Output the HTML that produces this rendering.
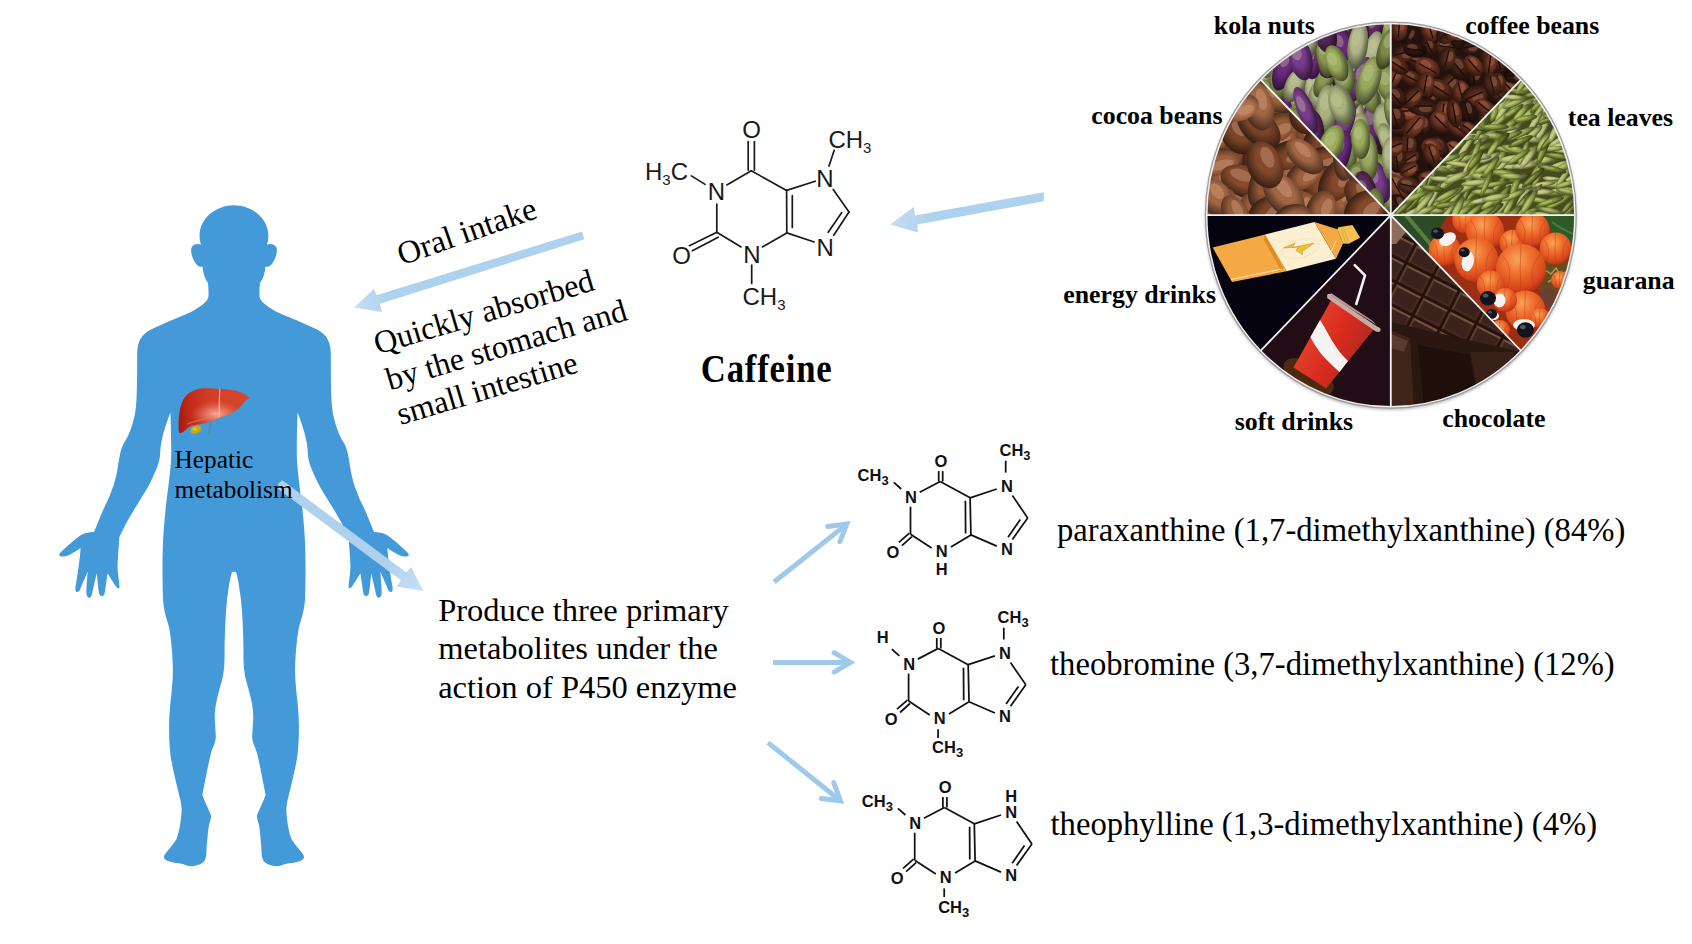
<!DOCTYPE html>
<html><head><meta charset="utf-8"><title>Caffeine metabolism</title>
<style>
html,body{margin:0;padding:0;background:#fff;}
body{width:1692px;height:944px;overflow:hidden;position:relative;}
svg text{font-family:"Liberation Serif",serif;}
.sans{font-family:"Liberation Sans",sans-serif !important;}
</style></head><body>

<svg width="1692" height="944" viewBox="0 0 1692 944" style="position:absolute;left:0;top:0">
<defs>
<linearGradient id="arrG" x1="0" y1="0" x2="1" y2="0"><stop offset="0" stop-color="#c4def3"/><stop offset="0.15" stop-color="#aed1ee"/><stop offset="1" stop-color="#aed1ee"/></linearGradient>
</defs>
<g fill="#449ad9"><path d="M 234.5 205.3
C 215 205.3, 200 219, 199.6 235
C 199.5 239, 200.2 242, 201 244.5
C 198 243.5, 193.5 243.5, 191.5 247.5
C 190 252, 193 261, 197 265
C 199 267, 201.5 267, 202.5 266.5
C 203 273, 205 279, 208 283
C 208.5 288, 208.8 294, 208.3 297.5
C 207 302, 200 307, 192 311.6
C 178 318, 162 324, 150 330
C 141 335, 137.5 342, 137.2 353
C 137 375, 137.5 400, 135 414
C 132 428, 128 437, 124 443
C 120 450, 119 460, 118 466
C 116 480, 112 492, 104 508
C 100 517, 97 525, 94 532
C 90 532.5, 85 532.5, 81 535
C 74 540, 65 548, 60 553
C 58 555.5, 60 557, 64 556.5
C 70 555.5, 76 551, 80.6 548
C 80 558, 78 572, 76 584
C 75 588, 75 592, 77 592.1
C 79 592, 80 590, 81 587
L 87.8 571.4
C 87 580, 86 589, 86.5 594
C 87 598, 90 599, 91.4 596
C 93 590, 95 580, 96.8 573.2
C 97.5 580, 98 588, 99 593
C 100 597, 103 597, 104.5 594
C 105.5 588, 106.5 580, 107.6 573.2
C 110 577, 113.5 583, 116 586.5
C 117.5 588.5, 119.5 589, 119.5 587
C 119 580, 117.5 572, 117.5 566
C 118 555, 119 545, 119.3 537.2
C 124 527, 130 516, 137 505
C 143 495, 149 486, 152 479
C 156 470, 159.5 463, 160 455
C 160.5 448, 161 443, 162 439
C 164 430, 167.5 420, 170.4 412.5
C 171 430, 171.5 450, 171 460
C 170.5 470, 168 490, 166 505
C 164.5 520, 163 535, 162.8 548
C 162.2 565, 162.5 585, 163 600
C 164 612, 167 620, 169 627
C 171.5 640, 173 660, 172.9 672.5
C 172.8 680, 172 687, 171.5 693
C 170 705, 169 718, 169.1 728
C 169 740, 170 752, 171 758.6
C 174 775, 178 790, 180.5 800.5
C 181.5 806, 182 811, 181.4 814
C 180.5 825, 179 832, 176.7 838.7
C 173 845, 168 850, 165.2 854
C 163.5 856, 163.5 858.5, 166 860
C 169 862, 175 863, 180.5 863.4
C 185 864, 188 866.5, 192 866.3
C 196 866, 200 864.5, 203 862.5
C 206 860, 206.5 855, 206.5 850
C 207 842, 208 830, 209 825
C 210 821, 211.5 818, 211 815.5
C 209 810, 204 800, 202.4 794.8
C 205 782, 208 765, 211 753
C 213 747, 216 742, 215.8 736
C 215.5 728, 214.5 720, 214.8 715
C 215 710, 215.5 707, 216 704
C 217 698, 218.5 693, 219.5 689
C 222.5 680, 224.5 670, 224.5 660
C 224.5 640, 225 620, 227 600
C 228.5 588, 230 578, 232 572
L 234.5 571.5 Z"/><path d="M 234.5 205.3
C 215 205.3, 200 219, 199.6 235
C 199.5 239, 200.2 242, 201 244.5
C 198 243.5, 193.5 243.5, 191.5 247.5
C 190 252, 193 261, 197 265
C 199 267, 201.5 267, 202.5 266.5
C 203 273, 205 279, 208 283
C 208.5 288, 208.8 294, 208.3 297.5
C 207 302, 200 307, 192 311.6
C 178 318, 162 324, 150 330
C 141 335, 137.5 342, 137.2 353
C 137 375, 137.5 400, 135 414
C 132 428, 128 437, 124 443
C 120 450, 119 460, 118 466
C 116 480, 112 492, 104 508
C 100 517, 97 525, 94 532
C 90 532.5, 85 532.5, 81 535
C 74 540, 65 548, 60 553
C 58 555.5, 60 557, 64 556.5
C 70 555.5, 76 551, 80.6 548
C 80 558, 78 572, 76 584
C 75 588, 75 592, 77 592.1
C 79 592, 80 590, 81 587
L 87.8 571.4
C 87 580, 86 589, 86.5 594
C 87 598, 90 599, 91.4 596
C 93 590, 95 580, 96.8 573.2
C 97.5 580, 98 588, 99 593
C 100 597, 103 597, 104.5 594
C 105.5 588, 106.5 580, 107.6 573.2
C 110 577, 113.5 583, 116 586.5
C 117.5 588.5, 119.5 589, 119.5 587
C 119 580, 117.5 572, 117.5 566
C 118 555, 119 545, 119.3 537.2
C 124 527, 130 516, 137 505
C 143 495, 149 486, 152 479
C 156 470, 159.5 463, 160 455
C 160.5 448, 161 443, 162 439
C 164 430, 167.5 420, 170.4 412.5
C 171 430, 171.5 450, 171 460
C 170.5 470, 168 490, 166 505
C 164.5 520, 163 535, 162.8 548
C 162.2 565, 162.5 585, 163 600
C 164 612, 167 620, 169 627
C 171.5 640, 173 660, 172.9 672.5
C 172.8 680, 172 687, 171.5 693
C 170 705, 169 718, 169.1 728
C 169 740, 170 752, 171 758.6
C 174 775, 178 790, 180.5 800.5
C 181.5 806, 182 811, 181.4 814
C 180.5 825, 179 832, 176.7 838.7
C 173 845, 168 850, 165.2 854
C 163.5 856, 163.5 858.5, 166 860
C 169 862, 175 863, 180.5 863.4
C 185 864, 188 866.5, 192 866.3
C 196 866, 200 864.5, 203 862.5
C 206 860, 206.5 855, 206.5 850
C 207 842, 208 830, 209 825
C 210 821, 211.5 818, 211 815.5
C 209 810, 204 800, 202.4 794.8
C 205 782, 208 765, 211 753
C 213 747, 216 742, 215.8 736
C 215.5 728, 214.5 720, 214.8 715
C 215 710, 215.5 707, 216 704
C 217 698, 218.5 693, 219.5 689
C 222.5 680, 224.5 670, 224.5 660
C 224.5 640, 225 620, 227 600
C 228.5 588, 230 578, 232 572
L 234.5 571.5 Z" transform="translate(468,0) scale(-1,1)"/></g>
<defs>
<linearGradient id="livG" x1="178" y1="0" x2="250" y2="0" gradientUnits="userSpaceOnUse">
<stop offset="0" stop-color="#a8180c"/><stop offset="0.18" stop-color="#c42c1a"/><stop offset="0.5" stop-color="#d4412a"/><stop offset="1" stop-color="#d64628"/></linearGradient>
<radialGradient id="livH" cx="216" cy="414" r="17" gradientUnits="userSpaceOnUse" gradientTransform="translate(216 414) scale(1.5 0.8) translate(-216 -414)">
<stop offset="0" stop-color="#f8b0a0" stop-opacity="0.95"/><stop offset="0.5" stop-color="#ee8a74" stop-opacity="0.55"/><stop offset="1" stop-color="#e06850" stop-opacity="0"/></radialGradient>
</defs>
<g>
<ellipse cx="195.8" cy="429.6" rx="5.8" ry="4" transform="rotate(-25 195.8 429.6)" fill="#c4a808"/>
<ellipse cx="194.8" cy="429" rx="2.5" ry="1.8" fill="#e8d040" opacity="0.7"/>
<path d="M179 432.8 C178 424 178.5 410 183 400 C187 393 194 389.5 202 388.3 C210 387.8 226 389 234 390.3 C240 391.5 246 394.5 249.5 398.1 C248.5 399.5 247 400 246.3 399.7 C243 404 240 407.5 236.8 409.9 C231 413.5 226 415.5 221 417.5 C214 420 210 421.5 205 423.2 C199 424.5 194 425 191 425.8 C188 427.5 186 430 183 432 C181.5 433 180 433.2 179 432.8 Z" fill="url(#livG)"/>
<path d="M179 432.8 C178 424 178.5 410 183 400 C187 393 194 389.5 202 388.3 C210 387.8 226 389 234 390.3 C240 391.5 246 394.5 249.5 398.1 C248.5 399.5 247 400 246.3 399.7 C243 404 240 407.5 236.8 409.9 C231 413.5 226 415.5 221 417.5 C214 420 210 421.5 205 423.2 C199 424.5 194 425 191 425.8 C188 427.5 186 430 183 432 C181.5 433 180 433.2 179 432.8 Z" fill="url(#livH)"/>
<path d="M187 424 C195 421 205 419 214 416" stroke="#e87a5a" stroke-width="1.2" fill="none" opacity="0.6"/>
<line x1="219.6" y1="389.3" x2="219.2" y2="417.2" stroke="#e6c4bc" stroke-width="1.1"/>
<path d="M211.3 421.5 C210.5 426 209.5 430 208.3 434" stroke="#708060" stroke-width="0.9" fill="none"/>
</g>
<defs><linearGradient id="gA1" x1="890" y1="226" x2="930" y2="219" gradientUnits="userSpaceOnUse"><stop offset="0" stop-color="#c4ddf2"/><stop offset="1" stop-color="#aed1ee"/></linearGradient><linearGradient id="gA2" x1="356" y1="308" x2="392" y2="296" gradientUnits="userSpaceOnUse"><stop offset="0" stop-color="#c4ddf2"/><stop offset="1" stop-color="#aed1ee"/></linearGradient><linearGradient id="gA3" x1="420" y1="589" x2="385" y2="563" gradientUnits="userSpaceOnUse"><stop offset="0" stop-color="#c6dff3"/><stop offset="1" stop-color="#afd1ee"/></linearGradient></defs>
<polygon fill="url(#gA1)" points="1043.8,192.2 1043.8,201.3 917.3,224.4 917.9,232.6 890.1,224.6 913.7,206.9 914.9,215.5"/>
<polygon fill="url(#gA2)" points="582,231.5 584.3,239.2 380,303.7 381.8,311.9 354.1,307.6 374.1,288.8 376.6,295.3"/>
<polygon fill="url(#gA3)" points="282.4,480.3 406.4,572.6 411.2,567.1 423.2,591 396.7,586.4 400.9,580.2 277.5,488.5 278.5,483.5"/>
<g stroke="#9ec9eb" stroke-width="5" fill="none">
<line x1="774.1" y1="582" x2="846.8" y2="524.1"/><polyline points="827.9,526.6 846.8,524.1 839.9,541.7" stroke-linecap="round" stroke-linejoin="miter"/>
<line x1="773" y1="662.4" x2="850.5" y2="662.4"/><polyline points="834.1,652.7 850.5,662.4 834.1,672.1" stroke-linecap="round" stroke-linejoin="miter"/>
<line x1="768" y1="742.6" x2="840.4" y2="800.8"/><polyline points="833.8,782.7 840.4,800.8 821.2,798.4" stroke-linecap="round" stroke-linejoin="miter"/>
</g>
<defs>
<clipPath id="cp_coffee"><path d="M1390.8,215.2 L1390.80,23.50 A184.1,191.7 0 0 1 1520.98,79.65 Z"/></clipPath>
<clipPath id="cp_tea"><path d="M1390.8,215.2 L1520.98,79.65 A184.1,191.7 0 0 1 1574.90,215.20 Z"/></clipPath>
<clipPath id="cp_guarana"><path d="M1390.8,215.2 L1574.90,215.20 A184.1,191.7 0 0 1 1520.98,350.75 Z"/></clipPath>
<clipPath id="cp_choc"><path d="M1390.8,215.2 L1520.98,350.75 A184.1,191.7 0 0 1 1390.80,406.90 Z"/></clipPath>
<clipPath id="cp_soft"><path d="M1390.8,215.2 L1390.80,406.90 A184.1,191.7 0 0 1 1260.62,350.75 Z"/></clipPath>
<clipPath id="cp_energy"><path d="M1390.8,215.2 L1260.62,350.75 A184.1,191.7 0 0 1 1206.70,215.20 Z"/></clipPath>
<clipPath id="cp_cocoa"><path d="M1390.8,215.2 L1206.70,215.20 A184.1,191.7 0 0 1 1260.62,79.65 Z"/></clipPath>
<clipPath id="cp_kola"><path d="M1390.8,215.2 L1260.62,79.65 A184.1,191.7 0 0 1 1390.80,23.50 Z"/></clipPath>
<radialGradient id="shadeG" cx="0.42" cy="0.4" r="0.6"><stop offset="0.45" stop-color="#000" stop-opacity="0"/><stop offset="1" stop-color="#000" stop-opacity="0.55"/></radialGradient>
<filter id="pshadow" x="-10%" y="-10%" width="120%" height="120%"><feGaussianBlur stdDeviation="1.5"/></filter>
</defs>
<ellipse cx="1390.8" cy="216.7" rx="185.6" ry="193.2" fill="#bdbdbd" filter="url(#pshadow)"/>
<g clip-path="url(#cp_coffee)">
<rect x="1385.8" y="18.5" width="194.1" height="201.7" fill="#24120c"/>
<ellipse cx="1455.1" cy="148.9" rx="9.8" ry="7.4" transform="rotate(35 1455.1 148.9)" fill="#7a3e28"/>
<ellipse cx="1455.1" cy="148.9" rx="9.8" ry="7.4" transform="rotate(35 1455.1 148.9)" fill="url(#shadeG)"/>
<ellipse cx="1452.7" cy="146.7" rx="4.4" ry="2.6" transform="rotate(35 1455.1 148.9)" fill="#c08060" opacity="0.35"/>
<line x1="1447.7" y1="148.9" x2="1462.5" y2="148.9" transform="rotate(35 1455.1 148.9)" stroke="#1c0c06" stroke-width="1.3"/>
<ellipse cx="1417.4" cy="62.1" rx="10.3" ry="8.5" transform="rotate(21 1417.4 62.1)" fill="#3e1e14"/>
<ellipse cx="1417.4" cy="62.1" rx="10.3" ry="8.5" transform="rotate(21 1417.4 62.1)" fill="url(#shadeG)"/>
<ellipse cx="1414.8" cy="59.5" rx="4.6" ry="3.0" transform="rotate(21 1417.4 62.1)" fill="#c08060" opacity="0.35"/>
<line x1="1409.7" y1="62.1" x2="1425.1" y2="62.1" transform="rotate(21 1417.4 62.1)" stroke="#1c0c06" stroke-width="1.3"/>
<ellipse cx="1396.1" cy="177.0" rx="10.5" ry="8.5" transform="rotate(33 1396.1 177.0)" fill="#7a3e28"/>
<ellipse cx="1396.1" cy="177.0" rx="10.5" ry="8.5" transform="rotate(33 1396.1 177.0)" fill="url(#shadeG)"/>
<ellipse cx="1393.5" cy="174.5" rx="4.7" ry="3.0" transform="rotate(33 1396.1 177.0)" fill="#c08060" opacity="0.35"/>
<line x1="1388.2" y1="177.0" x2="1404.0" y2="177.0" transform="rotate(33 1396.1 177.0)" stroke="#1c0c06" stroke-width="1.3"/>
<ellipse cx="1437.8" cy="197.4" rx="10.4" ry="9.5" transform="rotate(143 1437.8 197.4)" fill="#5a2a1a"/>
<ellipse cx="1437.8" cy="197.4" rx="10.4" ry="9.5" transform="rotate(143 1437.8 197.4)" fill="url(#shadeG)"/>
<ellipse cx="1435.2" cy="194.5" rx="4.7" ry="3.3" transform="rotate(143 1437.8 197.4)" fill="#c08060" opacity="0.35"/>
<line x1="1430.0" y1="197.4" x2="1445.6" y2="197.4" transform="rotate(143 1437.8 197.4)" stroke="#1c0c06" stroke-width="1.3"/>
<ellipse cx="1481.3" cy="94.3" rx="10.5" ry="6.8" transform="rotate(103 1481.3 94.3)" fill="#3e1e14"/>
<ellipse cx="1481.3" cy="94.3" rx="10.5" ry="6.8" transform="rotate(103 1481.3 94.3)" fill="url(#shadeG)"/>
<ellipse cx="1478.7" cy="92.2" rx="4.7" ry="2.4" transform="rotate(103 1481.3 94.3)" fill="#c08060" opacity="0.35"/>
<line x1="1473.5" y1="94.3" x2="1489.2" y2="94.3" transform="rotate(103 1481.3 94.3)" stroke="#1c0c06" stroke-width="1.3"/>
<ellipse cx="1447.0" cy="46.8" rx="10.9" ry="10.0" transform="rotate(7 1447.0 46.8)" fill="#4e2a1c"/>
<ellipse cx="1447.0" cy="46.8" rx="10.9" ry="10.0" transform="rotate(7 1447.0 46.8)" fill="url(#shadeG)"/>
<ellipse cx="1444.3" cy="43.8" rx="4.9" ry="3.5" transform="rotate(7 1447.0 46.8)" fill="#c08060" opacity="0.35"/>
<line x1="1438.8" y1="46.8" x2="1455.1" y2="46.8" transform="rotate(7 1447.0 46.8)" stroke="#1c0c06" stroke-width="1.3"/>
<ellipse cx="1427.6" cy="68.2" rx="13.1" ry="9.9" transform="rotate(29 1427.6 68.2)" fill="#6e3422"/>
<ellipse cx="1427.6" cy="68.2" rx="13.1" ry="9.9" transform="rotate(29 1427.6 68.2)" fill="url(#shadeG)"/>
<ellipse cx="1424.3" cy="65.3" rx="5.9" ry="3.5" transform="rotate(29 1427.6 68.2)" fill="#c08060" opacity="0.35"/>
<line x1="1417.8" y1="68.2" x2="1437.4" y2="68.2" transform="rotate(29 1427.6 68.2)" stroke="#1c0c06" stroke-width="1.3"/>
<ellipse cx="1408.3" cy="35.6" rx="10.6" ry="7.3" transform="rotate(115 1408.3 35.6)" fill="#2e1610"/>
<ellipse cx="1408.3" cy="35.6" rx="10.6" ry="7.3" transform="rotate(115 1408.3 35.6)" fill="url(#shadeG)"/>
<ellipse cx="1405.7" cy="33.4" rx="4.7" ry="2.6" transform="rotate(115 1408.3 35.6)" fill="#c08060" opacity="0.35"/>
<line x1="1400.4" y1="35.6" x2="1416.2" y2="35.6" transform="rotate(115 1408.3 35.6)" stroke="#1c0c06" stroke-width="1.3"/>
<ellipse cx="1397.0" cy="187.5" rx="14.1" ry="9.7" transform="rotate(60 1397.0 187.5)" fill="#7a3e28"/>
<ellipse cx="1397.0" cy="187.5" rx="14.1" ry="9.7" transform="rotate(60 1397.0 187.5)" fill="url(#shadeG)"/>
<ellipse cx="1393.5" cy="184.6" rx="6.3" ry="3.4" transform="rotate(60 1397.0 187.5)" fill="#c08060" opacity="0.35"/>
<line x1="1386.4" y1="187.5" x2="1407.6" y2="187.5" transform="rotate(60 1397.0 187.5)" stroke="#1c0c06" stroke-width="1.3"/>
<ellipse cx="1439.7" cy="147.5" rx="12.4" ry="7.8" transform="rotate(57 1439.7 147.5)" fill="#3e1e14"/>
<ellipse cx="1439.7" cy="147.5" rx="12.4" ry="7.8" transform="rotate(57 1439.7 147.5)" fill="url(#shadeG)"/>
<ellipse cx="1436.7" cy="145.1" rx="5.6" ry="2.7" transform="rotate(57 1439.7 147.5)" fill="#c08060" opacity="0.35"/>
<line x1="1430.5" y1="147.5" x2="1449.0" y2="147.5" transform="rotate(57 1439.7 147.5)" stroke="#1c0c06" stroke-width="1.3"/>
<ellipse cx="1407.3" cy="145.9" rx="11.6" ry="9.5" transform="rotate(93 1407.3 145.9)" fill="#4e2a1c"/>
<ellipse cx="1407.3" cy="145.9" rx="11.6" ry="9.5" transform="rotate(93 1407.3 145.9)" fill="url(#shadeG)"/>
<ellipse cx="1404.4" cy="143.1" rx="5.2" ry="3.3" transform="rotate(93 1407.3 145.9)" fill="#c08060" opacity="0.35"/>
<line x1="1398.5" y1="145.9" x2="1416.0" y2="145.9" transform="rotate(93 1407.3 145.9)" stroke="#1c0c06" stroke-width="1.3"/>
<ellipse cx="1469.4" cy="169.4" rx="13.0" ry="6.8" transform="rotate(165 1469.4 169.4)" fill="#5a2a1a"/>
<ellipse cx="1469.4" cy="169.4" rx="13.0" ry="6.8" transform="rotate(165 1469.4 169.4)" fill="url(#shadeG)"/>
<ellipse cx="1466.2" cy="167.3" rx="5.9" ry="2.4" transform="rotate(165 1469.4 169.4)" fill="#c08060" opacity="0.35"/>
<line x1="1459.6" y1="169.4" x2="1479.2" y2="169.4" transform="rotate(165 1469.4 169.4)" stroke="#1c0c06" stroke-width="1.3"/>
<ellipse cx="1442.9" cy="113.8" rx="13.6" ry="9.5" transform="rotate(95 1442.9 113.8)" fill="#6e3422"/>
<ellipse cx="1442.9" cy="113.8" rx="13.6" ry="9.5" transform="rotate(95 1442.9 113.8)" fill="url(#shadeG)"/>
<ellipse cx="1439.5" cy="110.9" rx="6.1" ry="3.3" transform="rotate(95 1442.9 113.8)" fill="#c08060" opacity="0.35"/>
<line x1="1432.8" y1="113.8" x2="1453.1" y2="113.8" transform="rotate(95 1442.9 113.8)" stroke="#1c0c06" stroke-width="1.3"/>
<ellipse cx="1440.6" cy="121.7" rx="11.7" ry="9.9" transform="rotate(45 1440.6 121.7)" fill="#6e3422"/>
<ellipse cx="1440.6" cy="121.7" rx="11.7" ry="9.9" transform="rotate(45 1440.6 121.7)" fill="url(#shadeG)"/>
<ellipse cx="1437.7" cy="118.7" rx="5.3" ry="3.5" transform="rotate(45 1440.6 121.7)" fill="#c08060" opacity="0.35"/>
<line x1="1431.8" y1="121.7" x2="1449.4" y2="121.7" transform="rotate(45 1440.6 121.7)" stroke="#1c0c06" stroke-width="1.3"/>
<ellipse cx="1461.7" cy="174.0" rx="10.0" ry="9.9" transform="rotate(23 1461.7 174.0)" fill="#64301e"/>
<ellipse cx="1461.7" cy="174.0" rx="10.0" ry="9.9" transform="rotate(23 1461.7 174.0)" fill="url(#shadeG)"/>
<ellipse cx="1459.2" cy="171.0" rx="4.5" ry="3.5" transform="rotate(23 1461.7 174.0)" fill="#c08060" opacity="0.35"/>
<line x1="1454.2" y1="174.0" x2="1469.2" y2="174.0" transform="rotate(23 1461.7 174.0)" stroke="#1c0c06" stroke-width="1.3"/>
<ellipse cx="1423.4" cy="203.1" rx="13.8" ry="6.8" transform="rotate(157 1423.4 203.1)" fill="#6e3422"/>
<ellipse cx="1423.4" cy="203.1" rx="13.8" ry="6.8" transform="rotate(157 1423.4 203.1)" fill="url(#shadeG)"/>
<ellipse cx="1419.9" cy="201.1" rx="6.2" ry="2.4" transform="rotate(157 1423.4 203.1)" fill="#c08060" opacity="0.35"/>
<line x1="1413.0" y1="203.1" x2="1433.7" y2="203.1" transform="rotate(157 1423.4 203.1)" stroke="#1c0c06" stroke-width="1.3"/>
<ellipse cx="1527.1" cy="194.8" rx="12.0" ry="9.3" transform="rotate(111 1527.1 194.8)" fill="#5a2a1a"/>
<ellipse cx="1527.1" cy="194.8" rx="12.0" ry="9.3" transform="rotate(111 1527.1 194.8)" fill="url(#shadeG)"/>
<ellipse cx="1524.1" cy="192.0" rx="5.4" ry="3.3" transform="rotate(111 1527.1 194.8)" fill="#c08060" opacity="0.35"/>
<line x1="1518.1" y1="194.8" x2="1536.1" y2="194.8" transform="rotate(111 1527.1 194.8)" stroke="#1c0c06" stroke-width="1.3"/>
<ellipse cx="1403.6" cy="52.9" rx="12.6" ry="8.9" transform="rotate(166 1403.6 52.9)" fill="#4e2a1c"/>
<ellipse cx="1403.6" cy="52.9" rx="12.6" ry="8.9" transform="rotate(166 1403.6 52.9)" fill="url(#shadeG)"/>
<ellipse cx="1400.5" cy="50.2" rx="5.6" ry="3.1" transform="rotate(166 1403.6 52.9)" fill="#c08060" opacity="0.35"/>
<line x1="1394.2" y1="52.9" x2="1413.1" y2="52.9" transform="rotate(166 1403.6 52.9)" stroke="#1c0c06" stroke-width="1.3"/>
<ellipse cx="1471.0" cy="158.7" rx="13.4" ry="8.7" transform="rotate(32 1471.0 158.7)" fill="#4e2a1c"/>
<ellipse cx="1471.0" cy="158.7" rx="13.4" ry="8.7" transform="rotate(32 1471.0 158.7)" fill="url(#shadeG)"/>
<ellipse cx="1467.7" cy="156.1" rx="6.0" ry="3.0" transform="rotate(32 1471.0 158.7)" fill="#c08060" opacity="0.35"/>
<line x1="1461.0" y1="158.7" x2="1481.1" y2="158.7" transform="rotate(32 1471.0 158.7)" stroke="#1c0c06" stroke-width="1.3"/>
<ellipse cx="1407.1" cy="160.1" rx="13.4" ry="7.4" transform="rotate(148 1407.1 160.1)" fill="#5a2a1a"/>
<ellipse cx="1407.1" cy="160.1" rx="13.4" ry="7.4" transform="rotate(148 1407.1 160.1)" fill="url(#shadeG)"/>
<ellipse cx="1403.8" cy="157.9" rx="6.0" ry="2.6" transform="rotate(148 1407.1 160.1)" fill="#c08060" opacity="0.35"/>
<line x1="1397.1" y1="160.1" x2="1417.1" y2="160.1" transform="rotate(148 1407.1 160.1)" stroke="#1c0c06" stroke-width="1.3"/>
<ellipse cx="1489.4" cy="147.9" rx="14.4" ry="8.5" transform="rotate(69 1489.4 147.9)" fill="#64301e"/>
<ellipse cx="1489.4" cy="147.9" rx="14.4" ry="8.5" transform="rotate(69 1489.4 147.9)" fill="url(#shadeG)"/>
<ellipse cx="1485.8" cy="145.3" rx="6.5" ry="3.0" transform="rotate(69 1489.4 147.9)" fill="#c08060" opacity="0.35"/>
<line x1="1478.6" y1="147.9" x2="1500.2" y2="147.9" transform="rotate(69 1489.4 147.9)" stroke="#1c0c06" stroke-width="1.3"/>
<ellipse cx="1526.6" cy="52.0" rx="13.7" ry="9.2" transform="rotate(156 1526.6 52.0)" fill="#7a3e28"/>
<ellipse cx="1526.6" cy="52.0" rx="13.7" ry="9.2" transform="rotate(156 1526.6 52.0)" fill="url(#shadeG)"/>
<ellipse cx="1523.2" cy="49.2" rx="6.2" ry="3.2" transform="rotate(156 1526.6 52.0)" fill="#c08060" opacity="0.35"/>
<line x1="1516.3" y1="52.0" x2="1536.9" y2="52.0" transform="rotate(156 1526.6 52.0)" stroke="#1c0c06" stroke-width="1.3"/>
<ellipse cx="1489.0" cy="53.2" rx="10.7" ry="8.0" transform="rotate(126 1489.0 53.2)" fill="#5a2a1a"/>
<ellipse cx="1489.0" cy="53.2" rx="10.7" ry="8.0" transform="rotate(126 1489.0 53.2)" fill="url(#shadeG)"/>
<ellipse cx="1486.3" cy="50.8" rx="4.8" ry="2.8" transform="rotate(126 1489.0 53.2)" fill="#c08060" opacity="0.35"/>
<line x1="1481.0" y1="53.2" x2="1497.0" y2="53.2" transform="rotate(126 1489.0 53.2)" stroke="#1c0c06" stroke-width="1.3"/>
<ellipse cx="1533.8" cy="178.5" rx="13.2" ry="9.0" transform="rotate(89 1533.8 178.5)" fill="#6e3422"/>
<ellipse cx="1533.8" cy="178.5" rx="13.2" ry="9.0" transform="rotate(89 1533.8 178.5)" fill="url(#shadeG)"/>
<ellipse cx="1530.4" cy="175.8" rx="6.0" ry="3.1" transform="rotate(89 1533.8 178.5)" fill="#c08060" opacity="0.35"/>
<line x1="1523.8" y1="178.5" x2="1543.7" y2="178.5" transform="rotate(89 1533.8 178.5)" stroke="#1c0c06" stroke-width="1.3"/>
<ellipse cx="1488.5" cy="28.5" rx="11.7" ry="7.0" transform="rotate(56 1488.5 28.5)" fill="#4e2a1c"/>
<ellipse cx="1488.5" cy="28.5" rx="11.7" ry="7.0" transform="rotate(56 1488.5 28.5)" fill="url(#shadeG)"/>
<ellipse cx="1485.6" cy="26.4" rx="5.3" ry="2.5" transform="rotate(56 1488.5 28.5)" fill="#c08060" opacity="0.35"/>
<line x1="1479.7" y1="28.5" x2="1497.3" y2="28.5" transform="rotate(56 1488.5 28.5)" stroke="#1c0c06" stroke-width="1.3"/>
<ellipse cx="1498.5" cy="60.1" rx="13.0" ry="6.9" transform="rotate(79 1498.5 60.1)" fill="#4e2a1c"/>
<ellipse cx="1498.5" cy="60.1" rx="13.0" ry="6.9" transform="rotate(79 1498.5 60.1)" fill="url(#shadeG)"/>
<ellipse cx="1495.3" cy="58.0" rx="5.8" ry="2.4" transform="rotate(79 1498.5 60.1)" fill="#c08060" opacity="0.35"/>
<line x1="1488.8" y1="60.1" x2="1508.2" y2="60.1" transform="rotate(79 1498.5 60.1)" stroke="#1c0c06" stroke-width="1.3"/>
<ellipse cx="1429.4" cy="47.1" rx="9.8" ry="7.0" transform="rotate(63 1429.4 47.1)" fill="#3e1e14"/>
<ellipse cx="1429.4" cy="47.1" rx="9.8" ry="7.0" transform="rotate(63 1429.4 47.1)" fill="url(#shadeG)"/>
<ellipse cx="1427.0" cy="45.0" rx="4.4" ry="2.5" transform="rotate(63 1429.4 47.1)" fill="#c08060" opacity="0.35"/>
<line x1="1422.1" y1="47.1" x2="1436.8" y2="47.1" transform="rotate(63 1429.4 47.1)" stroke="#1c0c06" stroke-width="1.3"/>
<ellipse cx="1503.2" cy="148.4" rx="14.2" ry="7.0" transform="rotate(103 1503.2 148.4)" fill="#64301e"/>
<ellipse cx="1503.2" cy="148.4" rx="14.2" ry="7.0" transform="rotate(103 1503.2 148.4)" fill="url(#shadeG)"/>
<ellipse cx="1499.6" cy="146.3" rx="6.4" ry="2.4" transform="rotate(103 1503.2 148.4)" fill="#c08060" opacity="0.35"/>
<line x1="1492.5" y1="148.4" x2="1513.9" y2="148.4" transform="rotate(103 1503.2 148.4)" stroke="#1c0c06" stroke-width="1.3"/>
<ellipse cx="1497.6" cy="175.5" rx="11.4" ry="7.6" transform="rotate(147 1497.6 175.5)" fill="#64301e"/>
<ellipse cx="1497.6" cy="175.5" rx="11.4" ry="7.6" transform="rotate(147 1497.6 175.5)" fill="url(#shadeG)"/>
<ellipse cx="1494.7" cy="173.2" rx="5.1" ry="2.6" transform="rotate(147 1497.6 175.5)" fill="#c08060" opacity="0.35"/>
<line x1="1489.0" y1="175.5" x2="1506.2" y2="175.5" transform="rotate(147 1497.6 175.5)" stroke="#1c0c06" stroke-width="1.3"/>
<ellipse cx="1457.7" cy="127.8" rx="13.6" ry="7.5" transform="rotate(39 1457.7 127.8)" fill="#6e3422"/>
<ellipse cx="1457.7" cy="127.8" rx="13.6" ry="7.5" transform="rotate(39 1457.7 127.8)" fill="url(#shadeG)"/>
<ellipse cx="1454.3" cy="125.5" rx="6.1" ry="2.6" transform="rotate(39 1457.7 127.8)" fill="#c08060" opacity="0.35"/>
<line x1="1447.5" y1="127.8" x2="1467.9" y2="127.8" transform="rotate(39 1457.7 127.8)" stroke="#1c0c06" stroke-width="1.3"/>
<ellipse cx="1474.0" cy="77.7" rx="11.0" ry="9.5" transform="rotate(93 1474.0 77.7)" fill="#2e1610"/>
<ellipse cx="1474.0" cy="77.7" rx="11.0" ry="9.5" transform="rotate(93 1474.0 77.7)" fill="url(#shadeG)"/>
<ellipse cx="1471.3" cy="74.8" rx="4.9" ry="3.3" transform="rotate(93 1474.0 77.7)" fill="#c08060" opacity="0.35"/>
<line x1="1465.8" y1="77.7" x2="1482.2" y2="77.7" transform="rotate(93 1474.0 77.7)" stroke="#1c0c06" stroke-width="1.3"/>
<ellipse cx="1456.6" cy="80.3" rx="13.0" ry="8.0" transform="rotate(18 1456.6 80.3)" fill="#2e1610"/>
<ellipse cx="1456.6" cy="80.3" rx="13.0" ry="8.0" transform="rotate(18 1456.6 80.3)" fill="url(#shadeG)"/>
<ellipse cx="1453.3" cy="77.9" rx="5.9" ry="2.8" transform="rotate(18 1456.6 80.3)" fill="#c08060" opacity="0.35"/>
<line x1="1446.8" y1="80.3" x2="1466.3" y2="80.3" transform="rotate(18 1456.6 80.3)" stroke="#1c0c06" stroke-width="1.3"/>
<ellipse cx="1501.4" cy="203.7" rx="10.5" ry="8.2" transform="rotate(5 1501.4 203.7)" fill="#3e1e14"/>
<ellipse cx="1501.4" cy="203.7" rx="10.5" ry="8.2" transform="rotate(5 1501.4 203.7)" fill="url(#shadeG)"/>
<ellipse cx="1498.8" cy="201.3" rx="4.7" ry="2.9" transform="rotate(5 1501.4 203.7)" fill="#c08060" opacity="0.35"/>
<line x1="1493.5" y1="203.7" x2="1509.3" y2="203.7" transform="rotate(5 1501.4 203.7)" stroke="#1c0c06" stroke-width="1.3"/>
<ellipse cx="1466.5" cy="197.5" rx="11.4" ry="7.9" transform="rotate(107 1466.5 197.5)" fill="#6e3422"/>
<ellipse cx="1466.5" cy="197.5" rx="11.4" ry="7.9" transform="rotate(107 1466.5 197.5)" fill="url(#shadeG)"/>
<ellipse cx="1463.6" cy="195.2" rx="5.1" ry="2.8" transform="rotate(107 1466.5 197.5)" fill="#c08060" opacity="0.35"/>
<line x1="1458.0" y1="197.5" x2="1475.0" y2="197.5" transform="rotate(107 1466.5 197.5)" stroke="#1c0c06" stroke-width="1.3"/>
<ellipse cx="1460.7" cy="92.0" rx="12.0" ry="9.5" transform="rotate(75 1460.7 92.0)" fill="#6e3422"/>
<ellipse cx="1460.7" cy="92.0" rx="12.0" ry="9.5" transform="rotate(75 1460.7 92.0)" fill="url(#shadeG)"/>
<ellipse cx="1457.7" cy="89.2" rx="5.4" ry="3.3" transform="rotate(75 1460.7 92.0)" fill="#c08060" opacity="0.35"/>
<line x1="1451.6" y1="92.0" x2="1469.7" y2="92.0" transform="rotate(75 1460.7 92.0)" stroke="#1c0c06" stroke-width="1.3"/>
<ellipse cx="1474.6" cy="140.0" rx="9.9" ry="7.8" transform="rotate(78 1474.6 140.0)" fill="#64301e"/>
<ellipse cx="1474.6" cy="140.0" rx="9.9" ry="7.8" transform="rotate(78 1474.6 140.0)" fill="url(#shadeG)"/>
<ellipse cx="1472.1" cy="137.6" rx="4.5" ry="2.7" transform="rotate(78 1474.6 140.0)" fill="#c08060" opacity="0.35"/>
<line x1="1467.1" y1="140.0" x2="1482.0" y2="140.0" transform="rotate(78 1474.6 140.0)" stroke="#1c0c06" stroke-width="1.3"/>
<ellipse cx="1535.4" cy="111.0" rx="13.3" ry="9.5" transform="rotate(35 1535.4 111.0)" fill="#5a2a1a"/>
<ellipse cx="1535.4" cy="111.0" rx="13.3" ry="9.5" transform="rotate(35 1535.4 111.0)" fill="url(#shadeG)"/>
<ellipse cx="1532.1" cy="108.1" rx="6.0" ry="3.3" transform="rotate(35 1535.4 111.0)" fill="#c08060" opacity="0.35"/>
<line x1="1525.5" y1="111.0" x2="1545.3" y2="111.0" transform="rotate(35 1535.4 111.0)" stroke="#1c0c06" stroke-width="1.3"/>
<ellipse cx="1497.6" cy="107.0" rx="13.8" ry="7.1" transform="rotate(175 1497.6 107.0)" fill="#2e1610"/>
<ellipse cx="1497.6" cy="107.0" rx="13.8" ry="7.1" transform="rotate(175 1497.6 107.0)" fill="url(#shadeG)"/>
<ellipse cx="1494.2" cy="104.9" rx="6.2" ry="2.5" transform="rotate(175 1497.6 107.0)" fill="#c08060" opacity="0.35"/>
<line x1="1487.3" y1="107.0" x2="1508.0" y2="107.0" transform="rotate(175 1497.6 107.0)" stroke="#1c0c06" stroke-width="1.3"/>
<ellipse cx="1525.2" cy="92.9" rx="11.3" ry="9.3" transform="rotate(49 1525.2 92.9)" fill="#6e3422"/>
<ellipse cx="1525.2" cy="92.9" rx="11.3" ry="9.3" transform="rotate(49 1525.2 92.9)" fill="url(#shadeG)"/>
<ellipse cx="1522.4" cy="90.1" rx="5.1" ry="3.3" transform="rotate(49 1525.2 92.9)" fill="#c08060" opacity="0.35"/>
<line x1="1516.8" y1="92.9" x2="1533.7" y2="92.9" transform="rotate(49 1525.2 92.9)" stroke="#1c0c06" stroke-width="1.3"/>
<ellipse cx="1467.3" cy="29.5" rx="12.1" ry="7.8" transform="rotate(126 1467.3 29.5)" fill="#2e1610"/>
<ellipse cx="1467.3" cy="29.5" rx="12.1" ry="7.8" transform="rotate(126 1467.3 29.5)" fill="url(#shadeG)"/>
<ellipse cx="1464.3" cy="27.1" rx="5.5" ry="2.7" transform="rotate(126 1467.3 29.5)" fill="#c08060" opacity="0.35"/>
<line x1="1458.2" y1="29.5" x2="1476.4" y2="29.5" transform="rotate(126 1467.3 29.5)" stroke="#1c0c06" stroke-width="1.3"/>
<ellipse cx="1430.3" cy="29.7" rx="11.8" ry="9.4" transform="rotate(72 1430.3 29.7)" fill="#7a3e28"/>
<ellipse cx="1430.3" cy="29.7" rx="11.8" ry="9.4" transform="rotate(72 1430.3 29.7)" fill="url(#shadeG)"/>
<ellipse cx="1427.4" cy="26.9" rx="5.3" ry="3.3" transform="rotate(72 1430.3 29.7)" fill="#c08060" opacity="0.35"/>
<line x1="1421.5" y1="29.7" x2="1439.2" y2="29.7" transform="rotate(72 1430.3 29.7)" stroke="#1c0c06" stroke-width="1.3"/>
<ellipse cx="1527.5" cy="207.5" rx="11.4" ry="9.2" transform="rotate(148 1527.5 207.5)" fill="#3e1e14"/>
<ellipse cx="1527.5" cy="207.5" rx="11.4" ry="9.2" transform="rotate(148 1527.5 207.5)" fill="url(#shadeG)"/>
<ellipse cx="1524.6" cy="204.8" rx="5.1" ry="3.2" transform="rotate(148 1527.5 207.5)" fill="#c08060" opacity="0.35"/>
<line x1="1518.9" y1="207.5" x2="1536.0" y2="207.5" transform="rotate(148 1527.5 207.5)" stroke="#1c0c06" stroke-width="1.3"/>
<ellipse cx="1429.9" cy="97.7" rx="9.9" ry="7.2" transform="rotate(131 1429.9 97.7)" fill="#3e1e14"/>
<ellipse cx="1429.9" cy="97.7" rx="9.9" ry="7.2" transform="rotate(131 1429.9 97.7)" fill="url(#shadeG)"/>
<ellipse cx="1427.4" cy="95.6" rx="4.5" ry="2.5" transform="rotate(131 1429.9 97.7)" fill="#c08060" opacity="0.35"/>
<line x1="1422.4" y1="97.7" x2="1437.3" y2="97.7" transform="rotate(131 1429.9 97.7)" stroke="#1c0c06" stroke-width="1.3"/>
<ellipse cx="1489.8" cy="63.0" rx="13.3" ry="7.1" transform="rotate(98 1489.8 63.0)" fill="#6e3422"/>
<ellipse cx="1489.8" cy="63.0" rx="13.3" ry="7.1" transform="rotate(98 1489.8 63.0)" fill="url(#shadeG)"/>
<ellipse cx="1486.4" cy="60.9" rx="6.0" ry="2.5" transform="rotate(98 1489.8 63.0)" fill="#c08060" opacity="0.35"/>
<line x1="1479.8" y1="63.0" x2="1499.7" y2="63.0" transform="rotate(98 1489.8 63.0)" stroke="#1c0c06" stroke-width="1.3"/>
<ellipse cx="1411.5" cy="78.4" rx="10.7" ry="7.3" transform="rotate(28 1411.5 78.4)" fill="#5a2a1a"/>
<ellipse cx="1411.5" cy="78.4" rx="10.7" ry="7.3" transform="rotate(28 1411.5 78.4)" fill="url(#shadeG)"/>
<ellipse cx="1408.8" cy="76.2" rx="4.8" ry="2.6" transform="rotate(28 1411.5 78.4)" fill="#c08060" opacity="0.35"/>
<line x1="1403.5" y1="78.4" x2="1419.5" y2="78.4" transform="rotate(28 1411.5 78.4)" stroke="#1c0c06" stroke-width="1.3"/>
<ellipse cx="1422.1" cy="125.4" rx="10.4" ry="8.6" transform="rotate(94 1422.1 125.4)" fill="#3e1e14"/>
<ellipse cx="1422.1" cy="125.4" rx="10.4" ry="8.6" transform="rotate(94 1422.1 125.4)" fill="url(#shadeG)"/>
<ellipse cx="1419.5" cy="122.8" rx="4.7" ry="3.0" transform="rotate(94 1422.1 125.4)" fill="#c08060" opacity="0.35"/>
<line x1="1414.3" y1="125.4" x2="1429.9" y2="125.4" transform="rotate(94 1422.1 125.4)" stroke="#1c0c06" stroke-width="1.3"/>
<ellipse cx="1474.6" cy="206.4" rx="11.4" ry="9.9" transform="rotate(34 1474.6 206.4)" fill="#64301e"/>
<ellipse cx="1474.6" cy="206.4" rx="11.4" ry="9.9" transform="rotate(34 1474.6 206.4)" fill="url(#shadeG)"/>
<ellipse cx="1471.8" cy="203.5" rx="5.1" ry="3.5" transform="rotate(34 1474.6 206.4)" fill="#c08060" opacity="0.35"/>
<line x1="1466.1" y1="206.4" x2="1483.2" y2="206.4" transform="rotate(34 1474.6 206.4)" stroke="#1c0c06" stroke-width="1.3"/>
<ellipse cx="1396.6" cy="158.9" rx="13.9" ry="9.7" transform="rotate(83 1396.6 158.9)" fill="#3e1e14"/>
<ellipse cx="1396.6" cy="158.9" rx="13.9" ry="9.7" transform="rotate(83 1396.6 158.9)" fill="url(#shadeG)"/>
<ellipse cx="1393.1" cy="156.0" rx="6.2" ry="3.4" transform="rotate(83 1396.6 158.9)" fill="#c08060" opacity="0.35"/>
<line x1="1386.2" y1="158.9" x2="1407.0" y2="158.9" transform="rotate(83 1396.6 158.9)" stroke="#1c0c06" stroke-width="1.3"/>
<ellipse cx="1473.7" cy="96.0" rx="12.9" ry="9.9" transform="rotate(156 1473.7 96.0)" fill="#5a2a1a"/>
<ellipse cx="1473.7" cy="96.0" rx="12.9" ry="9.9" transform="rotate(156 1473.7 96.0)" fill="url(#shadeG)"/>
<ellipse cx="1470.5" cy="93.1" rx="5.8" ry="3.5" transform="rotate(156 1473.7 96.0)" fill="#c08060" opacity="0.35"/>
<line x1="1464.1" y1="96.0" x2="1483.4" y2="96.0" transform="rotate(156 1473.7 96.0)" stroke="#1c0c06" stroke-width="1.3"/>
<ellipse cx="1447.7" cy="84.3" rx="12.9" ry="8.9" transform="rotate(135 1447.7 84.3)" fill="#4e2a1c"/>
<ellipse cx="1447.7" cy="84.3" rx="12.9" ry="8.9" transform="rotate(135 1447.7 84.3)" fill="url(#shadeG)"/>
<ellipse cx="1444.5" cy="81.7" rx="5.8" ry="3.1" transform="rotate(135 1447.7 84.3)" fill="#c08060" opacity="0.35"/>
<line x1="1438.1" y1="84.3" x2="1457.4" y2="84.3" transform="rotate(135 1447.7 84.3)" stroke="#1c0c06" stroke-width="1.3"/>
<ellipse cx="1521.8" cy="128.6" rx="9.8" ry="10.0" transform="rotate(154 1521.8 128.6)" fill="#4e2a1c"/>
<ellipse cx="1521.8" cy="128.6" rx="9.8" ry="10.0" transform="rotate(154 1521.8 128.6)" fill="url(#shadeG)"/>
<ellipse cx="1519.4" cy="125.7" rx="4.4" ry="3.5" transform="rotate(154 1521.8 128.6)" fill="#c08060" opacity="0.35"/>
<line x1="1514.5" y1="128.6" x2="1529.1" y2="128.6" transform="rotate(154 1521.8 128.6)" stroke="#1c0c06" stroke-width="1.3"/>
<ellipse cx="1440.4" cy="89.9" rx="14.2" ry="9.3" transform="rotate(33 1440.4 89.9)" fill="#5a2a1a"/>
<ellipse cx="1440.4" cy="89.9" rx="14.2" ry="9.3" transform="rotate(33 1440.4 89.9)" fill="url(#shadeG)"/>
<ellipse cx="1436.9" cy="87.1" rx="6.4" ry="3.3" transform="rotate(33 1440.4 89.9)" fill="#c08060" opacity="0.35"/>
<line x1="1429.8" y1="89.9" x2="1451.1" y2="89.9" transform="rotate(33 1440.4 89.9)" stroke="#1c0c06" stroke-width="1.3"/>
<ellipse cx="1467.4" cy="111.9" rx="12.8" ry="8.2" transform="rotate(73 1467.4 111.9)" fill="#2e1610"/>
<ellipse cx="1467.4" cy="111.9" rx="12.8" ry="8.2" transform="rotate(73 1467.4 111.9)" fill="url(#shadeG)"/>
<ellipse cx="1464.2" cy="109.5" rx="5.8" ry="2.9" transform="rotate(73 1467.4 111.9)" fill="#c08060" opacity="0.35"/>
<line x1="1457.8" y1="111.9" x2="1477.0" y2="111.9" transform="rotate(73 1467.4 111.9)" stroke="#1c0c06" stroke-width="1.3"/>
<ellipse cx="1413.3" cy="125.4" rx="14.1" ry="9.8" transform="rotate(130 1413.3 125.4)" fill="#6e3422"/>
<ellipse cx="1413.3" cy="125.4" rx="14.1" ry="9.8" transform="rotate(130 1413.3 125.4)" fill="url(#shadeG)"/>
<ellipse cx="1409.8" cy="122.4" rx="6.3" ry="3.4" transform="rotate(130 1413.3 125.4)" fill="#c08060" opacity="0.35"/>
<line x1="1402.8" y1="125.4" x2="1423.9" y2="125.4" transform="rotate(130 1413.3 125.4)" stroke="#1c0c06" stroke-width="1.3"/>
<ellipse cx="1432.9" cy="148.1" rx="11.9" ry="9.3" transform="rotate(23 1432.9 148.1)" fill="#6e3422"/>
<ellipse cx="1432.9" cy="148.1" rx="11.9" ry="9.3" transform="rotate(23 1432.9 148.1)" fill="url(#shadeG)"/>
<ellipse cx="1429.9" cy="145.3" rx="5.4" ry="3.2" transform="rotate(23 1432.9 148.1)" fill="#c08060" opacity="0.35"/>
<line x1="1423.9" y1="148.1" x2="1441.8" y2="148.1" transform="rotate(23 1432.9 148.1)" stroke="#1c0c06" stroke-width="1.3"/>
<ellipse cx="1437.5" cy="164.9" rx="11.4" ry="9.6" transform="rotate(76 1437.5 164.9)" fill="#2e1610"/>
<ellipse cx="1437.5" cy="164.9" rx="11.4" ry="9.6" transform="rotate(76 1437.5 164.9)" fill="url(#shadeG)"/>
<ellipse cx="1434.7" cy="162.0" rx="5.1" ry="3.4" transform="rotate(76 1437.5 164.9)" fill="#c08060" opacity="0.35"/>
<line x1="1429.0" y1="164.9" x2="1446.1" y2="164.9" transform="rotate(76 1437.5 164.9)" stroke="#1c0c06" stroke-width="1.3"/>
<ellipse cx="1490.0" cy="205.2" rx="12.0" ry="7.1" transform="rotate(60 1490.0 205.2)" fill="#5a2a1a"/>
<ellipse cx="1490.0" cy="205.2" rx="12.0" ry="7.1" transform="rotate(60 1490.0 205.2)" fill="url(#shadeG)"/>
<ellipse cx="1487.0" cy="203.0" rx="5.4" ry="2.5" transform="rotate(60 1490.0 205.2)" fill="#c08060" opacity="0.35"/>
<line x1="1481.0" y1="205.2" x2="1499.0" y2="205.2" transform="rotate(60 1490.0 205.2)" stroke="#1c0c06" stroke-width="1.3"/>
<ellipse cx="1503.8" cy="196.6" rx="11.6" ry="8.6" transform="rotate(92 1503.8 196.6)" fill="#7a3e28"/>
<ellipse cx="1503.8" cy="196.6" rx="11.6" ry="8.6" transform="rotate(92 1503.8 196.6)" fill="url(#shadeG)"/>
<ellipse cx="1500.9" cy="194.0" rx="5.2" ry="3.0" transform="rotate(92 1503.8 196.6)" fill="#c08060" opacity="0.35"/>
<line x1="1495.1" y1="196.6" x2="1512.5" y2="196.6" transform="rotate(92 1503.8 196.6)" stroke="#1c0c06" stroke-width="1.3"/>
<ellipse cx="1452.0" cy="202.7" rx="12.8" ry="7.3" transform="rotate(120 1452.0 202.7)" fill="#4e2a1c"/>
<ellipse cx="1452.0" cy="202.7" rx="12.8" ry="7.3" transform="rotate(120 1452.0 202.7)" fill="url(#shadeG)"/>
<ellipse cx="1448.8" cy="200.5" rx="5.7" ry="2.6" transform="rotate(120 1452.0 202.7)" fill="#c08060" opacity="0.35"/>
<line x1="1442.4" y1="202.7" x2="1461.5" y2="202.7" transform="rotate(120 1452.0 202.7)" stroke="#1c0c06" stroke-width="1.3"/>
<ellipse cx="1529.4" cy="32.2" rx="12.3" ry="8.3" transform="rotate(46 1529.4 32.2)" fill="#5a2a1a"/>
<ellipse cx="1529.4" cy="32.2" rx="12.3" ry="8.3" transform="rotate(46 1529.4 32.2)" fill="url(#shadeG)"/>
<ellipse cx="1526.3" cy="29.7" rx="5.5" ry="2.9" transform="rotate(46 1529.4 32.2)" fill="#c08060" opacity="0.35"/>
<line x1="1520.2" y1="32.2" x2="1538.6" y2="32.2" transform="rotate(46 1529.4 32.2)" stroke="#1c0c06" stroke-width="1.3"/>
<ellipse cx="1393.1" cy="123.4" rx="12.8" ry="7.4" transform="rotate(33 1393.1 123.4)" fill="#6e3422"/>
<ellipse cx="1393.1" cy="123.4" rx="12.8" ry="7.4" transform="rotate(33 1393.1 123.4)" fill="url(#shadeG)"/>
<ellipse cx="1389.9" cy="121.2" rx="5.8" ry="2.6" transform="rotate(33 1393.1 123.4)" fill="#c08060" opacity="0.35"/>
<line x1="1383.5" y1="123.4" x2="1402.7" y2="123.4" transform="rotate(33 1393.1 123.4)" stroke="#1c0c06" stroke-width="1.3"/>
<ellipse cx="1511.7" cy="153.7" rx="9.9" ry="9.9" transform="rotate(127 1511.7 153.7)" fill="#4e2a1c"/>
<ellipse cx="1511.7" cy="153.7" rx="9.9" ry="9.9" transform="rotate(127 1511.7 153.7)" fill="url(#shadeG)"/>
<ellipse cx="1509.2" cy="150.7" rx="4.4" ry="3.5" transform="rotate(127 1511.7 153.7)" fill="#c08060" opacity="0.35"/>
<line x1="1504.3" y1="153.7" x2="1519.1" y2="153.7" transform="rotate(127 1511.7 153.7)" stroke="#1c0c06" stroke-width="1.3"/>
<ellipse cx="1394.8" cy="75.9" rx="13.0" ry="7.2" transform="rotate(115 1394.8 75.9)" fill="#6e3422"/>
<ellipse cx="1394.8" cy="75.9" rx="13.0" ry="7.2" transform="rotate(115 1394.8 75.9)" fill="url(#shadeG)"/>
<ellipse cx="1391.5" cy="73.7" rx="5.9" ry="2.5" transform="rotate(115 1394.8 75.9)" fill="#c08060" opacity="0.35"/>
<line x1="1385.0" y1="75.9" x2="1404.6" y2="75.9" transform="rotate(115 1394.8 75.9)" stroke="#1c0c06" stroke-width="1.3"/>
<ellipse cx="1496.5" cy="92.0" rx="11.9" ry="7.2" transform="rotate(60 1496.5 92.0)" fill="#4e2a1c"/>
<ellipse cx="1496.5" cy="92.0" rx="11.9" ry="7.2" transform="rotate(60 1496.5 92.0)" fill="url(#shadeG)"/>
<ellipse cx="1493.5" cy="89.8" rx="5.4" ry="2.5" transform="rotate(60 1496.5 92.0)" fill="#c08060" opacity="0.35"/>
<line x1="1487.6" y1="92.0" x2="1505.4" y2="92.0" transform="rotate(60 1496.5 92.0)" stroke="#1c0c06" stroke-width="1.3"/>
<ellipse cx="1486.0" cy="108.5" rx="13.2" ry="7.6" transform="rotate(38 1486.0 108.5)" fill="#64301e"/>
<ellipse cx="1486.0" cy="108.5" rx="13.2" ry="7.6" transform="rotate(38 1486.0 108.5)" fill="url(#shadeG)"/>
<ellipse cx="1482.7" cy="106.2" rx="5.9" ry="2.7" transform="rotate(38 1486.0 108.5)" fill="#c08060" opacity="0.35"/>
<line x1="1476.1" y1="108.5" x2="1495.9" y2="108.5" transform="rotate(38 1486.0 108.5)" stroke="#1c0c06" stroke-width="1.3"/>
<ellipse cx="1520.7" cy="64.4" rx="10.1" ry="9.6" transform="rotate(100 1520.7 64.4)" fill="#64301e"/>
<ellipse cx="1520.7" cy="64.4" rx="10.1" ry="9.6" transform="rotate(100 1520.7 64.4)" fill="url(#shadeG)"/>
<ellipse cx="1518.2" cy="61.5" rx="4.6" ry="3.4" transform="rotate(100 1520.7 64.4)" fill="#c08060" opacity="0.35"/>
<line x1="1513.1" y1="64.4" x2="1528.4" y2="64.4" transform="rotate(100 1520.7 64.4)" stroke="#1c0c06" stroke-width="1.3"/>
<ellipse cx="1514.0" cy="53.0" rx="11.3" ry="7.0" transform="rotate(126 1514.0 53.0)" fill="#3e1e14"/>
<ellipse cx="1514.0" cy="53.0" rx="11.3" ry="7.0" transform="rotate(126 1514.0 53.0)" fill="url(#shadeG)"/>
<ellipse cx="1511.2" cy="50.9" rx="5.1" ry="2.5" transform="rotate(126 1514.0 53.0)" fill="#c08060" opacity="0.35"/>
<line x1="1505.5" y1="53.0" x2="1522.5" y2="53.0" transform="rotate(126 1514.0 53.0)" stroke="#1c0c06" stroke-width="1.3"/>
<ellipse cx="1483.8" cy="177.0" rx="9.8" ry="9.5" transform="rotate(53 1483.8 177.0)" fill="#64301e"/>
<ellipse cx="1483.8" cy="177.0" rx="9.8" ry="9.5" transform="rotate(53 1483.8 177.0)" fill="url(#shadeG)"/>
<ellipse cx="1481.3" cy="174.2" rx="4.4" ry="3.3" transform="rotate(53 1483.8 177.0)" fill="#c08060" opacity="0.35"/>
<line x1="1476.4" y1="177.0" x2="1491.2" y2="177.0" transform="rotate(53 1483.8 177.0)" stroke="#1c0c06" stroke-width="1.3"/>
<ellipse cx="1469.7" cy="129.6" rx="10.9" ry="7.1" transform="rotate(33 1469.7 129.6)" fill="#5a2a1a"/>
<ellipse cx="1469.7" cy="129.6" rx="10.9" ry="7.1" transform="rotate(33 1469.7 129.6)" fill="url(#shadeG)"/>
<ellipse cx="1466.9" cy="127.5" rx="4.9" ry="2.5" transform="rotate(33 1469.7 129.6)" fill="#c08060" opacity="0.35"/>
<line x1="1461.5" y1="129.6" x2="1477.8" y2="129.6" transform="rotate(33 1469.7 129.6)" stroke="#1c0c06" stroke-width="1.3"/>
<ellipse cx="1408.8" cy="169.3" rx="10.2" ry="7.0" transform="rotate(152 1408.8 169.3)" fill="#6e3422"/>
<ellipse cx="1408.8" cy="169.3" rx="10.2" ry="7.0" transform="rotate(152 1408.8 169.3)" fill="url(#shadeG)"/>
<ellipse cx="1406.3" cy="167.2" rx="4.6" ry="2.5" transform="rotate(152 1408.8 169.3)" fill="#c08060" opacity="0.35"/>
<line x1="1401.2" y1="169.3" x2="1416.4" y2="169.3" transform="rotate(152 1408.8 169.3)" stroke="#1c0c06" stroke-width="1.3"/>
<ellipse cx="1407.1" cy="110.9" rx="13.0" ry="8.9" transform="rotate(175 1407.1 110.9)" fill="#7a3e28"/>
<ellipse cx="1407.1" cy="110.9" rx="13.0" ry="8.9" transform="rotate(175 1407.1 110.9)" fill="url(#shadeG)"/>
<ellipse cx="1403.8" cy="108.2" rx="5.9" ry="3.1" transform="rotate(175 1407.1 110.9)" fill="#c08060" opacity="0.35"/>
<line x1="1397.3" y1="110.9" x2="1416.9" y2="110.9" transform="rotate(175 1407.1 110.9)" stroke="#1c0c06" stroke-width="1.3"/>
<ellipse cx="1481.4" cy="161.7" rx="13.6" ry="9.0" transform="rotate(164 1481.4 161.7)" fill="#4e2a1c"/>
<ellipse cx="1481.4" cy="161.7" rx="13.6" ry="9.0" transform="rotate(164 1481.4 161.7)" fill="url(#shadeG)"/>
<ellipse cx="1478.0" cy="159.1" rx="6.1" ry="3.1" transform="rotate(164 1481.4 161.7)" fill="#c08060" opacity="0.35"/>
<line x1="1471.2" y1="161.7" x2="1491.6" y2="161.7" transform="rotate(164 1481.4 161.7)" stroke="#1c0c06" stroke-width="1.3"/>
<ellipse cx="1445.8" cy="34.5" rx="9.9" ry="9.2" transform="rotate(145 1445.8 34.5)" fill="#4e2a1c"/>
<ellipse cx="1445.8" cy="34.5" rx="9.9" ry="9.2" transform="rotate(145 1445.8 34.5)" fill="url(#shadeG)"/>
<ellipse cx="1443.3" cy="31.8" rx="4.5" ry="3.2" transform="rotate(145 1445.8 34.5)" fill="#c08060" opacity="0.35"/>
<line x1="1438.4" y1="34.5" x2="1453.2" y2="34.5" transform="rotate(145 1445.8 34.5)" stroke="#1c0c06" stroke-width="1.3"/>
<ellipse cx="1425.4" cy="84.1" rx="12.0" ry="9.0" transform="rotate(100 1425.4 84.1)" fill="#64301e"/>
<ellipse cx="1425.4" cy="84.1" rx="12.0" ry="9.0" transform="rotate(100 1425.4 84.1)" fill="url(#shadeG)"/>
<ellipse cx="1422.4" cy="81.4" rx="5.4" ry="3.1" transform="rotate(100 1425.4 84.1)" fill="#c08060" opacity="0.35"/>
<line x1="1416.4" y1="84.1" x2="1434.4" y2="84.1" transform="rotate(100 1425.4 84.1)" stroke="#1c0c06" stroke-width="1.3"/>
<ellipse cx="1535.7" cy="66.7" rx="13.3" ry="7.9" transform="rotate(145 1535.7 66.7)" fill="#6e3422"/>
<ellipse cx="1535.7" cy="66.7" rx="13.3" ry="7.9" transform="rotate(145 1535.7 66.7)" fill="url(#shadeG)"/>
<ellipse cx="1532.3" cy="64.3" rx="6.0" ry="2.8" transform="rotate(145 1535.7 66.7)" fill="#c08060" opacity="0.35"/>
<line x1="1525.7" y1="66.7" x2="1545.7" y2="66.7" transform="rotate(145 1535.7 66.7)" stroke="#1c0c06" stroke-width="1.3"/>
<ellipse cx="1431.3" cy="195.0" rx="13.5" ry="8.8" transform="rotate(129 1431.3 195.0)" fill="#4e2a1c"/>
<ellipse cx="1431.3" cy="195.0" rx="13.5" ry="8.8" transform="rotate(129 1431.3 195.0)" fill="url(#shadeG)"/>
<ellipse cx="1427.9" cy="192.3" rx="6.1" ry="3.1" transform="rotate(129 1431.3 195.0)" fill="#c08060" opacity="0.35"/>
<line x1="1421.1" y1="195.0" x2="1441.4" y2="195.0" transform="rotate(129 1431.3 195.0)" stroke="#1c0c06" stroke-width="1.3"/>
<ellipse cx="1454.6" cy="161.6" rx="11.1" ry="7.3" transform="rotate(171 1454.6 161.6)" fill="#4e2a1c"/>
<ellipse cx="1454.6" cy="161.6" rx="11.1" ry="7.3" transform="rotate(171 1454.6 161.6)" fill="url(#shadeG)"/>
<ellipse cx="1451.8" cy="159.4" rx="5.0" ry="2.6" transform="rotate(171 1454.6 161.6)" fill="#c08060" opacity="0.35"/>
<line x1="1446.2" y1="161.6" x2="1462.9" y2="161.6" transform="rotate(171 1454.6 161.6)" stroke="#1c0c06" stroke-width="1.3"/>
<ellipse cx="1454.4" cy="113.4" rx="14.1" ry="7.7" transform="rotate(80 1454.4 113.4)" fill="#5a2a1a"/>
<ellipse cx="1454.4" cy="113.4" rx="14.1" ry="7.7" transform="rotate(80 1454.4 113.4)" fill="url(#shadeG)"/>
<ellipse cx="1450.9" cy="111.1" rx="6.4" ry="2.7" transform="rotate(80 1454.4 113.4)" fill="#c08060" opacity="0.35"/>
<line x1="1443.8" y1="113.4" x2="1465.0" y2="113.4" transform="rotate(80 1454.4 113.4)" stroke="#1c0c06" stroke-width="1.3"/>
<ellipse cx="1408.8" cy="209.6" rx="13.5" ry="7.5" transform="rotate(98 1408.8 209.6)" fill="#64301e"/>
<ellipse cx="1408.8" cy="209.6" rx="13.5" ry="7.5" transform="rotate(98 1408.8 209.6)" fill="url(#shadeG)"/>
<ellipse cx="1405.4" cy="207.3" rx="6.1" ry="2.6" transform="rotate(98 1408.8 209.6)" fill="#c08060" opacity="0.35"/>
<line x1="1398.6" y1="209.6" x2="1418.9" y2="209.6" transform="rotate(98 1408.8 209.6)" stroke="#1c0c06" stroke-width="1.3"/>
<ellipse cx="1415.0" cy="49.6" rx="11.7" ry="7.9" transform="rotate(7 1415.0 49.6)" fill="#2e1610"/>
<ellipse cx="1415.0" cy="49.6" rx="11.7" ry="7.9" transform="rotate(7 1415.0 49.6)" fill="url(#shadeG)"/>
<ellipse cx="1412.1" cy="47.2" rx="5.3" ry="2.8" transform="rotate(7 1415.0 49.6)" fill="#c08060" opacity="0.35"/>
<line x1="1406.2" y1="49.6" x2="1423.8" y2="49.6" transform="rotate(7 1415.0 49.6)" stroke="#1c0c06" stroke-width="1.3"/>
<ellipse cx="1458.6" cy="68.0" rx="13.5" ry="10.1" transform="rotate(52 1458.6 68.0)" fill="#3e1e14"/>
<ellipse cx="1458.6" cy="68.0" rx="13.5" ry="10.1" transform="rotate(52 1458.6 68.0)" fill="url(#shadeG)"/>
<ellipse cx="1455.3" cy="65.0" rx="6.1" ry="3.5" transform="rotate(52 1458.6 68.0)" fill="#c08060" opacity="0.35"/>
<line x1="1448.5" y1="68.0" x2="1468.8" y2="68.0" transform="rotate(52 1458.6 68.0)" stroke="#1c0c06" stroke-width="1.3"/>
<ellipse cx="1473.7" cy="65.7" rx="11.6" ry="8.2" transform="rotate(50 1473.7 65.7)" fill="#6e3422"/>
<ellipse cx="1473.7" cy="65.7" rx="11.6" ry="8.2" transform="rotate(50 1473.7 65.7)" fill="url(#shadeG)"/>
<ellipse cx="1470.8" cy="63.2" rx="5.2" ry="2.9" transform="rotate(50 1473.7 65.7)" fill="#c08060" opacity="0.35"/>
<line x1="1465.0" y1="65.7" x2="1482.5" y2="65.7" transform="rotate(50 1473.7 65.7)" stroke="#1c0c06" stroke-width="1.3"/>
<ellipse cx="1526.8" cy="142.5" rx="11.2" ry="6.9" transform="rotate(107 1526.8 142.5)" fill="#2e1610"/>
<ellipse cx="1526.8" cy="142.5" rx="11.2" ry="6.9" transform="rotate(107 1526.8 142.5)" fill="url(#shadeG)"/>
<ellipse cx="1524.0" cy="140.5" rx="5.1" ry="2.4" transform="rotate(107 1526.8 142.5)" fill="#c08060" opacity="0.35"/>
<line x1="1518.3" y1="142.5" x2="1535.2" y2="142.5" transform="rotate(107 1526.8 142.5)" stroke="#1c0c06" stroke-width="1.3"/>
<ellipse cx="1535.7" cy="164.2" rx="10.7" ry="8.2" transform="rotate(32 1535.7 164.2)" fill="#2e1610"/>
<ellipse cx="1535.7" cy="164.2" rx="10.7" ry="8.2" transform="rotate(32 1535.7 164.2)" fill="url(#shadeG)"/>
<ellipse cx="1533.1" cy="161.7" rx="4.8" ry="2.9" transform="rotate(32 1535.7 164.2)" fill="#c08060" opacity="0.35"/>
<line x1="1527.7" y1="164.2" x2="1543.8" y2="164.2" transform="rotate(32 1535.7 164.2)" stroke="#1c0c06" stroke-width="1.3"/>
<ellipse cx="1399.1" cy="27.6" rx="13.3" ry="8.5" transform="rotate(95 1399.1 27.6)" fill="#6e3422"/>
<ellipse cx="1399.1" cy="27.6" rx="13.3" ry="8.5" transform="rotate(95 1399.1 27.6)" fill="url(#shadeG)"/>
<ellipse cx="1395.8" cy="25.0" rx="6.0" ry="3.0" transform="rotate(95 1399.1 27.6)" fill="#c08060" opacity="0.35"/>
<line x1="1389.1" y1="27.6" x2="1409.1" y2="27.6" transform="rotate(95 1399.1 27.6)" stroke="#1c0c06" stroke-width="1.3"/>
<ellipse cx="1421.8" cy="106.0" rx="14.2" ry="9.5" transform="rotate(180 1421.8 106.0)" fill="#3e1e14"/>
<ellipse cx="1421.8" cy="106.0" rx="14.2" ry="9.5" transform="rotate(180 1421.8 106.0)" fill="url(#shadeG)"/>
<ellipse cx="1418.2" cy="103.2" rx="6.4" ry="3.3" transform="rotate(180 1421.8 106.0)" fill="#c08060" opacity="0.35"/>
<line x1="1411.1" y1="106.0" x2="1432.5" y2="106.0" transform="rotate(180 1421.8 106.0)" stroke="#1c0c06" stroke-width="1.3"/>
<ellipse cx="1511.4" cy="89.5" rx="12.1" ry="6.9" transform="rotate(43 1511.4 89.5)" fill="#64301e"/>
<ellipse cx="1511.4" cy="89.5" rx="12.1" ry="6.9" transform="rotate(43 1511.4 89.5)" fill="url(#shadeG)"/>
<ellipse cx="1508.4" cy="87.5" rx="5.5" ry="2.4" transform="rotate(43 1511.4 89.5)" fill="#c08060" opacity="0.35"/>
<line x1="1502.3" y1="89.5" x2="1520.5" y2="89.5" transform="rotate(43 1511.4 89.5)" stroke="#1c0c06" stroke-width="1.3"/>
<ellipse cx="1439.4" cy="171.5" rx="14.0" ry="8.2" transform="rotate(126 1439.4 171.5)" fill="#4e2a1c"/>
<ellipse cx="1439.4" cy="171.5" rx="14.0" ry="8.2" transform="rotate(126 1439.4 171.5)" fill="url(#shadeG)"/>
<ellipse cx="1435.9" cy="169.0" rx="6.3" ry="2.9" transform="rotate(126 1439.4 171.5)" fill="#c08060" opacity="0.35"/>
<line x1="1428.9" y1="171.5" x2="1449.9" y2="171.5" transform="rotate(126 1439.4 171.5)" stroke="#1c0c06" stroke-width="1.3"/>
<ellipse cx="1504.0" cy="128.5" rx="14.3" ry="9.7" transform="rotate(20 1504.0 128.5)" fill="#7a3e28"/>
<ellipse cx="1504.0" cy="128.5" rx="14.3" ry="9.7" transform="rotate(20 1504.0 128.5)" fill="url(#shadeG)"/>
<ellipse cx="1500.4" cy="125.5" rx="6.4" ry="3.4" transform="rotate(20 1504.0 128.5)" fill="#c08060" opacity="0.35"/>
<line x1="1493.2" y1="128.5" x2="1514.7" y2="128.5" transform="rotate(20 1504.0 128.5)" stroke="#1c0c06" stroke-width="1.3"/>
<ellipse cx="1461.6" cy="41.2" rx="10.9" ry="9.1" transform="rotate(2 1461.6 41.2)" fill="#2e1610"/>
<ellipse cx="1461.6" cy="41.2" rx="10.9" ry="9.1" transform="rotate(2 1461.6 41.2)" fill="url(#shadeG)"/>
<ellipse cx="1458.9" cy="38.5" rx="4.9" ry="3.2" transform="rotate(2 1461.6 41.2)" fill="#c08060" opacity="0.35"/>
<line x1="1453.4" y1="41.2" x2="1469.9" y2="41.2" transform="rotate(2 1461.6 41.2)" stroke="#1c0c06" stroke-width="1.3"/>
<ellipse cx="1394.8" cy="117.4" rx="12.3" ry="10.2" transform="rotate(71 1394.8 117.4)" fill="#3e1e14"/>
<ellipse cx="1394.8" cy="117.4" rx="12.3" ry="10.2" transform="rotate(71 1394.8 117.4)" fill="url(#shadeG)"/>
<ellipse cx="1391.7" cy="114.3" rx="5.5" ry="3.6" transform="rotate(71 1394.8 117.4)" fill="#c08060" opacity="0.35"/>
<line x1="1385.5" y1="117.4" x2="1404.0" y2="117.4" transform="rotate(71 1394.8 117.4)" stroke="#1c0c06" stroke-width="1.3"/>
<ellipse cx="1470.3" cy="46.8" rx="9.9" ry="7.2" transform="rotate(170 1470.3 46.8)" fill="#3e1e14"/>
<ellipse cx="1470.3" cy="46.8" rx="9.9" ry="7.2" transform="rotate(170 1470.3 46.8)" fill="url(#shadeG)"/>
<ellipse cx="1467.8" cy="44.6" rx="4.5" ry="2.5" transform="rotate(170 1470.3 46.8)" fill="#c08060" opacity="0.35"/>
<line x1="1462.8" y1="46.8" x2="1477.7" y2="46.8" transform="rotate(170 1470.3 46.8)" stroke="#1c0c06" stroke-width="1.3"/>
<ellipse cx="1521.7" cy="188.6" rx="12.4" ry="10.1" transform="rotate(129 1521.7 188.6)" fill="#5a2a1a"/>
<ellipse cx="1521.7" cy="188.6" rx="12.4" ry="10.1" transform="rotate(129 1521.7 188.6)" fill="url(#shadeG)"/>
<ellipse cx="1518.6" cy="185.6" rx="5.6" ry="3.5" transform="rotate(129 1521.7 188.6)" fill="#c08060" opacity="0.35"/>
<line x1="1512.5" y1="188.6" x2="1531.0" y2="188.6" transform="rotate(129 1521.7 188.6)" stroke="#1c0c06" stroke-width="1.3"/>
<ellipse cx="1397.8" cy="65.5" rx="12.0" ry="7.6" transform="rotate(33 1397.8 65.5)" fill="#5a2a1a"/>
<ellipse cx="1397.8" cy="65.5" rx="12.0" ry="7.6" transform="rotate(33 1397.8 65.5)" fill="url(#shadeG)"/>
<ellipse cx="1394.8" cy="63.2" rx="5.4" ry="2.7" transform="rotate(33 1397.8 65.5)" fill="#c08060" opacity="0.35"/>
<line x1="1388.8" y1="65.5" x2="1406.8" y2="65.5" transform="rotate(33 1397.8 65.5)" stroke="#1c0c06" stroke-width="1.3"/>
<ellipse cx="1535.8" cy="77.3" rx="13.3" ry="9.5" transform="rotate(65 1535.8 77.3)" fill="#7a3e28"/>
<ellipse cx="1535.8" cy="77.3" rx="13.3" ry="9.5" transform="rotate(65 1535.8 77.3)" fill="url(#shadeG)"/>
<ellipse cx="1532.5" cy="74.4" rx="6.0" ry="3.3" transform="rotate(65 1535.8 77.3)" fill="#c08060" opacity="0.35"/>
<line x1="1525.9" y1="77.3" x2="1545.8" y2="77.3" transform="rotate(65 1535.8 77.3)" stroke="#1c0c06" stroke-width="1.3"/>
<ellipse cx="1409.1" cy="185.7" rx="12.0" ry="8.4" transform="rotate(12 1409.1 185.7)" fill="#4e2a1c"/>
<ellipse cx="1409.1" cy="185.7" rx="12.0" ry="8.4" transform="rotate(12 1409.1 185.7)" fill="url(#shadeG)"/>
<ellipse cx="1406.1" cy="183.2" rx="5.4" ry="2.9" transform="rotate(12 1409.1 185.7)" fill="#c08060" opacity="0.35"/>
<line x1="1400.2" y1="185.7" x2="1418.1" y2="185.7" transform="rotate(12 1409.1 185.7)" stroke="#1c0c06" stroke-width="1.3"/>
<ellipse cx="1397.3" cy="204.7" rx="10.5" ry="9.8" transform="rotate(74 1397.3 204.7)" fill="#2e1610"/>
<ellipse cx="1397.3" cy="204.7" rx="10.5" ry="9.8" transform="rotate(74 1397.3 204.7)" fill="url(#shadeG)"/>
<ellipse cx="1394.7" cy="201.8" rx="4.7" ry="3.4" transform="rotate(74 1397.3 204.7)" fill="#c08060" opacity="0.35"/>
<line x1="1389.4" y1="204.7" x2="1405.2" y2="204.7" transform="rotate(74 1397.3 204.7)" stroke="#1c0c06" stroke-width="1.3"/>
<ellipse cx="1446.9" cy="58.8" rx="11.6" ry="8.7" transform="rotate(104 1446.9 58.8)" fill="#4e2a1c"/>
<ellipse cx="1446.9" cy="58.8" rx="11.6" ry="8.7" transform="rotate(104 1446.9 58.8)" fill="url(#shadeG)"/>
<ellipse cx="1444.0" cy="56.2" rx="5.2" ry="3.0" transform="rotate(104 1446.9 58.8)" fill="#c08060" opacity="0.35"/>
<line x1="1438.3" y1="58.8" x2="1455.6" y2="58.8" transform="rotate(104 1446.9 58.8)" stroke="#1c0c06" stroke-width="1.3"/>
<ellipse cx="1503.8" cy="46.4" rx="11.2" ry="10.0" transform="rotate(111 1503.8 46.4)" fill="#6e3422"/>
<ellipse cx="1503.8" cy="46.4" rx="11.2" ry="10.0" transform="rotate(111 1503.8 46.4)" fill="url(#shadeG)"/>
<ellipse cx="1501.0" cy="43.4" rx="5.1" ry="3.5" transform="rotate(111 1503.8 46.4)" fill="#c08060" opacity="0.35"/>
<line x1="1495.3" y1="46.4" x2="1512.2" y2="46.4" transform="rotate(111 1503.8 46.4)" stroke="#1c0c06" stroke-width="1.3"/>
<ellipse cx="1521.8" cy="142.1" rx="11.9" ry="7.2" transform="rotate(74 1521.8 142.1)" fill="#3e1e14"/>
<ellipse cx="1521.8" cy="142.1" rx="11.9" ry="7.2" transform="rotate(74 1521.8 142.1)" fill="url(#shadeG)"/>
<ellipse cx="1518.8" cy="139.9" rx="5.4" ry="2.5" transform="rotate(74 1521.8 142.1)" fill="#c08060" opacity="0.35"/>
<line x1="1512.9" y1="142.1" x2="1530.8" y2="142.1" transform="rotate(74 1521.8 142.1)" stroke="#1c0c06" stroke-width="1.3"/>
<ellipse cx="1393.3" cy="146.8" rx="12.0" ry="9.6" transform="rotate(156 1393.3 146.8)" fill="#5a2a1a"/>
<ellipse cx="1393.3" cy="146.8" rx="12.0" ry="9.6" transform="rotate(156 1393.3 146.8)" fill="url(#shadeG)"/>
<ellipse cx="1390.3" cy="143.9" rx="5.4" ry="3.3" transform="rotate(156 1393.3 146.8)" fill="#c08060" opacity="0.35"/>
<line x1="1384.3" y1="146.8" x2="1402.4" y2="146.8" transform="rotate(156 1393.3 146.8)" stroke="#1c0c06" stroke-width="1.3"/>
<ellipse cx="1430.0" cy="178.8" rx="11.7" ry="7.9" transform="rotate(5 1430.0 178.8)" fill="#64301e"/>
<ellipse cx="1430.0" cy="178.8" rx="11.7" ry="7.9" transform="rotate(5 1430.0 178.8)" fill="url(#shadeG)"/>
<ellipse cx="1427.1" cy="176.4" rx="5.3" ry="2.8" transform="rotate(5 1430.0 178.8)" fill="#c08060" opacity="0.35"/>
<line x1="1421.3" y1="178.8" x2="1438.8" y2="178.8" transform="rotate(5 1430.0 178.8)" stroke="#1c0c06" stroke-width="1.3"/>
<ellipse cx="1512.9" cy="210.1" rx="14.4" ry="8.8" transform="rotate(67 1512.9 210.1)" fill="#4e2a1c"/>
<ellipse cx="1512.9" cy="210.1" rx="14.4" ry="8.8" transform="rotate(67 1512.9 210.1)" fill="url(#shadeG)"/>
<ellipse cx="1509.3" cy="207.4" rx="6.5" ry="3.1" transform="rotate(67 1512.9 210.1)" fill="#c08060" opacity="0.35"/>
<line x1="1502.1" y1="210.1" x2="1523.6" y2="210.1" transform="rotate(67 1512.9 210.1)" stroke="#1c0c06" stroke-width="1.3"/>
<ellipse cx="1451.8" cy="187.7" rx="11.1" ry="9.2" transform="rotate(32 1451.8 187.7)" fill="#4e2a1c"/>
<ellipse cx="1451.8" cy="187.7" rx="11.1" ry="9.2" transform="rotate(32 1451.8 187.7)" fill="url(#shadeG)"/>
<ellipse cx="1449.0" cy="184.9" rx="5.0" ry="3.2" transform="rotate(32 1451.8 187.7)" fill="#c08060" opacity="0.35"/>
<line x1="1443.5" y1="187.7" x2="1460.2" y2="187.7" transform="rotate(32 1451.8 187.7)" stroke="#1c0c06" stroke-width="1.3"/>
<ellipse cx="1517.3" cy="114.1" rx="10.2" ry="7.3" transform="rotate(107 1517.3 114.1)" fill="#64301e"/>
<ellipse cx="1517.3" cy="114.1" rx="10.2" ry="7.3" transform="rotate(107 1517.3 114.1)" fill="url(#shadeG)"/>
<ellipse cx="1514.8" cy="111.9" rx="4.6" ry="2.6" transform="rotate(107 1517.3 114.1)" fill="#c08060" opacity="0.35"/>
<line x1="1509.7" y1="114.1" x2="1524.9" y2="114.1" transform="rotate(107 1517.3 114.1)" stroke="#1c0c06" stroke-width="1.3"/>
<ellipse cx="1515.8" cy="74.7" rx="12.3" ry="9.0" transform="rotate(171 1515.8 74.7)" fill="#2e1610"/>
<ellipse cx="1515.8" cy="74.7" rx="12.3" ry="9.0" transform="rotate(171 1515.8 74.7)" fill="url(#shadeG)"/>
<ellipse cx="1512.7" cy="72.0" rx="5.5" ry="3.2" transform="rotate(171 1515.8 74.7)" fill="#c08060" opacity="0.35"/>
<line x1="1506.6" y1="74.7" x2="1525.0" y2="74.7" transform="rotate(171 1515.8 74.7)" stroke="#1c0c06" stroke-width="1.3"/>
<ellipse cx="1447.1" cy="204.9" rx="13.2" ry="8.4" transform="rotate(98 1447.1 204.9)" fill="#3e1e14"/>
<ellipse cx="1447.1" cy="204.9" rx="13.2" ry="8.4" transform="rotate(98 1447.1 204.9)" fill="url(#shadeG)"/>
<ellipse cx="1443.8" cy="202.4" rx="5.9" ry="2.9" transform="rotate(98 1447.1 204.9)" fill="#c08060" opacity="0.35"/>
<line x1="1437.2" y1="204.9" x2="1457.0" y2="204.9" transform="rotate(98 1447.1 204.9)" stroke="#1c0c06" stroke-width="1.3"/>
<ellipse cx="1487.9" cy="122.8" rx="12.1" ry="7.2" transform="rotate(55 1487.9 122.8)" fill="#5a2a1a"/>
<ellipse cx="1487.9" cy="122.8" rx="12.1" ry="7.2" transform="rotate(55 1487.9 122.8)" fill="url(#shadeG)"/>
<ellipse cx="1484.9" cy="120.6" rx="5.4" ry="2.5" transform="rotate(55 1487.9 122.8)" fill="#c08060" opacity="0.35"/>
<line x1="1478.8" y1="122.8" x2="1497.0" y2="122.8" transform="rotate(55 1487.9 122.8)" stroke="#1c0c06" stroke-width="1.3"/>
<ellipse cx="1497.9" cy="83.2" rx="10.7" ry="7.9" transform="rotate(85 1497.9 83.2)" fill="#4e2a1c"/>
<ellipse cx="1497.9" cy="83.2" rx="10.7" ry="7.9" transform="rotate(85 1497.9 83.2)" fill="url(#shadeG)"/>
<ellipse cx="1495.2" cy="80.8" rx="4.8" ry="2.8" transform="rotate(85 1497.9 83.2)" fill="#c08060" opacity="0.35"/>
<line x1="1489.9" y1="83.2" x2="1506.0" y2="83.2" transform="rotate(85 1497.9 83.2)" stroke="#1c0c06" stroke-width="1.3"/>
<ellipse cx="1488.8" cy="197.3" rx="13.2" ry="10.1" transform="rotate(155 1488.8 197.3)" fill="#3e1e14"/>
<ellipse cx="1488.8" cy="197.3" rx="13.2" ry="10.1" transform="rotate(155 1488.8 197.3)" fill="url(#shadeG)"/>
<ellipse cx="1485.5" cy="194.3" rx="5.9" ry="3.5" transform="rotate(155 1488.8 197.3)" fill="#c08060" opacity="0.35"/>
<line x1="1478.9" y1="197.3" x2="1498.7" y2="197.3" transform="rotate(155 1488.8 197.3)" stroke="#1c0c06" stroke-width="1.3"/>
<ellipse cx="1500.7" cy="153.4" rx="10.9" ry="8.3" transform="rotate(161 1500.7 153.4)" fill="#4e2a1c"/>
<ellipse cx="1500.7" cy="153.4" rx="10.9" ry="8.3" transform="rotate(161 1500.7 153.4)" fill="url(#shadeG)"/>
<ellipse cx="1497.9" cy="150.9" rx="4.9" ry="2.9" transform="rotate(161 1500.7 153.4)" fill="#c08060" opacity="0.35"/>
<line x1="1492.5" y1="153.4" x2="1508.8" y2="153.4" transform="rotate(161 1500.7 153.4)" stroke="#1c0c06" stroke-width="1.3"/>
<ellipse cx="1504.0" cy="27.0" rx="14.4" ry="8.4" transform="rotate(98 1504.0 27.0)" fill="#5a2a1a"/>
<ellipse cx="1504.0" cy="27.0" rx="14.4" ry="8.4" transform="rotate(98 1504.0 27.0)" fill="url(#shadeG)"/>
<ellipse cx="1500.4" cy="24.5" rx="6.5" ry="2.9" transform="rotate(98 1504.0 27.0)" fill="#c08060" opacity="0.35"/>
<line x1="1493.2" y1="27.0" x2="1514.8" y2="27.0" transform="rotate(98 1504.0 27.0)" stroke="#1c0c06" stroke-width="1.3"/>
<ellipse cx="1513.5" cy="175.7" rx="12.2" ry="8.1" transform="rotate(93 1513.5 175.7)" fill="#6e3422"/>
<ellipse cx="1513.5" cy="175.7" rx="12.2" ry="8.1" transform="rotate(93 1513.5 175.7)" fill="url(#shadeG)"/>
<ellipse cx="1510.5" cy="173.2" rx="5.5" ry="2.8" transform="rotate(93 1513.5 175.7)" fill="#c08060" opacity="0.35"/>
<line x1="1504.4" y1="175.7" x2="1522.6" y2="175.7" transform="rotate(93 1513.5 175.7)" stroke="#1c0c06" stroke-width="1.3"/>
<ellipse cx="1492.2" cy="84.8" rx="11.4" ry="8.8" transform="rotate(76 1492.2 84.8)" fill="#4e2a1c"/>
<ellipse cx="1492.2" cy="84.8" rx="11.4" ry="8.8" transform="rotate(76 1492.2 84.8)" fill="url(#shadeG)"/>
<ellipse cx="1489.4" cy="82.2" rx="5.1" ry="3.1" transform="rotate(76 1492.2 84.8)" fill="#c08060" opacity="0.35"/>
<line x1="1483.7" y1="84.8" x2="1500.8" y2="84.8" transform="rotate(76 1492.2 84.8)" stroke="#1c0c06" stroke-width="1.3"/>
<ellipse cx="1431.6" cy="154.4" rx="11.1" ry="8.5" transform="rotate(71 1431.6 154.4)" fill="#64301e"/>
<ellipse cx="1431.6" cy="154.4" rx="11.1" ry="8.5" transform="rotate(71 1431.6 154.4)" fill="url(#shadeG)"/>
<ellipse cx="1428.8" cy="151.9" rx="5.0" ry="3.0" transform="rotate(71 1431.6 154.4)" fill="#c08060" opacity="0.35"/>
<line x1="1423.3" y1="154.4" x2="1440.0" y2="154.4" transform="rotate(71 1431.6 154.4)" stroke="#1c0c06" stroke-width="1.3"/>
<ellipse cx="1411.8" cy="97.5" rx="13.0" ry="8.6" transform="rotate(136 1411.8 97.5)" fill="#5a2a1a"/>
<ellipse cx="1411.8" cy="97.5" rx="13.0" ry="8.6" transform="rotate(136 1411.8 97.5)" fill="url(#shadeG)"/>
<ellipse cx="1408.5" cy="95.0" rx="5.9" ry="3.0" transform="rotate(136 1411.8 97.5)" fill="#c08060" opacity="0.35"/>
<line x1="1402.0" y1="97.5" x2="1421.5" y2="97.5" transform="rotate(136 1411.8 97.5)" stroke="#1c0c06" stroke-width="1.3"/>
<ellipse cx="1452.3" cy="33.4" rx="10.2" ry="7.0" transform="rotate(167 1452.3 33.4)" fill="#5a2a1a"/>
<ellipse cx="1452.3" cy="33.4" rx="10.2" ry="7.0" transform="rotate(167 1452.3 33.4)" fill="url(#shadeG)"/>
<ellipse cx="1449.8" cy="31.3" rx="4.6" ry="2.5" transform="rotate(167 1452.3 33.4)" fill="#c08060" opacity="0.35"/>
<line x1="1444.7" y1="33.4" x2="1459.9" y2="33.4" transform="rotate(167 1452.3 33.4)" stroke="#1c0c06" stroke-width="1.3"/>
<ellipse cx="1527.2" cy="122.9" rx="10.7" ry="9.5" transform="rotate(40 1527.2 122.9)" fill="#5a2a1a"/>
<ellipse cx="1527.2" cy="122.9" rx="10.7" ry="9.5" transform="rotate(40 1527.2 122.9)" fill="url(#shadeG)"/>
<ellipse cx="1524.5" cy="120.0" rx="4.8" ry="3.3" transform="rotate(40 1527.2 122.9)" fill="#c08060" opacity="0.35"/>
<line x1="1519.2" y1="122.9" x2="1535.2" y2="122.9" transform="rotate(40 1527.2 122.9)" stroke="#1c0c06" stroke-width="1.3"/>
<ellipse cx="1517.1" cy="37.0" rx="13.4" ry="7.0" transform="rotate(1 1517.1 37.0)" fill="#4e2a1c"/>
<ellipse cx="1517.1" cy="37.0" rx="13.4" ry="7.0" transform="rotate(1 1517.1 37.0)" fill="url(#shadeG)"/>
<ellipse cx="1513.7" cy="34.9" rx="6.0" ry="2.4" transform="rotate(1 1517.1 37.0)" fill="#c08060" opacity="0.35"/>
<line x1="1507.0" y1="37.0" x2="1527.1" y2="37.0" transform="rotate(1 1517.1 37.0)" stroke="#1c0c06" stroke-width="1.3"/>
<ellipse cx="1395.7" cy="97.8" rx="12.0" ry="9.8" transform="rotate(49 1395.7 97.8)" fill="#3e1e14"/>
<ellipse cx="1395.7" cy="97.8" rx="12.0" ry="9.8" transform="rotate(49 1395.7 97.8)" fill="url(#shadeG)"/>
<ellipse cx="1392.7" cy="94.9" rx="5.4" ry="3.4" transform="rotate(49 1395.7 97.8)" fill="#c08060" opacity="0.35"/>
<line x1="1386.7" y1="97.8" x2="1404.7" y2="97.8" transform="rotate(49 1395.7 97.8)" stroke="#1c0c06" stroke-width="1.3"/>
</g>
<g clip-path="url(#cp_tea)">
<rect x="1385.8" y="23.5" width="194.1" height="201.7" fill="#454b1c"/>
<ellipse cx="1568.8" cy="209.8" rx="13.8" ry="3.4" transform="rotate(-55 1568.8 209.8)" fill="#82923c"/>
<ellipse cx="1568.8" cy="209.8" rx="13.8" ry="3.4" transform="rotate(-55 1568.8 209.8)" fill="url(#shadeG)"/>
<ellipse cx="1565.3" cy="208.8" rx="6.2" ry="1.2" transform="rotate(-55 1568.8 209.8)" fill="#e8f0b0" opacity="0.35"/>
<ellipse cx="1566.6" cy="76.9" rx="15.2" ry="2.8" transform="rotate(-42 1566.6 76.9)" fill="#b4bc74"/>
<ellipse cx="1566.6" cy="76.9" rx="15.2" ry="2.8" transform="rotate(-42 1566.6 76.9)" fill="url(#shadeG)"/>
<ellipse cx="1562.8" cy="76.1" rx="6.8" ry="1.0" transform="rotate(-42 1566.6 76.9)" fill="#e8f0b0" opacity="0.35"/>
<ellipse cx="1538.5" cy="169.2" rx="11.8" ry="3.5" transform="rotate(-53 1538.5 169.2)" fill="#8e9e46"/>
<ellipse cx="1538.5" cy="169.2" rx="11.8" ry="3.5" transform="rotate(-53 1538.5 169.2)" fill="url(#shadeG)"/>
<ellipse cx="1535.6" cy="168.2" rx="5.3" ry="1.2" transform="rotate(-53 1538.5 169.2)" fill="#e8f0b0" opacity="0.35"/>
<ellipse cx="1534.8" cy="186.5" rx="10.7" ry="3.3" transform="rotate(-26 1534.8 186.5)" fill="#66722a"/>
<ellipse cx="1534.8" cy="186.5" rx="10.7" ry="3.3" transform="rotate(-26 1534.8 186.5)" fill="url(#shadeG)"/>
<ellipse cx="1532.1" cy="185.5" rx="4.8" ry="1.2" transform="rotate(-26 1534.8 186.5)" fill="#e8f0b0" opacity="0.35"/>
<ellipse cx="1435.9" cy="205.8" rx="10.7" ry="3.4" transform="rotate(-61 1435.9 205.8)" fill="#8e9e46"/>
<ellipse cx="1435.9" cy="205.8" rx="10.7" ry="3.4" transform="rotate(-61 1435.9 205.8)" fill="url(#shadeG)"/>
<ellipse cx="1433.2" cy="204.7" rx="4.8" ry="1.2" transform="rotate(-61 1435.9 205.8)" fill="#e8f0b0" opacity="0.35"/>
<ellipse cx="1424.4" cy="103.8" rx="12.7" ry="2.4" transform="rotate(-25 1424.4 103.8)" fill="#8e9e46"/>
<ellipse cx="1424.4" cy="103.8" rx="12.7" ry="2.4" transform="rotate(-25 1424.4 103.8)" fill="url(#shadeG)"/>
<ellipse cx="1421.2" cy="103.1" rx="5.7" ry="0.9" transform="rotate(-25 1424.4 103.8)" fill="#e8f0b0" opacity="0.35"/>
<ellipse cx="1534.4" cy="78.7" rx="15.2" ry="3.6" transform="rotate(-64 1534.4 78.7)" fill="#66722a"/>
<ellipse cx="1534.4" cy="78.7" rx="15.2" ry="3.6" transform="rotate(-64 1534.4 78.7)" fill="url(#shadeG)"/>
<ellipse cx="1530.6" cy="77.6" rx="6.8" ry="1.3" transform="rotate(-64 1534.4 78.7)" fill="#e8f0b0" opacity="0.35"/>
<ellipse cx="1563.5" cy="191.0" rx="15.1" ry="3.5" transform="rotate(-4 1563.5 191.0)" fill="#b4bc74"/>
<ellipse cx="1563.5" cy="191.0" rx="15.1" ry="3.5" transform="rotate(-4 1563.5 191.0)" fill="url(#shadeG)"/>
<ellipse cx="1559.8" cy="189.9" rx="6.8" ry="1.2" transform="rotate(-4 1563.5 191.0)" fill="#e8f0b0" opacity="0.35"/>
<ellipse cx="1406.0" cy="181.7" rx="10.6" ry="2.5" transform="rotate(2 1406.0 181.7)" fill="#8e9e46"/>
<ellipse cx="1406.0" cy="181.7" rx="10.6" ry="2.5" transform="rotate(2 1406.0 181.7)" fill="url(#shadeG)"/>
<ellipse cx="1403.4" cy="180.9" rx="4.8" ry="0.9" transform="rotate(2 1406.0 181.7)" fill="#e8f0b0" opacity="0.35"/>
<ellipse cx="1485.0" cy="136.9" rx="13.1" ry="3.0" transform="rotate(-32 1485.0 136.9)" fill="#aab868"/>
<ellipse cx="1485.0" cy="136.9" rx="13.1" ry="3.0" transform="rotate(-32 1485.0 136.9)" fill="url(#shadeG)"/>
<ellipse cx="1481.7" cy="136.0" rx="5.9" ry="1.1" transform="rotate(-32 1485.0 136.9)" fill="#e8f0b0" opacity="0.35"/>
<ellipse cx="1530.7" cy="101.6" rx="13.7" ry="2.4" transform="rotate(-22 1530.7 101.6)" fill="#98a850"/>
<ellipse cx="1530.7" cy="101.6" rx="13.7" ry="2.4" transform="rotate(-22 1530.7 101.6)" fill="url(#shadeG)"/>
<ellipse cx="1527.2" cy="100.8" rx="6.2" ry="0.8" transform="rotate(-22 1530.7 101.6)" fill="#e8f0b0" opacity="0.35"/>
<ellipse cx="1432.0" cy="173.9" rx="15.4" ry="3.1" transform="rotate(-65 1432.0 173.9)" fill="#8e9e46"/>
<ellipse cx="1432.0" cy="173.9" rx="15.4" ry="3.1" transform="rotate(-65 1432.0 173.9)" fill="url(#shadeG)"/>
<ellipse cx="1428.2" cy="172.9" rx="6.9" ry="1.1" transform="rotate(-65 1432.0 173.9)" fill="#e8f0b0" opacity="0.35"/>
<ellipse cx="1408.9" cy="197.8" rx="12.4" ry="3.5" transform="rotate(-31 1408.9 197.8)" fill="#8e9e46"/>
<ellipse cx="1408.9" cy="197.8" rx="12.4" ry="3.5" transform="rotate(-31 1408.9 197.8)" fill="url(#shadeG)"/>
<ellipse cx="1405.8" cy="196.7" rx="5.6" ry="1.2" transform="rotate(-31 1408.9 197.8)" fill="#e8f0b0" opacity="0.35"/>
<ellipse cx="1393.9" cy="181.9" rx="14.7" ry="2.7" transform="rotate(8 1393.9 181.9)" fill="#72802e"/>
<ellipse cx="1393.9" cy="181.9" rx="14.7" ry="2.7" transform="rotate(8 1393.9 181.9)" fill="url(#shadeG)"/>
<ellipse cx="1390.2" cy="181.1" rx="6.6" ry="1.0" transform="rotate(8 1393.9 181.9)" fill="#e8f0b0" opacity="0.35"/>
<ellipse cx="1451.3" cy="181.9" rx="13.3" ry="2.9" transform="rotate(-39 1451.3 181.9)" fill="#72802e"/>
<ellipse cx="1451.3" cy="181.9" rx="13.3" ry="2.9" transform="rotate(-39 1451.3 181.9)" fill="url(#shadeG)"/>
<ellipse cx="1447.9" cy="181.0" rx="6.0" ry="1.0" transform="rotate(-39 1451.3 181.9)" fill="#e8f0b0" opacity="0.35"/>
<ellipse cx="1547.3" cy="103.0" rx="14.9" ry="2.5" transform="rotate(0 1547.3 103.0)" fill="#a0b058"/>
<ellipse cx="1547.3" cy="103.0" rx="14.9" ry="2.5" transform="rotate(0 1547.3 103.0)" fill="url(#shadeG)"/>
<ellipse cx="1543.5" cy="102.2" rx="6.7" ry="0.9" transform="rotate(0 1547.3 103.0)" fill="#e8f0b0" opacity="0.35"/>
<ellipse cx="1454.1" cy="137.3" rx="11.5" ry="2.9" transform="rotate(-50 1454.1 137.3)" fill="#a0b058"/>
<ellipse cx="1454.1" cy="137.3" rx="11.5" ry="2.9" transform="rotate(-50 1454.1 137.3)" fill="url(#shadeG)"/>
<ellipse cx="1451.2" cy="136.4" rx="5.2" ry="1.0" transform="rotate(-50 1454.1 137.3)" fill="#e8f0b0" opacity="0.35"/>
<ellipse cx="1404.2" cy="155.3" rx="14.3" ry="3.3" transform="rotate(-29 1404.2 155.3)" fill="#72802e"/>
<ellipse cx="1404.2" cy="155.3" rx="14.3" ry="3.3" transform="rotate(-29 1404.2 155.3)" fill="url(#shadeG)"/>
<ellipse cx="1400.6" cy="154.3" rx="6.4" ry="1.1" transform="rotate(-29 1404.2 155.3)" fill="#e8f0b0" opacity="0.35"/>
<ellipse cx="1395.4" cy="150.2" rx="12.7" ry="2.8" transform="rotate(4 1395.4 150.2)" fill="#a0b058"/>
<ellipse cx="1395.4" cy="150.2" rx="12.7" ry="2.8" transform="rotate(4 1395.4 150.2)" fill="url(#shadeG)"/>
<ellipse cx="1392.2" cy="149.4" rx="5.7" ry="1.0" transform="rotate(4 1395.4 150.2)" fill="#e8f0b0" opacity="0.35"/>
<ellipse cx="1464.6" cy="158.9" rx="11.3" ry="3.0" transform="rotate(-16 1464.6 158.9)" fill="#98a850"/>
<ellipse cx="1464.6" cy="158.9" rx="11.3" ry="3.0" transform="rotate(-16 1464.6 158.9)" fill="url(#shadeG)"/>
<ellipse cx="1461.7" cy="158.0" rx="5.1" ry="1.0" transform="rotate(-16 1464.6 158.9)" fill="#e8f0b0" opacity="0.35"/>
<ellipse cx="1448.0" cy="74.8" rx="12.5" ry="3.1" transform="rotate(-18 1448.0 74.8)" fill="#a0b058"/>
<ellipse cx="1448.0" cy="74.8" rx="12.5" ry="3.1" transform="rotate(-18 1448.0 74.8)" fill="url(#shadeG)"/>
<ellipse cx="1444.8" cy="73.8" rx="5.6" ry="1.1" transform="rotate(-18 1448.0 74.8)" fill="#e8f0b0" opacity="0.35"/>
<ellipse cx="1547.2" cy="160.1" rx="10.6" ry="3.5" transform="rotate(-3 1547.2 160.1)" fill="#8e9e46"/>
<ellipse cx="1547.2" cy="160.1" rx="10.6" ry="3.5" transform="rotate(-3 1547.2 160.1)" fill="url(#shadeG)"/>
<ellipse cx="1544.6" cy="159.1" rx="4.8" ry="1.2" transform="rotate(-3 1547.2 160.1)" fill="#e8f0b0" opacity="0.35"/>
<ellipse cx="1543.1" cy="128.4" rx="14.6" ry="3.5" transform="rotate(-62 1543.1 128.4)" fill="#b4bc74"/>
<ellipse cx="1543.1" cy="128.4" rx="14.6" ry="3.5" transform="rotate(-62 1543.1 128.4)" fill="url(#shadeG)"/>
<ellipse cx="1539.4" cy="127.3" rx="6.6" ry="1.2" transform="rotate(-62 1543.1 128.4)" fill="#e8f0b0" opacity="0.35"/>
<ellipse cx="1505.7" cy="69.1" rx="10.5" ry="3.3" transform="rotate(8 1505.7 69.1)" fill="#98a850"/>
<ellipse cx="1505.7" cy="69.1" rx="10.5" ry="3.3" transform="rotate(8 1505.7 69.1)" fill="url(#shadeG)"/>
<ellipse cx="1503.1" cy="68.1" rx="4.7" ry="1.1" transform="rotate(8 1505.7 69.1)" fill="#e8f0b0" opacity="0.35"/>
<ellipse cx="1496.0" cy="123.0" rx="13.5" ry="2.4" transform="rotate(-34 1496.0 123.0)" fill="#aab868"/>
<ellipse cx="1496.0" cy="123.0" rx="13.5" ry="2.4" transform="rotate(-34 1496.0 123.0)" fill="url(#shadeG)"/>
<ellipse cx="1492.6" cy="122.3" rx="6.1" ry="0.8" transform="rotate(-34 1496.0 123.0)" fill="#e8f0b0" opacity="0.35"/>
<ellipse cx="1446.0" cy="183.6" rx="14.8" ry="2.8" transform="rotate(-38 1446.0 183.6)" fill="#a0b058"/>
<ellipse cx="1446.0" cy="183.6" rx="14.8" ry="2.8" transform="rotate(-38 1446.0 183.6)" fill="url(#shadeG)"/>
<ellipse cx="1442.3" cy="182.8" rx="6.7" ry="1.0" transform="rotate(-38 1446.0 183.6)" fill="#e8f0b0" opacity="0.35"/>
<ellipse cx="1508.8" cy="206.9" rx="11.8" ry="2.9" transform="rotate(-59 1508.8 206.9)" fill="#98a850"/>
<ellipse cx="1508.8" cy="206.9" rx="11.8" ry="2.9" transform="rotate(-59 1508.8 206.9)" fill="url(#shadeG)"/>
<ellipse cx="1505.9" cy="206.0" rx="5.3" ry="1.0" transform="rotate(-59 1508.8 206.9)" fill="#e8f0b0" opacity="0.35"/>
<ellipse cx="1407.6" cy="82.5" rx="13.2" ry="3.4" transform="rotate(-22 1407.6 82.5)" fill="#66722a"/>
<ellipse cx="1407.6" cy="82.5" rx="13.2" ry="3.4" transform="rotate(-22 1407.6 82.5)" fill="url(#shadeG)"/>
<ellipse cx="1404.3" cy="81.4" rx="5.9" ry="1.2" transform="rotate(-22 1407.6 82.5)" fill="#e8f0b0" opacity="0.35"/>
<ellipse cx="1573.5" cy="136.0" rx="13.2" ry="2.5" transform="rotate(-24 1573.5 136.0)" fill="#b4bc74"/>
<ellipse cx="1573.5" cy="136.0" rx="13.2" ry="2.5" transform="rotate(-24 1573.5 136.0)" fill="url(#shadeG)"/>
<ellipse cx="1570.1" cy="135.2" rx="6.0" ry="0.9" transform="rotate(-24 1573.5 136.0)" fill="#e8f0b0" opacity="0.35"/>
<ellipse cx="1538.0" cy="200.2" rx="14.5" ry="2.7" transform="rotate(10 1538.0 200.2)" fill="#98a850"/>
<ellipse cx="1538.0" cy="200.2" rx="14.5" ry="2.7" transform="rotate(10 1538.0 200.2)" fill="url(#shadeG)"/>
<ellipse cx="1534.4" cy="199.4" rx="6.5" ry="0.9" transform="rotate(10 1538.0 200.2)" fill="#e8f0b0" opacity="0.35"/>
<ellipse cx="1453.7" cy="199.9" rx="14.2" ry="2.5" transform="rotate(-48 1453.7 199.9)" fill="#98a850"/>
<ellipse cx="1453.7" cy="199.9" rx="14.2" ry="2.5" transform="rotate(-48 1453.7 199.9)" fill="url(#shadeG)"/>
<ellipse cx="1450.1" cy="199.1" rx="6.4" ry="0.9" transform="rotate(-48 1453.7 199.9)" fill="#e8f0b0" opacity="0.35"/>
<ellipse cx="1425.5" cy="90.7" rx="11.4" ry="2.9" transform="rotate(-40 1425.5 90.7)" fill="#a0b058"/>
<ellipse cx="1425.5" cy="90.7" rx="11.4" ry="2.9" transform="rotate(-40 1425.5 90.7)" fill="url(#shadeG)"/>
<ellipse cx="1422.7" cy="89.8" rx="5.1" ry="1.0" transform="rotate(-40 1425.5 90.7)" fill="#e8f0b0" opacity="0.35"/>
<ellipse cx="1558.9" cy="201.4" rx="15.2" ry="3.2" transform="rotate(-29 1558.9 201.4)" fill="#98a850"/>
<ellipse cx="1558.9" cy="201.4" rx="15.2" ry="3.2" transform="rotate(-29 1558.9 201.4)" fill="url(#shadeG)"/>
<ellipse cx="1555.1" cy="200.4" rx="6.8" ry="1.1" transform="rotate(-29 1558.9 201.4)" fill="#e8f0b0" opacity="0.35"/>
<ellipse cx="1542.8" cy="118.3" rx="13.6" ry="2.7" transform="rotate(-64 1542.8 118.3)" fill="#72802e"/>
<ellipse cx="1542.8" cy="118.3" rx="13.6" ry="2.7" transform="rotate(-64 1542.8 118.3)" fill="url(#shadeG)"/>
<ellipse cx="1539.4" cy="117.5" rx="6.1" ry="0.9" transform="rotate(-64 1542.8 118.3)" fill="#e8f0b0" opacity="0.35"/>
<ellipse cx="1567.6" cy="150.6" rx="14.0" ry="2.8" transform="rotate(0 1567.6 150.6)" fill="#b4bc74"/>
<ellipse cx="1567.6" cy="150.6" rx="14.0" ry="2.8" transform="rotate(0 1567.6 150.6)" fill="url(#shadeG)"/>
<ellipse cx="1564.1" cy="149.8" rx="6.3" ry="1.0" transform="rotate(0 1567.6 150.6)" fill="#e8f0b0" opacity="0.35"/>
<ellipse cx="1472.5" cy="172.9" rx="14.5" ry="2.7" transform="rotate(-59 1472.5 172.9)" fill="#8e9e46"/>
<ellipse cx="1472.5" cy="172.9" rx="14.5" ry="2.7" transform="rotate(-59 1472.5 172.9)" fill="url(#shadeG)"/>
<ellipse cx="1468.9" cy="172.1" rx="6.5" ry="0.9" transform="rotate(-59 1472.5 172.9)" fill="#e8f0b0" opacity="0.35"/>
<ellipse cx="1485.2" cy="167.9" rx="12.6" ry="3.3" transform="rotate(-26 1485.2 167.9)" fill="#98a850"/>
<ellipse cx="1485.2" cy="167.9" rx="12.6" ry="3.3" transform="rotate(-26 1485.2 167.9)" fill="url(#shadeG)"/>
<ellipse cx="1482.0" cy="166.9" rx="5.7" ry="1.2" transform="rotate(-26 1485.2 167.9)" fill="#e8f0b0" opacity="0.35"/>
<ellipse cx="1503.9" cy="204.0" rx="11.7" ry="3.2" transform="rotate(-56 1503.9 204.0)" fill="#aab868"/>
<ellipse cx="1503.9" cy="204.0" rx="11.7" ry="3.2" transform="rotate(-56 1503.9 204.0)" fill="url(#shadeG)"/>
<ellipse cx="1500.9" cy="203.1" rx="5.3" ry="1.1" transform="rotate(-56 1503.9 204.0)" fill="#e8f0b0" opacity="0.35"/>
<ellipse cx="1557.9" cy="141.2" rx="11.3" ry="3.0" transform="rotate(-32 1557.9 141.2)" fill="#aab868"/>
<ellipse cx="1557.9" cy="141.2" rx="11.3" ry="3.0" transform="rotate(-32 1557.9 141.2)" fill="url(#shadeG)"/>
<ellipse cx="1555.1" cy="140.3" rx="5.1" ry="1.0" transform="rotate(-32 1557.9 141.2)" fill="#e8f0b0" opacity="0.35"/>
<ellipse cx="1527.9" cy="114.7" rx="13.1" ry="3.2" transform="rotate(-43 1527.9 114.7)" fill="#a0b058"/>
<ellipse cx="1527.9" cy="114.7" rx="13.1" ry="3.2" transform="rotate(-43 1527.9 114.7)" fill="url(#shadeG)"/>
<ellipse cx="1524.7" cy="113.8" rx="5.9" ry="1.1" transform="rotate(-43 1527.9 114.7)" fill="#e8f0b0" opacity="0.35"/>
<ellipse cx="1547.2" cy="120.2" rx="11.9" ry="2.7" transform="rotate(-19 1547.2 120.2)" fill="#66722a"/>
<ellipse cx="1547.2" cy="120.2" rx="11.9" ry="2.7" transform="rotate(-19 1547.2 120.2)" fill="url(#shadeG)"/>
<ellipse cx="1544.2" cy="119.4" rx="5.4" ry="0.9" transform="rotate(-19 1547.2 120.2)" fill="#e8f0b0" opacity="0.35"/>
<ellipse cx="1530.1" cy="163.7" rx="13.1" ry="2.7" transform="rotate(-17 1530.1 163.7)" fill="#82923c"/>
<ellipse cx="1530.1" cy="163.7" rx="13.1" ry="2.7" transform="rotate(-17 1530.1 163.7)" fill="url(#shadeG)"/>
<ellipse cx="1526.8" cy="162.9" rx="5.9" ry="0.9" transform="rotate(-17 1530.1 163.7)" fill="#e8f0b0" opacity="0.35"/>
<ellipse cx="1411.4" cy="212.9" rx="14.0" ry="2.6" transform="rotate(-28 1411.4 212.9)" fill="#b4bc74"/>
<ellipse cx="1411.4" cy="212.9" rx="14.0" ry="2.6" transform="rotate(-28 1411.4 212.9)" fill="url(#shadeG)"/>
<ellipse cx="1407.9" cy="212.1" rx="6.3" ry="0.9" transform="rotate(-28 1411.4 212.9)" fill="#e8f0b0" opacity="0.35"/>
<ellipse cx="1561.2" cy="164.4" rx="12.7" ry="2.7" transform="rotate(-17 1561.2 164.4)" fill="#aab868"/>
<ellipse cx="1561.2" cy="164.4" rx="12.7" ry="2.7" transform="rotate(-17 1561.2 164.4)" fill="url(#shadeG)"/>
<ellipse cx="1558.0" cy="163.6" rx="5.7" ry="0.9" transform="rotate(-17 1561.2 164.4)" fill="#e8f0b0" opacity="0.35"/>
<ellipse cx="1471.1" cy="196.0" rx="13.4" ry="2.7" transform="rotate(-42 1471.1 196.0)" fill="#72802e"/>
<ellipse cx="1471.1" cy="196.0" rx="13.4" ry="2.7" transform="rotate(-42 1471.1 196.0)" fill="url(#shadeG)"/>
<ellipse cx="1467.7" cy="195.2" rx="6.0" ry="1.0" transform="rotate(-42 1471.1 196.0)" fill="#e8f0b0" opacity="0.35"/>
<ellipse cx="1412.4" cy="154.2" rx="14.1" ry="2.8" transform="rotate(-63 1412.4 154.2)" fill="#b4bc74"/>
<ellipse cx="1412.4" cy="154.2" rx="14.1" ry="2.8" transform="rotate(-63 1412.4 154.2)" fill="url(#shadeG)"/>
<ellipse cx="1408.8" cy="153.4" rx="6.3" ry="1.0" transform="rotate(-63 1412.4 154.2)" fill="#e8f0b0" opacity="0.35"/>
<ellipse cx="1573.8" cy="120.8" rx="11.5" ry="2.7" transform="rotate(-1 1573.8 120.8)" fill="#82923c"/>
<ellipse cx="1573.8" cy="120.8" rx="11.5" ry="2.7" transform="rotate(-1 1573.8 120.8)" fill="url(#shadeG)"/>
<ellipse cx="1570.9" cy="120.0" rx="5.2" ry="0.9" transform="rotate(-1 1573.8 120.8)" fill="#e8f0b0" opacity="0.35"/>
<ellipse cx="1393.7" cy="165.1" rx="11.8" ry="3.4" transform="rotate(-25 1393.7 165.1)" fill="#72802e"/>
<ellipse cx="1393.7" cy="165.1" rx="11.8" ry="3.4" transform="rotate(-25 1393.7 165.1)" fill="url(#shadeG)"/>
<ellipse cx="1390.7" cy="164.1" rx="5.3" ry="1.2" transform="rotate(-25 1393.7 165.1)" fill="#e8f0b0" opacity="0.35"/>
<ellipse cx="1472.0" cy="212.9" rx="13.7" ry="2.7" transform="rotate(-39 1472.0 212.9)" fill="#98a850"/>
<ellipse cx="1472.0" cy="212.9" rx="13.7" ry="2.7" transform="rotate(-39 1472.0 212.9)" fill="url(#shadeG)"/>
<ellipse cx="1468.6" cy="212.1" rx="6.2" ry="0.9" transform="rotate(-39 1472.0 212.9)" fill="#e8f0b0" opacity="0.35"/>
<ellipse cx="1528.9" cy="212.7" rx="10.5" ry="2.8" transform="rotate(-25 1528.9 212.7)" fill="#98a850"/>
<ellipse cx="1528.9" cy="212.7" rx="10.5" ry="2.8" transform="rotate(-25 1528.9 212.7)" fill="url(#shadeG)"/>
<ellipse cx="1526.3" cy="211.9" rx="4.7" ry="1.0" transform="rotate(-25 1528.9 212.7)" fill="#e8f0b0" opacity="0.35"/>
<ellipse cx="1561.1" cy="216.0" rx="15.5" ry="3.2" transform="rotate(-8 1561.1 216.0)" fill="#82923c"/>
<ellipse cx="1561.1" cy="216.0" rx="15.5" ry="3.2" transform="rotate(-8 1561.1 216.0)" fill="url(#shadeG)"/>
<ellipse cx="1557.2" cy="215.1" rx="7.0" ry="1.1" transform="rotate(-8 1561.1 216.0)" fill="#e8f0b0" opacity="0.35"/>
<ellipse cx="1442.9" cy="179.1" rx="13.7" ry="2.6" transform="rotate(4 1442.9 179.1)" fill="#b4bc74"/>
<ellipse cx="1442.9" cy="179.1" rx="13.7" ry="2.6" transform="rotate(4 1442.9 179.1)" fill="url(#shadeG)"/>
<ellipse cx="1439.5" cy="178.4" rx="6.2" ry="0.9" transform="rotate(4 1442.9 179.1)" fill="#e8f0b0" opacity="0.35"/>
<ellipse cx="1520.6" cy="106.3" rx="14.6" ry="3.4" transform="rotate(-26 1520.6 106.3)" fill="#aab868"/>
<ellipse cx="1520.6" cy="106.3" rx="14.6" ry="3.4" transform="rotate(-26 1520.6 106.3)" fill="url(#shadeG)"/>
<ellipse cx="1516.9" cy="105.3" rx="6.6" ry="1.2" transform="rotate(-26 1520.6 106.3)" fill="#e8f0b0" opacity="0.35"/>
<ellipse cx="1466.1" cy="194.7" rx="14.7" ry="2.7" transform="rotate(-64 1466.1 194.7)" fill="#66722a"/>
<ellipse cx="1466.1" cy="194.7" rx="14.7" ry="2.7" transform="rotate(-64 1466.1 194.7)" fill="url(#shadeG)"/>
<ellipse cx="1462.4" cy="193.9" rx="6.6" ry="1.0" transform="rotate(-64 1466.1 194.7)" fill="#e8f0b0" opacity="0.35"/>
<ellipse cx="1551.1" cy="94.0" rx="15.4" ry="3.2" transform="rotate(-38 1551.1 94.0)" fill="#66722a"/>
<ellipse cx="1551.1" cy="94.0" rx="15.4" ry="3.2" transform="rotate(-38 1551.1 94.0)" fill="url(#shadeG)"/>
<ellipse cx="1547.2" cy="93.0" rx="7.0" ry="1.1" transform="rotate(-38 1551.1 94.0)" fill="#e8f0b0" opacity="0.35"/>
<ellipse cx="1509.3" cy="166.9" rx="14.8" ry="2.5" transform="rotate(-3 1509.3 166.9)" fill="#b4bc74"/>
<ellipse cx="1509.3" cy="166.9" rx="14.8" ry="2.5" transform="rotate(-3 1509.3 166.9)" fill="url(#shadeG)"/>
<ellipse cx="1505.5" cy="166.1" rx="6.7" ry="0.9" transform="rotate(-3 1509.3 166.9)" fill="#e8f0b0" opacity="0.35"/>
<ellipse cx="1484.0" cy="108.5" rx="13.6" ry="2.6" transform="rotate(13 1484.0 108.5)" fill="#8e9e46"/>
<ellipse cx="1484.0" cy="108.5" rx="13.6" ry="2.6" transform="rotate(13 1484.0 108.5)" fill="url(#shadeG)"/>
<ellipse cx="1480.6" cy="107.7" rx="6.1" ry="0.9" transform="rotate(13 1484.0 108.5)" fill="#e8f0b0" opacity="0.35"/>
<ellipse cx="1519.2" cy="91.7" rx="12.0" ry="2.8" transform="rotate(7 1519.2 91.7)" fill="#72802e"/>
<ellipse cx="1519.2" cy="91.7" rx="12.0" ry="2.8" transform="rotate(7 1519.2 91.7)" fill="url(#shadeG)"/>
<ellipse cx="1516.2" cy="90.8" rx="5.4" ry="1.0" transform="rotate(7 1519.2 91.7)" fill="#e8f0b0" opacity="0.35"/>
<ellipse cx="1415.8" cy="136.1" rx="12.2" ry="2.8" transform="rotate(-32 1415.8 136.1)" fill="#aab868"/>
<ellipse cx="1415.8" cy="136.1" rx="12.2" ry="2.8" transform="rotate(-32 1415.8 136.1)" fill="url(#shadeG)"/>
<ellipse cx="1412.8" cy="135.2" rx="5.5" ry="1.0" transform="rotate(-32 1415.8 136.1)" fill="#e8f0b0" opacity="0.35"/>
<ellipse cx="1510.4" cy="124.4" rx="11.0" ry="3.4" transform="rotate(-40 1510.4 124.4)" fill="#82923c"/>
<ellipse cx="1510.4" cy="124.4" rx="11.0" ry="3.4" transform="rotate(-40 1510.4 124.4)" fill="url(#shadeG)"/>
<ellipse cx="1507.6" cy="123.4" rx="4.9" ry="1.2" transform="rotate(-40 1510.4 124.4)" fill="#e8f0b0" opacity="0.35"/>
<ellipse cx="1426.2" cy="148.7" rx="11.6" ry="2.7" transform="rotate(3 1426.2 148.7)" fill="#82923c"/>
<ellipse cx="1426.2" cy="148.7" rx="11.6" ry="2.7" transform="rotate(3 1426.2 148.7)" fill="url(#shadeG)"/>
<ellipse cx="1423.3" cy="147.9" rx="5.2" ry="1.0" transform="rotate(3 1426.2 148.7)" fill="#e8f0b0" opacity="0.35"/>
<ellipse cx="1533.6" cy="133.3" rx="11.4" ry="3.2" transform="rotate(-41 1533.6 133.3)" fill="#aab868"/>
<ellipse cx="1533.6" cy="133.3" rx="11.4" ry="3.2" transform="rotate(-41 1533.6 133.3)" fill="url(#shadeG)"/>
<ellipse cx="1530.8" cy="132.4" rx="5.1" ry="1.1" transform="rotate(-41 1533.6 133.3)" fill="#e8f0b0" opacity="0.35"/>
<ellipse cx="1466.1" cy="146.4" rx="15.0" ry="2.8" transform="rotate(-55 1466.1 146.4)" fill="#b4bc74"/>
<ellipse cx="1466.1" cy="146.4" rx="15.0" ry="2.8" transform="rotate(-55 1466.1 146.4)" fill="url(#shadeG)"/>
<ellipse cx="1462.3" cy="145.6" rx="6.7" ry="1.0" transform="rotate(-55 1466.1 146.4)" fill="#e8f0b0" opacity="0.35"/>
<ellipse cx="1493.9" cy="136.1" rx="10.7" ry="3.4" transform="rotate(5 1493.9 136.1)" fill="#8e9e46"/>
<ellipse cx="1493.9" cy="136.1" rx="10.7" ry="3.4" transform="rotate(5 1493.9 136.1)" fill="url(#shadeG)"/>
<ellipse cx="1491.2" cy="135.1" rx="4.8" ry="1.2" transform="rotate(5 1493.9 136.1)" fill="#e8f0b0" opacity="0.35"/>
<ellipse cx="1433.8" cy="111.8" rx="11.2" ry="2.8" transform="rotate(13 1433.8 111.8)" fill="#72802e"/>
<ellipse cx="1433.8" cy="111.8" rx="11.2" ry="2.8" transform="rotate(13 1433.8 111.8)" fill="url(#shadeG)"/>
<ellipse cx="1431.0" cy="111.0" rx="5.0" ry="1.0" transform="rotate(13 1433.8 111.8)" fill="#e8f0b0" opacity="0.35"/>
<ellipse cx="1495.3" cy="111.7" rx="10.4" ry="3.5" transform="rotate(-67 1495.3 111.7)" fill="#82923c"/>
<ellipse cx="1495.3" cy="111.7" rx="10.4" ry="3.5" transform="rotate(-67 1495.3 111.7)" fill="url(#shadeG)"/>
<ellipse cx="1492.7" cy="110.6" rx="4.7" ry="1.2" transform="rotate(-67 1495.3 111.7)" fill="#e8f0b0" opacity="0.35"/>
<ellipse cx="1456.4" cy="164.9" rx="11.3" ry="2.9" transform="rotate(-10 1456.4 164.9)" fill="#a0b058"/>
<ellipse cx="1456.4" cy="164.9" rx="11.3" ry="2.9" transform="rotate(-10 1456.4 164.9)" fill="url(#shadeG)"/>
<ellipse cx="1453.5" cy="164.0" rx="5.1" ry="1.0" transform="rotate(-10 1456.4 164.9)" fill="#e8f0b0" opacity="0.35"/>
<ellipse cx="1524.5" cy="165.7" rx="12.9" ry="3.0" transform="rotate(-6 1524.5 165.7)" fill="#b4bc74"/>
<ellipse cx="1524.5" cy="165.7" rx="12.9" ry="3.0" transform="rotate(-6 1524.5 165.7)" fill="url(#shadeG)"/>
<ellipse cx="1521.3" cy="164.8" rx="5.8" ry="1.1" transform="rotate(-6 1524.5 165.7)" fill="#e8f0b0" opacity="0.35"/>
<ellipse cx="1489.8" cy="157.6" rx="11.0" ry="2.6" transform="rotate(-26 1489.8 157.6)" fill="#b4bc74"/>
<ellipse cx="1489.8" cy="157.6" rx="11.0" ry="2.6" transform="rotate(-26 1489.8 157.6)" fill="url(#shadeG)"/>
<ellipse cx="1487.0" cy="156.8" rx="5.0" ry="0.9" transform="rotate(-26 1489.8 157.6)" fill="#e8f0b0" opacity="0.35"/>
<ellipse cx="1499.6" cy="183.8" rx="14.2" ry="2.8" transform="rotate(-51 1499.6 183.8)" fill="#82923c"/>
<ellipse cx="1499.6" cy="183.8" rx="14.2" ry="2.8" transform="rotate(-51 1499.6 183.8)" fill="url(#shadeG)"/>
<ellipse cx="1496.0" cy="182.9" rx="6.4" ry="1.0" transform="rotate(-51 1499.6 183.8)" fill="#e8f0b0" opacity="0.35"/>
<ellipse cx="1402.3" cy="215.7" rx="13.4" ry="2.8" transform="rotate(11 1402.3 215.7)" fill="#aab868"/>
<ellipse cx="1402.3" cy="215.7" rx="13.4" ry="2.8" transform="rotate(11 1402.3 215.7)" fill="url(#shadeG)"/>
<ellipse cx="1398.9" cy="214.9" rx="6.0" ry="1.0" transform="rotate(11 1402.3 215.7)" fill="#e8f0b0" opacity="0.35"/>
<ellipse cx="1428.1" cy="131.5" rx="14.3" ry="3.0" transform="rotate(-36 1428.1 131.5)" fill="#66722a"/>
<ellipse cx="1428.1" cy="131.5" rx="14.3" ry="3.0" transform="rotate(-36 1428.1 131.5)" fill="url(#shadeG)"/>
<ellipse cx="1424.6" cy="130.6" rx="6.4" ry="1.0" transform="rotate(-36 1428.1 131.5)" fill="#e8f0b0" opacity="0.35"/>
<ellipse cx="1443.4" cy="168.4" rx="12.9" ry="2.6" transform="rotate(8 1443.4 168.4)" fill="#aab868"/>
<ellipse cx="1443.4" cy="168.4" rx="12.9" ry="2.6" transform="rotate(8 1443.4 168.4)" fill="url(#shadeG)"/>
<ellipse cx="1440.2" cy="167.6" rx="5.8" ry="0.9" transform="rotate(8 1443.4 168.4)" fill="#e8f0b0" opacity="0.35"/>
<ellipse cx="1425.0" cy="196.4" rx="11.1" ry="3.3" transform="rotate(-48 1425.0 196.4)" fill="#72802e"/>
<ellipse cx="1425.0" cy="196.4" rx="11.1" ry="3.3" transform="rotate(-48 1425.0 196.4)" fill="url(#shadeG)"/>
<ellipse cx="1422.2" cy="195.4" rx="5.0" ry="1.2" transform="rotate(-48 1425.0 196.4)" fill="#e8f0b0" opacity="0.35"/>
<ellipse cx="1457.1" cy="75.7" rx="10.6" ry="2.6" transform="rotate(1 1457.1 75.7)" fill="#66722a"/>
<ellipse cx="1457.1" cy="75.7" rx="10.6" ry="2.6" transform="rotate(1 1457.1 75.7)" fill="url(#shadeG)"/>
<ellipse cx="1454.4" cy="75.0" rx="4.7" ry="0.9" transform="rotate(1 1457.1 75.7)" fill="#e8f0b0" opacity="0.35"/>
<ellipse cx="1433.2" cy="143.0" rx="10.5" ry="3.1" transform="rotate(-3 1433.2 143.0)" fill="#66722a"/>
<ellipse cx="1433.2" cy="143.0" rx="10.5" ry="3.1" transform="rotate(-3 1433.2 143.0)" fill="url(#shadeG)"/>
<ellipse cx="1430.5" cy="142.1" rx="4.7" ry="1.1" transform="rotate(-3 1433.2 143.0)" fill="#e8f0b0" opacity="0.35"/>
<ellipse cx="1418.6" cy="176.0" rx="13.2" ry="3.4" transform="rotate(-7 1418.6 176.0)" fill="#8e9e46"/>
<ellipse cx="1418.6" cy="176.0" rx="13.2" ry="3.4" transform="rotate(-7 1418.6 176.0)" fill="url(#shadeG)"/>
<ellipse cx="1415.3" cy="175.0" rx="5.9" ry="1.2" transform="rotate(-7 1418.6 176.0)" fill="#e8f0b0" opacity="0.35"/>
<ellipse cx="1480.9" cy="176.7" rx="10.9" ry="3.5" transform="rotate(8 1480.9 176.7)" fill="#98a850"/>
<ellipse cx="1480.9" cy="176.7" rx="10.9" ry="3.5" transform="rotate(8 1480.9 176.7)" fill="url(#shadeG)"/>
<ellipse cx="1478.2" cy="175.7" rx="4.9" ry="1.2" transform="rotate(8 1480.9 176.7)" fill="#e8f0b0" opacity="0.35"/>
<ellipse cx="1566.7" cy="165.7" rx="11.7" ry="3.6" transform="rotate(-22 1566.7 165.7)" fill="#8e9e46"/>
<ellipse cx="1566.7" cy="165.7" rx="11.7" ry="3.6" transform="rotate(-22 1566.7 165.7)" fill="url(#shadeG)"/>
<ellipse cx="1563.7" cy="164.6" rx="5.3" ry="1.3" transform="rotate(-22 1566.7 165.7)" fill="#e8f0b0" opacity="0.35"/>
<ellipse cx="1542.3" cy="85.5" rx="14.8" ry="3.1" transform="rotate(-51 1542.3 85.5)" fill="#b4bc74"/>
<ellipse cx="1542.3" cy="85.5" rx="14.8" ry="3.1" transform="rotate(-51 1542.3 85.5)" fill="url(#shadeG)"/>
<ellipse cx="1538.6" cy="84.6" rx="6.6" ry="1.1" transform="rotate(-51 1542.3 85.5)" fill="#e8f0b0" opacity="0.35"/>
<ellipse cx="1413.5" cy="85.8" rx="13.9" ry="2.6" transform="rotate(-33 1413.5 85.8)" fill="#b4bc74"/>
<ellipse cx="1413.5" cy="85.8" rx="13.9" ry="2.6" transform="rotate(-33 1413.5 85.8)" fill="url(#shadeG)"/>
<ellipse cx="1410.0" cy="85.0" rx="6.3" ry="0.9" transform="rotate(-33 1413.5 85.8)" fill="#e8f0b0" opacity="0.35"/>
<ellipse cx="1454.7" cy="100.5" rx="12.3" ry="3.1" transform="rotate(-50 1454.7 100.5)" fill="#b4bc74"/>
<ellipse cx="1454.7" cy="100.5" rx="12.3" ry="3.1" transform="rotate(-50 1454.7 100.5)" fill="url(#shadeG)"/>
<ellipse cx="1451.7" cy="99.6" rx="5.5" ry="1.1" transform="rotate(-50 1454.7 100.5)" fill="#e8f0b0" opacity="0.35"/>
<ellipse cx="1562.8" cy="92.7" rx="13.4" ry="2.8" transform="rotate(-34 1562.8 92.7)" fill="#8e9e46"/>
<ellipse cx="1562.8" cy="92.7" rx="13.4" ry="2.8" transform="rotate(-34 1562.8 92.7)" fill="url(#shadeG)"/>
<ellipse cx="1559.4" cy="91.9" rx="6.0" ry="1.0" transform="rotate(-34 1562.8 92.7)" fill="#e8f0b0" opacity="0.35"/>
<ellipse cx="1403.7" cy="114.8" rx="12.9" ry="2.5" transform="rotate(-30 1403.7 114.8)" fill="#72802e"/>
<ellipse cx="1403.7" cy="114.8" rx="12.9" ry="2.5" transform="rotate(-30 1403.7 114.8)" fill="url(#shadeG)"/>
<ellipse cx="1400.5" cy="114.0" rx="5.8" ry="0.9" transform="rotate(-30 1403.7 114.8)" fill="#e8f0b0" opacity="0.35"/>
<ellipse cx="1411.9" cy="149.1" rx="13.8" ry="3.3" transform="rotate(-50 1411.9 149.1)" fill="#72802e"/>
<ellipse cx="1411.9" cy="149.1" rx="13.8" ry="3.3" transform="rotate(-50 1411.9 149.1)" fill="url(#shadeG)"/>
<ellipse cx="1408.5" cy="148.1" rx="6.2" ry="1.2" transform="rotate(-50 1411.9 149.1)" fill="#e8f0b0" opacity="0.35"/>
<ellipse cx="1502.7" cy="164.9" rx="11.4" ry="2.8" transform="rotate(-45 1502.7 164.9)" fill="#aab868"/>
<ellipse cx="1502.7" cy="164.9" rx="11.4" ry="2.8" transform="rotate(-45 1502.7 164.9)" fill="url(#shadeG)"/>
<ellipse cx="1499.9" cy="164.1" rx="5.1" ry="1.0" transform="rotate(-45 1502.7 164.9)" fill="#e8f0b0" opacity="0.35"/>
<ellipse cx="1483.5" cy="102.4" rx="15.3" ry="2.4" transform="rotate(4 1483.5 102.4)" fill="#aab868"/>
<ellipse cx="1483.5" cy="102.4" rx="15.3" ry="2.4" transform="rotate(4 1483.5 102.4)" fill="url(#shadeG)"/>
<ellipse cx="1479.7" cy="101.6" rx="6.9" ry="0.8" transform="rotate(4 1483.5 102.4)" fill="#e8f0b0" opacity="0.35"/>
<ellipse cx="1482.9" cy="148.0" rx="14.8" ry="3.4" transform="rotate(-24 1482.9 148.0)" fill="#66722a"/>
<ellipse cx="1482.9" cy="148.0" rx="14.8" ry="3.4" transform="rotate(-24 1482.9 148.0)" fill="url(#shadeG)"/>
<ellipse cx="1479.2" cy="147.0" rx="6.6" ry="1.2" transform="rotate(-24 1482.9 148.0)" fill="#e8f0b0" opacity="0.35"/>
<ellipse cx="1503.8" cy="100.7" rx="13.7" ry="3.5" transform="rotate(-68 1503.8 100.7)" fill="#98a850"/>
<ellipse cx="1503.8" cy="100.7" rx="13.7" ry="3.5" transform="rotate(-68 1503.8 100.7)" fill="url(#shadeG)"/>
<ellipse cx="1500.3" cy="99.6" rx="6.2" ry="1.2" transform="rotate(-68 1503.8 100.7)" fill="#e8f0b0" opacity="0.35"/>
<ellipse cx="1422.7" cy="112.5" rx="12.5" ry="3.1" transform="rotate(-46 1422.7 112.5)" fill="#b4bc74"/>
<ellipse cx="1422.7" cy="112.5" rx="12.5" ry="3.1" transform="rotate(-46 1422.7 112.5)" fill="url(#shadeG)"/>
<ellipse cx="1419.5" cy="111.6" rx="5.6" ry="1.1" transform="rotate(-46 1422.7 112.5)" fill="#e8f0b0" opacity="0.35"/>
<ellipse cx="1483.3" cy="124.5" rx="11.2" ry="2.5" transform="rotate(-68 1483.3 124.5)" fill="#82923c"/>
<ellipse cx="1483.3" cy="124.5" rx="11.2" ry="2.5" transform="rotate(-68 1483.3 124.5)" fill="url(#shadeG)"/>
<ellipse cx="1480.5" cy="123.7" rx="5.1" ry="0.9" transform="rotate(-68 1483.3 124.5)" fill="#e8f0b0" opacity="0.35"/>
<ellipse cx="1460.5" cy="176.9" rx="14.1" ry="2.5" transform="rotate(3 1460.5 176.9)" fill="#b4bc74"/>
<ellipse cx="1460.5" cy="176.9" rx="14.1" ry="2.5" transform="rotate(3 1460.5 176.9)" fill="url(#shadeG)"/>
<ellipse cx="1457.0" cy="176.2" rx="6.4" ry="0.9" transform="rotate(3 1460.5 176.9)" fill="#e8f0b0" opacity="0.35"/>
<ellipse cx="1462.2" cy="129.9" rx="12.8" ry="3.0" transform="rotate(-33 1462.2 129.9)" fill="#8e9e46"/>
<ellipse cx="1462.2" cy="129.9" rx="12.8" ry="3.0" transform="rotate(-33 1462.2 129.9)" fill="url(#shadeG)"/>
<ellipse cx="1459.1" cy="129.0" rx="5.7" ry="1.1" transform="rotate(-33 1462.2 129.9)" fill="#e8f0b0" opacity="0.35"/>
<ellipse cx="1466.3" cy="188.0" rx="12.8" ry="3.2" transform="rotate(-24 1466.3 188.0)" fill="#a0b058"/>
<ellipse cx="1466.3" cy="188.0" rx="12.8" ry="3.2" transform="rotate(-24 1466.3 188.0)" fill="url(#shadeG)"/>
<ellipse cx="1463.0" cy="187.0" rx="5.8" ry="1.1" transform="rotate(-24 1466.3 188.0)" fill="#e8f0b0" opacity="0.35"/>
<ellipse cx="1527.8" cy="138.6" rx="14.8" ry="3.5" transform="rotate(10 1527.8 138.6)" fill="#b4bc74"/>
<ellipse cx="1527.8" cy="138.6" rx="14.8" ry="3.5" transform="rotate(10 1527.8 138.6)" fill="url(#shadeG)"/>
<ellipse cx="1524.1" cy="137.6" rx="6.6" ry="1.2" transform="rotate(10 1527.8 138.6)" fill="#e8f0b0" opacity="0.35"/>
<ellipse cx="1461.6" cy="99.5" rx="14.3" ry="3.4" transform="rotate(-34 1461.6 99.5)" fill="#aab868"/>
<ellipse cx="1461.6" cy="99.5" rx="14.3" ry="3.4" transform="rotate(-34 1461.6 99.5)" fill="url(#shadeG)"/>
<ellipse cx="1458.1" cy="98.4" rx="6.4" ry="1.2" transform="rotate(-34 1461.6 99.5)" fill="#e8f0b0" opacity="0.35"/>
<ellipse cx="1524.0" cy="196.3" rx="12.3" ry="3.0" transform="rotate(-54 1524.0 196.3)" fill="#aab868"/>
<ellipse cx="1524.0" cy="196.3" rx="12.3" ry="3.0" transform="rotate(-54 1524.0 196.3)" fill="url(#shadeG)"/>
<ellipse cx="1520.9" cy="195.4" rx="5.5" ry="1.1" transform="rotate(-54 1524.0 196.3)" fill="#e8f0b0" opacity="0.35"/>
<ellipse cx="1409.1" cy="92.4" rx="12.5" ry="2.4" transform="rotate(-18 1409.1 92.4)" fill="#aab868"/>
<ellipse cx="1409.1" cy="92.4" rx="12.5" ry="2.4" transform="rotate(-18 1409.1 92.4)" fill="url(#shadeG)"/>
<ellipse cx="1406.0" cy="91.7" rx="5.6" ry="0.9" transform="rotate(-18 1409.1 92.4)" fill="#e8f0b0" opacity="0.35"/>
<ellipse cx="1501.6" cy="90.3" rx="10.9" ry="3.4" transform="rotate(-30 1501.6 90.3)" fill="#8e9e46"/>
<ellipse cx="1501.6" cy="90.3" rx="10.9" ry="3.4" transform="rotate(-30 1501.6 90.3)" fill="url(#shadeG)"/>
<ellipse cx="1498.9" cy="89.3" rx="4.9" ry="1.2" transform="rotate(-30 1501.6 90.3)" fill="#e8f0b0" opacity="0.35"/>
<ellipse cx="1499.7" cy="78.0" rx="13.9" ry="3.1" transform="rotate(-8 1499.7 78.0)" fill="#a0b058"/>
<ellipse cx="1499.7" cy="78.0" rx="13.9" ry="3.1" transform="rotate(-8 1499.7 78.0)" fill="url(#shadeG)"/>
<ellipse cx="1496.3" cy="77.0" rx="6.3" ry="1.1" transform="rotate(-8 1499.7 78.0)" fill="#e8f0b0" opacity="0.35"/>
<ellipse cx="1432.3" cy="161.0" rx="14.8" ry="3.2" transform="rotate(-2 1432.3 161.0)" fill="#b4bc74"/>
<ellipse cx="1432.3" cy="161.0" rx="14.8" ry="3.2" transform="rotate(-2 1432.3 161.0)" fill="url(#shadeG)"/>
<ellipse cx="1428.6" cy="160.0" rx="6.6" ry="1.1" transform="rotate(-2 1432.3 161.0)" fill="#e8f0b0" opacity="0.35"/>
<ellipse cx="1570.2" cy="66.7" rx="14.8" ry="3.2" transform="rotate(-69 1570.2 66.7)" fill="#8e9e46"/>
<ellipse cx="1570.2" cy="66.7" rx="14.8" ry="3.2" transform="rotate(-69 1570.2 66.7)" fill="url(#shadeG)"/>
<ellipse cx="1566.6" cy="65.8" rx="6.6" ry="1.1" transform="rotate(-69 1570.2 66.7)" fill="#e8f0b0" opacity="0.35"/>
<ellipse cx="1473.3" cy="103.6" rx="12.3" ry="3.5" transform="rotate(-13 1473.3 103.6)" fill="#72802e"/>
<ellipse cx="1473.3" cy="103.6" rx="12.3" ry="3.5" transform="rotate(-13 1473.3 103.6)" fill="url(#shadeG)"/>
<ellipse cx="1470.2" cy="102.6" rx="5.5" ry="1.2" transform="rotate(-13 1473.3 103.6)" fill="#e8f0b0" opacity="0.35"/>
<ellipse cx="1475.3" cy="136.8" rx="14.0" ry="3.2" transform="rotate(1 1475.3 136.8)" fill="#aab868"/>
<ellipse cx="1475.3" cy="136.8" rx="14.0" ry="3.2" transform="rotate(1 1475.3 136.8)" fill="url(#shadeG)"/>
<ellipse cx="1471.7" cy="135.9" rx="6.3" ry="1.1" transform="rotate(1 1475.3 136.8)" fill="#e8f0b0" opacity="0.35"/>
<ellipse cx="1452.9" cy="120.8" rx="12.3" ry="2.6" transform="rotate(7 1452.9 120.8)" fill="#72802e"/>
<ellipse cx="1452.9" cy="120.8" rx="12.3" ry="2.6" transform="rotate(7 1452.9 120.8)" fill="url(#shadeG)"/>
<ellipse cx="1449.8" cy="120.0" rx="5.5" ry="0.9" transform="rotate(7 1452.9 120.8)" fill="#e8f0b0" opacity="0.35"/>
<ellipse cx="1480.3" cy="156.6" rx="11.3" ry="3.5" transform="rotate(-0 1480.3 156.6)" fill="#b4bc74"/>
<ellipse cx="1480.3" cy="156.6" rx="11.3" ry="3.5" transform="rotate(-0 1480.3 156.6)" fill="url(#shadeG)"/>
<ellipse cx="1477.5" cy="155.5" rx="5.1" ry="1.2" transform="rotate(-0 1480.3 156.6)" fill="#e8f0b0" opacity="0.35"/>
<ellipse cx="1447.7" cy="63.8" rx="12.1" ry="2.9" transform="rotate(14 1447.7 63.8)" fill="#a0b058"/>
<ellipse cx="1447.7" cy="63.8" rx="12.1" ry="2.9" transform="rotate(14 1447.7 63.8)" fill="url(#shadeG)"/>
<ellipse cx="1444.6" cy="62.9" rx="5.5" ry="1.0" transform="rotate(14 1447.7 63.8)" fill="#e8f0b0" opacity="0.35"/>
<ellipse cx="1472.1" cy="78.9" rx="15.1" ry="2.8" transform="rotate(9 1472.1 78.9)" fill="#8e9e46"/>
<ellipse cx="1472.1" cy="78.9" rx="15.1" ry="2.8" transform="rotate(9 1472.1 78.9)" fill="url(#shadeG)"/>
<ellipse cx="1468.4" cy="78.1" rx="6.8" ry="1.0" transform="rotate(9 1472.1 78.9)" fill="#e8f0b0" opacity="0.35"/>
<ellipse cx="1480.8" cy="128.5" rx="12.6" ry="2.6" transform="rotate(-66 1480.8 128.5)" fill="#82923c"/>
<ellipse cx="1480.8" cy="128.5" rx="12.6" ry="2.6" transform="rotate(-66 1480.8 128.5)" fill="url(#shadeG)"/>
<ellipse cx="1477.7" cy="127.7" rx="5.7" ry="0.9" transform="rotate(-66 1480.8 128.5)" fill="#e8f0b0" opacity="0.35"/>
<ellipse cx="1430.9" cy="121.9" rx="13.9" ry="2.6" transform="rotate(-41 1430.9 121.9)" fill="#66722a"/>
<ellipse cx="1430.9" cy="121.9" rx="13.9" ry="2.6" transform="rotate(-41 1430.9 121.9)" fill="url(#shadeG)"/>
<ellipse cx="1427.4" cy="121.1" rx="6.3" ry="0.9" transform="rotate(-41 1430.9 121.9)" fill="#e8f0b0" opacity="0.35"/>
<ellipse cx="1563.1" cy="129.1" rx="13.5" ry="2.7" transform="rotate(-36 1563.1 129.1)" fill="#aab868"/>
<ellipse cx="1563.1" cy="129.1" rx="13.5" ry="2.7" transform="rotate(-36 1563.1 129.1)" fill="url(#shadeG)"/>
<ellipse cx="1559.8" cy="128.3" rx="6.1" ry="1.0" transform="rotate(-36 1563.1 129.1)" fill="#e8f0b0" opacity="0.35"/>
<ellipse cx="1482.2" cy="91.7" rx="12.4" ry="3.1" transform="rotate(-17 1482.2 91.7)" fill="#98a850"/>
<ellipse cx="1482.2" cy="91.7" rx="12.4" ry="3.1" transform="rotate(-17 1482.2 91.7)" fill="url(#shadeG)"/>
<ellipse cx="1479.1" cy="90.8" rx="5.6" ry="1.1" transform="rotate(-17 1482.2 91.7)" fill="#e8f0b0" opacity="0.35"/>
<ellipse cx="1501.1" cy="157.1" rx="13.7" ry="3.5" transform="rotate(-60 1501.1 157.1)" fill="#82923c"/>
<ellipse cx="1501.1" cy="157.1" rx="13.7" ry="3.5" transform="rotate(-60 1501.1 157.1)" fill="url(#shadeG)"/>
<ellipse cx="1497.6" cy="156.0" rx="6.2" ry="1.2" transform="rotate(-60 1501.1 157.1)" fill="#e8f0b0" opacity="0.35"/>
<ellipse cx="1547.0" cy="192.4" rx="14.7" ry="3.1" transform="rotate(10 1547.0 192.4)" fill="#8e9e46"/>
<ellipse cx="1547.0" cy="192.4" rx="14.7" ry="3.1" transform="rotate(10 1547.0 192.4)" fill="url(#shadeG)"/>
<ellipse cx="1543.4" cy="191.5" rx="6.6" ry="1.1" transform="rotate(10 1547.0 192.4)" fill="#e8f0b0" opacity="0.35"/>
<ellipse cx="1392.0" cy="103.2" rx="11.0" ry="3.4" transform="rotate(-13 1392.0 103.2)" fill="#b4bc74"/>
<ellipse cx="1392.0" cy="103.2" rx="11.0" ry="3.4" transform="rotate(-13 1392.0 103.2)" fill="url(#shadeG)"/>
<ellipse cx="1389.3" cy="102.2" rx="4.9" ry="1.2" transform="rotate(-13 1392.0 103.2)" fill="#e8f0b0" opacity="0.35"/>
<ellipse cx="1396.5" cy="123.8" rx="15.6" ry="2.9" transform="rotate(9 1396.5 123.8)" fill="#aab868"/>
<ellipse cx="1396.5" cy="123.8" rx="15.6" ry="2.9" transform="rotate(9 1396.5 123.8)" fill="url(#shadeG)"/>
<ellipse cx="1392.6" cy="123.0" rx="7.0" ry="1.0" transform="rotate(9 1396.5 123.8)" fill="#e8f0b0" opacity="0.35"/>
<ellipse cx="1404.1" cy="179.5" rx="13.9" ry="2.9" transform="rotate(-43 1404.1 179.5)" fill="#a0b058"/>
<ellipse cx="1404.1" cy="179.5" rx="13.9" ry="2.9" transform="rotate(-43 1404.1 179.5)" fill="url(#shadeG)"/>
<ellipse cx="1400.7" cy="178.7" rx="6.3" ry="1.0" transform="rotate(-43 1404.1 179.5)" fill="#e8f0b0" opacity="0.35"/>
<ellipse cx="1397.7" cy="200.1" rx="12.0" ry="2.5" transform="rotate(-0 1397.7 200.1)" fill="#82923c"/>
<ellipse cx="1397.7" cy="200.1" rx="12.0" ry="2.5" transform="rotate(-0 1397.7 200.1)" fill="url(#shadeG)"/>
<ellipse cx="1394.7" cy="199.4" rx="5.4" ry="0.9" transform="rotate(-0 1397.7 200.1)" fill="#e8f0b0" opacity="0.35"/>
<ellipse cx="1568.8" cy="205.5" rx="11.9" ry="2.8" transform="rotate(-49 1568.8 205.5)" fill="#66722a"/>
<ellipse cx="1568.8" cy="205.5" rx="11.9" ry="2.8" transform="rotate(-49 1568.8 205.5)" fill="url(#shadeG)"/>
<ellipse cx="1565.8" cy="204.7" rx="5.3" ry="1.0" transform="rotate(-49 1568.8 205.5)" fill="#e8f0b0" opacity="0.35"/>
<ellipse cx="1559.0" cy="145.9" rx="12.7" ry="2.9" transform="rotate(-21 1559.0 145.9)" fill="#b4bc74"/>
<ellipse cx="1559.0" cy="145.9" rx="12.7" ry="2.9" transform="rotate(-21 1559.0 145.9)" fill="url(#shadeG)"/>
<ellipse cx="1555.8" cy="145.0" rx="5.7" ry="1.0" transform="rotate(-21 1559.0 145.9)" fill="#e8f0b0" opacity="0.35"/>
<ellipse cx="1566.8" cy="115.2" rx="12.5" ry="3.5" transform="rotate(-50 1566.8 115.2)" fill="#98a850"/>
<ellipse cx="1566.8" cy="115.2" rx="12.5" ry="3.5" transform="rotate(-50 1566.8 115.2)" fill="url(#shadeG)"/>
<ellipse cx="1563.7" cy="114.2" rx="5.6" ry="1.2" transform="rotate(-50 1566.8 115.2)" fill="#e8f0b0" opacity="0.35"/>
<ellipse cx="1493.3" cy="73.3" rx="14.2" ry="3.1" transform="rotate(7 1493.3 73.3)" fill="#b4bc74"/>
<ellipse cx="1493.3" cy="73.3" rx="14.2" ry="3.1" transform="rotate(7 1493.3 73.3)" fill="url(#shadeG)"/>
<ellipse cx="1489.8" cy="72.4" rx="6.4" ry="1.1" transform="rotate(7 1493.3 73.3)" fill="#e8f0b0" opacity="0.35"/>
<ellipse cx="1412.7" cy="203.3" rx="13.4" ry="2.7" transform="rotate(-45 1412.7 203.3)" fill="#82923c"/>
<ellipse cx="1412.7" cy="203.3" rx="13.4" ry="2.7" transform="rotate(-45 1412.7 203.3)" fill="url(#shadeG)"/>
<ellipse cx="1409.4" cy="202.4" rx="6.0" ry="1.0" transform="rotate(-45 1412.7 203.3)" fill="#e8f0b0" opacity="0.35"/>
<ellipse cx="1553.2" cy="179.5" rx="10.8" ry="2.7" transform="rotate(9 1553.2 179.5)" fill="#b4bc74"/>
<ellipse cx="1553.2" cy="179.5" rx="10.8" ry="2.7" transform="rotate(9 1553.2 179.5)" fill="url(#shadeG)"/>
<ellipse cx="1550.5" cy="178.7" rx="4.8" ry="0.9" transform="rotate(9 1553.2 179.5)" fill="#e8f0b0" opacity="0.35"/>
<ellipse cx="1416.4" cy="78.9" rx="11.2" ry="2.7" transform="rotate(-66 1416.4 78.9)" fill="#98a850"/>
<ellipse cx="1416.4" cy="78.9" rx="11.2" ry="2.7" transform="rotate(-66 1416.4 78.9)" fill="url(#shadeG)"/>
<ellipse cx="1413.6" cy="78.1" rx="5.0" ry="0.9" transform="rotate(-66 1416.4 78.9)" fill="#e8f0b0" opacity="0.35"/>
<ellipse cx="1490.8" cy="202.5" rx="11.5" ry="3.0" transform="rotate(-35 1490.8 202.5)" fill="#a0b058"/>
<ellipse cx="1490.8" cy="202.5" rx="11.5" ry="3.0" transform="rotate(-35 1490.8 202.5)" fill="url(#shadeG)"/>
<ellipse cx="1487.9" cy="201.6" rx="5.2" ry="1.0" transform="rotate(-35 1490.8 202.5)" fill="#e8f0b0" opacity="0.35"/>
<ellipse cx="1394.3" cy="136.8" rx="14.0" ry="2.8" transform="rotate(-9 1394.3 136.8)" fill="#a0b058"/>
<ellipse cx="1394.3" cy="136.8" rx="14.0" ry="2.8" transform="rotate(-9 1394.3 136.8)" fill="url(#shadeG)"/>
<ellipse cx="1390.8" cy="136.0" rx="6.3" ry="1.0" transform="rotate(-9 1394.3 136.8)" fill="#e8f0b0" opacity="0.35"/>
<ellipse cx="1552.7" cy="74.7" rx="13.7" ry="2.8" transform="rotate(-19 1552.7 74.7)" fill="#98a850"/>
<ellipse cx="1552.7" cy="74.7" rx="13.7" ry="2.8" transform="rotate(-19 1552.7 74.7)" fill="url(#shadeG)"/>
<ellipse cx="1549.3" cy="73.8" rx="6.1" ry="1.0" transform="rotate(-19 1552.7 74.7)" fill="#e8f0b0" opacity="0.35"/>
<ellipse cx="1452.6" cy="68.1" rx="11.8" ry="3.5" transform="rotate(-51 1452.6 68.1)" fill="#72802e"/>
<ellipse cx="1452.6" cy="68.1" rx="11.8" ry="3.5" transform="rotate(-51 1452.6 68.1)" fill="url(#shadeG)"/>
<ellipse cx="1449.6" cy="67.1" rx="5.3" ry="1.2" transform="rotate(-51 1452.6 68.1)" fill="#e8f0b0" opacity="0.35"/>
<ellipse cx="1519.3" cy="186.4" rx="13.9" ry="3.0" transform="rotate(1 1519.3 186.4)" fill="#aab868"/>
<ellipse cx="1519.3" cy="186.4" rx="13.9" ry="3.0" transform="rotate(1 1519.3 186.4)" fill="url(#shadeG)"/>
<ellipse cx="1515.8" cy="185.5" rx="6.3" ry="1.0" transform="rotate(1 1519.3 186.4)" fill="#e8f0b0" opacity="0.35"/>
<ellipse cx="1411.3" cy="120.1" rx="11.9" ry="2.5" transform="rotate(10 1411.3 120.1)" fill="#aab868"/>
<ellipse cx="1411.3" cy="120.1" rx="11.9" ry="2.5" transform="rotate(10 1411.3 120.1)" fill="url(#shadeG)"/>
<ellipse cx="1408.3" cy="119.4" rx="5.4" ry="0.9" transform="rotate(10 1411.3 120.1)" fill="#e8f0b0" opacity="0.35"/>
<ellipse cx="1524.5" cy="64.9" rx="15.0" ry="3.1" transform="rotate(-0 1524.5 64.9)" fill="#72802e"/>
<ellipse cx="1524.5" cy="64.9" rx="15.0" ry="3.1" transform="rotate(-0 1524.5 64.9)" fill="url(#shadeG)"/>
<ellipse cx="1520.8" cy="64.0" rx="6.7" ry="1.1" transform="rotate(-0 1524.5 64.9)" fill="#e8f0b0" opacity="0.35"/>
<ellipse cx="1405.8" cy="165.8" rx="10.8" ry="3.4" transform="rotate(-45 1405.8 165.8)" fill="#a0b058"/>
<ellipse cx="1405.8" cy="165.8" rx="10.8" ry="3.4" transform="rotate(-45 1405.8 165.8)" fill="url(#shadeG)"/>
<ellipse cx="1403.1" cy="164.8" rx="4.8" ry="1.2" transform="rotate(-45 1405.8 165.8)" fill="#e8f0b0" opacity="0.35"/>
<ellipse cx="1436.3" cy="149.2" rx="14.5" ry="2.8" transform="rotate(1 1436.3 149.2)" fill="#aab868"/>
<ellipse cx="1436.3" cy="149.2" rx="14.5" ry="2.8" transform="rotate(1 1436.3 149.2)" fill="url(#shadeG)"/>
<ellipse cx="1432.6" cy="148.4" rx="6.5" ry="1.0" transform="rotate(1 1436.3 149.2)" fill="#e8f0b0" opacity="0.35"/>
<ellipse cx="1463.6" cy="139.6" rx="12.6" ry="2.7" transform="rotate(-19 1463.6 139.6)" fill="#aab868"/>
<ellipse cx="1463.6" cy="139.6" rx="12.6" ry="2.7" transform="rotate(-19 1463.6 139.6)" fill="url(#shadeG)"/>
<ellipse cx="1460.5" cy="138.8" rx="5.7" ry="0.9" transform="rotate(-19 1463.6 139.6)" fill="#e8f0b0" opacity="0.35"/>
<ellipse cx="1494.2" cy="67.1" rx="14.4" ry="3.0" transform="rotate(12 1494.2 67.1)" fill="#66722a"/>
<ellipse cx="1494.2" cy="67.1" rx="14.4" ry="3.0" transform="rotate(12 1494.2 67.1)" fill="url(#shadeG)"/>
<ellipse cx="1490.6" cy="66.2" rx="6.5" ry="1.0" transform="rotate(12 1494.2 67.1)" fill="#e8f0b0" opacity="0.35"/>
<ellipse cx="1512.1" cy="66.3" rx="14.1" ry="2.6" transform="rotate(-52 1512.1 66.3)" fill="#66722a"/>
<ellipse cx="1512.1" cy="66.3" rx="14.1" ry="2.6" transform="rotate(-52 1512.1 66.3)" fill="url(#shadeG)"/>
<ellipse cx="1508.6" cy="65.5" rx="6.3" ry="0.9" transform="rotate(-52 1512.1 66.3)" fill="#e8f0b0" opacity="0.35"/>
<ellipse cx="1437.0" cy="88.0" rx="11.9" ry="3.3" transform="rotate(-8 1437.0 88.0)" fill="#b4bc74"/>
<ellipse cx="1437.0" cy="88.0" rx="11.9" ry="3.3" transform="rotate(-8 1437.0 88.0)" fill="url(#shadeG)"/>
<ellipse cx="1434.1" cy="87.0" rx="5.4" ry="1.2" transform="rotate(-8 1437.0 88.0)" fill="#e8f0b0" opacity="0.35"/>
<ellipse cx="1465.8" cy="77.8" rx="15.0" ry="2.8" transform="rotate(0 1465.8 77.8)" fill="#aab868"/>
<ellipse cx="1465.8" cy="77.8" rx="15.0" ry="2.8" transform="rotate(0 1465.8 77.8)" fill="url(#shadeG)"/>
<ellipse cx="1462.0" cy="77.0" rx="6.8" ry="1.0" transform="rotate(0 1465.8 77.8)" fill="#e8f0b0" opacity="0.35"/>
<ellipse cx="1549.6" cy="108.6" rx="11.3" ry="3.1" transform="rotate(-20 1549.6 108.6)" fill="#aab868"/>
<ellipse cx="1549.6" cy="108.6" rx="11.3" ry="3.1" transform="rotate(-20 1549.6 108.6)" fill="url(#shadeG)"/>
<ellipse cx="1546.8" cy="107.7" rx="5.1" ry="1.1" transform="rotate(-20 1549.6 108.6)" fill="#e8f0b0" opacity="0.35"/>
<ellipse cx="1434.0" cy="195.8" rx="15.0" ry="2.4" transform="rotate(-63 1434.0 195.8)" fill="#b4bc74"/>
<ellipse cx="1434.0" cy="195.8" rx="15.0" ry="2.4" transform="rotate(-63 1434.0 195.8)" fill="url(#shadeG)"/>
<ellipse cx="1430.2" cy="195.1" rx="6.7" ry="0.8" transform="rotate(-63 1434.0 195.8)" fill="#e8f0b0" opacity="0.35"/>
<ellipse cx="1503.9" cy="109.3" rx="14.8" ry="3.0" transform="rotate(-55 1503.9 109.3)" fill="#b4bc74"/>
<ellipse cx="1503.9" cy="109.3" rx="14.8" ry="3.0" transform="rotate(-55 1503.9 109.3)" fill="url(#shadeG)"/>
<ellipse cx="1500.2" cy="108.4" rx="6.7" ry="1.0" transform="rotate(-55 1503.9 109.3)" fill="#e8f0b0" opacity="0.35"/>
<ellipse cx="1418.4" cy="91.1" rx="14.4" ry="2.5" transform="rotate(-37 1418.4 91.1)" fill="#82923c"/>
<ellipse cx="1418.4" cy="91.1" rx="14.4" ry="2.5" transform="rotate(-37 1418.4 91.1)" fill="url(#shadeG)"/>
<ellipse cx="1414.8" cy="90.4" rx="6.5" ry="0.9" transform="rotate(-37 1418.4 91.1)" fill="#e8f0b0" opacity="0.35"/>
<ellipse cx="1426.0" cy="84.5" rx="12.5" ry="3.0" transform="rotate(-49 1426.0 84.5)" fill="#8e9e46"/>
<ellipse cx="1426.0" cy="84.5" rx="12.5" ry="3.0" transform="rotate(-49 1426.0 84.5)" fill="url(#shadeG)"/>
<ellipse cx="1422.9" cy="83.6" rx="5.6" ry="1.1" transform="rotate(-49 1426.0 84.5)" fill="#e8f0b0" opacity="0.35"/>
<ellipse cx="1422.3" cy="186.0" rx="13.7" ry="3.6" transform="rotate(-63 1422.3 186.0)" fill="#82923c"/>
<ellipse cx="1422.3" cy="186.0" rx="13.7" ry="3.6" transform="rotate(-63 1422.3 186.0)" fill="url(#shadeG)"/>
<ellipse cx="1418.9" cy="184.9" rx="6.2" ry="1.2" transform="rotate(-63 1422.3 186.0)" fill="#e8f0b0" opacity="0.35"/>
<ellipse cx="1521.0" cy="113.2" rx="11.8" ry="3.3" transform="rotate(-49 1521.0 113.2)" fill="#98a850"/>
<ellipse cx="1521.0" cy="113.2" rx="11.8" ry="3.3" transform="rotate(-49 1521.0 113.2)" fill="url(#shadeG)"/>
<ellipse cx="1518.0" cy="112.2" rx="5.3" ry="1.2" transform="rotate(-49 1521.0 113.2)" fill="#e8f0b0" opacity="0.35"/>
<ellipse cx="1522.2" cy="213.3" rx="15.0" ry="3.4" transform="rotate(-0 1522.2 213.3)" fill="#98a850"/>
<ellipse cx="1522.2" cy="213.3" rx="15.0" ry="3.4" transform="rotate(-0 1522.2 213.3)" fill="url(#shadeG)"/>
<ellipse cx="1518.4" cy="212.3" rx="6.8" ry="1.2" transform="rotate(-0 1522.2 213.3)" fill="#e8f0b0" opacity="0.35"/>
<ellipse cx="1466.1" cy="66.4" rx="15.2" ry="3.5" transform="rotate(-24 1466.1 66.4)" fill="#aab868"/>
<ellipse cx="1466.1" cy="66.4" rx="15.2" ry="3.5" transform="rotate(-24 1466.1 66.4)" fill="url(#shadeG)"/>
<ellipse cx="1462.3" cy="65.3" rx="6.9" ry="1.2" transform="rotate(-24 1466.1 66.4)" fill="#e8f0b0" opacity="0.35"/>
<ellipse cx="1416.2" cy="130.1" rx="15.4" ry="2.6" transform="rotate(-21 1416.2 130.1)" fill="#b4bc74"/>
<ellipse cx="1416.2" cy="130.1" rx="15.4" ry="2.6" transform="rotate(-21 1416.2 130.1)" fill="url(#shadeG)"/>
<ellipse cx="1412.3" cy="129.3" rx="6.9" ry="0.9" transform="rotate(-21 1416.2 130.1)" fill="#e8f0b0" opacity="0.35"/>
<ellipse cx="1441.3" cy="99.9" rx="14.3" ry="2.4" transform="rotate(-19 1441.3 99.9)" fill="#66722a"/>
<ellipse cx="1441.3" cy="99.9" rx="14.3" ry="2.4" transform="rotate(-19 1441.3 99.9)" fill="url(#shadeG)"/>
<ellipse cx="1437.7" cy="99.2" rx="6.4" ry="0.8" transform="rotate(-19 1441.3 99.9)" fill="#e8f0b0" opacity="0.35"/>
<ellipse cx="1537.4" cy="72.5" rx="14.0" ry="3.6" transform="rotate(-37 1537.4 72.5)" fill="#8e9e46"/>
<ellipse cx="1537.4" cy="72.5" rx="14.0" ry="3.6" transform="rotate(-37 1537.4 72.5)" fill="url(#shadeG)"/>
<ellipse cx="1533.9" cy="71.4" rx="6.3" ry="1.2" transform="rotate(-37 1537.4 72.5)" fill="#e8f0b0" opacity="0.35"/>
<ellipse cx="1457.4" cy="131.0" rx="12.5" ry="2.9" transform="rotate(0 1457.4 131.0)" fill="#82923c"/>
<ellipse cx="1457.4" cy="131.0" rx="12.5" ry="2.9" transform="rotate(0 1457.4 131.0)" fill="url(#shadeG)"/>
<ellipse cx="1454.3" cy="130.2" rx="5.6" ry="1.0" transform="rotate(0 1457.4 131.0)" fill="#e8f0b0" opacity="0.35"/>
<ellipse cx="1523.2" cy="83.0" rx="13.2" ry="2.9" transform="rotate(-58 1523.2 83.0)" fill="#98a850"/>
<ellipse cx="1523.2" cy="83.0" rx="13.2" ry="2.9" transform="rotate(-58 1523.2 83.0)" fill="url(#shadeG)"/>
<ellipse cx="1519.9" cy="82.1" rx="6.0" ry="1.0" transform="rotate(-58 1523.2 83.0)" fill="#e8f0b0" opacity="0.35"/>
<ellipse cx="1397.7" cy="67.5" rx="11.0" ry="2.9" transform="rotate(-49 1397.7 67.5)" fill="#98a850"/>
<ellipse cx="1397.7" cy="67.5" rx="11.0" ry="2.9" transform="rotate(-49 1397.7 67.5)" fill="url(#shadeG)"/>
<ellipse cx="1395.0" cy="66.6" rx="4.9" ry="1.0" transform="rotate(-49 1397.7 67.5)" fill="#e8f0b0" opacity="0.35"/>
<ellipse cx="1455.5" cy="161.1" rx="15.2" ry="3.4" transform="rotate(-41 1455.5 161.1)" fill="#98a850"/>
<ellipse cx="1455.5" cy="161.1" rx="15.2" ry="3.4" transform="rotate(-41 1455.5 161.1)" fill="url(#shadeG)"/>
<ellipse cx="1451.7" cy="160.1" rx="6.9" ry="1.2" transform="rotate(-41 1455.5 161.1)" fill="#e8f0b0" opacity="0.35"/>
<ellipse cx="1531.6" cy="149.5" rx="12.8" ry="2.6" transform="rotate(-20 1531.6 149.5)" fill="#72802e"/>
<ellipse cx="1531.6" cy="149.5" rx="12.8" ry="2.6" transform="rotate(-20 1531.6 149.5)" fill="url(#shadeG)"/>
<ellipse cx="1528.4" cy="148.7" rx="5.8" ry="0.9" transform="rotate(-20 1531.6 149.5)" fill="#e8f0b0" opacity="0.35"/>
<ellipse cx="1459.7" cy="164.4" rx="14.6" ry="2.4" transform="rotate(8 1459.7 164.4)" fill="#b4bc74"/>
<ellipse cx="1459.7" cy="164.4" rx="14.6" ry="2.4" transform="rotate(8 1459.7 164.4)" fill="url(#shadeG)"/>
<ellipse cx="1456.1" cy="163.7" rx="6.6" ry="0.8" transform="rotate(8 1459.7 164.4)" fill="#e8f0b0" opacity="0.35"/>
<ellipse cx="1557.5" cy="118.5" rx="13.5" ry="3.0" transform="rotate(13 1557.5 118.5)" fill="#aab868"/>
<ellipse cx="1557.5" cy="118.5" rx="13.5" ry="3.0" transform="rotate(13 1557.5 118.5)" fill="url(#shadeG)"/>
<ellipse cx="1554.1" cy="117.6" rx="6.1" ry="1.1" transform="rotate(13 1557.5 118.5)" fill="#e8f0b0" opacity="0.35"/>
<ellipse cx="1538.7" cy="104.5" rx="11.6" ry="3.2" transform="rotate(-44 1538.7 104.5)" fill="#72802e"/>
<ellipse cx="1538.7" cy="104.5" rx="11.6" ry="3.2" transform="rotate(-44 1538.7 104.5)" fill="url(#shadeG)"/>
<ellipse cx="1535.8" cy="103.5" rx="5.2" ry="1.1" transform="rotate(-44 1538.7 104.5)" fill="#e8f0b0" opacity="0.35"/>
<ellipse cx="1570.4" cy="179.1" rx="11.8" ry="2.9" transform="rotate(-39 1570.4 179.1)" fill="#b4bc74"/>
<ellipse cx="1570.4" cy="179.1" rx="11.8" ry="2.9" transform="rotate(-39 1570.4 179.1)" fill="url(#shadeG)"/>
<ellipse cx="1567.5" cy="178.2" rx="5.3" ry="1.0" transform="rotate(-39 1570.4 179.1)" fill="#e8f0b0" opacity="0.35"/>
<ellipse cx="1496.3" cy="90.8" rx="10.7" ry="2.7" transform="rotate(-20 1496.3 90.8)" fill="#8e9e46"/>
<ellipse cx="1496.3" cy="90.8" rx="10.7" ry="2.7" transform="rotate(-20 1496.3 90.8)" fill="url(#shadeG)"/>
<ellipse cx="1493.6" cy="90.0" rx="4.8" ry="1.0" transform="rotate(-20 1496.3 90.8)" fill="#e8f0b0" opacity="0.35"/>
<ellipse cx="1544.0" cy="215.3" rx="11.3" ry="3.0" transform="rotate(9 1544.0 215.3)" fill="#a0b058"/>
<ellipse cx="1544.0" cy="215.3" rx="11.3" ry="3.0" transform="rotate(9 1544.0 215.3)" fill="url(#shadeG)"/>
<ellipse cx="1541.1" cy="214.4" rx="5.1" ry="1.0" transform="rotate(9 1544.0 215.3)" fill="#e8f0b0" opacity="0.35"/>
<ellipse cx="1539.0" cy="111.6" rx="13.2" ry="2.9" transform="rotate(-57 1539.0 111.6)" fill="#a0b058"/>
<ellipse cx="1539.0" cy="111.6" rx="13.2" ry="2.9" transform="rotate(-57 1539.0 111.6)" fill="url(#shadeG)"/>
<ellipse cx="1535.7" cy="110.8" rx="5.9" ry="1.0" transform="rotate(-57 1539.0 111.6)" fill="#e8f0b0" opacity="0.35"/>
<ellipse cx="1436.8" cy="102.0" rx="13.5" ry="2.4" transform="rotate(-17 1436.8 102.0)" fill="#8e9e46"/>
<ellipse cx="1436.8" cy="102.0" rx="13.5" ry="2.4" transform="rotate(-17 1436.8 102.0)" fill="url(#shadeG)"/>
<ellipse cx="1433.4" cy="101.3" rx="6.1" ry="0.9" transform="rotate(-17 1436.8 102.0)" fill="#e8f0b0" opacity="0.35"/>
<ellipse cx="1464.4" cy="204.7" rx="10.7" ry="3.5" transform="rotate(-24 1464.4 204.7)" fill="#8e9e46"/>
<ellipse cx="1464.4" cy="204.7" rx="10.7" ry="3.5" transform="rotate(-24 1464.4 204.7)" fill="url(#shadeG)"/>
<ellipse cx="1461.7" cy="203.6" rx="4.8" ry="1.2" transform="rotate(-24 1464.4 204.7)" fill="#e8f0b0" opacity="0.35"/>
<ellipse cx="1446.2" cy="93.1" rx="10.7" ry="3.3" transform="rotate(-17 1446.2 93.1)" fill="#98a850"/>
<ellipse cx="1446.2" cy="93.1" rx="10.7" ry="3.3" transform="rotate(-17 1446.2 93.1)" fill="url(#shadeG)"/>
<ellipse cx="1443.5" cy="92.1" rx="4.8" ry="1.2" transform="rotate(-17 1446.2 93.1)" fill="#e8f0b0" opacity="0.35"/>
<ellipse cx="1453.4" cy="114.1" rx="12.9" ry="3.3" transform="rotate(-56 1453.4 114.1)" fill="#aab868"/>
<ellipse cx="1453.4" cy="114.1" rx="12.9" ry="3.3" transform="rotate(-56 1453.4 114.1)" fill="url(#shadeG)"/>
<ellipse cx="1450.1" cy="113.1" rx="5.8" ry="1.2" transform="rotate(-56 1453.4 114.1)" fill="#e8f0b0" opacity="0.35"/>
<ellipse cx="1404.2" cy="127.1" rx="15.3" ry="2.9" transform="rotate(-15 1404.2 127.1)" fill="#aab868"/>
<ellipse cx="1404.2" cy="127.1" rx="15.3" ry="2.9" transform="rotate(-15 1404.2 127.1)" fill="url(#shadeG)"/>
<ellipse cx="1400.4" cy="126.3" rx="6.9" ry="1.0" transform="rotate(-15 1404.2 127.1)" fill="#e8f0b0" opacity="0.35"/>
<ellipse cx="1513.8" cy="158.6" rx="15.5" ry="3.6" transform="rotate(-8 1513.8 158.6)" fill="#b4bc74"/>
<ellipse cx="1513.8" cy="158.6" rx="15.5" ry="3.6" transform="rotate(-8 1513.8 158.6)" fill="url(#shadeG)"/>
<ellipse cx="1509.9" cy="157.5" rx="7.0" ry="1.3" transform="rotate(-8 1513.8 158.6)" fill="#e8f0b0" opacity="0.35"/>
<ellipse cx="1501.7" cy="215.3" rx="12.2" ry="2.7" transform="rotate(4 1501.7 215.3)" fill="#98a850"/>
<ellipse cx="1501.7" cy="215.3" rx="12.2" ry="2.7" transform="rotate(4 1501.7 215.3)" fill="url(#shadeG)"/>
<ellipse cx="1498.6" cy="214.5" rx="5.5" ry="1.0" transform="rotate(4 1501.7 215.3)" fill="#e8f0b0" opacity="0.35"/>
<ellipse cx="1571.0" cy="94.2" rx="14.4" ry="2.6" transform="rotate(-64 1571.0 94.2)" fill="#aab868"/>
<ellipse cx="1571.0" cy="94.2" rx="14.4" ry="2.6" transform="rotate(-64 1571.0 94.2)" fill="url(#shadeG)"/>
<ellipse cx="1567.5" cy="93.5" rx="6.5" ry="0.9" transform="rotate(-64 1571.0 94.2)" fill="#e8f0b0" opacity="0.35"/>
<ellipse cx="1394.9" cy="73.3" rx="13.2" ry="3.0" transform="rotate(-6 1394.9 73.3)" fill="#72802e"/>
<ellipse cx="1394.9" cy="73.3" rx="13.2" ry="3.0" transform="rotate(-6 1394.9 73.3)" fill="url(#shadeG)"/>
<ellipse cx="1391.6" cy="72.5" rx="5.9" ry="1.0" transform="rotate(-6 1394.9 73.3)" fill="#e8f0b0" opacity="0.35"/>
<ellipse cx="1395.8" cy="133.1" rx="15.0" ry="3.5" transform="rotate(-9 1395.8 133.1)" fill="#72802e"/>
<ellipse cx="1395.8" cy="133.1" rx="15.0" ry="3.5" transform="rotate(-9 1395.8 133.1)" fill="url(#shadeG)"/>
<ellipse cx="1392.1" cy="132.0" rx="6.7" ry="1.2" transform="rotate(-9 1395.8 133.1)" fill="#e8f0b0" opacity="0.35"/>
<ellipse cx="1552.8" cy="183.3" rx="14.6" ry="3.5" transform="rotate(-6 1552.8 183.3)" fill="#72802e"/>
<ellipse cx="1552.8" cy="183.3" rx="14.6" ry="3.5" transform="rotate(-6 1552.8 183.3)" fill="url(#shadeG)"/>
<ellipse cx="1549.2" cy="182.3" rx="6.6" ry="1.2" transform="rotate(-6 1552.8 183.3)" fill="#e8f0b0" opacity="0.35"/>
<ellipse cx="1523.8" cy="152.2" rx="14.3" ry="2.5" transform="rotate(-69 1523.8 152.2)" fill="#a0b058"/>
<ellipse cx="1523.8" cy="152.2" rx="14.3" ry="2.5" transform="rotate(-69 1523.8 152.2)" fill="url(#shadeG)"/>
<ellipse cx="1520.2" cy="151.4" rx="6.4" ry="0.9" transform="rotate(-69 1523.8 152.2)" fill="#e8f0b0" opacity="0.35"/>
<ellipse cx="1492.2" cy="211.3" rx="13.6" ry="3.3" transform="rotate(-35 1492.2 211.3)" fill="#72802e"/>
<ellipse cx="1492.2" cy="211.3" rx="13.6" ry="3.3" transform="rotate(-35 1492.2 211.3)" fill="url(#shadeG)"/>
<ellipse cx="1488.8" cy="210.3" rx="6.1" ry="1.2" transform="rotate(-35 1492.2 211.3)" fill="#e8f0b0" opacity="0.35"/>
<ellipse cx="1476.1" cy="150.6" rx="13.1" ry="2.7" transform="rotate(-68 1476.1 150.6)" fill="#8e9e46"/>
<ellipse cx="1476.1" cy="150.6" rx="13.1" ry="2.7" transform="rotate(-68 1476.1 150.6)" fill="url(#shadeG)"/>
<ellipse cx="1472.8" cy="149.7" rx="5.9" ry="1.0" transform="rotate(-68 1476.1 150.6)" fill="#e8f0b0" opacity="0.35"/>
<ellipse cx="1511.1" cy="132.0" rx="12.8" ry="2.9" transform="rotate(-41 1511.1 132.0)" fill="#b4bc74"/>
<ellipse cx="1511.1" cy="132.0" rx="12.8" ry="2.9" transform="rotate(-41 1511.1 132.0)" fill="url(#shadeG)"/>
<ellipse cx="1507.9" cy="131.1" rx="5.8" ry="1.0" transform="rotate(-41 1511.1 132.0)" fill="#e8f0b0" opacity="0.35"/>
<ellipse cx="1483.5" cy="213.8" rx="15.1" ry="2.9" transform="rotate(-32 1483.5 213.8)" fill="#8e9e46"/>
<ellipse cx="1483.5" cy="213.8" rx="15.1" ry="2.9" transform="rotate(-32 1483.5 213.8)" fill="url(#shadeG)"/>
<ellipse cx="1479.7" cy="212.9" rx="6.8" ry="1.0" transform="rotate(-32 1483.5 213.8)" fill="#e8f0b0" opacity="0.35"/>
<ellipse cx="1561.6" cy="64.6" rx="11.2" ry="3.2" transform="rotate(-14 1561.6 64.6)" fill="#72802e"/>
<ellipse cx="1561.6" cy="64.6" rx="11.2" ry="3.2" transform="rotate(-14 1561.6 64.6)" fill="url(#shadeG)"/>
<ellipse cx="1558.8" cy="63.6" rx="5.0" ry="1.1" transform="rotate(-14 1561.6 64.6)" fill="#e8f0b0" opacity="0.35"/>
<ellipse cx="1558.6" cy="184.8" rx="13.7" ry="3.3" transform="rotate(-2 1558.6 184.8)" fill="#98a850"/>
<ellipse cx="1558.6" cy="184.8" rx="13.7" ry="3.3" transform="rotate(-2 1558.6 184.8)" fill="url(#shadeG)"/>
<ellipse cx="1555.2" cy="183.9" rx="6.2" ry="1.2" transform="rotate(-2 1558.6 184.8)" fill="#e8f0b0" opacity="0.35"/>
<ellipse cx="1425.2" cy="166.8" rx="13.3" ry="3.2" transform="rotate(-48 1425.2 166.8)" fill="#a0b058"/>
<ellipse cx="1425.2" cy="166.8" rx="13.3" ry="3.2" transform="rotate(-48 1425.2 166.8)" fill="url(#shadeG)"/>
<ellipse cx="1421.9" cy="165.9" rx="6.0" ry="1.1" transform="rotate(-48 1425.2 166.8)" fill="#e8f0b0" opacity="0.35"/>
<ellipse cx="1567.0" cy="82.5" rx="12.4" ry="3.5" transform="rotate(-0 1567.0 82.5)" fill="#98a850"/>
<ellipse cx="1567.0" cy="82.5" rx="12.4" ry="3.5" transform="rotate(-0 1567.0 82.5)" fill="url(#shadeG)"/>
<ellipse cx="1563.9" cy="81.4" rx="5.6" ry="1.2" transform="rotate(-0 1567.0 82.5)" fill="#e8f0b0" opacity="0.35"/>
<ellipse cx="1502.3" cy="195.1" rx="13.4" ry="2.8" transform="rotate(-49 1502.3 195.1)" fill="#82923c"/>
<ellipse cx="1502.3" cy="195.1" rx="13.4" ry="2.8" transform="rotate(-49 1502.3 195.1)" fill="url(#shadeG)"/>
<ellipse cx="1498.9" cy="194.2" rx="6.0" ry="1.0" transform="rotate(-49 1502.3 195.1)" fill="#e8f0b0" opacity="0.35"/>
<ellipse cx="1543.7" cy="184.3" rx="12.1" ry="2.5" transform="rotate(-8 1543.7 184.3)" fill="#b4bc74"/>
<ellipse cx="1543.7" cy="184.3" rx="12.1" ry="2.5" transform="rotate(-8 1543.7 184.3)" fill="url(#shadeG)"/>
<ellipse cx="1540.6" cy="183.6" rx="5.4" ry="0.9" transform="rotate(-8 1543.7 184.3)" fill="#e8f0b0" opacity="0.35"/>
<ellipse cx="1421.0" cy="120.6" rx="12.1" ry="2.6" transform="rotate(-25 1421.0 120.6)" fill="#b4bc74"/>
<ellipse cx="1421.0" cy="120.6" rx="12.1" ry="2.6" transform="rotate(-25 1421.0 120.6)" fill="url(#shadeG)"/>
<ellipse cx="1418.0" cy="119.9" rx="5.4" ry="0.9" transform="rotate(-25 1421.0 120.6)" fill="#e8f0b0" opacity="0.35"/>
<ellipse cx="1436.0" cy="96.6" rx="13.1" ry="3.1" transform="rotate(-19 1436.0 96.6)" fill="#aab868"/>
<ellipse cx="1436.0" cy="96.6" rx="13.1" ry="3.1" transform="rotate(-19 1436.0 96.6)" fill="url(#shadeG)"/>
<ellipse cx="1432.7" cy="95.7" rx="5.9" ry="1.1" transform="rotate(-19 1436.0 96.6)" fill="#e8f0b0" opacity="0.35"/>
<ellipse cx="1469.7" cy="90.6" rx="11.1" ry="2.9" transform="rotate(-62 1469.7 90.6)" fill="#8e9e46"/>
<ellipse cx="1469.7" cy="90.6" rx="11.1" ry="2.9" transform="rotate(-62 1469.7 90.6)" fill="url(#shadeG)"/>
<ellipse cx="1467.0" cy="89.7" rx="5.0" ry="1.0" transform="rotate(-62 1469.7 90.6)" fill="#e8f0b0" opacity="0.35"/>
<ellipse cx="1563.1" cy="105.4" rx="15.1" ry="2.9" transform="rotate(2 1563.1 105.4)" fill="#8e9e46"/>
<ellipse cx="1563.1" cy="105.4" rx="15.1" ry="2.9" transform="rotate(2 1563.1 105.4)" fill="url(#shadeG)"/>
<ellipse cx="1559.3" cy="104.5" rx="6.8" ry="1.0" transform="rotate(2 1563.1 105.4)" fill="#e8f0b0" opacity="0.35"/>
<ellipse cx="1543.7" cy="141.6" rx="11.8" ry="3.5" transform="rotate(-57 1543.7 141.6)" fill="#98a850"/>
<ellipse cx="1543.7" cy="141.6" rx="11.8" ry="3.5" transform="rotate(-57 1543.7 141.6)" fill="url(#shadeG)"/>
<ellipse cx="1540.8" cy="140.6" rx="5.3" ry="1.2" transform="rotate(-57 1543.7 141.6)" fill="#e8f0b0" opacity="0.35"/>
<ellipse cx="1528.6" cy="157.5" rx="13.9" ry="3.4" transform="rotate(-54 1528.6 157.5)" fill="#b4bc74"/>
<ellipse cx="1528.6" cy="157.5" rx="13.9" ry="3.4" transform="rotate(-54 1528.6 157.5)" fill="url(#shadeG)"/>
<ellipse cx="1525.2" cy="156.4" rx="6.2" ry="1.2" transform="rotate(-54 1528.6 157.5)" fill="#e8f0b0" opacity="0.35"/>
<ellipse cx="1455.5" cy="85.5" rx="12.5" ry="3.1" transform="rotate(-58 1455.5 85.5)" fill="#b4bc74"/>
<ellipse cx="1455.5" cy="85.5" rx="12.5" ry="3.1" transform="rotate(-58 1455.5 85.5)" fill="url(#shadeG)"/>
<ellipse cx="1452.3" cy="84.5" rx="5.6" ry="1.1" transform="rotate(-58 1455.5 85.5)" fill="#e8f0b0" opacity="0.35"/>
<ellipse cx="1470.1" cy="206.1" rx="13.7" ry="3.5" transform="rotate(-42 1470.1 206.1)" fill="#72802e"/>
<ellipse cx="1470.1" cy="206.1" rx="13.7" ry="3.5" transform="rotate(-42 1470.1 206.1)" fill="url(#shadeG)"/>
<ellipse cx="1466.7" cy="205.1" rx="6.2" ry="1.2" transform="rotate(-42 1470.1 206.1)" fill="#e8f0b0" opacity="0.35"/>
<ellipse cx="1402.4" cy="73.5" rx="11.1" ry="2.6" transform="rotate(-41 1402.4 73.5)" fill="#98a850"/>
<ellipse cx="1402.4" cy="73.5" rx="11.1" ry="2.6" transform="rotate(-41 1402.4 73.5)" fill="url(#shadeG)"/>
<ellipse cx="1399.7" cy="72.7" rx="5.0" ry="0.9" transform="rotate(-41 1402.4 73.5)" fill="#e8f0b0" opacity="0.35"/>
<ellipse cx="1493.4" cy="173.3" rx="13.9" ry="2.6" transform="rotate(-18 1493.4 173.3)" fill="#66722a"/>
<ellipse cx="1493.4" cy="173.3" rx="13.9" ry="2.6" transform="rotate(-18 1493.4 173.3)" fill="url(#shadeG)"/>
<ellipse cx="1490.0" cy="172.5" rx="6.3" ry="0.9" transform="rotate(-18 1493.4 173.3)" fill="#e8f0b0" opacity="0.35"/>
<ellipse cx="1567.5" cy="191.8" rx="11.9" ry="2.7" transform="rotate(12 1567.5 191.8)" fill="#8e9e46"/>
<ellipse cx="1567.5" cy="191.8" rx="11.9" ry="2.7" transform="rotate(12 1567.5 191.8)" fill="url(#shadeG)"/>
<ellipse cx="1564.6" cy="190.9" rx="5.4" ry="1.0" transform="rotate(12 1567.5 191.8)" fill="#e8f0b0" opacity="0.35"/>
<ellipse cx="1445.6" cy="146.9" rx="13.3" ry="3.0" transform="rotate(-3 1445.6 146.9)" fill="#b4bc74"/>
<ellipse cx="1445.6" cy="146.9" rx="13.3" ry="3.0" transform="rotate(-3 1445.6 146.9)" fill="url(#shadeG)"/>
<ellipse cx="1442.3" cy="146.0" rx="6.0" ry="1.0" transform="rotate(-3 1445.6 146.9)" fill="#e8f0b0" opacity="0.35"/>
<ellipse cx="1426.9" cy="73.6" rx="12.8" ry="3.4" transform="rotate(-36 1426.9 73.6)" fill="#aab868"/>
<ellipse cx="1426.9" cy="73.6" rx="12.8" ry="3.4" transform="rotate(-36 1426.9 73.6)" fill="url(#shadeG)"/>
<ellipse cx="1423.7" cy="72.6" rx="5.8" ry="1.2" transform="rotate(-36 1426.9 73.6)" fill="#e8f0b0" opacity="0.35"/>
<ellipse cx="1535.2" cy="121.6" rx="12.7" ry="2.9" transform="rotate(-56 1535.2 121.6)" fill="#b4bc74"/>
<ellipse cx="1535.2" cy="121.6" rx="12.7" ry="2.9" transform="rotate(-56 1535.2 121.6)" fill="url(#shadeG)"/>
<ellipse cx="1532.0" cy="120.7" rx="5.7" ry="1.0" transform="rotate(-56 1535.2 121.6)" fill="#e8f0b0" opacity="0.35"/>
<ellipse cx="1426.7" cy="66.4" rx="10.7" ry="3.5" transform="rotate(2 1426.7 66.4)" fill="#aab868"/>
<ellipse cx="1426.7" cy="66.4" rx="10.7" ry="3.5" transform="rotate(2 1426.7 66.4)" fill="url(#shadeG)"/>
<ellipse cx="1424.0" cy="65.3" rx="4.8" ry="1.2" transform="rotate(2 1426.7 66.4)" fill="#e8f0b0" opacity="0.35"/>
<ellipse cx="1397.0" cy="88.1" rx="13.3" ry="2.8" transform="rotate(-35 1397.0 88.1)" fill="#8e9e46"/>
<ellipse cx="1397.0" cy="88.1" rx="13.3" ry="2.8" transform="rotate(-35 1397.0 88.1)" fill="url(#shadeG)"/>
<ellipse cx="1393.7" cy="87.3" rx="6.0" ry="1.0" transform="rotate(-35 1397.0 88.1)" fill="#e8f0b0" opacity="0.35"/>
<ellipse cx="1444.5" cy="138.2" rx="15.1" ry="3.2" transform="rotate(-7 1444.5 138.2)" fill="#66722a"/>
<ellipse cx="1444.5" cy="138.2" rx="15.1" ry="3.2" transform="rotate(-7 1444.5 138.2)" fill="url(#shadeG)"/>
<ellipse cx="1440.7" cy="137.3" rx="6.8" ry="1.1" transform="rotate(-7 1444.5 138.2)" fill="#e8f0b0" opacity="0.35"/>
<ellipse cx="1441.2" cy="128.8" rx="11.3" ry="3.0" transform="rotate(-37 1441.2 128.8)" fill="#a0b058"/>
<ellipse cx="1441.2" cy="128.8" rx="11.3" ry="3.0" transform="rotate(-37 1441.2 128.8)" fill="url(#shadeG)"/>
<ellipse cx="1438.4" cy="127.9" rx="5.1" ry="1.0" transform="rotate(-37 1441.2 128.8)" fill="#e8f0b0" opacity="0.35"/>
<ellipse cx="1411.2" cy="183.0" rx="13.5" ry="3.2" transform="rotate(-24 1411.2 183.0)" fill="#aab868"/>
<ellipse cx="1411.2" cy="183.0" rx="13.5" ry="3.2" transform="rotate(-24 1411.2 183.0)" fill="url(#shadeG)"/>
<ellipse cx="1407.8" cy="182.0" rx="6.1" ry="1.1" transform="rotate(-24 1411.2 183.0)" fill="#e8f0b0" opacity="0.35"/>
<ellipse cx="1476.3" cy="182.8" rx="15.1" ry="3.0" transform="rotate(-6 1476.3 182.8)" fill="#b4bc74"/>
<ellipse cx="1476.3" cy="182.8" rx="15.1" ry="3.0" transform="rotate(-6 1476.3 182.8)" fill="url(#shadeG)"/>
<ellipse cx="1472.6" cy="182.0" rx="6.8" ry="1.0" transform="rotate(-6 1476.3 182.8)" fill="#e8f0b0" opacity="0.35"/>
<ellipse cx="1405.5" cy="149.2" rx="13.9" ry="2.8" transform="rotate(-28 1405.5 149.2)" fill="#b4bc74"/>
<ellipse cx="1405.5" cy="149.2" rx="13.9" ry="2.8" transform="rotate(-28 1405.5 149.2)" fill="url(#shadeG)"/>
<ellipse cx="1402.0" cy="148.3" rx="6.2" ry="1.0" transform="rotate(-28 1405.5 149.2)" fill="#e8f0b0" opacity="0.35"/>
<ellipse cx="1446.9" cy="205.0" rx="15.0" ry="2.9" transform="rotate(-10 1446.9 205.0)" fill="#72802e"/>
<ellipse cx="1446.9" cy="205.0" rx="15.0" ry="2.9" transform="rotate(-10 1446.9 205.0)" fill="url(#shadeG)"/>
<ellipse cx="1443.2" cy="204.1" rx="6.7" ry="1.0" transform="rotate(-10 1446.9 205.0)" fill="#e8f0b0" opacity="0.35"/>
<ellipse cx="1563.8" cy="176.6" rx="12.8" ry="2.7" transform="rotate(-54 1563.8 176.6)" fill="#a0b058"/>
<ellipse cx="1563.8" cy="176.6" rx="12.8" ry="2.7" transform="rotate(-54 1563.8 176.6)" fill="url(#shadeG)"/>
<ellipse cx="1560.6" cy="175.8" rx="5.7" ry="1.0" transform="rotate(-54 1563.8 176.6)" fill="#e8f0b0" opacity="0.35"/>
<ellipse cx="1470.3" cy="65.2" rx="13.6" ry="2.5" transform="rotate(-40 1470.3 65.2)" fill="#a0b058"/>
<ellipse cx="1470.3" cy="65.2" rx="13.6" ry="2.5" transform="rotate(-40 1470.3 65.2)" fill="url(#shadeG)"/>
<ellipse cx="1466.9" cy="64.4" rx="6.1" ry="0.9" transform="rotate(-40 1470.3 65.2)" fill="#e8f0b0" opacity="0.35"/>
<ellipse cx="1406.5" cy="100.7" rx="12.4" ry="3.2" transform="rotate(-11 1406.5 100.7)" fill="#8e9e46"/>
<ellipse cx="1406.5" cy="100.7" rx="12.4" ry="3.2" transform="rotate(-11 1406.5 100.7)" fill="url(#shadeG)"/>
<ellipse cx="1403.4" cy="99.8" rx="5.6" ry="1.1" transform="rotate(-11 1406.5 100.7)" fill="#e8f0b0" opacity="0.35"/>
<ellipse cx="1554.2" cy="66.4" rx="15.5" ry="2.8" transform="rotate(-23 1554.2 66.4)" fill="#b4bc74"/>
<ellipse cx="1554.2" cy="66.4" rx="15.5" ry="2.8" transform="rotate(-23 1554.2 66.4)" fill="url(#shadeG)"/>
<ellipse cx="1550.3" cy="65.6" rx="7.0" ry="1.0" transform="rotate(-23 1554.2 66.4)" fill="#e8f0b0" opacity="0.35"/>
<ellipse cx="1451.8" cy="195.0" rx="14.6" ry="2.9" transform="rotate(-35 1451.8 195.0)" fill="#8e9e46"/>
<ellipse cx="1451.8" cy="195.0" rx="14.6" ry="2.9" transform="rotate(-35 1451.8 195.0)" fill="url(#shadeG)"/>
<ellipse cx="1448.2" cy="194.1" rx="6.6" ry="1.0" transform="rotate(-35 1451.8 195.0)" fill="#e8f0b0" opacity="0.35"/>
<ellipse cx="1455.7" cy="147.7" rx="13.0" ry="3.1" transform="rotate(-35 1455.7 147.7)" fill="#82923c"/>
<ellipse cx="1455.7" cy="147.7" rx="13.0" ry="3.1" transform="rotate(-35 1455.7 147.7)" fill="url(#shadeG)"/>
<ellipse cx="1452.4" cy="146.8" rx="5.9" ry="1.1" transform="rotate(-35 1455.7 147.7)" fill="#e8f0b0" opacity="0.35"/>
<ellipse cx="1432.8" cy="210.5" rx="11.9" ry="2.7" transform="rotate(6 1432.8 210.5)" fill="#aab868"/>
<ellipse cx="1432.8" cy="210.5" rx="11.9" ry="2.7" transform="rotate(6 1432.8 210.5)" fill="url(#shadeG)"/>
<ellipse cx="1429.8" cy="209.6" rx="5.4" ry="0.9" transform="rotate(6 1432.8 210.5)" fill="#e8f0b0" opacity="0.35"/>
<ellipse cx="1533.6" cy="195.5" rx="14.1" ry="2.6" transform="rotate(-53 1533.6 195.5)" fill="#8e9e46"/>
<ellipse cx="1533.6" cy="195.5" rx="14.1" ry="2.6" transform="rotate(-53 1533.6 195.5)" fill="url(#shadeG)"/>
<ellipse cx="1530.1" cy="194.8" rx="6.3" ry="0.9" transform="rotate(-53 1533.6 195.5)" fill="#e8f0b0" opacity="0.35"/>
<ellipse cx="1446.0" cy="159.0" rx="14.7" ry="3.2" transform="rotate(-13 1446.0 159.0)" fill="#98a850"/>
<ellipse cx="1446.0" cy="159.0" rx="14.7" ry="3.2" transform="rotate(-13 1446.0 159.0)" fill="url(#shadeG)"/>
<ellipse cx="1442.4" cy="158.0" rx="6.6" ry="1.1" transform="rotate(-13 1446.0 159.0)" fill="#e8f0b0" opacity="0.35"/>
<ellipse cx="1393.3" cy="112.1" rx="14.1" ry="3.3" transform="rotate(-63 1393.3 112.1)" fill="#82923c"/>
<ellipse cx="1393.3" cy="112.1" rx="14.1" ry="3.3" transform="rotate(-63 1393.3 112.1)" fill="url(#shadeG)"/>
<ellipse cx="1389.8" cy="111.1" rx="6.4" ry="1.1" transform="rotate(-63 1393.3 112.1)" fill="#e8f0b0" opacity="0.35"/>
<ellipse cx="1495.2" cy="102.1" rx="10.5" ry="3.3" transform="rotate(-17 1495.2 102.1)" fill="#aab868"/>
<ellipse cx="1495.2" cy="102.1" rx="10.5" ry="3.3" transform="rotate(-17 1495.2 102.1)" fill="url(#shadeG)"/>
<ellipse cx="1492.6" cy="101.1" rx="4.7" ry="1.2" transform="rotate(-17 1495.2 102.1)" fill="#e8f0b0" opacity="0.35"/>
<ellipse cx="1502.8" cy="118.3" rx="14.3" ry="2.6" transform="rotate(-41 1502.8 118.3)" fill="#8e9e46"/>
<ellipse cx="1502.8" cy="118.3" rx="14.3" ry="2.6" transform="rotate(-41 1502.8 118.3)" fill="url(#shadeG)"/>
<ellipse cx="1499.2" cy="117.5" rx="6.5" ry="0.9" transform="rotate(-41 1502.8 118.3)" fill="#e8f0b0" opacity="0.35"/>
<ellipse cx="1393.8" cy="210.3" rx="13.0" ry="2.9" transform="rotate(5 1393.8 210.3)" fill="#82923c"/>
<ellipse cx="1393.8" cy="210.3" rx="13.0" ry="2.9" transform="rotate(5 1393.8 210.3)" fill="url(#shadeG)"/>
<ellipse cx="1390.6" cy="209.4" rx="5.8" ry="1.0" transform="rotate(5 1393.8 210.3)" fill="#e8f0b0" opacity="0.35"/>
<ellipse cx="1462.4" cy="115.0" rx="13.9" ry="3.4" transform="rotate(-34 1462.4 115.0)" fill="#aab868"/>
<ellipse cx="1462.4" cy="115.0" rx="13.9" ry="3.4" transform="rotate(-34 1462.4 115.0)" fill="url(#shadeG)"/>
<ellipse cx="1459.0" cy="114.0" rx="6.2" ry="1.2" transform="rotate(-34 1462.4 115.0)" fill="#e8f0b0" opacity="0.35"/>
<ellipse cx="1541.7" cy="92.1" rx="15.0" ry="2.7" transform="rotate(11 1541.7 92.1)" fill="#b4bc74"/>
<ellipse cx="1541.7" cy="92.1" rx="15.0" ry="2.7" transform="rotate(11 1541.7 92.1)" fill="url(#shadeG)"/>
<ellipse cx="1537.9" cy="91.3" rx="6.7" ry="0.9" transform="rotate(11 1541.7 92.1)" fill="#e8f0b0" opacity="0.35"/>
<ellipse cx="1412.6" cy="103.4" rx="12.7" ry="2.9" transform="rotate(-58 1412.6 103.4)" fill="#aab868"/>
<ellipse cx="1412.6" cy="103.4" rx="12.7" ry="2.9" transform="rotate(-58 1412.6 103.4)" fill="url(#shadeG)"/>
<ellipse cx="1409.4" cy="102.5" rx="5.7" ry="1.0" transform="rotate(-58 1412.6 103.4)" fill="#e8f0b0" opacity="0.35"/>
<ellipse cx="1423.7" cy="160.5" rx="14.9" ry="3.3" transform="rotate(-39 1423.7 160.5)" fill="#aab868"/>
<ellipse cx="1423.7" cy="160.5" rx="14.9" ry="3.3" transform="rotate(-39 1423.7 160.5)" fill="url(#shadeG)"/>
<ellipse cx="1420.0" cy="159.5" rx="6.7" ry="1.2" transform="rotate(-39 1423.7 160.5)" fill="#e8f0b0" opacity="0.35"/>
<ellipse cx="1434.8" cy="132.5" rx="14.3" ry="2.7" transform="rotate(-51 1434.8 132.5)" fill="#a0b058"/>
<ellipse cx="1434.8" cy="132.5" rx="14.3" ry="2.7" transform="rotate(-51 1434.8 132.5)" fill="url(#shadeG)"/>
<ellipse cx="1431.2" cy="131.7" rx="6.5" ry="0.9" transform="rotate(-51 1434.8 132.5)" fill="#e8f0b0" opacity="0.35"/>
<ellipse cx="1485.5" cy="63.3" rx="11.3" ry="3.0" transform="rotate(-29 1485.5 63.3)" fill="#a0b058"/>
<ellipse cx="1485.5" cy="63.3" rx="11.3" ry="3.0" transform="rotate(-29 1485.5 63.3)" fill="url(#shadeG)"/>
<ellipse cx="1482.6" cy="62.4" rx="5.1" ry="1.1" transform="rotate(-29 1485.5 63.3)" fill="#e8f0b0" opacity="0.35"/>
<ellipse cx="1543.3" cy="66.8" rx="15.6" ry="3.2" transform="rotate(-47 1543.3 66.8)" fill="#82923c"/>
<ellipse cx="1543.3" cy="66.8" rx="15.6" ry="3.2" transform="rotate(-47 1543.3 66.8)" fill="url(#shadeG)"/>
<ellipse cx="1539.4" cy="65.9" rx="7.0" ry="1.1" transform="rotate(-47 1543.3 66.8)" fill="#e8f0b0" opacity="0.35"/>
<ellipse cx="1504.2" cy="149.7" rx="12.4" ry="2.6" transform="rotate(15 1504.2 149.7)" fill="#8e9e46"/>
<ellipse cx="1504.2" cy="149.7" rx="12.4" ry="2.6" transform="rotate(15 1504.2 149.7)" fill="url(#shadeG)"/>
<ellipse cx="1501.1" cy="148.9" rx="5.6" ry="0.9" transform="rotate(15 1504.2 149.7)" fill="#e8f0b0" opacity="0.35"/>
<ellipse cx="1519.2" cy="178.1" rx="12.0" ry="3.6" transform="rotate(-20 1519.2 178.1)" fill="#66722a"/>
<ellipse cx="1519.2" cy="178.1" rx="12.0" ry="3.6" transform="rotate(-20 1519.2 178.1)" fill="url(#shadeG)"/>
<ellipse cx="1516.2" cy="177.0" rx="5.4" ry="1.3" transform="rotate(-20 1519.2 178.1)" fill="#e8f0b0" opacity="0.35"/>
<ellipse cx="1529.5" cy="68.4" rx="12.9" ry="3.3" transform="rotate(-12 1529.5 68.4)" fill="#82923c"/>
<ellipse cx="1529.5" cy="68.4" rx="12.9" ry="3.3" transform="rotate(-12 1529.5 68.4)" fill="url(#shadeG)"/>
<ellipse cx="1526.3" cy="67.4" rx="5.8" ry="1.2" transform="rotate(-12 1529.5 68.4)" fill="#e8f0b0" opacity="0.35"/>
<ellipse cx="1465.2" cy="118.0" rx="14.5" ry="3.1" transform="rotate(-47 1465.2 118.0)" fill="#66722a"/>
<ellipse cx="1465.2" cy="118.0" rx="14.5" ry="3.1" transform="rotate(-47 1465.2 118.0)" fill="url(#shadeG)"/>
<ellipse cx="1461.5" cy="117.1" rx="6.5" ry="1.1" transform="rotate(-47 1465.2 118.0)" fill="#e8f0b0" opacity="0.35"/>
<ellipse cx="1525.4" cy="118.7" rx="12.0" ry="3.3" transform="rotate(-11 1525.4 118.7)" fill="#82923c"/>
<ellipse cx="1525.4" cy="118.7" rx="12.0" ry="3.3" transform="rotate(-11 1525.4 118.7)" fill="url(#shadeG)"/>
<ellipse cx="1522.4" cy="117.8" rx="5.4" ry="1.1" transform="rotate(-11 1525.4 118.7)" fill="#e8f0b0" opacity="0.35"/>
<ellipse cx="1404.5" cy="207.0" rx="15.5" ry="3.1" transform="rotate(-43 1404.5 207.0)" fill="#66722a"/>
<ellipse cx="1404.5" cy="207.0" rx="15.5" ry="3.1" transform="rotate(-43 1404.5 207.0)" fill="url(#shadeG)"/>
<ellipse cx="1400.6" cy="206.1" rx="7.0" ry="1.1" transform="rotate(-43 1404.5 207.0)" fill="#e8f0b0" opacity="0.35"/>
<ellipse cx="1461.9" cy="212.5" rx="13.1" ry="3.1" transform="rotate(-34 1461.9 212.5)" fill="#98a850"/>
<ellipse cx="1461.9" cy="212.5" rx="13.1" ry="3.1" transform="rotate(-34 1461.9 212.5)" fill="url(#shadeG)"/>
<ellipse cx="1458.6" cy="211.6" rx="5.9" ry="1.1" transform="rotate(-34 1461.9 212.5)" fill="#e8f0b0" opacity="0.35"/>
<ellipse cx="1520.8" cy="133.6" rx="15.0" ry="3.2" transform="rotate(-24 1520.8 133.6)" fill="#98a850"/>
<ellipse cx="1520.8" cy="133.6" rx="15.0" ry="3.2" transform="rotate(-24 1520.8 133.6)" fill="url(#shadeG)"/>
<ellipse cx="1517.0" cy="132.7" rx="6.7" ry="1.1" transform="rotate(-24 1520.8 133.6)" fill="#e8f0b0" opacity="0.35"/>
<ellipse cx="1531.4" cy="86.2" rx="10.9" ry="2.9" transform="rotate(-27 1531.4 86.2)" fill="#8e9e46"/>
<ellipse cx="1531.4" cy="86.2" rx="10.9" ry="2.9" transform="rotate(-27 1531.4 86.2)" fill="url(#shadeG)"/>
<ellipse cx="1528.7" cy="85.3" rx="4.9" ry="1.0" transform="rotate(-27 1531.4 86.2)" fill="#e8f0b0" opacity="0.35"/>
<ellipse cx="1509.7" cy="77.3" rx="13.7" ry="2.4" transform="rotate(8 1509.7 77.3)" fill="#82923c"/>
<ellipse cx="1509.7" cy="77.3" rx="13.7" ry="2.4" transform="rotate(8 1509.7 77.3)" fill="url(#shadeG)"/>
<ellipse cx="1506.3" cy="76.6" rx="6.2" ry="0.8" transform="rotate(8 1509.7 77.3)" fill="#e8f0b0" opacity="0.35"/>
<ellipse cx="1514.6" cy="149.7" rx="13.2" ry="3.6" transform="rotate(15 1514.6 149.7)" fill="#98a850"/>
<ellipse cx="1514.6" cy="149.7" rx="13.2" ry="3.6" transform="rotate(15 1514.6 149.7)" fill="url(#shadeG)"/>
<ellipse cx="1511.2" cy="148.6" rx="6.0" ry="1.3" transform="rotate(15 1514.6 149.7)" fill="#e8f0b0" opacity="0.35"/>
<ellipse cx="1515.7" cy="184.8" rx="13.1" ry="3.5" transform="rotate(-68 1515.7 184.8)" fill="#82923c"/>
<ellipse cx="1515.7" cy="184.8" rx="13.1" ry="3.5" transform="rotate(-68 1515.7 184.8)" fill="url(#shadeG)"/>
<ellipse cx="1512.4" cy="183.8" rx="5.9" ry="1.2" transform="rotate(-68 1515.7 184.8)" fill="#e8f0b0" opacity="0.35"/>
<ellipse cx="1502.9" cy="128.4" rx="14.2" ry="2.7" transform="rotate(-1 1502.9 128.4)" fill="#aab868"/>
<ellipse cx="1502.9" cy="128.4" rx="14.2" ry="2.7" transform="rotate(-1 1502.9 128.4)" fill="url(#shadeG)"/>
<ellipse cx="1499.4" cy="127.6" rx="6.4" ry="1.0" transform="rotate(-1 1502.9 128.4)" fill="#e8f0b0" opacity="0.35"/>
<ellipse cx="1538.0" cy="173.8" rx="12.4" ry="3.5" transform="rotate(-69 1538.0 173.8)" fill="#aab868"/>
<ellipse cx="1538.0" cy="173.8" rx="12.4" ry="3.5" transform="rotate(-69 1538.0 173.8)" fill="url(#shadeG)"/>
<ellipse cx="1534.9" cy="172.8" rx="5.6" ry="1.2" transform="rotate(-69 1538.0 173.8)" fill="#e8f0b0" opacity="0.35"/>
<ellipse cx="1446.8" cy="195.3" rx="13.7" ry="3.0" transform="rotate(-28 1446.8 195.3)" fill="#98a850"/>
<ellipse cx="1446.8" cy="195.3" rx="13.7" ry="3.0" transform="rotate(-28 1446.8 195.3)" fill="url(#shadeG)"/>
<ellipse cx="1443.4" cy="194.4" rx="6.1" ry="1.1" transform="rotate(-28 1446.8 195.3)" fill="#e8f0b0" opacity="0.35"/>
<ellipse cx="1481.0" cy="200.7" rx="11.4" ry="2.5" transform="rotate(-13 1481.0 200.7)" fill="#b4bc74"/>
<ellipse cx="1481.0" cy="200.7" rx="11.4" ry="2.5" transform="rotate(-13 1481.0 200.7)" fill="url(#shadeG)"/>
<ellipse cx="1478.1" cy="200.0" rx="5.1" ry="0.9" transform="rotate(-13 1481.0 200.7)" fill="#e8f0b0" opacity="0.35"/>
<ellipse cx="1560.1" cy="72.6" rx="15.6" ry="2.9" transform="rotate(-36 1560.1 72.6)" fill="#8e9e46"/>
<ellipse cx="1560.1" cy="72.6" rx="15.6" ry="2.9" transform="rotate(-36 1560.1 72.6)" fill="url(#shadeG)"/>
<ellipse cx="1556.2" cy="71.7" rx="7.0" ry="1.0" transform="rotate(-36 1560.1 72.6)" fill="#e8f0b0" opacity="0.35"/>
<ellipse cx="1432.0" cy="188.3" rx="12.2" ry="3.0" transform="rotate(7 1432.0 188.3)" fill="#72802e"/>
<ellipse cx="1432.0" cy="188.3" rx="12.2" ry="3.0" transform="rotate(7 1432.0 188.3)" fill="url(#shadeG)"/>
<ellipse cx="1429.0" cy="187.4" rx="5.5" ry="1.1" transform="rotate(7 1432.0 188.3)" fill="#e8f0b0" opacity="0.35"/>
<ellipse cx="1514.6" cy="103.1" rx="13.1" ry="3.1" transform="rotate(-23 1514.6 103.1)" fill="#98a850"/>
<ellipse cx="1514.6" cy="103.1" rx="13.1" ry="3.1" transform="rotate(-23 1514.6 103.1)" fill="url(#shadeG)"/>
<ellipse cx="1511.3" cy="102.1" rx="5.9" ry="1.1" transform="rotate(-23 1514.6 103.1)" fill="#e8f0b0" opacity="0.35"/>
<ellipse cx="1412.5" cy="69.1" rx="14.5" ry="2.9" transform="rotate(-70 1412.5 69.1)" fill="#82923c"/>
<ellipse cx="1412.5" cy="69.1" rx="14.5" ry="2.9" transform="rotate(-70 1412.5 69.1)" fill="url(#shadeG)"/>
<ellipse cx="1408.8" cy="68.2" rx="6.5" ry="1.0" transform="rotate(-70 1412.5 69.1)" fill="#e8f0b0" opacity="0.35"/>
<ellipse cx="1403.0" cy="138.7" rx="12.1" ry="3.0" transform="rotate(-14 1403.0 138.7)" fill="#b4bc74"/>
<ellipse cx="1403.0" cy="138.7" rx="12.1" ry="3.0" transform="rotate(-14 1403.0 138.7)" fill="url(#shadeG)"/>
<ellipse cx="1399.9" cy="137.8" rx="5.5" ry="1.1" transform="rotate(-14 1403.0 138.7)" fill="#e8f0b0" opacity="0.35"/>
<ellipse cx="1543.1" cy="192.4" rx="11.1" ry="2.7" transform="rotate(-3 1543.1 192.4)" fill="#b4bc74"/>
<ellipse cx="1543.1" cy="192.4" rx="11.1" ry="2.7" transform="rotate(-3 1543.1 192.4)" fill="url(#shadeG)"/>
<ellipse cx="1540.4" cy="191.6" rx="5.0" ry="0.9" transform="rotate(-3 1543.1 192.4)" fill="#e8f0b0" opacity="0.35"/>
<ellipse cx="1440.6" cy="112.6" rx="12.8" ry="3.3" transform="rotate(-17 1440.6 112.6)" fill="#b4bc74"/>
<ellipse cx="1440.6" cy="112.6" rx="12.8" ry="3.3" transform="rotate(-17 1440.6 112.6)" fill="url(#shadeG)"/>
<ellipse cx="1437.4" cy="111.7" rx="5.8" ry="1.1" transform="rotate(-17 1440.6 112.6)" fill="#e8f0b0" opacity="0.35"/>
<ellipse cx="1504.9" cy="87.4" rx="14.0" ry="3.3" transform="rotate(-17 1504.9 87.4)" fill="#a0b058"/>
<ellipse cx="1504.9" cy="87.4" rx="14.0" ry="3.3" transform="rotate(-17 1504.9 87.4)" fill="url(#shadeG)"/>
<ellipse cx="1501.4" cy="86.4" rx="6.3" ry="1.2" transform="rotate(-17 1504.9 87.4)" fill="#e8f0b0" opacity="0.35"/>
<ellipse cx="1544.5" cy="160.1" rx="10.9" ry="3.5" transform="rotate(-8 1544.5 160.1)" fill="#aab868"/>
<ellipse cx="1544.5" cy="160.1" rx="10.9" ry="3.5" transform="rotate(-8 1544.5 160.1)" fill="url(#shadeG)"/>
<ellipse cx="1541.8" cy="159.1" rx="4.9" ry="1.2" transform="rotate(-8 1544.5 160.1)" fill="#e8f0b0" opacity="0.35"/>
<ellipse cx="1559.2" cy="156.6" rx="14.6" ry="3.3" transform="rotate(8 1559.2 156.6)" fill="#72802e"/>
<ellipse cx="1559.2" cy="156.6" rx="14.6" ry="3.3" transform="rotate(8 1559.2 156.6)" fill="url(#shadeG)"/>
<ellipse cx="1555.5" cy="155.6" rx="6.6" ry="1.1" transform="rotate(8 1559.2 156.6)" fill="#e8f0b0" opacity="0.35"/>
<ellipse cx="1534.9" cy="94.2" rx="11.8" ry="2.9" transform="rotate(-12 1534.9 94.2)" fill="#72802e"/>
<ellipse cx="1534.9" cy="94.2" rx="11.8" ry="2.9" transform="rotate(-12 1534.9 94.2)" fill="url(#shadeG)"/>
<ellipse cx="1531.9" cy="93.4" rx="5.3" ry="1.0" transform="rotate(-12 1534.9 94.2)" fill="#e8f0b0" opacity="0.35"/>
<ellipse cx="1443.1" cy="122.5" rx="10.6" ry="2.9" transform="rotate(-49 1443.1 122.5)" fill="#82923c"/>
<ellipse cx="1443.1" cy="122.5" rx="10.6" ry="2.9" transform="rotate(-49 1443.1 122.5)" fill="url(#shadeG)"/>
<ellipse cx="1440.4" cy="121.7" rx="4.8" ry="1.0" transform="rotate(-49 1443.1 122.5)" fill="#e8f0b0" opacity="0.35"/>
<ellipse cx="1491.1" cy="166.7" rx="12.7" ry="3.3" transform="rotate(-52 1491.1 166.7)" fill="#8e9e46"/>
<ellipse cx="1491.1" cy="166.7" rx="12.7" ry="3.3" transform="rotate(-52 1491.1 166.7)" fill="url(#shadeG)"/>
<ellipse cx="1487.9" cy="165.8" rx="5.7" ry="1.1" transform="rotate(-52 1491.1 166.7)" fill="#e8f0b0" opacity="0.35"/>
<ellipse cx="1484.6" cy="191.7" rx="13.1" ry="2.9" transform="rotate(-2 1484.6 191.7)" fill="#a0b058"/>
<ellipse cx="1484.6" cy="191.7" rx="13.1" ry="2.9" transform="rotate(-2 1484.6 191.7)" fill="url(#shadeG)"/>
<ellipse cx="1481.4" cy="190.8" rx="5.9" ry="1.0" transform="rotate(-2 1484.6 191.7)" fill="#e8f0b0" opacity="0.35"/>
<ellipse cx="1457.1" cy="177.3" rx="14.1" ry="3.5" transform="rotate(-24 1457.1 177.3)" fill="#aab868"/>
<ellipse cx="1457.1" cy="177.3" rx="14.1" ry="3.5" transform="rotate(-24 1457.1 177.3)" fill="url(#shadeG)"/>
<ellipse cx="1453.6" cy="176.2" rx="6.3" ry="1.2" transform="rotate(-24 1457.1 177.3)" fill="#e8f0b0" opacity="0.35"/>
<ellipse cx="1425.1" cy="210.8" rx="12.2" ry="3.1" transform="rotate(-21 1425.1 210.8)" fill="#a0b058"/>
<ellipse cx="1425.1" cy="210.8" rx="12.2" ry="3.1" transform="rotate(-21 1425.1 210.8)" fill="url(#shadeG)"/>
<ellipse cx="1422.1" cy="209.9" rx="5.5" ry="1.1" transform="rotate(-21 1425.1 210.8)" fill="#e8f0b0" opacity="0.35"/>
<ellipse cx="1523.3" cy="201.9" rx="12.9" ry="3.5" transform="rotate(-53 1523.3 201.9)" fill="#66722a"/>
<ellipse cx="1523.3" cy="201.9" rx="12.9" ry="3.5" transform="rotate(-53 1523.3 201.9)" fill="url(#shadeG)"/>
<ellipse cx="1520.0" cy="200.9" rx="5.8" ry="1.2" transform="rotate(-53 1523.3 201.9)" fill="#e8f0b0" opacity="0.35"/>
<ellipse cx="1548.0" cy="82.8" rx="10.9" ry="2.8" transform="rotate(-7 1548.0 82.8)" fill="#66722a"/>
<ellipse cx="1548.0" cy="82.8" rx="10.9" ry="2.8" transform="rotate(-7 1548.0 82.8)" fill="url(#shadeG)"/>
<ellipse cx="1545.2" cy="82.0" rx="4.9" ry="1.0" transform="rotate(-7 1548.0 82.8)" fill="#e8f0b0" opacity="0.35"/>
<ellipse cx="1395.1" cy="96.4" rx="13.6" ry="2.8" transform="rotate(-31 1395.1 96.4)" fill="#98a850"/>
<ellipse cx="1395.1" cy="96.4" rx="13.6" ry="2.8" transform="rotate(-31 1395.1 96.4)" fill="url(#shadeG)"/>
<ellipse cx="1391.7" cy="95.6" rx="6.1" ry="1.0" transform="rotate(-31 1395.1 96.4)" fill="#e8f0b0" opacity="0.35"/>
<ellipse cx="1476.1" cy="127.7" rx="13.4" ry="2.6" transform="rotate(8 1476.1 127.7)" fill="#72802e"/>
<ellipse cx="1476.1" cy="127.7" rx="13.4" ry="2.6" transform="rotate(8 1476.1 127.7)" fill="url(#shadeG)"/>
<ellipse cx="1472.7" cy="126.9" rx="6.0" ry="0.9" transform="rotate(8 1476.1 127.7)" fill="#e8f0b0" opacity="0.35"/>
<ellipse cx="1432.9" cy="75.5" rx="11.6" ry="2.5" transform="rotate(-56 1432.9 75.5)" fill="#82923c"/>
<ellipse cx="1432.9" cy="75.5" rx="11.6" ry="2.5" transform="rotate(-56 1432.9 75.5)" fill="url(#shadeG)"/>
<ellipse cx="1430.0" cy="74.7" rx="5.2" ry="0.9" transform="rotate(-56 1432.9 75.5)" fill="#e8f0b0" opacity="0.35"/>
<ellipse cx="1513.5" cy="195.5" rx="12.7" ry="2.9" transform="rotate(-23 1513.5 195.5)" fill="#a0b058"/>
<ellipse cx="1513.5" cy="195.5" rx="12.7" ry="2.9" transform="rotate(-23 1513.5 195.5)" fill="url(#shadeG)"/>
<ellipse cx="1510.3" cy="194.6" rx="5.7" ry="1.0" transform="rotate(-23 1513.5 195.5)" fill="#e8f0b0" opacity="0.35"/>
<ellipse cx="1398.7" cy="197.1" rx="10.4" ry="2.7" transform="rotate(-28 1398.7 197.1)" fill="#a0b058"/>
<ellipse cx="1398.7" cy="197.1" rx="10.4" ry="2.7" transform="rotate(-28 1398.7 197.1)" fill="url(#shadeG)"/>
<ellipse cx="1396.1" cy="196.3" rx="4.7" ry="0.9" transform="rotate(-28 1398.7 197.1)" fill="#e8f0b0" opacity="0.35"/>
<ellipse cx="1470.9" cy="84.6" rx="12.5" ry="2.7" transform="rotate(-5 1470.9 84.6)" fill="#a0b058"/>
<ellipse cx="1470.9" cy="84.6" rx="12.5" ry="2.7" transform="rotate(-5 1470.9 84.6)" fill="url(#shadeG)"/>
<ellipse cx="1467.8" cy="83.8" rx="5.6" ry="0.9" transform="rotate(-5 1470.9 84.6)" fill="#e8f0b0" opacity="0.35"/>
<ellipse cx="1552.1" cy="169.3" rx="14.7" ry="3.3" transform="rotate(12 1552.1 169.3)" fill="#72802e"/>
<ellipse cx="1552.1" cy="169.3" rx="14.7" ry="3.3" transform="rotate(12 1552.1 169.3)" fill="url(#shadeG)"/>
<ellipse cx="1548.4" cy="168.3" rx="6.6" ry="1.2" transform="rotate(12 1552.1 169.3)" fill="#e8f0b0" opacity="0.35"/>
<ellipse cx="1411.6" cy="168.0" rx="12.2" ry="2.6" transform="rotate(-30 1411.6 168.0)" fill="#b4bc74"/>
<ellipse cx="1411.6" cy="168.0" rx="12.2" ry="2.6" transform="rotate(-30 1411.6 168.0)" fill="url(#shadeG)"/>
<ellipse cx="1408.6" cy="167.3" rx="5.5" ry="0.9" transform="rotate(-30 1411.6 168.0)" fill="#e8f0b0" opacity="0.35"/>
<ellipse cx="1533.1" cy="178.0" rx="14.6" ry="3.2" transform="rotate(-41 1533.1 178.0)" fill="#66722a"/>
<ellipse cx="1533.1" cy="178.0" rx="14.6" ry="3.2" transform="rotate(-41 1533.1 178.0)" fill="url(#shadeG)"/>
<ellipse cx="1529.4" cy="177.1" rx="6.6" ry="1.1" transform="rotate(-41 1533.1 178.0)" fill="#e8f0b0" opacity="0.35"/>
<ellipse cx="1440.4" cy="83.2" rx="11.7" ry="3.0" transform="rotate(-4 1440.4 83.2)" fill="#82923c"/>
<ellipse cx="1440.4" cy="83.2" rx="11.7" ry="3.0" transform="rotate(-4 1440.4 83.2)" fill="url(#shadeG)"/>
<ellipse cx="1437.5" cy="82.3" rx="5.3" ry="1.0" transform="rotate(-4 1440.4 83.2)" fill="#e8f0b0" opacity="0.35"/>
<ellipse cx="1412.2" cy="108.8" rx="14.8" ry="3.3" transform="rotate(-49 1412.2 108.8)" fill="#a0b058"/>
<ellipse cx="1412.2" cy="108.8" rx="14.8" ry="3.3" transform="rotate(-49 1412.2 108.8)" fill="url(#shadeG)"/>
<ellipse cx="1408.5" cy="107.8" rx="6.7" ry="1.2" transform="rotate(-49 1412.2 108.8)" fill="#e8f0b0" opacity="0.35"/>
<ellipse cx="1554.3" cy="148.6" rx="10.9" ry="2.4" transform="rotate(-6 1554.3 148.6)" fill="#a0b058"/>
<ellipse cx="1554.3" cy="148.6" rx="10.9" ry="2.4" transform="rotate(-6 1554.3 148.6)" fill="url(#shadeG)"/>
<ellipse cx="1551.5" cy="147.8" rx="4.9" ry="0.8" transform="rotate(-6 1554.3 148.6)" fill="#e8f0b0" opacity="0.35"/>
<ellipse cx="1492.3" cy="184.6" rx="15.3" ry="2.4" transform="rotate(-9 1492.3 184.6)" fill="#98a850"/>
<ellipse cx="1492.3" cy="184.6" rx="15.3" ry="2.4" transform="rotate(-9 1492.3 184.6)" fill="url(#shadeG)"/>
<ellipse cx="1488.5" cy="183.9" rx="6.9" ry="0.8" transform="rotate(-9 1492.3 184.6)" fill="#e8f0b0" opacity="0.35"/>
<ellipse cx="1508.1" cy="136.6" rx="15.0" ry="3.0" transform="rotate(-19 1508.1 136.6)" fill="#8e9e46"/>
<ellipse cx="1508.1" cy="136.6" rx="15.0" ry="3.0" transform="rotate(-19 1508.1 136.6)" fill="url(#shadeG)"/>
<ellipse cx="1504.4" cy="135.7" rx="6.7" ry="1.0" transform="rotate(-19 1508.1 136.6)" fill="#e8f0b0" opacity="0.35"/>
<ellipse cx="1490.7" cy="82.0" rx="11.5" ry="3.5" transform="rotate(-47 1490.7 82.0)" fill="#66722a"/>
<ellipse cx="1490.7" cy="82.0" rx="11.5" ry="3.5" transform="rotate(-47 1490.7 82.0)" fill="url(#shadeG)"/>
<ellipse cx="1487.8" cy="81.0" rx="5.2" ry="1.2" transform="rotate(-47 1490.7 82.0)" fill="#e8f0b0" opacity="0.35"/>
<ellipse cx="1395.4" cy="178.7" rx="12.4" ry="2.9" transform="rotate(-42 1395.4 178.7)" fill="#98a850"/>
<ellipse cx="1395.4" cy="178.7" rx="12.4" ry="2.9" transform="rotate(-42 1395.4 178.7)" fill="url(#shadeG)"/>
<ellipse cx="1392.3" cy="177.9" rx="5.6" ry="1.0" transform="rotate(-42 1395.4 178.7)" fill="#e8f0b0" opacity="0.35"/>
<ellipse cx="1416.4" cy="196.5" rx="13.5" ry="3.1" transform="rotate(-23 1416.4 196.5)" fill="#8e9e46"/>
<ellipse cx="1416.4" cy="196.5" rx="13.5" ry="3.1" transform="rotate(-23 1416.4 196.5)" fill="url(#shadeG)"/>
<ellipse cx="1413.1" cy="195.6" rx="6.1" ry="1.1" transform="rotate(-23 1416.4 196.5)" fill="#e8f0b0" opacity="0.35"/>
<ellipse cx="1438.0" cy="67.4" rx="12.2" ry="2.9" transform="rotate(-10 1438.0 67.4)" fill="#72802e"/>
<ellipse cx="1438.0" cy="67.4" rx="12.2" ry="2.9" transform="rotate(-10 1438.0 67.4)" fill="url(#shadeG)"/>
<ellipse cx="1434.9" cy="66.5" rx="5.5" ry="1.0" transform="rotate(-10 1438.0 67.4)" fill="#e8f0b0" opacity="0.35"/>
<ellipse cx="1529.1" cy="202.2" rx="15.1" ry="3.4" transform="rotate(-57 1529.1 202.2)" fill="#98a850"/>
<ellipse cx="1529.1" cy="202.2" rx="15.1" ry="3.4" transform="rotate(-57 1529.1 202.2)" fill="url(#shadeG)"/>
<ellipse cx="1525.3" cy="201.2" rx="6.8" ry="1.2" transform="rotate(-57 1529.1 202.2)" fill="#e8f0b0" opacity="0.35"/>
<ellipse cx="1494.7" cy="127.1" rx="14.4" ry="3.1" transform="rotate(-1 1494.7 127.1)" fill="#82923c"/>
<ellipse cx="1494.7" cy="127.1" rx="14.4" ry="3.1" transform="rotate(-1 1494.7 127.1)" fill="url(#shadeG)"/>
<ellipse cx="1491.1" cy="126.2" rx="6.5" ry="1.1" transform="rotate(-1 1494.7 127.1)" fill="#e8f0b0" opacity="0.35"/>
<ellipse cx="1513.2" cy="97.5" rx="12.0" ry="2.7" transform="rotate(4 1513.2 97.5)" fill="#b4bc74"/>
<ellipse cx="1513.2" cy="97.5" rx="12.0" ry="2.7" transform="rotate(4 1513.2 97.5)" fill="url(#shadeG)"/>
<ellipse cx="1510.2" cy="96.7" rx="5.4" ry="0.9" transform="rotate(4 1513.2 97.5)" fill="#e8f0b0" opacity="0.35"/>
<ellipse cx="1542.8" cy="151.7" rx="13.9" ry="3.5" transform="rotate(-67 1542.8 151.7)" fill="#72802e"/>
<ellipse cx="1542.8" cy="151.7" rx="13.9" ry="3.5" transform="rotate(-67 1542.8 151.7)" fill="url(#shadeG)"/>
<ellipse cx="1539.3" cy="150.7" rx="6.3" ry="1.2" transform="rotate(-67 1542.8 151.7)" fill="#e8f0b0" opacity="0.35"/>
<ellipse cx="1473.3" cy="115.7" rx="10.9" ry="2.5" transform="rotate(-22 1473.3 115.7)" fill="#98a850"/>
<ellipse cx="1473.3" cy="115.7" rx="10.9" ry="2.5" transform="rotate(-22 1473.3 115.7)" fill="url(#shadeG)"/>
<ellipse cx="1470.6" cy="114.9" rx="4.9" ry="0.9" transform="rotate(-22 1473.3 115.7)" fill="#e8f0b0" opacity="0.35"/>
<ellipse cx="1549.2" cy="140.3" rx="13.7" ry="2.6" transform="rotate(-51 1549.2 140.3)" fill="#66722a"/>
<ellipse cx="1549.2" cy="140.3" rx="13.7" ry="2.6" transform="rotate(-51 1549.2 140.3)" fill="url(#shadeG)"/>
<ellipse cx="1545.8" cy="139.5" rx="6.2" ry="0.9" transform="rotate(-51 1549.2 140.3)" fill="#e8f0b0" opacity="0.35"/>
<ellipse cx="1522.4" cy="76.7" rx="13.6" ry="3.1" transform="rotate(-45 1522.4 76.7)" fill="#aab868"/>
<ellipse cx="1522.4" cy="76.7" rx="13.6" ry="3.1" transform="rotate(-45 1522.4 76.7)" fill="url(#shadeG)"/>
<ellipse cx="1519.0" cy="75.7" rx="6.1" ry="1.1" transform="rotate(-45 1522.4 76.7)" fill="#e8f0b0" opacity="0.35"/>
<ellipse cx="1435.8" cy="167.9" rx="15.5" ry="3.1" transform="rotate(15 1435.8 167.9)" fill="#8e9e46"/>
<ellipse cx="1435.8" cy="167.9" rx="15.5" ry="3.1" transform="rotate(15 1435.8 167.9)" fill="url(#shadeG)"/>
<ellipse cx="1431.9" cy="167.0" rx="7.0" ry="1.1" transform="rotate(15 1435.8 167.9)" fill="#e8f0b0" opacity="0.35"/>
<ellipse cx="1503.6" cy="173.2" rx="13.3" ry="3.5" transform="rotate(5 1503.6 173.2)" fill="#82923c"/>
<ellipse cx="1503.6" cy="173.2" rx="13.3" ry="3.5" transform="rotate(5 1503.6 173.2)" fill="url(#shadeG)"/>
<ellipse cx="1500.3" cy="172.2" rx="6.0" ry="1.2" transform="rotate(5 1503.6 173.2)" fill="#e8f0b0" opacity="0.35"/>
<ellipse cx="1447.3" cy="212.9" rx="12.0" ry="2.6" transform="rotate(-50 1447.3 212.9)" fill="#aab868"/>
<ellipse cx="1447.3" cy="212.9" rx="12.0" ry="2.6" transform="rotate(-50 1447.3 212.9)" fill="url(#shadeG)"/>
<ellipse cx="1444.3" cy="212.2" rx="5.4" ry="0.9" transform="rotate(-50 1447.3 212.9)" fill="#e8f0b0" opacity="0.35"/>
<ellipse cx="1550.1" cy="201.9" rx="14.7" ry="3.1" transform="rotate(-18 1550.1 201.9)" fill="#82923c"/>
<ellipse cx="1550.1" cy="201.9" rx="14.7" ry="3.1" transform="rotate(-18 1550.1 201.9)" fill="url(#shadeG)"/>
<ellipse cx="1546.4" cy="201.0" rx="6.6" ry="1.1" transform="rotate(-18 1550.1 201.9)" fill="#e8f0b0" opacity="0.35"/>
<ellipse cx="1465.0" cy="83.8" rx="14.2" ry="3.4" transform="rotate(-16 1465.0 83.8)" fill="#b4bc74"/>
<ellipse cx="1465.0" cy="83.8" rx="14.2" ry="3.4" transform="rotate(-16 1465.0 83.8)" fill="url(#shadeG)"/>
<ellipse cx="1461.5" cy="82.8" rx="6.4" ry="1.2" transform="rotate(-16 1465.0 83.8)" fill="#e8f0b0" opacity="0.35"/>
<ellipse cx="1513.4" cy="111.3" rx="12.2" ry="2.9" transform="rotate(-35 1513.4 111.3)" fill="#82923c"/>
<ellipse cx="1513.4" cy="111.3" rx="12.2" ry="2.9" transform="rotate(-35 1513.4 111.3)" fill="url(#shadeG)"/>
<ellipse cx="1510.3" cy="110.4" rx="5.5" ry="1.0" transform="rotate(-35 1513.4 111.3)" fill="#e8f0b0" opacity="0.35"/>
<ellipse cx="1512.0" cy="176.6" rx="12.5" ry="3.0" transform="rotate(4 1512.0 176.6)" fill="#a0b058"/>
<ellipse cx="1512.0" cy="176.6" rx="12.5" ry="3.0" transform="rotate(4 1512.0 176.6)" fill="url(#shadeG)"/>
<ellipse cx="1508.9" cy="175.7" rx="5.6" ry="1.0" transform="rotate(4 1512.0 176.6)" fill="#e8f0b0" opacity="0.35"/>
<ellipse cx="1559.9" cy="114.9" rx="12.4" ry="2.7" transform="rotate(-3 1559.9 114.9)" fill="#72802e"/>
<ellipse cx="1559.9" cy="114.9" rx="12.4" ry="2.7" transform="rotate(-3 1559.9 114.9)" fill="url(#shadeG)"/>
<ellipse cx="1556.9" cy="114.1" rx="5.6" ry="0.9" transform="rotate(-3 1559.9 114.9)" fill="#e8f0b0" opacity="0.35"/>
<ellipse cx="1498.8" cy="142.1" rx="14.0" ry="3.5" transform="rotate(-40 1498.8 142.1)" fill="#66722a"/>
<ellipse cx="1498.8" cy="142.1" rx="14.0" ry="3.5" transform="rotate(-40 1498.8 142.1)" fill="url(#shadeG)"/>
<ellipse cx="1495.3" cy="141.0" rx="6.3" ry="1.2" transform="rotate(-40 1498.8 142.1)" fill="#e8f0b0" opacity="0.35"/>
<ellipse cx="1409.2" cy="119.4" rx="13.9" ry="3.2" transform="rotate(-47 1409.2 119.4)" fill="#66722a"/>
<ellipse cx="1409.2" cy="119.4" rx="13.9" ry="3.2" transform="rotate(-47 1409.2 119.4)" fill="url(#shadeG)"/>
<ellipse cx="1405.7" cy="118.4" rx="6.3" ry="1.1" transform="rotate(-47 1409.2 119.4)" fill="#e8f0b0" opacity="0.35"/>
<ellipse cx="1463.6" cy="91.7" rx="13.4" ry="3.4" transform="rotate(-9 1463.6 91.7)" fill="#66722a"/>
<ellipse cx="1463.6" cy="91.7" rx="13.4" ry="3.4" transform="rotate(-9 1463.6 91.7)" fill="url(#shadeG)"/>
<ellipse cx="1460.3" cy="90.6" rx="6.0" ry="1.2" transform="rotate(-9 1463.6 91.7)" fill="#e8f0b0" opacity="0.35"/>
<ellipse cx="1423.7" cy="173.5" rx="15.5" ry="3.0" transform="rotate(-22 1423.7 173.5)" fill="#98a850"/>
<ellipse cx="1423.7" cy="173.5" rx="15.5" ry="3.0" transform="rotate(-22 1423.7 173.5)" fill="url(#shadeG)"/>
<ellipse cx="1419.8" cy="172.6" rx="7.0" ry="1.1" transform="rotate(-22 1423.7 173.5)" fill="#e8f0b0" opacity="0.35"/>
<ellipse cx="1566.5" cy="183.9" rx="12.3" ry="2.6" transform="rotate(-18 1566.5 183.9)" fill="#98a850"/>
<ellipse cx="1566.5" cy="183.9" rx="12.3" ry="2.6" transform="rotate(-18 1566.5 183.9)" fill="url(#shadeG)"/>
<ellipse cx="1563.4" cy="183.1" rx="5.5" ry="0.9" transform="rotate(-18 1566.5 183.9)" fill="#e8f0b0" opacity="0.35"/>
<ellipse cx="1520.6" cy="141.5" rx="13.4" ry="3.1" transform="rotate(-24 1520.6 141.5)" fill="#72802e"/>
<ellipse cx="1520.6" cy="141.5" rx="13.4" ry="3.1" transform="rotate(-24 1520.6 141.5)" fill="url(#shadeG)"/>
<ellipse cx="1517.2" cy="140.6" rx="6.0" ry="1.1" transform="rotate(-24 1520.6 141.5)" fill="#e8f0b0" opacity="0.35"/>
<ellipse cx="1480.9" cy="74.7" rx="15.2" ry="2.9" transform="rotate(7 1480.9 74.7)" fill="#aab868"/>
<ellipse cx="1480.9" cy="74.7" rx="15.2" ry="2.9" transform="rotate(7 1480.9 74.7)" fill="url(#shadeG)"/>
<ellipse cx="1477.2" cy="73.8" rx="6.8" ry="1.0" transform="rotate(7 1480.9 74.7)" fill="#e8f0b0" opacity="0.35"/>
<ellipse cx="1424.8" cy="142.2" rx="11.7" ry="3.0" transform="rotate(-48 1424.8 142.2)" fill="#72802e"/>
<ellipse cx="1424.8" cy="142.2" rx="11.7" ry="3.0" transform="rotate(-48 1424.8 142.2)" fill="url(#shadeG)"/>
<ellipse cx="1421.8" cy="141.3" rx="5.3" ry="1.0" transform="rotate(-48 1424.8 142.2)" fill="#e8f0b0" opacity="0.35"/>
<ellipse cx="1554.5" cy="132.2" rx="11.5" ry="3.3" transform="rotate(-64 1554.5 132.2)" fill="#aab868"/>
<ellipse cx="1554.5" cy="132.2" rx="11.5" ry="3.3" transform="rotate(-64 1554.5 132.2)" fill="url(#shadeG)"/>
<ellipse cx="1551.6" cy="131.2" rx="5.2" ry="1.2" transform="rotate(-64 1554.5 132.2)" fill="#e8f0b0" opacity="0.35"/>
<ellipse cx="1572.7" cy="156.4" rx="11.6" ry="3.4" transform="rotate(-55 1572.7 156.4)" fill="#aab868"/>
<ellipse cx="1572.7" cy="156.4" rx="11.6" ry="3.4" transform="rotate(-55 1572.7 156.4)" fill="url(#shadeG)"/>
<ellipse cx="1569.8" cy="155.4" rx="5.2" ry="1.2" transform="rotate(-55 1572.7 156.4)" fill="#e8f0b0" opacity="0.35"/>
<ellipse cx="1452.5" cy="91.6" rx="15.2" ry="3.1" transform="rotate(-56 1452.5 91.6)" fill="#66722a"/>
<ellipse cx="1452.5" cy="91.6" rx="15.2" ry="3.1" transform="rotate(-56 1452.5 91.6)" fill="url(#shadeG)"/>
<ellipse cx="1448.7" cy="90.7" rx="6.8" ry="1.1" transform="rotate(-56 1452.5 91.6)" fill="#e8f0b0" opacity="0.35"/>
<ellipse cx="1484.5" cy="83.2" rx="15.6" ry="2.9" transform="rotate(-45 1484.5 83.2)" fill="#8e9e46"/>
<ellipse cx="1484.5" cy="83.2" rx="15.6" ry="2.9" transform="rotate(-45 1484.5 83.2)" fill="url(#shadeG)"/>
<ellipse cx="1480.6" cy="82.3" rx="7.0" ry="1.0" transform="rotate(-45 1484.5 83.2)" fill="#e8f0b0" opacity="0.35"/>
<ellipse cx="1408.6" cy="63.7" rx="15.1" ry="2.7" transform="rotate(-49 1408.6 63.7)" fill="#8e9e46"/>
<ellipse cx="1408.6" cy="63.7" rx="15.1" ry="2.7" transform="rotate(-49 1408.6 63.7)" fill="url(#shadeG)"/>
<ellipse cx="1404.8" cy="62.8" rx="6.8" ry="1.0" transform="rotate(-49 1408.6 63.7)" fill="#e8f0b0" opacity="0.35"/>
<ellipse cx="1486.7" cy="182.7" rx="14.6" ry="2.8" transform="rotate(-67 1486.7 182.7)" fill="#82923c"/>
<ellipse cx="1486.7" cy="182.7" rx="14.6" ry="2.8" transform="rotate(-67 1486.7 182.7)" fill="url(#shadeG)"/>
<ellipse cx="1483.0" cy="181.9" rx="6.6" ry="1.0" transform="rotate(-67 1486.7 182.7)" fill="#e8f0b0" opacity="0.35"/>
<ellipse cx="1424.3" cy="202.6" rx="14.8" ry="3.2" transform="rotate(-48 1424.3 202.6)" fill="#aab868"/>
<ellipse cx="1424.3" cy="202.6" rx="14.8" ry="3.2" transform="rotate(-48 1424.3 202.6)" fill="url(#shadeG)"/>
<ellipse cx="1420.6" cy="201.7" rx="6.7" ry="1.1" transform="rotate(-48 1424.3 202.6)" fill="#e8f0b0" opacity="0.35"/>
<ellipse cx="1495.7" cy="197.6" rx="14.2" ry="3.3" transform="rotate(-11 1495.7 197.6)" fill="#aab868"/>
<ellipse cx="1495.7" cy="197.6" rx="14.2" ry="3.3" transform="rotate(-11 1495.7 197.6)" fill="url(#shadeG)"/>
<ellipse cx="1492.2" cy="196.6" rx="6.4" ry="1.2" transform="rotate(-11 1495.7 197.6)" fill="#e8f0b0" opacity="0.35"/>
<ellipse cx="1469.6" cy="163.9" rx="12.5" ry="2.4" transform="rotate(-57 1469.6 163.9)" fill="#b4bc74"/>
<ellipse cx="1469.6" cy="163.9" rx="12.5" ry="2.4" transform="rotate(-57 1469.6 163.9)" fill="url(#shadeG)"/>
<ellipse cx="1466.5" cy="163.2" rx="5.6" ry="0.9" transform="rotate(-57 1469.6 163.9)" fill="#e8f0b0" opacity="0.35"/>
<ellipse cx="1561.1" cy="88.0" rx="12.1" ry="3.1" transform="rotate(-66 1561.1 88.0)" fill="#82923c"/>
<ellipse cx="1561.1" cy="88.0" rx="12.1" ry="3.1" transform="rotate(-66 1561.1 88.0)" fill="url(#shadeG)"/>
<ellipse cx="1558.0" cy="87.0" rx="5.5" ry="1.1" transform="rotate(-66 1561.1 88.0)" fill="#e8f0b0" opacity="0.35"/>
<ellipse cx="1567.2" cy="101.0" rx="12.3" ry="2.4" transform="rotate(-70 1567.2 101.0)" fill="#8e9e46"/>
<ellipse cx="1567.2" cy="101.0" rx="12.3" ry="2.4" transform="rotate(-70 1567.2 101.0)" fill="url(#shadeG)"/>
<ellipse cx="1564.2" cy="100.3" rx="5.5" ry="0.8" transform="rotate(-70 1567.2 101.0)" fill="#e8f0b0" opacity="0.35"/>
<ellipse cx="1475.3" cy="160.4" rx="13.4" ry="3.4" transform="rotate(-53 1475.3 160.4)" fill="#72802e"/>
<ellipse cx="1475.3" cy="160.4" rx="13.4" ry="3.4" transform="rotate(-53 1475.3 160.4)" fill="url(#shadeG)"/>
<ellipse cx="1472.0" cy="159.4" rx="6.0" ry="1.2" transform="rotate(-53 1475.3 160.4)" fill="#e8f0b0" opacity="0.35"/>
<ellipse cx="1493.4" cy="147.9" rx="11.2" ry="2.6" transform="rotate(-54 1493.4 147.9)" fill="#a0b058"/>
<ellipse cx="1493.4" cy="147.9" rx="11.2" ry="2.6" transform="rotate(-54 1493.4 147.9)" fill="url(#shadeG)"/>
<ellipse cx="1490.6" cy="147.1" rx="5.0" ry="0.9" transform="rotate(-54 1493.4 147.9)" fill="#e8f0b0" opacity="0.35"/>
<ellipse cx="1508.4" cy="86.9" rx="15.0" ry="3.5" transform="rotate(-28 1508.4 86.9)" fill="#b4bc74"/>
<ellipse cx="1508.4" cy="86.9" rx="15.0" ry="3.5" transform="rotate(-28 1508.4 86.9)" fill="url(#shadeG)"/>
<ellipse cx="1504.7" cy="85.9" rx="6.7" ry="1.2" transform="rotate(-28 1508.4 86.9)" fill="#e8f0b0" opacity="0.35"/>
<ellipse cx="1457.3" cy="209.5" rx="14.5" ry="3.6" transform="rotate(-63 1457.3 209.5)" fill="#a0b058"/>
<ellipse cx="1457.3" cy="209.5" rx="14.5" ry="3.6" transform="rotate(-63 1457.3 209.5)" fill="url(#shadeG)"/>
<ellipse cx="1453.6" cy="208.4" rx="6.5" ry="1.2" transform="rotate(-63 1457.3 209.5)" fill="#e8f0b0" opacity="0.35"/>
<ellipse cx="1511.3" cy="216.0" rx="14.5" ry="3.6" transform="rotate(-46 1511.3 216.0)" fill="#8e9e46"/>
<ellipse cx="1511.3" cy="216.0" rx="14.5" ry="3.6" transform="rotate(-46 1511.3 216.0)" fill="url(#shadeG)"/>
<ellipse cx="1507.6" cy="214.9" rx="6.5" ry="1.3" transform="rotate(-46 1511.3 216.0)" fill="#e8f0b0" opacity="0.35"/>
<ellipse cx="1518.5" cy="156.8" rx="13.9" ry="2.8" transform="rotate(-35 1518.5 156.8)" fill="#8e9e46"/>
<ellipse cx="1518.5" cy="156.8" rx="13.9" ry="2.8" transform="rotate(-35 1518.5 156.8)" fill="url(#shadeG)"/>
<ellipse cx="1515.0" cy="155.9" rx="6.3" ry="1.0" transform="rotate(-35 1518.5 156.8)" fill="#e8f0b0" opacity="0.35"/>
<ellipse cx="1550.5" cy="210.9" rx="12.7" ry="2.9" transform="rotate(12 1550.5 210.9)" fill="#8e9e46"/>
<ellipse cx="1550.5" cy="210.9" rx="12.7" ry="2.9" transform="rotate(12 1550.5 210.9)" fill="url(#shadeG)"/>
<ellipse cx="1547.3" cy="210.1" rx="5.7" ry="1.0" transform="rotate(12 1550.5 210.9)" fill="#e8f0b0" opacity="0.35"/>
<ellipse cx="1473.0" cy="122.2" rx="14.7" ry="3.2" transform="rotate(-40 1473.0 122.2)" fill="#82923c"/>
<ellipse cx="1473.0" cy="122.2" rx="14.7" ry="3.2" transform="rotate(-40 1473.0 122.2)" fill="url(#shadeG)"/>
<ellipse cx="1469.3" cy="121.2" rx="6.6" ry="1.1" transform="rotate(-40 1473.0 122.2)" fill="#e8f0b0" opacity="0.35"/>
<ellipse cx="1571.9" cy="133.5" rx="12.0" ry="3.2" transform="rotate(-7 1571.9 133.5)" fill="#b4bc74"/>
<ellipse cx="1571.9" cy="133.5" rx="12.0" ry="3.2" transform="rotate(-7 1571.9 133.5)" fill="url(#shadeG)"/>
<ellipse cx="1568.9" cy="132.6" rx="5.4" ry="1.1" transform="rotate(-7 1571.9 133.5)" fill="#e8f0b0" opacity="0.35"/>
<ellipse cx="1397.3" cy="154.4" rx="14.2" ry="2.9" transform="rotate(14 1397.3 154.4)" fill="#b4bc74"/>
<ellipse cx="1397.3" cy="154.4" rx="14.2" ry="2.9" transform="rotate(14 1397.3 154.4)" fill="url(#shadeG)"/>
<ellipse cx="1393.7" cy="153.5" rx="6.4" ry="1.0" transform="rotate(14 1397.3 154.4)" fill="#e8f0b0" opacity="0.35"/>
</g>
<radialGradient id="fruitG" cx="0.42" cy="0.32" r="0.68"><stop offset="0" stop-color="#f9a458"/><stop offset="0.45" stop-color="#ee6e2c"/><stop offset="0.85" stop-color="#d8461c"/><stop offset="1" stop-color="#b83016"/></radialGradient>
<g clip-path="url(#cp_guarana)">
<rect x="1385.8" y="210.2" width="194.1" height="201.7" fill="#9c2e12"/>
<polygon points="1390,214 1448,214 1436,236 1428,256" fill="#2c4a24"/>
<path d="M1405,214 L1432,246" stroke="#6a8a4a" stroke-width="4" opacity="0.8"/>
<polygon points="1540,214 1578,214 1578,250 1556,238" fill="#2e5a2a"/>
<path d="M1552,222 C1560,228 1568,232 1578,236" stroke="#4e7a3a" stroke-width="2" fill="none"/>
<rect x="1540" y="262" width="40" height="30" fill="#6a4a20"/>
<path d="M1545,270 l6,4 l5,-6 l4,7 l6,-3 M1548,282 l5,-3 l6,5 l7,-4" stroke="#9aa040" stroke-width="1.5" fill="none"/>
<circle cx="1548.5" cy="297.5" r="9" fill="#6a4030"/>
<circle cx="1466.3" cy="219.8" r="14" fill="url(#fruitG)"/>
<path d="M1466.3,205.8 Q1464.8,219.8 1466.3,233.8 M1455.8,212.10000000000002 Q1462.8,219.8 1458.6,231.0 M1476.8,212.10000000000002 Q1469.8,219.8 1474.0,231.0" stroke="#c03c18" stroke-width="0.8" fill="none" opacity="0.6"/>
<circle cx="1485" cy="231.3" r="19" fill="url(#fruitG)"/>
<path d="M1485,212.3 Q1483.5,231.3 1485,250.3 M1470.75,220.85000000000002 Q1480.25,231.3 1474.55,246.5 M1499.25,220.85000000000002 Q1489.75,231.3 1495.45,246.5" stroke="#c03c18" stroke-width="0.8" fill="none" opacity="0.6"/>
<circle cx="1512.4" cy="242.8" r="13" fill="url(#fruitG)"/>
<path d="M1512.4,229.8 Q1510.9,242.8 1512.4,255.8 M1502.65,235.65 Q1509.15,242.8 1505.25,253.20000000000002 M1522.15,235.65 Q1515.65,242.8 1519.5500000000002,253.20000000000002" stroke="#c03c18" stroke-width="0.8" fill="none" opacity="0.6"/>
<circle cx="1532.6" cy="229.8" r="17" fill="url(#fruitG)"/>
<path d="M1532.6,212.8 Q1531.1,229.8 1532.6,246.8 M1519.85,220.45000000000002 Q1528.35,229.8 1523.25,243.4 M1545.35,220.45000000000002 Q1536.85,229.8 1541.9499999999998,243.4" stroke="#c03c18" stroke-width="0.8" fill="none" opacity="0.6"/>
<circle cx="1555.7" cy="248.6" r="16" fill="url(#fruitG)"/>
<path d="M1555.7,232.6 Q1554.2,248.6 1555.7,264.6 M1543.7,239.79999999999998 Q1551.7,248.6 1546.9,261.4 M1567.7,239.79999999999998 Q1559.7,248.6 1564.5,261.4" stroke="#c03c18" stroke-width="0.8" fill="none" opacity="0.6"/>
<circle cx="1444.7" cy="250" r="16" fill="url(#fruitG)"/>
<path d="M1444.7,234 Q1443.2,250 1444.7,266 M1432.7,241.2 Q1440.7,250 1435.9,262.8 M1456.7,241.2 Q1448.7,250 1453.5,262.8" stroke="#c03c18" stroke-width="0.8" fill="none" opacity="0.6"/>
<circle cx="1476.4" cy="260.1" r="22" fill="url(#fruitG)"/>
<path d="M1476.4,238.10000000000002 Q1474.9,260.1 1476.4,282.1 M1459.9,248.00000000000003 Q1470.9,260.1 1464.3000000000002,277.70000000000005 M1492.9,248.00000000000003 Q1481.9,260.1 1488.5,277.70000000000005" stroke="#c03c18" stroke-width="0.8" fill="none" opacity="0.6"/>
<circle cx="1521" cy="268.7" r="25" fill="url(#fruitG)"/>
<path d="M1521,243.7 Q1519.5,268.7 1521,293.7 M1502.25,254.95 Q1514.75,268.7 1507.25,288.7 M1539.75,254.95 Q1527.25,268.7 1534.75,288.7" stroke="#c03c18" stroke-width="0.8" fill="none" opacity="0.6"/>
<circle cx="1490.8" cy="284.6" r="14" fill="url(#fruitG)"/>
<path d="M1490.8,270.6 Q1489.3,284.6 1490.8,298.6 M1480.3,276.90000000000003 Q1487.3,284.6 1483.1,295.8 M1501.3,276.90000000000003 Q1494.3,284.6 1498.5,295.8" stroke="#c03c18" stroke-width="0.8" fill="none" opacity="0.6"/>
<circle cx="1525.4" cy="310.5" r="20" fill="url(#fruitG)"/>
<path d="M1525.4,290.5 Q1523.9,310.5 1525.4,330.5 M1510.4,299.5 Q1520.4,310.5 1514.4,326.5 M1540.4,299.5 Q1530.4,310.5 1536.4,326.5" stroke="#c03c18" stroke-width="0.8" fill="none" opacity="0.6"/>
<circle cx="1505" cy="300" r="12" fill="url(#fruitG)"/>
<path d="M1505,288 Q1503.5,300 1505,312 M1496.0,293.4 Q1502.0,300 1498.4,309.6 M1514.0,293.4 Q1508.0,300 1511.6,309.6" stroke="#c03c18" stroke-width="0.8" fill="none" opacity="0.6"/>
<circle cx="1560" cy="280" r="9" fill="url(#fruitG)"/>
<path d="M1560,271 Q1558.5,280 1560,289 M1553.25,275.05 Q1557.75,280 1555.05,287.2 M1566.75,275.05 Q1562.25,280 1564.95,287.2" stroke="#c03c18" stroke-width="0.8" fill="none" opacity="0.6"/>
<circle cx="1540" cy="318" r="10" fill="url(#fruitG)"/>
<path d="M1540,308 Q1538.5,318 1540,328 M1532.5,312.5 Q1537.5,318 1534.5,326.0 M1547.5,312.5 Q1542.5,318 1545.5,326.0" stroke="#c03c18" stroke-width="0.8" fill="none" opacity="0.6"/>
<circle cx="1500" cy="330" r="10" fill="url(#fruitG)"/>
<path d="M1500,320 Q1498.5,330 1500,340 M1492.5,324.5 Q1497.5,330 1494.5,338.0 M1507.5,324.5 Q1502.5,330 1505.5,338.0" stroke="#c03c18" stroke-width="0.8" fill="none" opacity="0.6"/>
<ellipse cx="1447.6" cy="239.2" rx="9" ry="6" transform="rotate(-30 1447.6 239.2)" fill="#f6f3f0"/>
<ellipse cx="1467.8" cy="261.5" rx="6" ry="10" transform="rotate(10 1467.8 261.5)" fill="#f6f3f0"/>
<ellipse cx="1499.5" cy="300.4" rx="6" ry="7" transform="rotate(0 1499.5 300.4)" fill="#f6f3f0"/>
<ellipse cx="1494" cy="316" rx="5" ry="4" transform="rotate(0 1494 316)" fill="#f6f3f0"/>
<ellipse cx="1524" cy="324.9" rx="11" ry="6" transform="rotate(0 1524 324.9)" fill="#f6f3f0"/>
<ellipse cx="1437.5" cy="233.4" rx="6.5" ry="5.8500000000000005" fill="#121420"/>
<ellipse cx="1435.55" cy="231.125" rx="2.275" ry="1.625" fill="#7a7e98" opacity="0.6"/>
<ellipse cx="1464.2" cy="252.2" rx="5.5" ry="4.95" fill="#121420"/>
<ellipse cx="1462.55" cy="250.27499999999998" rx="1.9249999999999998" ry="1.375" fill="#7a7e98" opacity="0.6"/>
<ellipse cx="1488" cy="298.3" rx="8" ry="7.2" fill="#121420"/>
<ellipse cx="1485.6" cy="295.5" rx="2.8" ry="2.0" fill="#7a7e98" opacity="0.6"/>
<ellipse cx="1491.6" cy="314.1" rx="5.5" ry="4.95" fill="#121420"/>
<ellipse cx="1489.9499999999998" cy="312.175" rx="1.9249999999999998" ry="1.375" fill="#7a7e98" opacity="0.6"/>
<ellipse cx="1525.4" cy="330" rx="8.5" ry="7.65" fill="#121420"/>
<ellipse cx="1522.8500000000001" cy="327.025" rx="2.9749999999999996" ry="2.125" fill="#7a7e98" opacity="0.6"/>
</g>
<clipPath id="cp_bar"><polygon points="1380,200 1560,200 1520,352 1390,322 1380,322"/></clipPath>
<g clip-path="url(#cp_choc)">
<rect x="1385.8" y="210.2" width="184.1" height="201.7" fill="#2a1610"/>
<g clip-path="url(#cp_bar)"><g transform="rotate(27 1440 280)">
<rect x="1342" y="192" width="30" height="22" fill="#24120c"/>
<rect x="1343.5" y="193.5" width="27" height="19" fill="#452822"/>
<rect x="1343.5" y="193.5" width="27" height="2" fill="#74503f"/>
<rect x="1343.5" y="193.5" width="1.8" height="19" fill="#5e3c30"/>
<rect x="1346" y="196" width="22" height="14" fill="#3c221c"/>
<rect x="1372" y="192" width="30" height="22" fill="#24120c"/>
<rect x="1373.5" y="193.5" width="27" height="19" fill="#452822"/>
<rect x="1373.5" y="193.5" width="27" height="2" fill="#74503f"/>
<rect x="1373.5" y="193.5" width="1.8" height="19" fill="#5e3c30"/>
<rect x="1376" y="196" width="22" height="14" fill="#3c221c"/>
<rect x="1402" y="192" width="30" height="22" fill="#24120c"/>
<rect x="1403.5" y="193.5" width="27" height="19" fill="#452822"/>
<rect x="1403.5" y="193.5" width="27" height="2" fill="#74503f"/>
<rect x="1403.5" y="193.5" width="1.8" height="19" fill="#5e3c30"/>
<rect x="1406" y="196" width="22" height="14" fill="#3c221c"/>
<rect x="1432" y="192" width="30" height="22" fill="#24120c"/>
<rect x="1433.5" y="193.5" width="27" height="19" fill="#452822"/>
<rect x="1433.5" y="193.5" width="27" height="2" fill="#74503f"/>
<rect x="1433.5" y="193.5" width="1.8" height="19" fill="#5e3c30"/>
<rect x="1436" y="196" width="22" height="14" fill="#3c221c"/>
<rect x="1462" y="192" width="30" height="22" fill="#24120c"/>
<rect x="1463.5" y="193.5" width="27" height="19" fill="#452822"/>
<rect x="1463.5" y="193.5" width="27" height="2" fill="#74503f"/>
<rect x="1463.5" y="193.5" width="1.8" height="19" fill="#5e3c30"/>
<rect x="1466" y="196" width="22" height="14" fill="#3c221c"/>
<rect x="1492" y="192" width="30" height="22" fill="#24120c"/>
<rect x="1493.5" y="193.5" width="27" height="19" fill="#452822"/>
<rect x="1493.5" y="193.5" width="27" height="2" fill="#74503f"/>
<rect x="1493.5" y="193.5" width="1.8" height="19" fill="#5e3c30"/>
<rect x="1496" y="196" width="22" height="14" fill="#3c221c"/>
<rect x="1522" y="192" width="30" height="22" fill="#24120c"/>
<rect x="1523.5" y="193.5" width="27" height="19" fill="#452822"/>
<rect x="1523.5" y="193.5" width="27" height="2" fill="#74503f"/>
<rect x="1523.5" y="193.5" width="1.8" height="19" fill="#5e3c30"/>
<rect x="1526" y="196" width="22" height="14" fill="#3c221c"/>
<rect x="1552" y="192" width="30" height="22" fill="#24120c"/>
<rect x="1553.5" y="193.5" width="27" height="19" fill="#452822"/>
<rect x="1553.5" y="193.5" width="27" height="2" fill="#74503f"/>
<rect x="1553.5" y="193.5" width="1.8" height="19" fill="#5e3c30"/>
<rect x="1556" y="196" width="22" height="14" fill="#3c221c"/>
<rect x="1342" y="214" width="30" height="22" fill="#24120c"/>
<rect x="1343.5" y="215.5" width="27" height="19" fill="#452822"/>
<rect x="1343.5" y="215.5" width="27" height="2" fill="#74503f"/>
<rect x="1343.5" y="215.5" width="1.8" height="19" fill="#5e3c30"/>
<rect x="1346" y="218" width="22" height="14" fill="#3c221c"/>
<rect x="1372" y="214" width="30" height="22" fill="#24120c"/>
<rect x="1373.5" y="215.5" width="27" height="19" fill="#452822"/>
<rect x="1373.5" y="215.5" width="27" height="2" fill="#74503f"/>
<rect x="1373.5" y="215.5" width="1.8" height="19" fill="#5e3c30"/>
<rect x="1376" y="218" width="22" height="14" fill="#3c221c"/>
<rect x="1402" y="214" width="30" height="22" fill="#24120c"/>
<rect x="1403.5" y="215.5" width="27" height="19" fill="#452822"/>
<rect x="1403.5" y="215.5" width="27" height="2" fill="#74503f"/>
<rect x="1403.5" y="215.5" width="1.8" height="19" fill="#5e3c30"/>
<rect x="1406" y="218" width="22" height="14" fill="#3c221c"/>
<rect x="1432" y="214" width="30" height="22" fill="#24120c"/>
<rect x="1433.5" y="215.5" width="27" height="19" fill="#452822"/>
<rect x="1433.5" y="215.5" width="27" height="2" fill="#74503f"/>
<rect x="1433.5" y="215.5" width="1.8" height="19" fill="#5e3c30"/>
<rect x="1436" y="218" width="22" height="14" fill="#3c221c"/>
<rect x="1462" y="214" width="30" height="22" fill="#24120c"/>
<rect x="1463.5" y="215.5" width="27" height="19" fill="#452822"/>
<rect x="1463.5" y="215.5" width="27" height="2" fill="#74503f"/>
<rect x="1463.5" y="215.5" width="1.8" height="19" fill="#5e3c30"/>
<rect x="1466" y="218" width="22" height="14" fill="#3c221c"/>
<rect x="1492" y="214" width="30" height="22" fill="#24120c"/>
<rect x="1493.5" y="215.5" width="27" height="19" fill="#452822"/>
<rect x="1493.5" y="215.5" width="27" height="2" fill="#74503f"/>
<rect x="1493.5" y="215.5" width="1.8" height="19" fill="#5e3c30"/>
<rect x="1496" y="218" width="22" height="14" fill="#3c221c"/>
<rect x="1522" y="214" width="30" height="22" fill="#24120c"/>
<rect x="1523.5" y="215.5" width="27" height="19" fill="#452822"/>
<rect x="1523.5" y="215.5" width="27" height="2" fill="#74503f"/>
<rect x="1523.5" y="215.5" width="1.8" height="19" fill="#5e3c30"/>
<rect x="1526" y="218" width="22" height="14" fill="#3c221c"/>
<rect x="1552" y="214" width="30" height="22" fill="#24120c"/>
<rect x="1553.5" y="215.5" width="27" height="19" fill="#452822"/>
<rect x="1553.5" y="215.5" width="27" height="2" fill="#74503f"/>
<rect x="1553.5" y="215.5" width="1.8" height="19" fill="#5e3c30"/>
<rect x="1556" y="218" width="22" height="14" fill="#3c221c"/>
<rect x="1342" y="236" width="30" height="22" fill="#24120c"/>
<rect x="1343.5" y="237.5" width="27" height="19" fill="#452822"/>
<rect x="1343.5" y="237.5" width="27" height="2" fill="#74503f"/>
<rect x="1343.5" y="237.5" width="1.8" height="19" fill="#5e3c30"/>
<rect x="1346" y="240" width="22" height="14" fill="#3c221c"/>
<rect x="1372" y="236" width="30" height="22" fill="#24120c"/>
<rect x="1373.5" y="237.5" width="27" height="19" fill="#452822"/>
<rect x="1373.5" y="237.5" width="27" height="2" fill="#74503f"/>
<rect x="1373.5" y="237.5" width="1.8" height="19" fill="#5e3c30"/>
<rect x="1376" y="240" width="22" height="14" fill="#3c221c"/>
<rect x="1402" y="236" width="30" height="22" fill="#24120c"/>
<rect x="1403.5" y="237.5" width="27" height="19" fill="#452822"/>
<rect x="1403.5" y="237.5" width="27" height="2" fill="#74503f"/>
<rect x="1403.5" y="237.5" width="1.8" height="19" fill="#5e3c30"/>
<rect x="1406" y="240" width="22" height="14" fill="#3c221c"/>
<rect x="1432" y="236" width="30" height="22" fill="#24120c"/>
<rect x="1433.5" y="237.5" width="27" height="19" fill="#452822"/>
<rect x="1433.5" y="237.5" width="27" height="2" fill="#74503f"/>
<rect x="1433.5" y="237.5" width="1.8" height="19" fill="#5e3c30"/>
<rect x="1436" y="240" width="22" height="14" fill="#3c221c"/>
<rect x="1462" y="236" width="30" height="22" fill="#24120c"/>
<rect x="1463.5" y="237.5" width="27" height="19" fill="#452822"/>
<rect x="1463.5" y="237.5" width="27" height="2" fill="#74503f"/>
<rect x="1463.5" y="237.5" width="1.8" height="19" fill="#5e3c30"/>
<rect x="1466" y="240" width="22" height="14" fill="#3c221c"/>
<rect x="1492" y="236" width="30" height="22" fill="#24120c"/>
<rect x="1493.5" y="237.5" width="27" height="19" fill="#452822"/>
<rect x="1493.5" y="237.5" width="27" height="2" fill="#74503f"/>
<rect x="1493.5" y="237.5" width="1.8" height="19" fill="#5e3c30"/>
<rect x="1496" y="240" width="22" height="14" fill="#3c221c"/>
<rect x="1522" y="236" width="30" height="22" fill="#24120c"/>
<rect x="1523.5" y="237.5" width="27" height="19" fill="#452822"/>
<rect x="1523.5" y="237.5" width="27" height="2" fill="#74503f"/>
<rect x="1523.5" y="237.5" width="1.8" height="19" fill="#5e3c30"/>
<rect x="1526" y="240" width="22" height="14" fill="#3c221c"/>
<rect x="1552" y="236" width="30" height="22" fill="#24120c"/>
<rect x="1553.5" y="237.5" width="27" height="19" fill="#452822"/>
<rect x="1553.5" y="237.5" width="27" height="2" fill="#74503f"/>
<rect x="1553.5" y="237.5" width="1.8" height="19" fill="#5e3c30"/>
<rect x="1556" y="240" width="22" height="14" fill="#3c221c"/>
<rect x="1342" y="258" width="30" height="22" fill="#24120c"/>
<rect x="1343.5" y="259.5" width="27" height="19" fill="#452822"/>
<rect x="1343.5" y="259.5" width="27" height="2" fill="#74503f"/>
<rect x="1343.5" y="259.5" width="1.8" height="19" fill="#5e3c30"/>
<rect x="1346" y="262" width="22" height="14" fill="#3c221c"/>
<rect x="1372" y="258" width="30" height="22" fill="#24120c"/>
<rect x="1373.5" y="259.5" width="27" height="19" fill="#452822"/>
<rect x="1373.5" y="259.5" width="27" height="2" fill="#74503f"/>
<rect x="1373.5" y="259.5" width="1.8" height="19" fill="#5e3c30"/>
<rect x="1376" y="262" width="22" height="14" fill="#3c221c"/>
<rect x="1402" y="258" width="30" height="22" fill="#24120c"/>
<rect x="1403.5" y="259.5" width="27" height="19" fill="#452822"/>
<rect x="1403.5" y="259.5" width="27" height="2" fill="#74503f"/>
<rect x="1403.5" y="259.5" width="1.8" height="19" fill="#5e3c30"/>
<rect x="1406" y="262" width="22" height="14" fill="#3c221c"/>
<rect x="1432" y="258" width="30" height="22" fill="#24120c"/>
<rect x="1433.5" y="259.5" width="27" height="19" fill="#452822"/>
<rect x="1433.5" y="259.5" width="27" height="2" fill="#74503f"/>
<rect x="1433.5" y="259.5" width="1.8" height="19" fill="#5e3c30"/>
<rect x="1436" y="262" width="22" height="14" fill="#3c221c"/>
<rect x="1462" y="258" width="30" height="22" fill="#24120c"/>
<rect x="1463.5" y="259.5" width="27" height="19" fill="#452822"/>
<rect x="1463.5" y="259.5" width="27" height="2" fill="#74503f"/>
<rect x="1463.5" y="259.5" width="1.8" height="19" fill="#5e3c30"/>
<rect x="1466" y="262" width="22" height="14" fill="#3c221c"/>
<rect x="1492" y="258" width="30" height="22" fill="#24120c"/>
<rect x="1493.5" y="259.5" width="27" height="19" fill="#452822"/>
<rect x="1493.5" y="259.5" width="27" height="2" fill="#74503f"/>
<rect x="1493.5" y="259.5" width="1.8" height="19" fill="#5e3c30"/>
<rect x="1496" y="262" width="22" height="14" fill="#3c221c"/>
<rect x="1522" y="258" width="30" height="22" fill="#24120c"/>
<rect x="1523.5" y="259.5" width="27" height="19" fill="#452822"/>
<rect x="1523.5" y="259.5" width="27" height="2" fill="#74503f"/>
<rect x="1523.5" y="259.5" width="1.8" height="19" fill="#5e3c30"/>
<rect x="1526" y="262" width="22" height="14" fill="#3c221c"/>
<rect x="1552" y="258" width="30" height="22" fill="#24120c"/>
<rect x="1553.5" y="259.5" width="27" height="19" fill="#452822"/>
<rect x="1553.5" y="259.5" width="27" height="2" fill="#74503f"/>
<rect x="1553.5" y="259.5" width="1.8" height="19" fill="#5e3c30"/>
<rect x="1556" y="262" width="22" height="14" fill="#3c221c"/>
<rect x="1342" y="280" width="30" height="22" fill="#24120c"/>
<rect x="1343.5" y="281.5" width="27" height="19" fill="#452822"/>
<rect x="1343.5" y="281.5" width="27" height="2" fill="#74503f"/>
<rect x="1343.5" y="281.5" width="1.8" height="19" fill="#5e3c30"/>
<rect x="1346" y="284" width="22" height="14" fill="#3c221c"/>
<rect x="1372" y="280" width="30" height="22" fill="#24120c"/>
<rect x="1373.5" y="281.5" width="27" height="19" fill="#452822"/>
<rect x="1373.5" y="281.5" width="27" height="2" fill="#74503f"/>
<rect x="1373.5" y="281.5" width="1.8" height="19" fill="#5e3c30"/>
<rect x="1376" y="284" width="22" height="14" fill="#3c221c"/>
<rect x="1402" y="280" width="30" height="22" fill="#24120c"/>
<rect x="1403.5" y="281.5" width="27" height="19" fill="#452822"/>
<rect x="1403.5" y="281.5" width="27" height="2" fill="#74503f"/>
<rect x="1403.5" y="281.5" width="1.8" height="19" fill="#5e3c30"/>
<rect x="1406" y="284" width="22" height="14" fill="#3c221c"/>
<rect x="1432" y="280" width="30" height="22" fill="#24120c"/>
<rect x="1433.5" y="281.5" width="27" height="19" fill="#452822"/>
<rect x="1433.5" y="281.5" width="27" height="2" fill="#74503f"/>
<rect x="1433.5" y="281.5" width="1.8" height="19" fill="#5e3c30"/>
<rect x="1436" y="284" width="22" height="14" fill="#3c221c"/>
<rect x="1462" y="280" width="30" height="22" fill="#24120c"/>
<rect x="1463.5" y="281.5" width="27" height="19" fill="#452822"/>
<rect x="1463.5" y="281.5" width="27" height="2" fill="#74503f"/>
<rect x="1463.5" y="281.5" width="1.8" height="19" fill="#5e3c30"/>
<rect x="1466" y="284" width="22" height="14" fill="#3c221c"/>
<rect x="1492" y="280" width="30" height="22" fill="#24120c"/>
<rect x="1493.5" y="281.5" width="27" height="19" fill="#452822"/>
<rect x="1493.5" y="281.5" width="27" height="2" fill="#74503f"/>
<rect x="1493.5" y="281.5" width="1.8" height="19" fill="#5e3c30"/>
<rect x="1496" y="284" width="22" height="14" fill="#3c221c"/>
<rect x="1522" y="280" width="30" height="22" fill="#24120c"/>
<rect x="1523.5" y="281.5" width="27" height="19" fill="#452822"/>
<rect x="1523.5" y="281.5" width="27" height="2" fill="#74503f"/>
<rect x="1523.5" y="281.5" width="1.8" height="19" fill="#5e3c30"/>
<rect x="1526" y="284" width="22" height="14" fill="#3c221c"/>
<rect x="1552" y="280" width="30" height="22" fill="#24120c"/>
<rect x="1553.5" y="281.5" width="27" height="19" fill="#452822"/>
<rect x="1553.5" y="281.5" width="27" height="2" fill="#74503f"/>
<rect x="1553.5" y="281.5" width="1.8" height="19" fill="#5e3c30"/>
<rect x="1556" y="284" width="22" height="14" fill="#3c221c"/>
<rect x="1342" y="302" width="30" height="22" fill="#24120c"/>
<rect x="1343.5" y="303.5" width="27" height="19" fill="#452822"/>
<rect x="1343.5" y="303.5" width="27" height="2" fill="#74503f"/>
<rect x="1343.5" y="303.5" width="1.8" height="19" fill="#5e3c30"/>
<rect x="1346" y="306" width="22" height="14" fill="#3c221c"/>
<rect x="1372" y="302" width="30" height="22" fill="#24120c"/>
<rect x="1373.5" y="303.5" width="27" height="19" fill="#452822"/>
<rect x="1373.5" y="303.5" width="27" height="2" fill="#74503f"/>
<rect x="1373.5" y="303.5" width="1.8" height="19" fill="#5e3c30"/>
<rect x="1376" y="306" width="22" height="14" fill="#3c221c"/>
<rect x="1402" y="302" width="30" height="22" fill="#24120c"/>
<rect x="1403.5" y="303.5" width="27" height="19" fill="#452822"/>
<rect x="1403.5" y="303.5" width="27" height="2" fill="#74503f"/>
<rect x="1403.5" y="303.5" width="1.8" height="19" fill="#5e3c30"/>
<rect x="1406" y="306" width="22" height="14" fill="#3c221c"/>
<rect x="1432" y="302" width="30" height="22" fill="#24120c"/>
<rect x="1433.5" y="303.5" width="27" height="19" fill="#452822"/>
<rect x="1433.5" y="303.5" width="27" height="2" fill="#74503f"/>
<rect x="1433.5" y="303.5" width="1.8" height="19" fill="#5e3c30"/>
<rect x="1436" y="306" width="22" height="14" fill="#3c221c"/>
<rect x="1462" y="302" width="30" height="22" fill="#24120c"/>
<rect x="1463.5" y="303.5" width="27" height="19" fill="#452822"/>
<rect x="1463.5" y="303.5" width="27" height="2" fill="#74503f"/>
<rect x="1463.5" y="303.5" width="1.8" height="19" fill="#5e3c30"/>
<rect x="1466" y="306" width="22" height="14" fill="#3c221c"/>
<rect x="1492" y="302" width="30" height="22" fill="#24120c"/>
<rect x="1493.5" y="303.5" width="27" height="19" fill="#452822"/>
<rect x="1493.5" y="303.5" width="27" height="2" fill="#74503f"/>
<rect x="1493.5" y="303.5" width="1.8" height="19" fill="#5e3c30"/>
<rect x="1496" y="306" width="22" height="14" fill="#3c221c"/>
<rect x="1522" y="302" width="30" height="22" fill="#24120c"/>
<rect x="1523.5" y="303.5" width="27" height="19" fill="#452822"/>
<rect x="1523.5" y="303.5" width="27" height="2" fill="#74503f"/>
<rect x="1523.5" y="303.5" width="1.8" height="19" fill="#5e3c30"/>
<rect x="1526" y="306" width="22" height="14" fill="#3c221c"/>
<rect x="1552" y="302" width="30" height="22" fill="#24120c"/>
<rect x="1553.5" y="303.5" width="27" height="19" fill="#452822"/>
<rect x="1553.5" y="303.5" width="27" height="2" fill="#74503f"/>
<rect x="1553.5" y="303.5" width="1.8" height="19" fill="#5e3c30"/>
<rect x="1556" y="306" width="22" height="14" fill="#3c221c"/>
<rect x="1342" y="324" width="30" height="22" fill="#24120c"/>
<rect x="1343.5" y="325.5" width="27" height="19" fill="#452822"/>
<rect x="1343.5" y="325.5" width="27" height="2" fill="#74503f"/>
<rect x="1343.5" y="325.5" width="1.8" height="19" fill="#5e3c30"/>
<rect x="1346" y="328" width="22" height="14" fill="#3c221c"/>
<rect x="1372" y="324" width="30" height="22" fill="#24120c"/>
<rect x="1373.5" y="325.5" width="27" height="19" fill="#452822"/>
<rect x="1373.5" y="325.5" width="27" height="2" fill="#74503f"/>
<rect x="1373.5" y="325.5" width="1.8" height="19" fill="#5e3c30"/>
<rect x="1376" y="328" width="22" height="14" fill="#3c221c"/>
<rect x="1402" y="324" width="30" height="22" fill="#24120c"/>
<rect x="1403.5" y="325.5" width="27" height="19" fill="#452822"/>
<rect x="1403.5" y="325.5" width="27" height="2" fill="#74503f"/>
<rect x="1403.5" y="325.5" width="1.8" height="19" fill="#5e3c30"/>
<rect x="1406" y="328" width="22" height="14" fill="#3c221c"/>
<rect x="1432" y="324" width="30" height="22" fill="#24120c"/>
<rect x="1433.5" y="325.5" width="27" height="19" fill="#452822"/>
<rect x="1433.5" y="325.5" width="27" height="2" fill="#74503f"/>
<rect x="1433.5" y="325.5" width="1.8" height="19" fill="#5e3c30"/>
<rect x="1436" y="328" width="22" height="14" fill="#3c221c"/>
<rect x="1462" y="324" width="30" height="22" fill="#24120c"/>
<rect x="1463.5" y="325.5" width="27" height="19" fill="#452822"/>
<rect x="1463.5" y="325.5" width="27" height="2" fill="#74503f"/>
<rect x="1463.5" y="325.5" width="1.8" height="19" fill="#5e3c30"/>
<rect x="1466" y="328" width="22" height="14" fill="#3c221c"/>
<rect x="1492" y="324" width="30" height="22" fill="#24120c"/>
<rect x="1493.5" y="325.5" width="27" height="19" fill="#452822"/>
<rect x="1493.5" y="325.5" width="27" height="2" fill="#74503f"/>
<rect x="1493.5" y="325.5" width="1.8" height="19" fill="#5e3c30"/>
<rect x="1496" y="328" width="22" height="14" fill="#3c221c"/>
<rect x="1522" y="324" width="30" height="22" fill="#24120c"/>
<rect x="1523.5" y="325.5" width="27" height="19" fill="#452822"/>
<rect x="1523.5" y="325.5" width="27" height="2" fill="#74503f"/>
<rect x="1523.5" y="325.5" width="1.8" height="19" fill="#5e3c30"/>
<rect x="1526" y="328" width="22" height="14" fill="#3c221c"/>
<rect x="1552" y="324" width="30" height="22" fill="#24120c"/>
<rect x="1553.5" y="325.5" width="27" height="19" fill="#452822"/>
<rect x="1553.5" y="325.5" width="27" height="2" fill="#74503f"/>
<rect x="1553.5" y="325.5" width="1.8" height="19" fill="#5e3c30"/>
<rect x="1556" y="328" width="22" height="14" fill="#3c221c"/>
<rect x="1342" y="346" width="30" height="22" fill="#24120c"/>
<rect x="1343.5" y="347.5" width="27" height="19" fill="#452822"/>
<rect x="1343.5" y="347.5" width="27" height="2" fill="#74503f"/>
<rect x="1343.5" y="347.5" width="1.8" height="19" fill="#5e3c30"/>
<rect x="1346" y="350" width="22" height="14" fill="#3c221c"/>
<rect x="1372" y="346" width="30" height="22" fill="#24120c"/>
<rect x="1373.5" y="347.5" width="27" height="19" fill="#452822"/>
<rect x="1373.5" y="347.5" width="27" height="2" fill="#74503f"/>
<rect x="1373.5" y="347.5" width="1.8" height="19" fill="#5e3c30"/>
<rect x="1376" y="350" width="22" height="14" fill="#3c221c"/>
<rect x="1402" y="346" width="30" height="22" fill="#24120c"/>
<rect x="1403.5" y="347.5" width="27" height="19" fill="#452822"/>
<rect x="1403.5" y="347.5" width="27" height="2" fill="#74503f"/>
<rect x="1403.5" y="347.5" width="1.8" height="19" fill="#5e3c30"/>
<rect x="1406" y="350" width="22" height="14" fill="#3c221c"/>
<rect x="1432" y="346" width="30" height="22" fill="#24120c"/>
<rect x="1433.5" y="347.5" width="27" height="19" fill="#452822"/>
<rect x="1433.5" y="347.5" width="27" height="2" fill="#74503f"/>
<rect x="1433.5" y="347.5" width="1.8" height="19" fill="#5e3c30"/>
<rect x="1436" y="350" width="22" height="14" fill="#3c221c"/>
<rect x="1462" y="346" width="30" height="22" fill="#24120c"/>
<rect x="1463.5" y="347.5" width="27" height="19" fill="#452822"/>
<rect x="1463.5" y="347.5" width="27" height="2" fill="#74503f"/>
<rect x="1463.5" y="347.5" width="1.8" height="19" fill="#5e3c30"/>
<rect x="1466" y="350" width="22" height="14" fill="#3c221c"/>
<rect x="1492" y="346" width="30" height="22" fill="#24120c"/>
<rect x="1493.5" y="347.5" width="27" height="19" fill="#452822"/>
<rect x="1493.5" y="347.5" width="27" height="2" fill="#74503f"/>
<rect x="1493.5" y="347.5" width="1.8" height="19" fill="#5e3c30"/>
<rect x="1496" y="350" width="22" height="14" fill="#3c221c"/>
<rect x="1522" y="346" width="30" height="22" fill="#24120c"/>
<rect x="1523.5" y="347.5" width="27" height="19" fill="#452822"/>
<rect x="1523.5" y="347.5" width="27" height="2" fill="#74503f"/>
<rect x="1523.5" y="347.5" width="1.8" height="19" fill="#5e3c30"/>
<rect x="1526" y="350" width="22" height="14" fill="#3c221c"/>
<rect x="1552" y="346" width="30" height="22" fill="#24120c"/>
<rect x="1553.5" y="347.5" width="27" height="19" fill="#452822"/>
<rect x="1553.5" y="347.5" width="27" height="2" fill="#74503f"/>
<rect x="1553.5" y="347.5" width="1.8" height="19" fill="#5e3c30"/>
<rect x="1556" y="350" width="22" height="14" fill="#3c221c"/>
</g></g>
<polygon points="1390,214 1410,214 1406,232 1396,244 1390,244" fill="#8e6c5c"/>
<polygon points="1390,322 1520,352 1520,420 1390,420" fill="#2a1710"/>
<polygon points="1390,330 1410,338 1414,410 1390,410" fill="#3e2419"/>
<polygon points="1391,334 1408,341 1404,352 1391,348" fill="#5c3c30"/>
<polygon points="1418,345 1470,355 1476,392 1424,405" fill="#1e0f0a"/>
<polygon points="1470,352 1515,352 1500,385 1478,392" fill="#3a2118"/>
</g>
<g clip-path="url(#cp_soft)">
<rect x="1206.7" y="210.2" width="189.1" height="201.7" fill="#220c16"/>
<ellipse cx="1308.6" cy="376.5" rx="28" ry="14" transform="rotate(30 1308.6 376.5)" fill="#4b2a10"/>
<path d="M1356.3,304 L1365,275.4 L1354.7,265.1" stroke="#f2f2f2" stroke-width="2.6" fill="none" stroke-linecap="round"/>
<linearGradient id="cupG" x1="1300" y1="330" x2="1360" y2="360" gradientUnits="userSpaceOnUse"><stop offset="0" stop-color="#e4442f"/><stop offset="0.6" stop-color="#d82a1e"/><stop offset="1" stop-color="#b02a22"/></linearGradient>
<polygon points="1331.7,299.3 1373.8,329.5 1326.1,388.3 1293.5,367.6" fill="url(#cupG)"/>
<path d="M1320.1,320 C1328,332 1334,348 1348,361 L1339.6,372 C1326,360 1318,352 1310.4,337 Z" fill="#f4f2f2"/>
<path d="M1329.3,294.5 L1379.4,327.9 L1376.5,332 L1327,298 Z" fill="#c9a9a6"/>
<path d="M1331,293 L1372,320.5 L1377,325 L1330,296 Z" fill="#b89896"/>
<circle cx="1329.3" cy="296" r="2.3" fill="#c9a9a6"/><circle cx="1378.4" cy="329.8" r="2.3" fill="#c9a9a6"/>
</g>
<g clip-path="url(#cp_energy)">
<rect x="1201.7" y="210.2" width="189.1" height="191.7" fill="#04030f"/>
<polygon points="1212.7,247.5 1265.3,234.5 1286.5,271.3 1232,282 1229.5,277.5" fill="#f4a945"/>
<polygon points="1263.5,239.5 1265.3,234.5 1283.5,268 1281,270.5" fill="#e48a18"/>
<polygon points="1265,234.5 1314.5,222 1336,258.8 1286.5,271.3" fill="#fcefcf"/>
<polygon points="1314.5,222 1337.4,229.2 1343,243.4 1336,258.8" fill="#f4a945"/>
<polygon points="1337.4,229.2 1338.3,227.3 1352.5,224.9 1360.1,237.7 1348.7,243.8 1343,243.4" fill="#f2c250"/>
<g stroke="#d8a030" stroke-width="0.6"><line x1="1340.5" y1="227" x2="1346" y2="243.5"/><line x1="1343" y1="226.5" x2="1348.5" y2="243"/></g>
<ellipse cx="1300" cy="248.5" rx="19" ry="9" transform="rotate(-14 1300 248.5)" fill="none" stroke="#e0c8a0" stroke-width="0.6" stroke-dasharray="1.2 1.5"/>
<polygon points="1283.5,248 1295,243 1292.5,247.5 1313.8,243.2 1302,251.8 1302.5,254.3 1296,250.5 1298.2,247" fill="#f2c030" stroke="#b88a20" stroke-width="0.5"/>
<path d="M1231,279.5 L1282,269" stroke="#fff6e0" stroke-width="1" opacity="0.8"/>
<path d="M1336,241 L1331,252" stroke="#fff6e0" stroke-width="0.8" opacity="0.8"/>
</g>
<g clip-path="url(#cp_cocoa)">
<rect x="1201.7" y="23.5" width="189.1" height="196.7" fill="#4a2818"/>
<ellipse cx="1249.4" cy="197.6" rx="26.7" ry="16.5" transform="rotate(69 1249.4 197.6)" fill="#ad704c"/>
<ellipse cx="1249.4" cy="197.6" rx="26.7" ry="16.5" transform="rotate(69 1249.4 197.6)" fill="url(#shadeG)"/>
<ellipse cx="1242.7" cy="192.6" rx="12.0" ry="5.8" transform="rotate(69 1249.4 197.6)" fill="#e0b090" opacity="0.35"/>
<ellipse cx="1303.9" cy="135.7" rx="24.0" ry="12.7" transform="rotate(73 1303.9 135.7)" fill="#84492c"/>
<ellipse cx="1303.9" cy="135.7" rx="24.0" ry="12.7" transform="rotate(73 1303.9 135.7)" fill="url(#shadeG)"/>
<ellipse cx="1297.9" cy="131.9" rx="10.8" ry="4.4" transform="rotate(73 1303.9 135.7)" fill="#e0b090" opacity="0.35"/>
<ellipse cx="1304.9" cy="197.8" rx="21.6" ry="12.5" transform="rotate(130 1304.9 197.8)" fill="#a26644"/>
<ellipse cx="1304.9" cy="197.8" rx="21.6" ry="12.5" transform="rotate(130 1304.9 197.8)" fill="url(#shadeG)"/>
<ellipse cx="1299.5" cy="194.0" rx="9.7" ry="4.4" transform="rotate(130 1304.9 197.8)" fill="#e0b090" opacity="0.35"/>
<ellipse cx="1271.4" cy="191.5" rx="24.3" ry="15.5" transform="rotate(170 1271.4 191.5)" fill="#ad704c"/>
<ellipse cx="1271.4" cy="191.5" rx="24.3" ry="15.5" transform="rotate(170 1271.4 191.5)" fill="url(#shadeG)"/>
<ellipse cx="1265.3" cy="186.9" rx="10.9" ry="5.4" transform="rotate(170 1271.4 191.5)" fill="#e0b090" opacity="0.35"/>
<ellipse cx="1231.2" cy="153.4" rx="18.7" ry="13.6" transform="rotate(104 1231.2 153.4)" fill="#84492c"/>
<ellipse cx="1231.2" cy="153.4" rx="18.7" ry="13.6" transform="rotate(104 1231.2 153.4)" fill="url(#shadeG)"/>
<ellipse cx="1226.6" cy="149.3" rx="8.4" ry="4.8" transform="rotate(104 1231.2 153.4)" fill="#e0b090" opacity="0.35"/>
<ellipse cx="1375.8" cy="163.7" rx="23.3" ry="15.3" transform="rotate(158 1375.8 163.7)" fill="#7a4428"/>
<ellipse cx="1375.8" cy="163.7" rx="23.3" ry="15.3" transform="rotate(158 1375.8 163.7)" fill="url(#shadeG)"/>
<ellipse cx="1369.9" cy="159.2" rx="10.5" ry="5.3" transform="rotate(158 1375.8 163.7)" fill="#e0b090" opacity="0.35"/>
<ellipse cx="1290.4" cy="170.5" rx="22.3" ry="14.4" transform="rotate(118 1290.4 170.5)" fill="#a26644"/>
<ellipse cx="1290.4" cy="170.5" rx="22.3" ry="14.4" transform="rotate(118 1290.4 170.5)" fill="url(#shadeG)"/>
<ellipse cx="1284.8" cy="166.2" rx="10.0" ry="5.0" transform="rotate(118 1290.4 170.5)" fill="#e0b090" opacity="0.35"/>
<ellipse cx="1273.8" cy="139.7" rx="24.2" ry="15.4" transform="rotate(157 1273.8 139.7)" fill="#945a38"/>
<ellipse cx="1273.8" cy="139.7" rx="24.2" ry="15.4" transform="rotate(157 1273.8 139.7)" fill="url(#shadeG)"/>
<ellipse cx="1267.7" cy="135.1" rx="10.9" ry="5.4" transform="rotate(157 1273.8 139.7)" fill="#e0b090" opacity="0.35"/>
<ellipse cx="1318.1" cy="201.7" rx="25.7" ry="17.1" transform="rotate(60 1318.1 201.7)" fill="#9c5e3c"/>
<ellipse cx="1318.1" cy="201.7" rx="25.7" ry="17.1" transform="rotate(60 1318.1 201.7)" fill="url(#shadeG)"/>
<ellipse cx="1311.7" cy="196.5" rx="11.6" ry="6.0" transform="rotate(60 1318.1 201.7)" fill="#e0b090" opacity="0.35"/>
<ellipse cx="1380.3" cy="106.2" rx="19.7" ry="13.4" transform="rotate(168 1380.3 106.2)" fill="#945a38"/>
<ellipse cx="1380.3" cy="106.2" rx="19.7" ry="13.4" transform="rotate(168 1380.3 106.2)" fill="url(#shadeG)"/>
<ellipse cx="1375.3" cy="102.2" rx="8.9" ry="4.7" transform="rotate(168 1380.3 106.2)" fill="#e0b090" opacity="0.35"/>
<ellipse cx="1320.5" cy="140.8" rx="20.1" ry="15.6" transform="rotate(131 1320.5 140.8)" fill="#7a4428"/>
<ellipse cx="1320.5" cy="140.8" rx="20.1" ry="15.6" transform="rotate(131 1320.5 140.8)" fill="url(#shadeG)"/>
<ellipse cx="1315.5" cy="136.1" rx="9.0" ry="5.4" transform="rotate(131 1320.5 140.8)" fill="#e0b090" opacity="0.35"/>
<ellipse cx="1322.9" cy="160.4" rx="20.5" ry="13.6" transform="rotate(166 1322.9 160.4)" fill="#84492c"/>
<ellipse cx="1322.9" cy="160.4" rx="20.5" ry="13.6" transform="rotate(166 1322.9 160.4)" fill="url(#shadeG)"/>
<ellipse cx="1317.8" cy="156.3" rx="9.2" ry="4.8" transform="rotate(166 1322.9 160.4)" fill="#e0b090" opacity="0.35"/>
<ellipse cx="1234.8" cy="181.3" rx="20.0" ry="14.4" transform="rotate(73 1234.8 181.3)" fill="#7a4428"/>
<ellipse cx="1234.8" cy="181.3" rx="20.0" ry="14.4" transform="rotate(73 1234.8 181.3)" fill="url(#shadeG)"/>
<ellipse cx="1229.8" cy="177.0" rx="9.0" ry="5.0" transform="rotate(73 1234.8 181.3)" fill="#e0b090" opacity="0.35"/>
<ellipse cx="1281.2" cy="83.4" rx="26.6" ry="12.6" transform="rotate(13 1281.2 83.4)" fill="#ad704c"/>
<ellipse cx="1281.2" cy="83.4" rx="26.6" ry="12.6" transform="rotate(13 1281.2 83.4)" fill="url(#shadeG)"/>
<ellipse cx="1274.5" cy="79.6" rx="12.0" ry="4.4" transform="rotate(13 1281.2 83.4)" fill="#e0b090" opacity="0.35"/>
<ellipse cx="1377.6" cy="181.1" rx="24.5" ry="12.9" transform="rotate(156 1377.6 181.1)" fill="#84492c"/>
<ellipse cx="1377.6" cy="181.1" rx="24.5" ry="12.9" transform="rotate(156 1377.6 181.1)" fill="url(#shadeG)"/>
<ellipse cx="1371.4" cy="177.2" rx="11.0" ry="4.5" transform="rotate(156 1377.6 181.1)" fill="#e0b090" opacity="0.35"/>
<ellipse cx="1319.6" cy="181.7" rx="18.9" ry="15.3" transform="rotate(154 1319.6 181.7)" fill="#84492c"/>
<ellipse cx="1319.6" cy="181.7" rx="18.9" ry="15.3" transform="rotate(154 1319.6 181.7)" fill="url(#shadeG)"/>
<ellipse cx="1314.9" cy="177.1" rx="8.5" ry="5.4" transform="rotate(154 1319.6 181.7)" fill="#e0b090" opacity="0.35"/>
<ellipse cx="1338.5" cy="212.4" rx="20.9" ry="16.3" transform="rotate(163 1338.5 212.4)" fill="#7a4428"/>
<ellipse cx="1338.5" cy="212.4" rx="20.9" ry="16.3" transform="rotate(163 1338.5 212.4)" fill="url(#shadeG)"/>
<ellipse cx="1333.2" cy="207.5" rx="9.4" ry="5.7" transform="rotate(163 1338.5 212.4)" fill="#e0b090" opacity="0.35"/>
<ellipse cx="1283.7" cy="123.7" rx="18.4" ry="14.6" transform="rotate(146 1283.7 123.7)" fill="#9c5e3c"/>
<ellipse cx="1283.7" cy="123.7" rx="18.4" ry="14.6" transform="rotate(146 1283.7 123.7)" fill="url(#shadeG)"/>
<ellipse cx="1279.1" cy="119.3" rx="8.3" ry="5.1" transform="rotate(146 1283.7 123.7)" fill="#e0b090" opacity="0.35"/>
<ellipse cx="1300.2" cy="98.3" rx="22.3" ry="11.7" transform="rotate(7 1300.2 98.3)" fill="#945a38"/>
<ellipse cx="1300.2" cy="98.3" rx="22.3" ry="11.7" transform="rotate(7 1300.2 98.3)" fill="url(#shadeG)"/>
<ellipse cx="1294.7" cy="94.8" rx="10.0" ry="4.1" transform="rotate(7 1300.2 98.3)" fill="#e0b090" opacity="0.35"/>
<ellipse cx="1341.2" cy="196.2" rx="26.1" ry="11.7" transform="rotate(104 1341.2 196.2)" fill="#9c5e3c"/>
<ellipse cx="1341.2" cy="196.2" rx="26.1" ry="11.7" transform="rotate(104 1341.2 196.2)" fill="url(#shadeG)"/>
<ellipse cx="1334.6" cy="192.7" rx="11.7" ry="4.1" transform="rotate(104 1341.2 196.2)" fill="#e0b090" opacity="0.35"/>
<ellipse cx="1215.9" cy="138.4" rx="20.7" ry="12.1" transform="rotate(135 1215.9 138.4)" fill="#945a38"/>
<ellipse cx="1215.9" cy="138.4" rx="20.7" ry="12.1" transform="rotate(135 1215.9 138.4)" fill="url(#shadeG)"/>
<ellipse cx="1210.7" cy="134.8" rx="9.3" ry="4.2" transform="rotate(135 1215.9 138.4)" fill="#e0b090" opacity="0.35"/>
<ellipse cx="1266.1" cy="85.2" rx="23.5" ry="16.3" transform="rotate(37 1266.1 85.2)" fill="#a26644"/>
<ellipse cx="1266.1" cy="85.2" rx="23.5" ry="16.3" transform="rotate(37 1266.1 85.2)" fill="url(#shadeG)"/>
<ellipse cx="1260.2" cy="80.3" rx="10.6" ry="5.7" transform="rotate(37 1266.1 85.2)" fill="#e0b090" opacity="0.35"/>
<ellipse cx="1338.7" cy="91.1" rx="23.6" ry="15.1" transform="rotate(70 1338.7 91.1)" fill="#a26644"/>
<ellipse cx="1338.7" cy="91.1" rx="23.6" ry="15.1" transform="rotate(70 1338.7 91.1)" fill="url(#shadeG)"/>
<ellipse cx="1332.8" cy="86.5" rx="10.6" ry="5.3" transform="rotate(70 1338.7 91.1)" fill="#e0b090" opacity="0.35"/>
<ellipse cx="1256.9" cy="143.8" rx="21.5" ry="16.5" transform="rotate(45 1256.9 143.8)" fill="#9c5e3c"/>
<ellipse cx="1256.9" cy="143.8" rx="21.5" ry="16.5" transform="rotate(45 1256.9 143.8)" fill="url(#shadeG)"/>
<ellipse cx="1251.5" cy="138.8" rx="9.7" ry="5.8" transform="rotate(45 1256.9 143.8)" fill="#e0b090" opacity="0.35"/>
<ellipse cx="1222.1" cy="117.9" rx="22.3" ry="16.6" transform="rotate(112 1222.1 117.9)" fill="#7a4428"/>
<ellipse cx="1222.1" cy="117.9" rx="22.3" ry="16.6" transform="rotate(112 1222.1 117.9)" fill="url(#shadeG)"/>
<ellipse cx="1216.5" cy="112.9" rx="10.0" ry="5.8" transform="rotate(112 1222.1 117.9)" fill="#e0b090" opacity="0.35"/>
<ellipse cx="1380.1" cy="143.1" rx="25.2" ry="13.6" transform="rotate(161 1380.1 143.1)" fill="#945a38"/>
<ellipse cx="1380.1" cy="143.1" rx="25.2" ry="13.6" transform="rotate(161 1380.1 143.1)" fill="url(#shadeG)"/>
<ellipse cx="1373.8" cy="139.0" rx="11.3" ry="4.8" transform="rotate(161 1380.1 143.1)" fill="#e0b090" opacity="0.35"/>
<ellipse cx="1236.1" cy="118.2" rx="26.7" ry="15.9" transform="rotate(157 1236.1 118.2)" fill="#9c5e3c"/>
<ellipse cx="1236.1" cy="118.2" rx="26.7" ry="15.9" transform="rotate(157 1236.1 118.2)" fill="url(#shadeG)"/>
<ellipse cx="1229.4" cy="113.4" rx="12.0" ry="5.6" transform="rotate(157 1236.1 118.2)" fill="#e0b090" opacity="0.35"/>
<ellipse cx="1353.0" cy="117.8" rx="27.1" ry="13.4" transform="rotate(138 1353.0 117.8)" fill="#ad704c"/>
<ellipse cx="1353.0" cy="117.8" rx="27.1" ry="13.4" transform="rotate(138 1353.0 117.8)" fill="url(#shadeG)"/>
<ellipse cx="1346.2" cy="113.8" rx="12.2" ry="4.7" transform="rotate(138 1353.0 117.8)" fill="#e0b090" opacity="0.35"/>
<ellipse cx="1355.7" cy="132.9" rx="21.0" ry="16.2" transform="rotate(95 1355.7 132.9)" fill="#84492c"/>
<ellipse cx="1355.7" cy="132.9" rx="21.0" ry="16.2" transform="rotate(95 1355.7 132.9)" fill="url(#shadeG)"/>
<ellipse cx="1350.4" cy="128.1" rx="9.5" ry="5.7" transform="rotate(95 1355.7 132.9)" fill="#e0b090" opacity="0.35"/>
<ellipse cx="1236.5" cy="200.3" rx="19.2" ry="15.7" transform="rotate(84 1236.5 200.3)" fill="#7a4428"/>
<ellipse cx="1236.5" cy="200.3" rx="19.2" ry="15.7" transform="rotate(84 1236.5 200.3)" fill="url(#shadeG)"/>
<ellipse cx="1231.7" cy="195.6" rx="8.7" ry="5.5" transform="rotate(84 1236.5 200.3)" fill="#e0b090" opacity="0.35"/>
<ellipse cx="1298.6" cy="91.2" rx="21.5" ry="16.8" transform="rotate(15 1298.6 91.2)" fill="#7a4428"/>
<ellipse cx="1298.6" cy="91.2" rx="21.5" ry="16.8" transform="rotate(15 1298.6 91.2)" fill="url(#shadeG)"/>
<ellipse cx="1293.2" cy="86.2" rx="9.7" ry="5.9" transform="rotate(15 1298.6 91.2)" fill="#e0b090" opacity="0.35"/>
<ellipse cx="1247.9" cy="91.2" rx="26.4" ry="13.1" transform="rotate(166 1247.9 91.2)" fill="#7a4428"/>
<ellipse cx="1247.9" cy="91.2" rx="26.4" ry="13.1" transform="rotate(166 1247.9 91.2)" fill="url(#shadeG)"/>
<ellipse cx="1241.3" cy="87.3" rx="11.9" ry="4.6" transform="rotate(166 1247.9 91.2)" fill="#e0b090" opacity="0.35"/>
<ellipse cx="1211.3" cy="110.3" rx="24.5" ry="16.8" transform="rotate(123 1211.3 110.3)" fill="#7a4428"/>
<ellipse cx="1211.3" cy="110.3" rx="24.5" ry="16.8" transform="rotate(123 1211.3 110.3)" fill="url(#shadeG)"/>
<ellipse cx="1205.1" cy="105.2" rx="11.0" ry="5.9" transform="rotate(123 1211.3 110.3)" fill="#e0b090" opacity="0.35"/>
<ellipse cx="1255.9" cy="161.3" rx="20.1" ry="13.3" transform="rotate(88 1255.9 161.3)" fill="#7a4428"/>
<ellipse cx="1255.9" cy="161.3" rx="20.1" ry="13.3" transform="rotate(88 1255.9 161.3)" fill="url(#shadeG)"/>
<ellipse cx="1250.9" cy="157.3" rx="9.1" ry="4.7" transform="rotate(88 1255.9 161.3)" fill="#e0b090" opacity="0.35"/>
<ellipse cx="1280.5" cy="145.2" rx="25.0" ry="16.4" transform="rotate(85 1280.5 145.2)" fill="#9c5e3c"/>
<ellipse cx="1280.5" cy="145.2" rx="25.0" ry="16.4" transform="rotate(85 1280.5 145.2)" fill="url(#shadeG)"/>
<ellipse cx="1274.3" cy="140.3" rx="11.3" ry="5.7" transform="rotate(85 1280.5 145.2)" fill="#e0b090" opacity="0.35"/>
<ellipse cx="1274.8" cy="108.0" rx="24.0" ry="16.1" transform="rotate(30 1274.8 108.0)" fill="#84492c"/>
<ellipse cx="1274.8" cy="108.0" rx="24.0" ry="16.1" transform="rotate(30 1274.8 108.0)" fill="url(#shadeG)"/>
<ellipse cx="1268.8" cy="103.2" rx="10.8" ry="5.7" transform="rotate(30 1274.8 108.0)" fill="#e0b090" opacity="0.35"/>
<ellipse cx="1220.4" cy="173.3" rx="18.9" ry="13.7" transform="rotate(151 1220.4 173.3)" fill="#945a38"/>
<ellipse cx="1220.4" cy="173.3" rx="18.9" ry="13.7" transform="rotate(151 1220.4 173.3)" fill="url(#shadeG)"/>
<ellipse cx="1215.6" cy="169.2" rx="8.5" ry="4.8" transform="rotate(151 1220.4 173.3)" fill="#e0b090" opacity="0.35"/>
<ellipse cx="1232.0" cy="84.3" rx="19.4" ry="17.1" transform="rotate(101 1232.0 84.3)" fill="#945a38"/>
<ellipse cx="1232.0" cy="84.3" rx="19.4" ry="17.1" transform="rotate(101 1232.0 84.3)" fill="url(#shadeG)"/>
<ellipse cx="1227.1" cy="79.2" rx="8.7" ry="6.0" transform="rotate(101 1232.0 84.3)" fill="#e0b090" opacity="0.35"/>
<ellipse cx="1338.6" cy="179.5" rx="26.2" ry="16.3" transform="rotate(128 1338.6 179.5)" fill="#84492c"/>
<ellipse cx="1338.6" cy="179.5" rx="26.2" ry="16.3" transform="rotate(128 1338.6 179.5)" fill="url(#shadeG)"/>
<ellipse cx="1332.1" cy="174.6" rx="11.8" ry="5.7" transform="rotate(128 1338.6 179.5)" fill="#e0b090" opacity="0.35"/>
<ellipse cx="1352.1" cy="105.1" rx="19.8" ry="15.3" transform="rotate(138 1352.1 105.1)" fill="#9c5e3c"/>
<ellipse cx="1352.1" cy="105.1" rx="19.8" ry="15.3" transform="rotate(138 1352.1 105.1)" fill="url(#shadeG)"/>
<ellipse cx="1347.1" cy="100.5" rx="8.9" ry="5.4" transform="rotate(138 1352.1 105.1)" fill="#e0b090" opacity="0.35"/>
<ellipse cx="1317.1" cy="102.3" rx="22.8" ry="17.2" transform="rotate(126 1317.1 102.3)" fill="#9c5e3c"/>
<ellipse cx="1317.1" cy="102.3" rx="22.8" ry="17.2" transform="rotate(126 1317.1 102.3)" fill="url(#shadeG)"/>
<ellipse cx="1311.4" cy="97.2" rx="10.3" ry="6.0" transform="rotate(126 1317.1 102.3)" fill="#e0b090" opacity="0.35"/>
<ellipse cx="1214.4" cy="162.7" rx="26.9" ry="13.3" transform="rotate(165 1214.4 162.7)" fill="#9c5e3c"/>
<ellipse cx="1214.4" cy="162.7" rx="26.9" ry="13.3" transform="rotate(165 1214.4 162.7)" fill="url(#shadeG)"/>
<ellipse cx="1207.6" cy="158.7" rx="12.1" ry="4.7" transform="rotate(165 1214.4 162.7)" fill="#e0b090" opacity="0.35"/>
<ellipse cx="1373.6" cy="128.3" rx="22.6" ry="14.9" transform="rotate(70 1373.6 128.3)" fill="#9c5e3c"/>
<ellipse cx="1373.6" cy="128.3" rx="22.6" ry="14.9" transform="rotate(70 1373.6 128.3)" fill="url(#shadeG)"/>
<ellipse cx="1368.0" cy="123.8" rx="10.2" ry="5.2" transform="rotate(70 1373.6 128.3)" fill="#e0b090" opacity="0.35"/>
<ellipse cx="1246.1" cy="181.9" rx="26.6" ry="15.7" transform="rotate(20 1246.1 181.9)" fill="#84492c"/>
<ellipse cx="1246.1" cy="181.9" rx="26.6" ry="15.7" transform="rotate(20 1246.1 181.9)" fill="url(#shadeG)"/>
<ellipse cx="1239.5" cy="177.2" rx="12.0" ry="5.5" transform="rotate(20 1246.1 181.9)" fill="#e0b090" opacity="0.35"/>
<ellipse cx="1276.5" cy="127.5" rx="19.3" ry="14.3" transform="rotate(154 1276.5 127.5)" fill="#945a38"/>
<ellipse cx="1276.5" cy="127.5" rx="19.3" ry="14.3" transform="rotate(154 1276.5 127.5)" fill="url(#shadeG)"/>
<ellipse cx="1271.6" cy="123.2" rx="8.7" ry="5.0" transform="rotate(154 1276.5 127.5)" fill="#e0b090" opacity="0.35"/>
<ellipse cx="1370.4" cy="210.0" rx="26.9" ry="16.3" transform="rotate(16 1370.4 210.0)" fill="#ad704c"/>
<ellipse cx="1370.4" cy="210.0" rx="26.9" ry="16.3" transform="rotate(16 1370.4 210.0)" fill="url(#shadeG)"/>
<ellipse cx="1363.6" cy="205.2" rx="12.1" ry="5.7" transform="rotate(16 1370.4 210.0)" fill="#e0b090" opacity="0.35"/>
<ellipse cx="1289.2" cy="154.9" rx="24.5" ry="14.1" transform="rotate(161 1289.2 154.9)" fill="#7a4428"/>
<ellipse cx="1289.2" cy="154.9" rx="24.5" ry="14.1" transform="rotate(161 1289.2 154.9)" fill="url(#shadeG)"/>
<ellipse cx="1283.0" cy="150.7" rx="11.0" ry="4.9" transform="rotate(161 1289.2 154.9)" fill="#e0b090" opacity="0.35"/>
<ellipse cx="1257.2" cy="213.9" rx="22.2" ry="17.2" transform="rotate(58 1257.2 213.9)" fill="#9c5e3c"/>
<ellipse cx="1257.2" cy="213.9" rx="22.2" ry="17.2" transform="rotate(58 1257.2 213.9)" fill="url(#shadeG)"/>
<ellipse cx="1251.6" cy="208.7" rx="10.0" ry="6.0" transform="rotate(58 1257.2 213.9)" fill="#e0b090" opacity="0.35"/>
<ellipse cx="1262.8" cy="183.6" rx="25.6" ry="13.2" transform="rotate(109 1262.8 183.6)" fill="#945a38"/>
<ellipse cx="1262.8" cy="183.6" rx="25.6" ry="13.2" transform="rotate(109 1262.8 183.6)" fill="url(#shadeG)"/>
<ellipse cx="1256.4" cy="179.6" rx="11.5" ry="4.6" transform="rotate(109 1262.8 183.6)" fill="#e0b090" opacity="0.35"/>
<ellipse cx="1345.5" cy="154.8" rx="26.2" ry="12.2" transform="rotate(95 1345.5 154.8)" fill="#9c5e3c"/>
<ellipse cx="1345.5" cy="154.8" rx="26.2" ry="12.2" transform="rotate(95 1345.5 154.8)" fill="url(#shadeG)"/>
<ellipse cx="1338.9" cy="151.2" rx="11.8" ry="4.3" transform="rotate(95 1345.5 154.8)" fill="#e0b090" opacity="0.35"/>
<ellipse cx="1217.0" cy="208.3" rx="23.5" ry="12.1" transform="rotate(131 1217.0 208.3)" fill="#a26644"/>
<ellipse cx="1217.0" cy="208.3" rx="23.5" ry="12.1" transform="rotate(131 1217.0 208.3)" fill="url(#shadeG)"/>
<ellipse cx="1211.1" cy="204.7" rx="10.6" ry="4.2" transform="rotate(131 1217.0 208.3)" fill="#e0b090" opacity="0.35"/>
<ellipse cx="1239.9" cy="135.9" rx="20.7" ry="16.7" transform="rotate(43 1239.9 135.9)" fill="#7a4428"/>
<ellipse cx="1239.9" cy="135.9" rx="20.7" ry="16.7" transform="rotate(43 1239.9 135.9)" fill="url(#shadeG)"/>
<ellipse cx="1234.7" cy="130.9" rx="9.3" ry="5.8" transform="rotate(43 1239.9 135.9)" fill="#e0b090" opacity="0.35"/>
<ellipse cx="1264.6" cy="217.2" rx="22.7" ry="16.5" transform="rotate(123 1264.6 217.2)" fill="#7a4428"/>
<ellipse cx="1264.6" cy="217.2" rx="22.7" ry="16.5" transform="rotate(123 1264.6 217.2)" fill="url(#shadeG)"/>
<ellipse cx="1258.9" cy="212.2" rx="10.2" ry="5.8" transform="rotate(123 1264.6 217.2)" fill="#e0b090" opacity="0.35"/>
<ellipse cx="1216.3" cy="198.2" rx="20.1" ry="15.6" transform="rotate(52 1216.3 198.2)" fill="#a26644"/>
<ellipse cx="1216.3" cy="198.2" rx="20.1" ry="15.6" transform="rotate(52 1216.3 198.2)" fill="url(#shadeG)"/>
<ellipse cx="1211.3" cy="193.5" rx="9.0" ry="5.4" transform="rotate(52 1216.3 198.2)" fill="#e0b090" opacity="0.35"/>
<ellipse cx="1304.1" cy="214.4" rx="23.4" ry="17.0" transform="rotate(79 1304.1 214.4)" fill="#9c5e3c"/>
<ellipse cx="1304.1" cy="214.4" rx="23.4" ry="17.0" transform="rotate(79 1304.1 214.4)" fill="url(#shadeG)"/>
<ellipse cx="1298.2" cy="209.3" rx="10.5" ry="5.9" transform="rotate(79 1304.1 214.4)" fill="#e0b090" opacity="0.35"/>
<ellipse cx="1320.8" cy="210.5" rx="20.2" ry="14.7" transform="rotate(111 1320.8 210.5)" fill="#9c5e3c"/>
<ellipse cx="1320.8" cy="210.5" rx="20.2" ry="14.7" transform="rotate(111 1320.8 210.5)" fill="url(#shadeG)"/>
<ellipse cx="1315.8" cy="206.1" rx="9.1" ry="5.1" transform="rotate(111 1320.8 210.5)" fill="#e0b090" opacity="0.35"/>
<ellipse cx="1304.1" cy="174.6" rx="21.8" ry="13.1" transform="rotate(143 1304.1 174.6)" fill="#9c5e3c"/>
<ellipse cx="1304.1" cy="174.6" rx="21.8" ry="13.1" transform="rotate(143 1304.1 174.6)" fill="url(#shadeG)"/>
<ellipse cx="1298.6" cy="170.6" rx="9.8" ry="4.6" transform="rotate(143 1304.1 174.6)" fill="#e0b090" opacity="0.35"/>
<ellipse cx="1208.9" cy="91.4" rx="24.9" ry="14.9" transform="rotate(115 1208.9 91.4)" fill="#ad704c"/>
<ellipse cx="1208.9" cy="91.4" rx="24.9" ry="14.9" transform="rotate(115 1208.9 91.4)" fill="url(#shadeG)"/>
<ellipse cx="1202.7" cy="86.9" rx="11.2" ry="5.2" transform="rotate(115 1208.9 91.4)" fill="#e0b090" opacity="0.35"/>
<ellipse cx="1236.5" cy="216.2" rx="22.8" ry="12.9" transform="rotate(63 1236.5 216.2)" fill="#945a38"/>
<ellipse cx="1236.5" cy="216.2" rx="22.8" ry="12.9" transform="rotate(63 1236.5 216.2)" fill="url(#shadeG)"/>
<ellipse cx="1230.8" cy="212.3" rx="10.3" ry="4.5" transform="rotate(63 1236.5 216.2)" fill="#e0b090" opacity="0.35"/>
<ellipse cx="1281.7" cy="97.5" rx="24.4" ry="15.4" transform="rotate(5 1281.7 97.5)" fill="#9c5e3c"/>
<ellipse cx="1281.7" cy="97.5" rx="24.4" ry="15.4" transform="rotate(5 1281.7 97.5)" fill="url(#shadeG)"/>
<ellipse cx="1275.6" cy="92.9" rx="11.0" ry="5.4" transform="rotate(5 1281.7 97.5)" fill="#e0b090" opacity="0.35"/>
<ellipse cx="1357.4" cy="165.5" rx="25.7" ry="14.1" transform="rotate(68 1357.4 165.5)" fill="#ad704c"/>
<ellipse cx="1357.4" cy="165.5" rx="25.7" ry="14.1" transform="rotate(68 1357.4 165.5)" fill="url(#shadeG)"/>
<ellipse cx="1350.9" cy="161.2" rx="11.6" ry="4.9" transform="rotate(68 1357.4 165.5)" fill="#e0b090" opacity="0.35"/>
<ellipse cx="1382.8" cy="189.1" rx="18.7" ry="12.6" transform="rotate(63 1382.8 189.1)" fill="#7a4428"/>
<ellipse cx="1382.8" cy="189.1" rx="18.7" ry="12.6" transform="rotate(63 1382.8 189.1)" fill="url(#shadeG)"/>
<ellipse cx="1378.1" cy="185.3" rx="8.4" ry="4.4" transform="rotate(63 1382.8 189.1)" fill="#e0b090" opacity="0.35"/>
<ellipse cx="1304.5" cy="156.2" rx="22.7" ry="12.9" transform="rotate(43 1304.5 156.2)" fill="#a26644"/>
<ellipse cx="1304.5" cy="156.2" rx="22.7" ry="12.9" transform="rotate(43 1304.5 156.2)" fill="url(#shadeG)"/>
<ellipse cx="1298.8" cy="152.3" rx="10.2" ry="4.5" transform="rotate(43 1304.5 156.2)" fill="#e0b090" opacity="0.35"/>
<ellipse cx="1258.6" cy="127.1" rx="26.3" ry="16.1" transform="rotate(44 1258.6 127.1)" fill="#7a4428"/>
<ellipse cx="1258.6" cy="127.1" rx="26.3" ry="16.1" transform="rotate(44 1258.6 127.1)" fill="url(#shadeG)"/>
<ellipse cx="1252.0" cy="122.3" rx="11.8" ry="5.6" transform="rotate(44 1258.6 127.1)" fill="#e0b090" opacity="0.35"/>
<ellipse cx="1364.1" cy="170.2" rx="24.6" ry="12.5" transform="rotate(108 1364.1 170.2)" fill="#a26644"/>
<ellipse cx="1364.1" cy="170.2" rx="24.6" ry="12.5" transform="rotate(108 1364.1 170.2)" fill="url(#shadeG)"/>
<ellipse cx="1357.9" cy="166.4" rx="11.1" ry="4.4" transform="rotate(108 1364.1 170.2)" fill="#e0b090" opacity="0.35"/>
<ellipse cx="1364.9" cy="77.4" rx="22.6" ry="15.1" transform="rotate(56 1364.9 77.4)" fill="#a26644"/>
<ellipse cx="1364.9" cy="77.4" rx="22.6" ry="15.1" transform="rotate(56 1364.9 77.4)" fill="url(#shadeG)"/>
<ellipse cx="1359.3" cy="72.9" rx="10.2" ry="5.3" transform="rotate(56 1364.9 77.4)" fill="#e0b090" opacity="0.35"/>
<ellipse cx="1348.1" cy="120.9" rx="20.4" ry="12.6" transform="rotate(29 1348.1 120.9)" fill="#7a4428"/>
<ellipse cx="1348.1" cy="120.9" rx="20.4" ry="12.6" transform="rotate(29 1348.1 120.9)" fill="url(#shadeG)"/>
<ellipse cx="1343.0" cy="117.2" rx="9.2" ry="4.4" transform="rotate(29 1348.1 120.9)" fill="#e0b090" opacity="0.35"/>
<ellipse cx="1374.2" cy="79.4" rx="23.2" ry="17.2" transform="rotate(137 1374.2 79.4)" fill="#7a4428"/>
<ellipse cx="1374.2" cy="79.4" rx="23.2" ry="17.2" transform="rotate(137 1374.2 79.4)" fill="url(#shadeG)"/>
<ellipse cx="1368.4" cy="74.3" rx="10.4" ry="6.0" transform="rotate(137 1374.2 79.4)" fill="#e0b090" opacity="0.35"/>
<ellipse cx="1323.2" cy="116.4" rx="24.8" ry="12.6" transform="rotate(23 1323.2 116.4)" fill="#84492c"/>
<ellipse cx="1323.2" cy="116.4" rx="24.8" ry="12.6" transform="rotate(23 1323.2 116.4)" fill="url(#shadeG)"/>
<ellipse cx="1317.0" cy="112.6" rx="11.2" ry="4.4" transform="rotate(23 1323.2 116.4)" fill="#e0b090" opacity="0.35"/>
<ellipse cx="1258.5" cy="106.4" rx="24.5" ry="14.9" transform="rotate(76 1258.5 106.4)" fill="#a26644"/>
<ellipse cx="1258.5" cy="106.4" rx="24.5" ry="14.9" transform="rotate(76 1258.5 106.4)" fill="url(#shadeG)"/>
<ellipse cx="1252.4" cy="101.9" rx="11.0" ry="5.2" transform="rotate(76 1258.5 106.4)" fill="#e0b090" opacity="0.35"/>
<ellipse cx="1283.8" cy="195.5" rx="27.2" ry="16.2" transform="rotate(52 1283.8 195.5)" fill="#a26644"/>
<ellipse cx="1283.8" cy="195.5" rx="27.2" ry="16.2" transform="rotate(52 1283.8 195.5)" fill="url(#shadeG)"/>
<ellipse cx="1277.0" cy="190.7" rx="12.2" ry="5.7" transform="rotate(52 1283.8 195.5)" fill="#e0b090" opacity="0.35"/>
<ellipse cx="1292.4" cy="216.5" rx="18.6" ry="12.1" transform="rotate(166 1292.4 216.5)" fill="#9c5e3c"/>
<ellipse cx="1292.4" cy="216.5" rx="18.6" ry="12.1" transform="rotate(166 1292.4 216.5)" fill="url(#shadeG)"/>
<ellipse cx="1287.7" cy="212.9" rx="8.4" ry="4.2" transform="rotate(166 1292.4 216.5)" fill="#e0b090" opacity="0.35"/>
<ellipse cx="1345.4" cy="133.2" rx="21.4" ry="16.1" transform="rotate(155 1345.4 133.2)" fill="#a26644"/>
<ellipse cx="1345.4" cy="133.2" rx="21.4" ry="16.1" transform="rotate(155 1345.4 133.2)" fill="url(#shadeG)"/>
<ellipse cx="1340.0" cy="128.4" rx="9.6" ry="5.6" transform="rotate(155 1345.4 133.2)" fill="#e0b090" opacity="0.35"/>
<ellipse cx="1239.6" cy="107.7" rx="19.8" ry="13.2" transform="rotate(163 1239.6 107.7)" fill="#ad704c"/>
<ellipse cx="1239.6" cy="107.7" rx="19.8" ry="13.2" transform="rotate(163 1239.6 107.7)" fill="url(#shadeG)"/>
<ellipse cx="1234.7" cy="103.8" rx="8.9" ry="4.6" transform="rotate(163 1239.6 107.7)" fill="#e0b090" opacity="0.35"/>
<ellipse cx="1343.8" cy="109.5" rx="25.9" ry="15.6" transform="rotate(58 1343.8 109.5)" fill="#84492c"/>
<ellipse cx="1343.8" cy="109.5" rx="25.9" ry="15.6" transform="rotate(58 1343.8 109.5)" fill="url(#shadeG)"/>
<ellipse cx="1337.3" cy="104.8" rx="11.7" ry="5.5" transform="rotate(58 1343.8 109.5)" fill="#e0b090" opacity="0.35"/>
<ellipse cx="1264.8" cy="164.9" rx="24.4" ry="17.4" transform="rotate(67 1264.8 164.9)" fill="#84492c"/>
<ellipse cx="1264.8" cy="164.9" rx="24.4" ry="17.4" transform="rotate(67 1264.8 164.9)" fill="url(#shadeG)"/>
<ellipse cx="1258.7" cy="159.6" rx="11.0" ry="6.1" transform="rotate(67 1264.8 164.9)" fill="#e0b090" opacity="0.35"/>
<ellipse cx="1365.9" cy="201.4" rx="27.4" ry="15.3" transform="rotate(48 1365.9 201.4)" fill="#7a4428"/>
<ellipse cx="1365.9" cy="201.4" rx="27.4" ry="15.3" transform="rotate(48 1365.9 201.4)" fill="url(#shadeG)"/>
<ellipse cx="1359.1" cy="196.8" rx="12.3" ry="5.4" transform="rotate(48 1365.9 201.4)" fill="#e0b090" opacity="0.35"/>
<ellipse cx="1364.1" cy="209.2" rx="21.9" ry="16.8" transform="rotate(141 1364.1 209.2)" fill="#84492c"/>
<ellipse cx="1364.1" cy="209.2" rx="21.9" ry="16.8" transform="rotate(141 1364.1 209.2)" fill="url(#shadeG)"/>
<ellipse cx="1358.6" cy="204.1" rx="9.8" ry="5.9" transform="rotate(141 1364.1 209.2)" fill="#e0b090" opacity="0.35"/>
<ellipse cx="1320.2" cy="82.9" rx="26.4" ry="12.7" transform="rotate(17 1320.2 82.9)" fill="#a26644"/>
<ellipse cx="1320.2" cy="82.9" rx="26.4" ry="12.7" transform="rotate(17 1320.2 82.9)" fill="url(#shadeG)"/>
<ellipse cx="1313.6" cy="79.1" rx="11.9" ry="4.4" transform="rotate(17 1320.2 82.9)" fill="#e0b090" opacity="0.35"/>
<ellipse cx="1306.3" cy="115.1" rx="19.3" ry="17.2" transform="rotate(83 1306.3 115.1)" fill="#84492c"/>
<ellipse cx="1306.3" cy="115.1" rx="19.3" ry="17.2" transform="rotate(83 1306.3 115.1)" fill="url(#shadeG)"/>
<ellipse cx="1301.5" cy="109.9" rx="8.7" ry="6.0" transform="rotate(83 1306.3 115.1)" fill="#e0b090" opacity="0.35"/>
</g>
<g clip-path="url(#cp_kola)">
<rect x="1206.7" y="18.5" width="189.1" height="196.7" fill="#2a1e1e"/>
<ellipse cx="1294.3" cy="162.0" rx="10.6" ry="20.2" transform="rotate(-10 1294.3 162.0)" fill="#98a860"/>
<ellipse cx="1294.3" cy="162.0" rx="10.6" ry="20.2" transform="rotate(-10 1294.3 162.0)" fill="url(#shadeG)"/>
<ellipse cx="1291.6" cy="155.9" rx="4.8" ry="7.1" transform="rotate(-10 1294.3 162.0)" fill="#c8d0a0" opacity="0.35"/>
<ellipse cx="1262.3" cy="74.3" rx="10.3" ry="18.3" transform="rotate(6 1262.3 74.3)" fill="#a8b07c"/>
<ellipse cx="1262.3" cy="74.3" rx="10.3" ry="18.3" transform="rotate(6 1262.3 74.3)" fill="url(#shadeG)"/>
<ellipse cx="1259.7" cy="68.8" rx="4.6" ry="6.4" transform="rotate(6 1262.3 74.3)" fill="#c8d0a0" opacity="0.35"/>
<ellipse cx="1326.1" cy="201.3" rx="10.7" ry="18.4" transform="rotate(17 1326.1 201.3)" fill="#6a2a7a"/>
<ellipse cx="1326.1" cy="201.3" rx="10.7" ry="18.4" transform="rotate(17 1326.1 201.3)" fill="url(#shadeG)"/>
<ellipse cx="1323.5" cy="195.7" rx="4.8" ry="6.5" transform="rotate(17 1326.1 201.3)" fill="#c8d0a0" opacity="0.35"/>
<ellipse cx="1309.9" cy="75.7" rx="11.3" ry="20.2" transform="rotate(-3 1309.9 75.7)" fill="#6a2a7a"/>
<ellipse cx="1309.9" cy="75.7" rx="11.3" ry="20.2" transform="rotate(-3 1309.9 75.7)" fill="url(#shadeG)"/>
<ellipse cx="1307.1" cy="69.6" rx="5.1" ry="7.1" transform="rotate(-3 1309.9 75.7)" fill="#c8d0a0" opacity="0.35"/>
<ellipse cx="1389.9" cy="96.3" rx="11.9" ry="22.0" transform="rotate(-25 1389.9 96.3)" fill="#b0b488"/>
<ellipse cx="1389.9" cy="96.3" rx="11.9" ry="22.0" transform="rotate(-25 1389.9 96.3)" fill="url(#shadeG)"/>
<ellipse cx="1386.9" cy="89.8" rx="5.4" ry="7.7" transform="rotate(-25 1389.9 96.3)" fill="#c8d0a0" opacity="0.35"/>
<ellipse cx="1367.5" cy="144.0" rx="9.2" ry="17.0" transform="rotate(25 1367.5 144.0)" fill="#b0b488"/>
<ellipse cx="1367.5" cy="144.0" rx="9.2" ry="17.0" transform="rotate(25 1367.5 144.0)" fill="url(#shadeG)"/>
<ellipse cx="1365.2" cy="138.9" rx="4.2" ry="5.9" transform="rotate(25 1367.5 144.0)" fill="#c8d0a0" opacity="0.35"/>
<ellipse cx="1369.2" cy="111.2" rx="10.9" ry="22.8" transform="rotate(15 1369.2 111.2)" fill="#7c8a48"/>
<ellipse cx="1369.2" cy="111.2" rx="10.9" ry="22.8" transform="rotate(15 1369.2 111.2)" fill="url(#shadeG)"/>
<ellipse cx="1366.5" cy="104.3" rx="4.9" ry="8.0" transform="rotate(15 1369.2 111.2)" fill="#c8d0a0" opacity="0.35"/>
<ellipse cx="1314.2" cy="90.2" rx="9.7" ry="20.7" transform="rotate(0 1314.2 90.2)" fill="#b0b488"/>
<ellipse cx="1314.2" cy="90.2" rx="9.7" ry="20.7" transform="rotate(0 1314.2 90.2)" fill="url(#shadeG)"/>
<ellipse cx="1311.8" cy="84.0" rx="4.4" ry="7.3" transform="rotate(0 1314.2 90.2)" fill="#c8d0a0" opacity="0.35"/>
<ellipse cx="1320.9" cy="94.4" rx="11.9" ry="16.9" transform="rotate(22 1320.9 94.4)" fill="#b0b488"/>
<ellipse cx="1320.9" cy="94.4" rx="11.9" ry="16.9" transform="rotate(22 1320.9 94.4)" fill="url(#shadeG)"/>
<ellipse cx="1318.0" cy="89.3" rx="5.3" ry="5.9" transform="rotate(22 1320.9 94.4)" fill="#c8d0a0" opacity="0.35"/>
<ellipse cx="1360.0" cy="160.5" rx="8.8" ry="22.7" transform="rotate(21 1360.0 160.5)" fill="#7c8a48"/>
<ellipse cx="1360.0" cy="160.5" rx="8.8" ry="22.7" transform="rotate(21 1360.0 160.5)" fill="url(#shadeG)"/>
<ellipse cx="1357.8" cy="153.6" rx="4.0" ry="8.0" transform="rotate(21 1360.0 160.5)" fill="#c8d0a0" opacity="0.35"/>
<ellipse cx="1261.6" cy="211.3" rx="10.4" ry="24.2" transform="rotate(10 1261.6 211.3)" fill="#b0b488"/>
<ellipse cx="1261.6" cy="211.3" rx="10.4" ry="24.2" transform="rotate(10 1261.6 211.3)" fill="url(#shadeG)"/>
<ellipse cx="1259.0" cy="204.0" rx="4.7" ry="8.5" transform="rotate(10 1261.6 211.3)" fill="#c8d0a0" opacity="0.35"/>
<ellipse cx="1298.3" cy="100.4" rx="9.1" ry="20.6" transform="rotate(-18 1298.3 100.4)" fill="#98a860"/>
<ellipse cx="1298.3" cy="100.4" rx="9.1" ry="20.6" transform="rotate(-18 1298.3 100.4)" fill="url(#shadeG)"/>
<ellipse cx="1296.1" cy="94.2" rx="4.1" ry="7.2" transform="rotate(-18 1298.3 100.4)" fill="#c8d0a0" opacity="0.35"/>
<ellipse cx="1275.9" cy="188.1" rx="9.9" ry="19.4" transform="rotate(-16 1275.9 188.1)" fill="#b0b488"/>
<ellipse cx="1275.9" cy="188.1" rx="9.9" ry="19.4" transform="rotate(-16 1275.9 188.1)" fill="url(#shadeG)"/>
<ellipse cx="1273.4" cy="182.3" rx="4.4" ry="6.8" transform="rotate(-16 1275.9 188.1)" fill="#c8d0a0" opacity="0.35"/>
<ellipse cx="1325.1" cy="77.7" rx="8.7" ry="21.2" transform="rotate(24 1325.1 77.7)" fill="#8a9a50"/>
<ellipse cx="1325.1" cy="77.7" rx="8.7" ry="21.2" transform="rotate(24 1325.1 77.7)" fill="url(#shadeG)"/>
<ellipse cx="1323.0" cy="71.4" rx="3.9" ry="7.4" transform="rotate(24 1325.1 77.7)" fill="#c8d0a0" opacity="0.35"/>
<ellipse cx="1372.6" cy="124.1" rx="11.9" ry="22.8" transform="rotate(3 1372.6 124.1)" fill="#6a2a7a"/>
<ellipse cx="1372.6" cy="124.1" rx="11.9" ry="22.8" transform="rotate(3 1372.6 124.1)" fill="url(#shadeG)"/>
<ellipse cx="1369.6" cy="117.2" rx="5.3" ry="8.0" transform="rotate(3 1372.6 124.1)" fill="#c8d0a0" opacity="0.35"/>
<ellipse cx="1276.6" cy="130.3" rx="8.8" ry="20.9" transform="rotate(6 1276.6 130.3)" fill="#b0b488"/>
<ellipse cx="1276.6" cy="130.3" rx="8.8" ry="20.9" transform="rotate(6 1276.6 130.3)" fill="url(#shadeG)"/>
<ellipse cx="1274.4" cy="124.0" rx="4.0" ry="7.3" transform="rotate(6 1276.6 130.3)" fill="#c8d0a0" opacity="0.35"/>
<ellipse cx="1305.4" cy="159.5" rx="11.5" ry="22.0" transform="rotate(12 1305.4 159.5)" fill="#7c8a48"/>
<ellipse cx="1305.4" cy="159.5" rx="11.5" ry="22.0" transform="rotate(12 1305.4 159.5)" fill="url(#shadeG)"/>
<ellipse cx="1302.5" cy="152.9" rx="5.2" ry="7.7" transform="rotate(12 1305.4 159.5)" fill="#c8d0a0" opacity="0.35"/>
<ellipse cx="1356.2" cy="113.6" rx="8.4" ry="19.4" transform="rotate(-10 1356.2 113.6)" fill="#b0b488"/>
<ellipse cx="1356.2" cy="113.6" rx="8.4" ry="19.4" transform="rotate(-10 1356.2 113.6)" fill="url(#shadeG)"/>
<ellipse cx="1354.1" cy="107.8" rx="3.8" ry="6.8" transform="rotate(-10 1356.2 113.6)" fill="#c8d0a0" opacity="0.35"/>
<ellipse cx="1368.2" cy="91.0" rx="9.5" ry="24.1" transform="rotate(-17 1368.2 91.0)" fill="#98a860"/>
<ellipse cx="1368.2" cy="91.0" rx="9.5" ry="24.1" transform="rotate(-17 1368.2 91.0)" fill="url(#shadeG)"/>
<ellipse cx="1365.8" cy="83.8" rx="4.3" ry="8.4" transform="rotate(-17 1368.2 91.0)" fill="#c8d0a0" opacity="0.35"/>
<ellipse cx="1326.0" cy="122.9" rx="10.4" ry="24.6" transform="rotate(24 1326.0 122.9)" fill="#a8b07c"/>
<ellipse cx="1326.0" cy="122.9" rx="10.4" ry="24.6" transform="rotate(24 1326.0 122.9)" fill="url(#shadeG)"/>
<ellipse cx="1323.3" cy="115.5" rx="4.7" ry="8.6" transform="rotate(24 1326.0 122.9)" fill="#c8d0a0" opacity="0.35"/>
<ellipse cx="1268.3" cy="97.5" rx="9.3" ry="18.2" transform="rotate(-14 1268.3 97.5)" fill="#98a860"/>
<ellipse cx="1268.3" cy="97.5" rx="9.3" ry="18.2" transform="rotate(-14 1268.3 97.5)" fill="url(#shadeG)"/>
<ellipse cx="1266.0" cy="92.1" rx="4.2" ry="6.4" transform="rotate(-14 1268.3 97.5)" fill="#c8d0a0" opacity="0.35"/>
<ellipse cx="1358.4" cy="130.6" rx="10.8" ry="17.6" transform="rotate(11 1358.4 130.6)" fill="#a8b07c"/>
<ellipse cx="1358.4" cy="130.6" rx="10.8" ry="17.6" transform="rotate(11 1358.4 130.6)" fill="url(#shadeG)"/>
<ellipse cx="1355.7" cy="125.3" rx="4.9" ry="6.2" transform="rotate(11 1358.4 130.6)" fill="#c8d0a0" opacity="0.35"/>
<ellipse cx="1315.6" cy="142.4" rx="9.3" ry="17.9" transform="rotate(15 1315.6 142.4)" fill="#7c8a48"/>
<ellipse cx="1315.6" cy="142.4" rx="9.3" ry="17.9" transform="rotate(15 1315.6 142.4)" fill="url(#shadeG)"/>
<ellipse cx="1313.3" cy="137.1" rx="4.2" ry="6.3" transform="rotate(15 1315.6 142.4)" fill="#c8d0a0" opacity="0.35"/>
<ellipse cx="1283.5" cy="90.4" rx="8.2" ry="18.2" transform="rotate(13 1283.5 90.4)" fill="#7a3a8a"/>
<ellipse cx="1283.5" cy="90.4" rx="8.2" ry="18.2" transform="rotate(13 1283.5 90.4)" fill="url(#shadeG)"/>
<ellipse cx="1281.5" cy="84.9" rx="3.7" ry="6.4" transform="rotate(13 1283.5 90.4)" fill="#c8d0a0" opacity="0.35"/>
<ellipse cx="1336.9" cy="181.1" rx="9.7" ry="23.0" transform="rotate(7 1336.9 181.1)" fill="#7a3a8a"/>
<ellipse cx="1336.9" cy="181.1" rx="9.7" ry="23.0" transform="rotate(7 1336.9 181.1)" fill="url(#shadeG)"/>
<ellipse cx="1334.5" cy="174.2" rx="4.4" ry="8.1" transform="rotate(7 1336.9 181.1)" fill="#c8d0a0" opacity="0.35"/>
<ellipse cx="1336.9" cy="28.3" rx="11.6" ry="18.7" transform="rotate(-7 1336.9 28.3)" fill="#b0b488"/>
<ellipse cx="1336.9" cy="28.3" rx="11.6" ry="18.7" transform="rotate(-7 1336.9 28.3)" fill="url(#shadeG)"/>
<ellipse cx="1334.0" cy="22.7" rx="5.2" ry="6.5" transform="rotate(-7 1336.9 28.3)" fill="#c8d0a0" opacity="0.35"/>
<ellipse cx="1346.4" cy="147.3" rx="9.4" ry="23.2" transform="rotate(-12 1346.4 147.3)" fill="#9aac5c"/>
<ellipse cx="1346.4" cy="147.3" rx="9.4" ry="23.2" transform="rotate(-12 1346.4 147.3)" fill="url(#shadeG)"/>
<ellipse cx="1344.1" cy="140.3" rx="4.2" ry="8.1" transform="rotate(-12 1346.4 147.3)" fill="#c8d0a0" opacity="0.35"/>
<ellipse cx="1390.3" cy="202.0" rx="8.8" ry="19.6" transform="rotate(-18 1390.3 202.0)" fill="#a8b07c"/>
<ellipse cx="1390.3" cy="202.0" rx="8.8" ry="19.6" transform="rotate(-18 1390.3 202.0)" fill="url(#shadeG)"/>
<ellipse cx="1388.1" cy="196.1" rx="4.0" ry="6.9" transform="rotate(-18 1390.3 202.0)" fill="#c8d0a0" opacity="0.35"/>
<ellipse cx="1312.5" cy="190.9" rx="11.4" ry="20.0" transform="rotate(-14 1312.5 190.9)" fill="#7a3a8a"/>
<ellipse cx="1312.5" cy="190.9" rx="11.4" ry="20.0" transform="rotate(-14 1312.5 190.9)" fill="url(#shadeG)"/>
<ellipse cx="1309.6" cy="184.8" rx="5.1" ry="7.0" transform="rotate(-14 1312.5 190.9)" fill="#c8d0a0" opacity="0.35"/>
<ellipse cx="1327.0" cy="109.6" rx="11.0" ry="24.7" transform="rotate(3 1327.0 109.6)" fill="#a8b07c"/>
<ellipse cx="1327.0" cy="109.6" rx="11.0" ry="24.7" transform="rotate(3 1327.0 109.6)" fill="url(#shadeG)"/>
<ellipse cx="1324.2" cy="102.2" rx="4.9" ry="8.6" transform="rotate(3 1327.0 109.6)" fill="#c8d0a0" opacity="0.35"/>
<ellipse cx="1312.7" cy="60.3" rx="8.7" ry="19.0" transform="rotate(1 1312.7 60.3)" fill="#6a2a7a"/>
<ellipse cx="1312.7" cy="60.3" rx="8.7" ry="19.0" transform="rotate(1 1312.7 60.3)" fill="url(#shadeG)"/>
<ellipse cx="1310.5" cy="54.6" rx="3.9" ry="6.7" transform="rotate(1 1312.7 60.3)" fill="#c8d0a0" opacity="0.35"/>
<ellipse cx="1289.0" cy="29.6" rx="11.7" ry="24.2" transform="rotate(10 1289.0 29.6)" fill="#a8b07c"/>
<ellipse cx="1289.0" cy="29.6" rx="11.7" ry="24.2" transform="rotate(10 1289.0 29.6)" fill="url(#shadeG)"/>
<ellipse cx="1286.1" cy="22.4" rx="5.3" ry="8.5" transform="rotate(10 1289.0 29.6)" fill="#c8d0a0" opacity="0.35"/>
<ellipse cx="1259.6" cy="128.4" rx="8.7" ry="17.1" transform="rotate(-3 1259.6 128.4)" fill="#7a3a8a"/>
<ellipse cx="1259.6" cy="128.4" rx="8.7" ry="17.1" transform="rotate(-3 1259.6 128.4)" fill="url(#shadeG)"/>
<ellipse cx="1257.4" cy="123.3" rx="3.9" ry="6.0" transform="rotate(-3 1259.6 128.4)" fill="#c8d0a0" opacity="0.35"/>
<ellipse cx="1390.4" cy="29.1" rx="9.6" ry="24.1" transform="rotate(-6 1390.4 29.1)" fill="#8a9a50"/>
<ellipse cx="1390.4" cy="29.1" rx="9.6" ry="24.1" transform="rotate(-6 1390.4 29.1)" fill="url(#shadeG)"/>
<ellipse cx="1388.0" cy="21.9" rx="4.3" ry="8.4" transform="rotate(-6 1390.4 29.1)" fill="#c8d0a0" opacity="0.35"/>
<ellipse cx="1319.8" cy="156.8" rx="9.8" ry="24.9" transform="rotate(-14 1319.8 156.8)" fill="#8a9a50"/>
<ellipse cx="1319.8" cy="156.8" rx="9.8" ry="24.9" transform="rotate(-14 1319.8 156.8)" fill="url(#shadeG)"/>
<ellipse cx="1317.3" cy="149.3" rx="4.4" ry="8.7" transform="rotate(-14 1319.8 156.8)" fill="#c8d0a0" opacity="0.35"/>
<ellipse cx="1343.0" cy="45.4" rx="11.9" ry="19.7" transform="rotate(-24 1343.0 45.4)" fill="#6a2a7a"/>
<ellipse cx="1343.0" cy="45.4" rx="11.9" ry="19.7" transform="rotate(-24 1343.0 45.4)" fill="url(#shadeG)"/>
<ellipse cx="1340.0" cy="39.5" rx="5.4" ry="6.9" transform="rotate(-24 1343.0 45.4)" fill="#c8d0a0" opacity="0.35"/>
<ellipse cx="1285.2" cy="171.6" rx="9.8" ry="21.6" transform="rotate(22 1285.2 171.6)" fill="#a8b07c"/>
<ellipse cx="1285.2" cy="171.6" rx="9.8" ry="21.6" transform="rotate(22 1285.2 171.6)" fill="url(#shadeG)"/>
<ellipse cx="1282.7" cy="165.1" rx="4.4" ry="7.6" transform="rotate(22 1285.2 171.6)" fill="#c8d0a0" opacity="0.35"/>
<ellipse cx="1385.1" cy="122.8" rx="11.8" ry="19.5" transform="rotate(-5 1385.1 122.8)" fill="#a8b07c"/>
<ellipse cx="1385.1" cy="122.8" rx="11.8" ry="19.5" transform="rotate(-5 1385.1 122.8)" fill="url(#shadeG)"/>
<ellipse cx="1382.2" cy="116.9" rx="5.3" ry="6.8" transform="rotate(-5 1385.1 122.8)" fill="#c8d0a0" opacity="0.35"/>
<ellipse cx="1377.1" cy="59.0" rx="8.3" ry="16.9" transform="rotate(12 1377.1 59.0)" fill="#8a9a50"/>
<ellipse cx="1377.1" cy="59.0" rx="8.3" ry="16.9" transform="rotate(12 1377.1 59.0)" fill="url(#shadeG)"/>
<ellipse cx="1375.0" cy="54.0" rx="3.7" ry="5.9" transform="rotate(12 1377.1 59.0)" fill="#c8d0a0" opacity="0.35"/>
<ellipse cx="1313.5" cy="131.1" rx="10.7" ry="21.8" transform="rotate(-6 1313.5 131.1)" fill="#5a2a5a"/>
<ellipse cx="1313.5" cy="131.1" rx="10.7" ry="21.8" transform="rotate(-6 1313.5 131.1)" fill="url(#shadeG)"/>
<ellipse cx="1310.8" cy="124.5" rx="4.8" ry="7.6" transform="rotate(-6 1313.5 131.1)" fill="#c8d0a0" opacity="0.35"/>
<ellipse cx="1295.3" cy="197.4" rx="9.1" ry="21.5" transform="rotate(-19 1295.3 197.4)" fill="#8a9a50"/>
<ellipse cx="1295.3" cy="197.4" rx="9.1" ry="21.5" transform="rotate(-19 1295.3 197.4)" fill="url(#shadeG)"/>
<ellipse cx="1293.0" cy="190.9" rx="4.1" ry="7.5" transform="rotate(-19 1295.3 197.4)" fill="#c8d0a0" opacity="0.35"/>
<ellipse cx="1264.8" cy="61.3" rx="9.7" ry="16.8" transform="rotate(-10 1264.8 61.3)" fill="#b0b488"/>
<ellipse cx="1264.8" cy="61.3" rx="9.7" ry="16.8" transform="rotate(-10 1264.8 61.3)" fill="url(#shadeG)"/>
<ellipse cx="1262.4" cy="56.3" rx="4.4" ry="5.9" transform="rotate(-10 1264.8 61.3)" fill="#c8d0a0" opacity="0.35"/>
<ellipse cx="1293.8" cy="204.1" rx="10.7" ry="19.5" transform="rotate(-6 1293.8 204.1)" fill="#7c8a48"/>
<ellipse cx="1293.8" cy="204.1" rx="10.7" ry="19.5" transform="rotate(-6 1293.8 204.1)" fill="url(#shadeG)"/>
<ellipse cx="1291.1" cy="198.2" rx="4.8" ry="6.8" transform="rotate(-6 1293.8 204.1)" fill="#c8d0a0" opacity="0.35"/>
<ellipse cx="1373.6" cy="27.9" rx="9.3" ry="24.4" transform="rotate(13 1373.6 27.9)" fill="#5a2a5a"/>
<ellipse cx="1373.6" cy="27.9" rx="9.3" ry="24.4" transform="rotate(13 1373.6 27.9)" fill="url(#shadeG)"/>
<ellipse cx="1371.3" cy="20.6" rx="4.2" ry="8.5" transform="rotate(13 1373.6 27.9)" fill="#c8d0a0" opacity="0.35"/>
<ellipse cx="1260.7" cy="185.4" rx="11.9" ry="18.2" transform="rotate(17 1260.7 185.4)" fill="#7c8a48"/>
<ellipse cx="1260.7" cy="185.4" rx="11.9" ry="18.2" transform="rotate(17 1260.7 185.4)" fill="url(#shadeG)"/>
<ellipse cx="1257.7" cy="180.0" rx="5.3" ry="6.4" transform="rotate(17 1260.7 185.4)" fill="#c8d0a0" opacity="0.35"/>
<ellipse cx="1346.4" cy="204.2" rx="11.9" ry="24.0" transform="rotate(4 1346.4 204.2)" fill="#8a9a50"/>
<ellipse cx="1346.4" cy="204.2" rx="11.9" ry="24.0" transform="rotate(4 1346.4 204.2)" fill="url(#shadeG)"/>
<ellipse cx="1343.5" cy="197.0" rx="5.3" ry="8.4" transform="rotate(4 1346.4 204.2)" fill="#c8d0a0" opacity="0.35"/>
<ellipse cx="1359.2" cy="31.9" rx="9.7" ry="20.9" transform="rotate(-8 1359.2 31.9)" fill="#5a2a5a"/>
<ellipse cx="1359.2" cy="31.9" rx="9.7" ry="20.9" transform="rotate(-8 1359.2 31.9)" fill="url(#shadeG)"/>
<ellipse cx="1356.7" cy="25.7" rx="4.3" ry="7.3" transform="rotate(-8 1359.2 31.9)" fill="#c8d0a0" opacity="0.35"/>
<ellipse cx="1356.0" cy="69.6" rx="9.7" ry="19.0" transform="rotate(7 1356.0 69.6)" fill="#b0b488"/>
<ellipse cx="1356.0" cy="69.6" rx="9.7" ry="19.0" transform="rotate(7 1356.0 69.6)" fill="url(#shadeG)"/>
<ellipse cx="1353.6" cy="63.9" rx="4.3" ry="6.7" transform="rotate(7 1356.0 69.6)" fill="#c8d0a0" opacity="0.35"/>
<ellipse cx="1292.0" cy="148.9" rx="9.6" ry="20.4" transform="rotate(4 1292.0 148.9)" fill="#8a9a50"/>
<ellipse cx="1292.0" cy="148.9" rx="9.6" ry="20.4" transform="rotate(4 1292.0 148.9)" fill="url(#shadeG)"/>
<ellipse cx="1289.6" cy="142.8" rx="4.3" ry="7.2" transform="rotate(4 1292.0 148.9)" fill="#c8d0a0" opacity="0.35"/>
<ellipse cx="1280.4" cy="80.0" rx="10.8" ry="21.3" transform="rotate(8 1280.4 80.0)" fill="#8a9a50"/>
<ellipse cx="1280.4" cy="80.0" rx="10.8" ry="21.3" transform="rotate(8 1280.4 80.0)" fill="url(#shadeG)"/>
<ellipse cx="1277.7" cy="73.6" rx="4.9" ry="7.5" transform="rotate(8 1280.4 80.0)" fill="#c8d0a0" opacity="0.35"/>
<ellipse cx="1300.2" cy="113.6" rx="9.2" ry="17.1" transform="rotate(15 1300.2 113.6)" fill="#8a9a50"/>
<ellipse cx="1300.2" cy="113.6" rx="9.2" ry="17.1" transform="rotate(15 1300.2 113.6)" fill="url(#shadeG)"/>
<ellipse cx="1297.9" cy="108.5" rx="4.1" ry="6.0" transform="rotate(15 1300.2 113.6)" fill="#c8d0a0" opacity="0.35"/>
<ellipse cx="1354.1" cy="202.0" rx="11.7" ry="17.5" transform="rotate(7 1354.1 202.0)" fill="#98a860"/>
<ellipse cx="1354.1" cy="202.0" rx="11.7" ry="17.5" transform="rotate(7 1354.1 202.0)" fill="url(#shadeG)"/>
<ellipse cx="1351.2" cy="196.7" rx="5.3" ry="6.1" transform="rotate(7 1354.1 202.0)" fill="#c8d0a0" opacity="0.35"/>
<ellipse cx="1373.1" cy="53.6" rx="9.8" ry="22.7" transform="rotate(13 1373.1 53.6)" fill="#b0b488"/>
<ellipse cx="1373.1" cy="53.6" rx="9.8" ry="22.7" transform="rotate(13 1373.1 53.6)" fill="url(#shadeG)"/>
<ellipse cx="1370.7" cy="46.8" rx="4.4" ry="7.9" transform="rotate(13 1373.1 53.6)" fill="#c8d0a0" opacity="0.35"/>
<ellipse cx="1326.9" cy="185.8" rx="8.8" ry="22.8" transform="rotate(11 1326.9 185.8)" fill="#7a3a8a"/>
<ellipse cx="1326.9" cy="185.8" rx="8.8" ry="22.8" transform="rotate(11 1326.9 185.8)" fill="url(#shadeG)"/>
<ellipse cx="1324.7" cy="179.0" rx="4.0" ry="8.0" transform="rotate(11 1326.9 185.8)" fill="#c8d0a0" opacity="0.35"/>
<ellipse cx="1266.7" cy="139.3" rx="10.2" ry="21.5" transform="rotate(4 1266.7 139.3)" fill="#b0b488"/>
<ellipse cx="1266.7" cy="139.3" rx="10.2" ry="21.5" transform="rotate(4 1266.7 139.3)" fill="url(#shadeG)"/>
<ellipse cx="1264.1" cy="132.8" rx="4.6" ry="7.5" transform="rotate(4 1266.7 139.3)" fill="#c8d0a0" opacity="0.35"/>
<ellipse cx="1276.9" cy="145.4" rx="9.9" ry="22.0" transform="rotate(12 1276.9 145.4)" fill="#7a3a8a"/>
<ellipse cx="1276.9" cy="145.4" rx="9.9" ry="22.0" transform="rotate(12 1276.9 145.4)" fill="url(#shadeG)"/>
<ellipse cx="1274.4" cy="138.8" rx="4.4" ry="7.7" transform="rotate(12 1276.9 145.4)" fill="#c8d0a0" opacity="0.35"/>
<ellipse cx="1258.4" cy="30.3" rx="8.2" ry="17.1" transform="rotate(-12 1258.4 30.3)" fill="#5a2a5a"/>
<ellipse cx="1258.4" cy="30.3" rx="8.2" ry="17.1" transform="rotate(-12 1258.4 30.3)" fill="url(#shadeG)"/>
<ellipse cx="1256.4" cy="25.1" rx="3.7" ry="6.0" transform="rotate(-12 1258.4 30.3)" fill="#c8d0a0" opacity="0.35"/>
<ellipse cx="1355.8" cy="94.2" rx="8.3" ry="20.0" transform="rotate(23 1355.8 94.2)" fill="#9aac5c"/>
<ellipse cx="1355.8" cy="94.2" rx="8.3" ry="20.0" transform="rotate(23 1355.8 94.2)" fill="url(#shadeG)"/>
<ellipse cx="1353.7" cy="88.2" rx="3.7" ry="7.0" transform="rotate(23 1355.8 94.2)" fill="#c8d0a0" opacity="0.35"/>
<ellipse cx="1345.0" cy="89.1" rx="11.3" ry="18.3" transform="rotate(10 1345.0 89.1)" fill="#5a2a5a"/>
<ellipse cx="1345.0" cy="89.1" rx="11.3" ry="18.3" transform="rotate(10 1345.0 89.1)" fill="url(#shadeG)"/>
<ellipse cx="1342.2" cy="83.6" rx="5.1" ry="6.4" transform="rotate(10 1345.0 89.1)" fill="#c8d0a0" opacity="0.35"/>
<ellipse cx="1388.7" cy="140.9" rx="8.8" ry="18.8" transform="rotate(-24 1388.7 140.9)" fill="#a8b07c"/>
<ellipse cx="1388.7" cy="140.9" rx="8.8" ry="18.8" transform="rotate(-24 1388.7 140.9)" fill="url(#shadeG)"/>
<ellipse cx="1386.5" cy="135.2" rx="3.9" ry="6.6" transform="rotate(-24 1388.7 140.9)" fill="#c8d0a0" opacity="0.35"/>
<ellipse cx="1356.5" cy="178.9" rx="10.9" ry="17.8" transform="rotate(20 1356.5 178.9)" fill="#7c8a48"/>
<ellipse cx="1356.5" cy="178.9" rx="10.9" ry="17.8" transform="rotate(20 1356.5 178.9)" fill="url(#shadeG)"/>
<ellipse cx="1353.8" cy="173.5" rx="4.9" ry="6.2" transform="rotate(20 1356.5 178.9)" fill="#c8d0a0" opacity="0.35"/>
<ellipse cx="1344.0" cy="123.8" rx="9.2" ry="24.9" transform="rotate(20 1344.0 123.8)" fill="#7a3a8a"/>
<ellipse cx="1344.0" cy="123.8" rx="9.2" ry="24.9" transform="rotate(20 1344.0 123.8)" fill="url(#shadeG)"/>
<ellipse cx="1341.7" cy="116.4" rx="4.1" ry="8.7" transform="rotate(20 1344.0 123.8)" fill="#c8d0a0" opacity="0.35"/>
<ellipse cx="1306.8" cy="46.3" rx="9.9" ry="24.8" transform="rotate(20 1306.8 46.3)" fill="#a8b07c"/>
<ellipse cx="1306.8" cy="46.3" rx="9.9" ry="24.8" transform="rotate(20 1306.8 46.3)" fill="url(#shadeG)"/>
<ellipse cx="1304.4" cy="38.9" rx="4.5" ry="8.7" transform="rotate(20 1306.8 46.3)" fill="#c8d0a0" opacity="0.35"/>
<ellipse cx="1282.6" cy="115.6" rx="8.7" ry="18.4" transform="rotate(12 1282.6 115.6)" fill="#6a2a7a"/>
<ellipse cx="1282.6" cy="115.6" rx="8.7" ry="18.4" transform="rotate(12 1282.6 115.6)" fill="url(#shadeG)"/>
<ellipse cx="1280.4" cy="110.1" rx="3.9" ry="6.4" transform="rotate(12 1282.6 115.6)" fill="#c8d0a0" opacity="0.35"/>
<ellipse cx="1390.7" cy="63.3" rx="11.1" ry="21.3" transform="rotate(-19 1390.7 63.3)" fill="#98a860"/>
<ellipse cx="1390.7" cy="63.3" rx="11.1" ry="21.3" transform="rotate(-19 1390.7 63.3)" fill="url(#shadeG)"/>
<ellipse cx="1387.9" cy="56.9" rx="5.0" ry="7.5" transform="rotate(-19 1390.7 63.3)" fill="#c8d0a0" opacity="0.35"/>
<ellipse cx="1328.4" cy="180.2" rx="11.5" ry="20.9" transform="rotate(-5 1328.4 180.2)" fill="#b0b488"/>
<ellipse cx="1328.4" cy="180.2" rx="11.5" ry="20.9" transform="rotate(-5 1328.4 180.2)" fill="url(#shadeG)"/>
<ellipse cx="1325.5" cy="173.9" rx="5.2" ry="7.3" transform="rotate(-5 1328.4 180.2)" fill="#c8d0a0" opacity="0.35"/>
<ellipse cx="1279.2" cy="203.3" rx="10.5" ry="23.9" transform="rotate(0 1279.2 203.3)" fill="#7c8a48"/>
<ellipse cx="1279.2" cy="203.3" rx="10.5" ry="23.9" transform="rotate(0 1279.2 203.3)" fill="url(#shadeG)"/>
<ellipse cx="1276.6" cy="196.2" rx="4.7" ry="8.4" transform="rotate(0 1279.2 203.3)" fill="#c8d0a0" opacity="0.35"/>
<ellipse cx="1359.6" cy="79.5" rx="8.5" ry="24.0" transform="rotate(21 1359.6 79.5)" fill="#7a3a8a"/>
<ellipse cx="1359.6" cy="79.5" rx="8.5" ry="24.0" transform="rotate(21 1359.6 79.5)" fill="url(#shadeG)"/>
<ellipse cx="1357.5" cy="72.3" rx="3.8" ry="8.4" transform="rotate(21 1359.6 79.5)" fill="#c8d0a0" opacity="0.35"/>
<ellipse cx="1331.0" cy="61.7" rx="11.8" ry="17.3" transform="rotate(24 1331.0 61.7)" fill="#7a3a8a"/>
<ellipse cx="1331.0" cy="61.7" rx="11.8" ry="17.3" transform="rotate(24 1331.0 61.7)" fill="url(#shadeG)"/>
<ellipse cx="1328.0" cy="56.5" rx="5.3" ry="6.1" transform="rotate(24 1331.0 61.7)" fill="#c8d0a0" opacity="0.35"/>
<ellipse cx="1383.3" cy="173.8" rx="11.9" ry="21.3" transform="rotate(-24 1383.3 173.8)" fill="#8a9a50"/>
<ellipse cx="1383.3" cy="173.8" rx="11.9" ry="21.3" transform="rotate(-24 1383.3 173.8)" fill="url(#shadeG)"/>
<ellipse cx="1380.4" cy="167.4" rx="5.3" ry="7.5" transform="rotate(-24 1383.3 173.8)" fill="#c8d0a0" opacity="0.35"/>
<ellipse cx="1340.0" cy="153.1" rx="10.6" ry="23.3" transform="rotate(15 1340.0 153.1)" fill="#6a2a7a"/>
<ellipse cx="1340.0" cy="153.1" rx="10.6" ry="23.3" transform="rotate(15 1340.0 153.1)" fill="url(#shadeG)"/>
<ellipse cx="1337.4" cy="146.1" rx="4.7" ry="8.1" transform="rotate(15 1340.0 153.1)" fill="#c8d0a0" opacity="0.35"/>
<ellipse cx="1325.6" cy="53.5" rx="9.3" ry="23.4" transform="rotate(-6 1325.6 53.5)" fill="#8a9a50"/>
<ellipse cx="1325.6" cy="53.5" rx="9.3" ry="23.4" transform="rotate(-6 1325.6 53.5)" fill="url(#shadeG)"/>
<ellipse cx="1323.3" cy="46.5" rx="4.2" ry="8.2" transform="rotate(-6 1325.6 53.5)" fill="#c8d0a0" opacity="0.35"/>
<ellipse cx="1330.8" cy="145.9" rx="11.8" ry="21.8" transform="rotate(21 1330.8 145.9)" fill="#9aac5c"/>
<ellipse cx="1330.8" cy="145.9" rx="11.8" ry="21.8" transform="rotate(21 1330.8 145.9)" fill="url(#shadeG)"/>
<ellipse cx="1327.9" cy="139.3" rx="5.3" ry="7.6" transform="rotate(21 1330.8 145.9)" fill="#c8d0a0" opacity="0.35"/>
<ellipse cx="1279.7" cy="27.8" rx="8.1" ry="19.9" transform="rotate(-19 1279.7 27.8)" fill="#7a3a8a"/>
<ellipse cx="1279.7" cy="27.8" rx="8.1" ry="19.9" transform="rotate(-19 1279.7 27.8)" fill="url(#shadeG)"/>
<ellipse cx="1277.7" cy="21.8" rx="3.7" ry="7.0" transform="rotate(-19 1279.7 27.8)" fill="#c8d0a0" opacity="0.35"/>
<ellipse cx="1263.3" cy="111.8" rx="9.2" ry="21.7" transform="rotate(-1 1263.3 111.8)" fill="#a8b07c"/>
<ellipse cx="1263.3" cy="111.8" rx="9.2" ry="21.7" transform="rotate(-1 1263.3 111.8)" fill="url(#shadeG)"/>
<ellipse cx="1261.0" cy="105.3" rx="4.1" ry="7.6" transform="rotate(-1 1263.3 111.8)" fill="#c8d0a0" opacity="0.35"/>
<ellipse cx="1313.3" cy="174.8" rx="8.7" ry="19.8" transform="rotate(-22 1313.3 174.8)" fill="#b0b488"/>
<ellipse cx="1313.3" cy="174.8" rx="8.7" ry="19.8" transform="rotate(-22 1313.3 174.8)" fill="url(#shadeG)"/>
<ellipse cx="1311.2" cy="168.9" rx="3.9" ry="6.9" transform="rotate(-22 1313.3 174.8)" fill="#c8d0a0" opacity="0.35"/>
<ellipse cx="1389.9" cy="195.4" rx="8.5" ry="18.8" transform="rotate(-13 1389.9 195.4)" fill="#8a9a50"/>
<ellipse cx="1389.9" cy="195.4" rx="8.5" ry="18.8" transform="rotate(-13 1389.9 195.4)" fill="url(#shadeG)"/>
<ellipse cx="1387.7" cy="189.7" rx="3.8" ry="6.6" transform="rotate(-13 1389.9 195.4)" fill="#c8d0a0" opacity="0.35"/>
<ellipse cx="1259.1" cy="159.4" rx="8.6" ry="23.0" transform="rotate(-11 1259.1 159.4)" fill="#98a860"/>
<ellipse cx="1259.1" cy="159.4" rx="8.6" ry="23.0" transform="rotate(-11 1259.1 159.4)" fill="url(#shadeG)"/>
<ellipse cx="1257.0" cy="152.5" rx="3.9" ry="8.0" transform="rotate(-11 1259.1 159.4)" fill="#c8d0a0" opacity="0.35"/>
<ellipse cx="1285.2" cy="66.8" rx="10.7" ry="24.9" transform="rotate(20 1285.2 66.8)" fill="#6a2a7a"/>
<ellipse cx="1285.2" cy="66.8" rx="10.7" ry="24.9" transform="rotate(20 1285.2 66.8)" fill="url(#shadeG)"/>
<ellipse cx="1282.6" cy="59.3" rx="4.8" ry="8.7" transform="rotate(20 1285.2 66.8)" fill="#c8d0a0" opacity="0.35"/>
<ellipse cx="1259.0" cy="174.1" rx="10.5" ry="19.2" transform="rotate(-6 1259.0 174.1)" fill="#b0b488"/>
<ellipse cx="1259.0" cy="174.1" rx="10.5" ry="19.2" transform="rotate(-6 1259.0 174.1)" fill="url(#shadeG)"/>
<ellipse cx="1256.4" cy="168.3" rx="4.7" ry="6.7" transform="rotate(-6 1259.0 174.1)" fill="#c8d0a0" opacity="0.35"/>
<ellipse cx="1294.2" cy="41.2" rx="9.6" ry="19.6" transform="rotate(-11 1294.2 41.2)" fill="#7c8a48"/>
<ellipse cx="1294.2" cy="41.2" rx="9.6" ry="19.6" transform="rotate(-11 1294.2 41.2)" fill="url(#shadeG)"/>
<ellipse cx="1291.8" cy="35.3" rx="4.3" ry="6.9" transform="rotate(-11 1294.2 41.2)" fill="#c8d0a0" opacity="0.35"/>
<ellipse cx="1324.4" cy="31.8" rx="11.5" ry="22.0" transform="rotate(-16 1324.4 31.8)" fill="#5a2a5a"/>
<ellipse cx="1324.4" cy="31.8" rx="11.5" ry="22.0" transform="rotate(-16 1324.4 31.8)" fill="url(#shadeG)"/>
<ellipse cx="1321.5" cy="25.2" rx="5.2" ry="7.7" transform="rotate(-16 1324.4 31.8)" fill="#c8d0a0" opacity="0.35"/>
<ellipse cx="1344.2" cy="76.2" rx="10.5" ry="18.5" transform="rotate(-10 1344.2 76.2)" fill="#98a860"/>
<ellipse cx="1344.2" cy="76.2" rx="10.5" ry="18.5" transform="rotate(-10 1344.2 76.2)" fill="url(#shadeG)"/>
<ellipse cx="1341.6" cy="70.6" rx="4.7" ry="6.5" transform="rotate(-10 1344.2 76.2)" fill="#c8d0a0" opacity="0.35"/>
<ellipse cx="1276.0" cy="155.4" rx="11.8" ry="24.1" transform="rotate(-23 1276.0 155.4)" fill="#9aac5c"/>
<ellipse cx="1276.0" cy="155.4" rx="11.8" ry="24.1" transform="rotate(-23 1276.0 155.4)" fill="url(#shadeG)"/>
<ellipse cx="1273.1" cy="148.2" rx="5.3" ry="8.4" transform="rotate(-23 1276.0 155.4)" fill="#c8d0a0" opacity="0.35"/>
<ellipse cx="1257.4" cy="42.3" rx="8.1" ry="25.1" transform="rotate(19 1257.4 42.3)" fill="#8a9a50"/>
<ellipse cx="1257.4" cy="42.3" rx="8.1" ry="25.1" transform="rotate(19 1257.4 42.3)" fill="url(#shadeG)"/>
<ellipse cx="1255.4" cy="34.7" rx="3.7" ry="8.8" transform="rotate(19 1257.4 42.3)" fill="#c8d0a0" opacity="0.35"/>
<ellipse cx="1362.9" cy="192.4" rx="12.0" ry="21.2" transform="rotate(-10 1362.9 192.4)" fill="#7c8a48"/>
<ellipse cx="1362.9" cy="192.4" rx="12.0" ry="21.2" transform="rotate(-10 1362.9 192.4)" fill="url(#shadeG)"/>
<ellipse cx="1360.0" cy="186.0" rx="5.4" ry="7.4" transform="rotate(-10 1362.9 192.4)" fill="#c8d0a0" opacity="0.35"/>
<ellipse cx="1294.9" cy="85.4" rx="9.6" ry="17.9" transform="rotate(24 1294.9 85.4)" fill="#b0b488"/>
<ellipse cx="1294.9" cy="85.4" rx="9.6" ry="17.9" transform="rotate(24 1294.9 85.4)" fill="url(#shadeG)"/>
<ellipse cx="1292.5" cy="80.0" rx="4.3" ry="6.3" transform="rotate(24 1294.9 85.4)" fill="#c8d0a0" opacity="0.35"/>
<ellipse cx="1309.1" cy="37.6" rx="8.9" ry="18.8" transform="rotate(-3 1309.1 37.6)" fill="#b0b488"/>
<ellipse cx="1309.1" cy="37.6" rx="8.9" ry="18.8" transform="rotate(-3 1309.1 37.6)" fill="url(#shadeG)"/>
<ellipse cx="1306.9" cy="32.0" rx="4.0" ry="6.6" transform="rotate(-3 1309.1 37.6)" fill="#c8d0a0" opacity="0.35"/>
<ellipse cx="1295.3" cy="128.2" rx="10.6" ry="21.3" transform="rotate(-10 1295.3 128.2)" fill="#8a9a50"/>
<ellipse cx="1295.3" cy="128.2" rx="10.6" ry="21.3" transform="rotate(-10 1295.3 128.2)" fill="url(#shadeG)"/>
<ellipse cx="1292.7" cy="121.8" rx="4.8" ry="7.5" transform="rotate(-10 1295.3 128.2)" fill="#c8d0a0" opacity="0.35"/>
<ellipse cx="1388.8" cy="83.6" rx="11.8" ry="19.7" transform="rotate(-13 1388.8 83.6)" fill="#8a9a50"/>
<ellipse cx="1388.8" cy="83.6" rx="11.8" ry="19.7" transform="rotate(-13 1388.8 83.6)" fill="url(#shadeG)"/>
<ellipse cx="1385.8" cy="77.7" rx="5.3" ry="6.9" transform="rotate(-13 1388.8 83.6)" fill="#c8d0a0" opacity="0.35"/>
<ellipse cx="1368.7" cy="80.8" rx="11.3" ry="25.1" transform="rotate(17 1368.7 80.8)" fill="#98a860"/>
<ellipse cx="1368.7" cy="80.8" rx="11.3" ry="25.1" transform="rotate(17 1368.7 80.8)" fill="url(#shadeG)"/>
<ellipse cx="1365.9" cy="73.3" rx="5.1" ry="8.8" transform="rotate(17 1368.7 80.8)" fill="#c8d0a0" opacity="0.35"/>
<ellipse cx="1300.7" cy="58.5" rx="11.4" ry="22.2" transform="rotate(-13 1300.7 58.5)" fill="#7a3a8a"/>
<ellipse cx="1300.7" cy="58.5" rx="11.4" ry="22.2" transform="rotate(-13 1300.7 58.5)" fill="url(#shadeG)"/>
<ellipse cx="1297.9" cy="51.8" rx="5.1" ry="7.8" transform="rotate(-13 1300.7 58.5)" fill="#c8d0a0" opacity="0.35"/>
<ellipse cx="1377.8" cy="181.6" rx="11.5" ry="22.4" transform="rotate(-18 1377.8 181.6)" fill="#7a3a8a"/>
<ellipse cx="1377.8" cy="181.6" rx="11.5" ry="22.4" transform="rotate(-18 1377.8 181.6)" fill="url(#shadeG)"/>
<ellipse cx="1374.9" cy="174.9" rx="5.2" ry="7.8" transform="rotate(-18 1377.8 181.6)" fill="#c8d0a0" opacity="0.35"/>
<ellipse cx="1391.7" cy="158.9" rx="9.9" ry="22.3" transform="rotate(-2 1391.7 158.9)" fill="#a8b07c"/>
<ellipse cx="1391.7" cy="158.9" rx="9.9" ry="22.3" transform="rotate(-2 1391.7 158.9)" fill="url(#shadeG)"/>
<ellipse cx="1389.2" cy="152.2" rx="4.4" ry="7.8" transform="rotate(-2 1391.7 158.9)" fill="#c8d0a0" opacity="0.35"/>
<ellipse cx="1305.7" cy="110.2" rx="8.2" ry="25.0" transform="rotate(-23 1305.7 110.2)" fill="#7a3a8a"/>
<ellipse cx="1305.7" cy="110.2" rx="8.2" ry="25.0" transform="rotate(-23 1305.7 110.2)" fill="url(#shadeG)"/>
<ellipse cx="1303.7" cy="102.7" rx="3.7" ry="8.7" transform="rotate(-23 1305.7 110.2)" fill="#c8d0a0" opacity="0.35"/>
<ellipse cx="1357.8" cy="45.6" rx="10.0" ry="23.7" transform="rotate(8 1357.8 45.6)" fill="#b0b488"/>
<ellipse cx="1357.8" cy="45.6" rx="10.0" ry="23.7" transform="rotate(8 1357.8 45.6)" fill="url(#shadeG)"/>
<ellipse cx="1355.3" cy="38.4" rx="4.5" ry="8.3" transform="rotate(8 1357.8 45.6)" fill="#c8d0a0" opacity="0.35"/>
<ellipse cx="1336.7" cy="63.3" rx="10.3" ry="19.0" transform="rotate(-22 1336.7 63.3)" fill="#9aac5c"/>
<ellipse cx="1336.7" cy="63.3" rx="10.3" ry="19.0" transform="rotate(-22 1336.7 63.3)" fill="url(#shadeG)"/>
<ellipse cx="1334.1" cy="57.6" rx="4.6" ry="6.7" transform="rotate(-22 1336.7 63.3)" fill="#c8d0a0" opacity="0.35"/>
<ellipse cx="1273.6" cy="42.3" rx="11.3" ry="19.3" transform="rotate(10 1273.6 42.3)" fill="#a8b07c"/>
<ellipse cx="1273.6" cy="42.3" rx="11.3" ry="19.3" transform="rotate(10 1273.6 42.3)" fill="url(#shadeG)"/>
<ellipse cx="1270.7" cy="36.5" rx="5.1" ry="6.8" transform="rotate(10 1273.6 42.3)" fill="#c8d0a0" opacity="0.35"/>
<ellipse cx="1392.6" cy="110.3" rx="8.4" ry="18.3" transform="rotate(-6 1392.6 110.3)" fill="#7c8a48"/>
<ellipse cx="1392.6" cy="110.3" rx="8.4" ry="18.3" transform="rotate(-6 1392.6 110.3)" fill="url(#shadeG)"/>
<ellipse cx="1390.5" cy="104.8" rx="3.8" ry="6.4" transform="rotate(-6 1392.6 110.3)" fill="#c8d0a0" opacity="0.35"/>
<ellipse cx="1290.8" cy="170.0" rx="9.3" ry="23.9" transform="rotate(18 1290.8 170.0)" fill="#b0b488"/>
<ellipse cx="1290.8" cy="170.0" rx="9.3" ry="23.9" transform="rotate(18 1290.8 170.0)" fill="url(#shadeG)"/>
<ellipse cx="1288.5" cy="162.8" rx="4.2" ry="8.4" transform="rotate(18 1290.8 170.0)" fill="#c8d0a0" opacity="0.35"/>
<ellipse cx="1341.2" cy="195.7" rx="11.7" ry="18.8" transform="rotate(-18 1341.2 195.7)" fill="#a8b07c"/>
<ellipse cx="1341.2" cy="195.7" rx="11.7" ry="18.8" transform="rotate(-18 1341.2 195.7)" fill="url(#shadeG)"/>
<ellipse cx="1338.2" cy="190.1" rx="5.3" ry="6.6" transform="rotate(-18 1341.2 195.7)" fill="#c8d0a0" opacity="0.35"/>
<ellipse cx="1341.3" cy="105.2" rx="12.0" ry="21.1" transform="rotate(-18 1341.3 105.2)" fill="#a8b07c"/>
<ellipse cx="1341.3" cy="105.2" rx="12.0" ry="21.1" transform="rotate(-18 1341.3 105.2)" fill="url(#shadeG)"/>
<ellipse cx="1338.3" cy="98.8" rx="5.4" ry="7.4" transform="rotate(-18 1341.3 105.2)" fill="#c8d0a0" opacity="0.35"/>
<ellipse cx="1310.6" cy="212.5" rx="11.0" ry="20.9" transform="rotate(13 1310.6 212.5)" fill="#8a9a50"/>
<ellipse cx="1310.6" cy="212.5" rx="11.0" ry="20.9" transform="rotate(13 1310.6 212.5)" fill="url(#shadeG)"/>
<ellipse cx="1307.8" cy="206.2" rx="4.9" ry="7.3" transform="rotate(13 1310.6 212.5)" fill="#c8d0a0" opacity="0.35"/>
<ellipse cx="1388.4" cy="47.9" rx="9.9" ry="22.6" transform="rotate(21 1388.4 47.9)" fill="#7c8a48"/>
<ellipse cx="1388.4" cy="47.9" rx="9.9" ry="22.6" transform="rotate(21 1388.4 47.9)" fill="url(#shadeG)"/>
<ellipse cx="1386.0" cy="41.2" rx="4.5" ry="7.9" transform="rotate(21 1388.4 47.9)" fill="#c8d0a0" opacity="0.35"/>
<ellipse cx="1368.4" cy="156.3" rx="9.6" ry="24.5" transform="rotate(-4 1368.4 156.3)" fill="#98a860"/>
<ellipse cx="1368.4" cy="156.3" rx="9.6" ry="24.5" transform="rotate(-4 1368.4 156.3)" fill="url(#shadeG)"/>
<ellipse cx="1366.0" cy="149.0" rx="4.3" ry="8.6" transform="rotate(-4 1368.4 156.3)" fill="#c8d0a0" opacity="0.35"/>
<ellipse cx="1360.7" cy="139.0" rx="9.3" ry="20.2" transform="rotate(-2 1360.7 139.0)" fill="#9aac5c"/>
<ellipse cx="1360.7" cy="139.0" rx="9.3" ry="20.2" transform="rotate(-2 1360.7 139.0)" fill="url(#shadeG)"/>
<ellipse cx="1358.4" cy="132.9" rx="4.2" ry="7.1" transform="rotate(-2 1360.7 139.0)" fill="#c8d0a0" opacity="0.35"/>
<ellipse cx="1366.4" cy="195.6" rx="11.5" ry="25.1" transform="rotate(-13 1366.4 195.6)" fill="#5a2a5a"/>
<ellipse cx="1366.4" cy="195.6" rx="11.5" ry="25.1" transform="rotate(-13 1366.4 195.6)" fill="url(#shadeG)"/>
<ellipse cx="1363.6" cy="188.0" rx="5.2" ry="8.8" transform="rotate(-13 1366.4 195.6)" fill="#c8d0a0" opacity="0.35"/>
<ellipse cx="1374.7" cy="213.3" rx="10.2" ry="25.0" transform="rotate(1 1374.7 213.3)" fill="#7c8a48"/>
<ellipse cx="1374.7" cy="213.3" rx="10.2" ry="25.0" transform="rotate(1 1374.7 213.3)" fill="url(#shadeG)"/>
<ellipse cx="1372.1" cy="205.8" rx="4.6" ry="8.8" transform="rotate(1 1374.7 213.3)" fill="#c8d0a0" opacity="0.35"/>
</g>
<g stroke="#f4f4f4" stroke-width="1.8">
<line x1="1390.8" y1="215.2" x2="1390.80" y2="23.50"/>
<line x1="1390.8" y1="215.2" x2="1520.98" y2="79.65"/>
<line x1="1390.8" y1="215.2" x2="1574.90" y2="215.20"/>
<line x1="1390.8" y1="215.2" x2="1520.98" y2="350.75"/>
<line x1="1390.8" y1="215.2" x2="1390.80" y2="406.90"/>
<line x1="1390.8" y1="215.2" x2="1260.62" y2="350.75"/>
<line x1="1390.8" y1="215.2" x2="1206.70" y2="215.20"/>
<line x1="1390.8" y1="215.2" x2="1260.62" y2="79.65"/>
</g>
<ellipse cx="1390.8" cy="215.2" rx="184.1" ry="191.7" fill="none" stroke="#f0f0f0" stroke-width="1.6"/>
<ellipse cx="1390.8" cy="215.2" rx="185.4" ry="193.0" fill="none" stroke="#9a9a9a" stroke-width="1.2"/>
<g stroke="#1a1a1a" stroke-width="1.7" stroke-linecap="round" fill="none">
<line x1="748.2" y1="141.5" x2="748.2" y2="170.1"/>
<line x1="754.4" y1="141.5" x2="754.4" y2="170.1"/>
<line x1="751.3" y1="170.8" x2="726.8" y2="184.9"/>
<line x1="691.4" y1="175.9" x2="705.1" y2="184.4"/>
<line x1="716.8" y1="204.0" x2="716.8" y2="232.3"/>
<line x1="716.8" y1="232.3" x2="689.4" y2="245.7"/>
<line x1="718.2" y1="237.2" x2="692.4" y2="250.8"/>
<line x1="716.8" y1="232.3" x2="741.1" y2="246.9"/>
<line x1="751.7" y1="265.2" x2="751.7" y2="283.4"/>
<line x1="762.4" y1="246.9" x2="786.8" y2="232.9"/>
<line x1="786.8" y1="232.9" x2="786.6" y2="190.4"/>
<line x1="792.3" y1="195.7" x2="792.3" y2="227.4"/>
<line x1="786.6" y1="190.4" x2="751.3" y2="170.8"/>
<line x1="786.6" y1="190.4" x2="815.2" y2="181.2"/>
<line x1="829.0" y1="166.1" x2="834.2" y2="150.2"/>
<line x1="833.2" y1="189.4" x2="849.0" y2="212.0"/>
<line x1="849.0" y1="212.0" x2="833.7" y2="235.3"/>
<line x1="841.6" y1="212.8" x2="828.2" y2="232.3"/>
<line x1="786.8" y1="232.9" x2="814.2" y2="242.0"/>
</g>
<g font-family="Liberation Sans, sans-serif" font-size="24" fill="#1a1a1a" class="sans">
<text class="sans" x="751.5" y="137.6" text-anchor="middle">O</text>
<text class="sans" x="716.3" y="200.3" text-anchor="middle">N</text>
<text class="sans" x="681.5" y="263.7" text-anchor="middle">O</text>
<text class="sans" x="751.8" y="263.4" text-anchor="middle">N</text>
<text class="sans" x="825" y="187.3" text-anchor="middle">N</text>
<text class="sans" x="825.2" y="255.5" text-anchor="middle">N</text>
<text class="sans" x="645" y="179.7">H<tspan font-size="15" dy="5">3</tspan><tspan dy="-5">C</tspan></text>
<text class="sans" x="742.5" y="304.8">CH<tspan font-size="15" dy="5">3</tspan></text>
<text class="sans" x="828.4" y="148.2">CH<tspan font-size="15" dy="5">3</tspan></text>
</g>
<g transform="translate(0,0)">
<g stroke="#111" stroke-width="1.75" stroke-linecap="butt" fill="none">
<line x1="919.7" y1="492.2" x2="940.2" y2="481.5"/>
<line x1="938.7" y1="471.1" x2="938.7" y2="481.5"/>
<line x1="942.7" y1="471.1" x2="942.7" y2="481.5"/>
<line x1="940.2" y1="481.5" x2="970.1" y2="497.8"/>
<line x1="970.1" y1="497.8" x2="996.8" y2="489.0"/>
<line x1="1012.4" y1="495.6" x2="1027.7" y2="517.9"/>
<line x1="1027.7" y1="517.9" x2="1012.4" y2="539.4"/>
<line x1="1020.3" y1="519.5" x2="1008.0" y2="537.2"/>
<line x1="970.9" y1="534.9" x2="996.8" y2="546.1"/>
<line x1="970.1" y1="497.8" x2="970.9" y2="534.9"/>
<line x1="965.4" y1="500.8" x2="965.6" y2="533.4"/>
<line x1="970.9" y1="534.9" x2="950.9" y2="547.1"/>
<line x1="910.5" y1="534.2" x2="931.6" y2="548.0"/>
<line x1="910.5" y1="506.7" x2="910.5" y2="534.2"/>
<line x1="909.3" y1="533.2" x2="898.9" y2="542.3"/>
<line x1="911.9" y1="536.6" x2="901.9" y2="545.6"/>
<line x1="893.8" y1="482.3" x2="901.2" y2="489.0"/>
<line x1="1005.7" y1="472.6" x2="1005.7" y2="460.8"/>
</g>
<g font-family="Liberation Sans, sans-serif" font-weight="bold" font-size="16.5" fill="#111">
<text class="sans" x="911" y="503.1" text-anchor="middle">N</text>
<text class="sans" x="940.9" y="467.3" text-anchor="middle">O</text>
<text class="sans" x="1006.9" y="492" text-anchor="middle">N</text>
<text class="sans" x="1006.9" y="555.1" text-anchor="middle">N</text>
<text class="sans" x="941.6" y="557.3" text-anchor="middle">N</text>
<text class="sans" x="893" y="558" text-anchor="middle">O</text>
<text class="sans" x="857.6" y="480.9">CH<tspan font-size="13" dy="4">3</tspan></text>
<text class="sans" x="999.5" y="455.7">CH<tspan font-size="13" dy="4">3</tspan></text>
<text class="sans" x="941.8" y="575.1" text-anchor="middle">H</text>
</g></g>
<g transform="translate(-1.9,166.9)">
<g stroke="#111" stroke-width="1.75" stroke-linecap="butt" fill="none">
<line x1="919.7" y1="492.2" x2="940.2" y2="481.5"/>
<line x1="938.7" y1="471.1" x2="938.7" y2="481.5"/>
<line x1="942.7" y1="471.1" x2="942.7" y2="481.5"/>
<line x1="940.2" y1="481.5" x2="970.1" y2="497.8"/>
<line x1="970.1" y1="497.8" x2="996.8" y2="489.0"/>
<line x1="1012.4" y1="495.6" x2="1027.7" y2="517.9"/>
<line x1="1027.7" y1="517.9" x2="1012.4" y2="539.4"/>
<line x1="1020.3" y1="519.5" x2="1008.0" y2="537.2"/>
<line x1="970.9" y1="534.9" x2="996.8" y2="546.1"/>
<line x1="970.1" y1="497.8" x2="970.9" y2="534.9"/>
<line x1="965.4" y1="500.8" x2="965.6" y2="533.4"/>
<line x1="970.9" y1="534.9" x2="950.9" y2="547.1"/>
<line x1="910.5" y1="534.2" x2="931.6" y2="548.0"/>
<line x1="910.5" y1="506.7" x2="910.5" y2="534.2"/>
<line x1="909.3" y1="533.2" x2="898.9" y2="542.3"/>
<line x1="911.9" y1="536.6" x2="901.9" y2="545.6"/>
<line x1="893.8" y1="482.3" x2="901.2" y2="489.0"/>
<line x1="1005.7" y1="472.6" x2="1005.7" y2="460.8"/>
<line x1="940.0" y1="562.4" x2="940.0" y2="571.0"/>
</g>
<g font-family="Liberation Sans, sans-serif" font-weight="bold" font-size="16.5" fill="#111">
<text class="sans" x="911" y="503.1" text-anchor="middle">N</text>
<text class="sans" x="940.9" y="467.3" text-anchor="middle">O</text>
<text class="sans" x="1006.9" y="492" text-anchor="middle">N</text>
<text class="sans" x="1006.9" y="555.1" text-anchor="middle">N</text>
<text class="sans" x="941.6" y="557.3" text-anchor="middle">N</text>
<text class="sans" x="893" y="558" text-anchor="middle">O</text>
<text class="sans" x="884.7" y="476.3" text-anchor="middle">H</text>
<text class="sans" x="999.5" y="455.7">CH<tspan font-size="13" dy="4">3</tspan></text>
<text class="sans" x="934" y="586.6">CH<tspan font-size="13" dy="4">3</tspan></text>
</g></g>
<g transform="translate(4.2,326)">
<g stroke="#111" stroke-width="1.75" stroke-linecap="butt" fill="none">
<line x1="919.7" y1="492.2" x2="940.2" y2="481.5"/>
<line x1="938.7" y1="471.1" x2="938.7" y2="481.5"/>
<line x1="942.7" y1="471.1" x2="942.7" y2="481.5"/>
<line x1="940.2" y1="481.5" x2="970.1" y2="497.8"/>
<line x1="970.1" y1="497.8" x2="996.8" y2="489.0"/>
<line x1="1012.4" y1="495.6" x2="1027.7" y2="517.9"/>
<line x1="1027.7" y1="517.9" x2="1012.4" y2="539.4"/>
<line x1="1020.3" y1="519.5" x2="1008.0" y2="537.2"/>
<line x1="970.9" y1="534.9" x2="996.8" y2="546.1"/>
<line x1="970.1" y1="497.8" x2="970.9" y2="534.9"/>
<line x1="965.4" y1="500.8" x2="965.6" y2="533.4"/>
<line x1="970.9" y1="534.9" x2="950.9" y2="547.1"/>
<line x1="910.5" y1="534.2" x2="931.6" y2="548.0"/>
<line x1="910.5" y1="506.7" x2="910.5" y2="534.2"/>
<line x1="909.3" y1="533.2" x2="898.9" y2="542.3"/>
<line x1="911.9" y1="536.6" x2="901.9" y2="545.6"/>
<line x1="893.8" y1="482.3" x2="901.2" y2="489.0"/>
<line x1="940.0" y1="562.4" x2="940.0" y2="571.0"/>
</g>
<g font-family="Liberation Sans, sans-serif" font-weight="bold" font-size="16.5" fill="#111">
<text class="sans" x="911" y="503.1" text-anchor="middle">N</text>
<text class="sans" x="940.9" y="467.3" text-anchor="middle">O</text>
<text class="sans" x="1006.9" y="492" text-anchor="middle">N</text>
<text class="sans" x="1006.9" y="555.1" text-anchor="middle">N</text>
<text class="sans" x="941.6" y="557.3" text-anchor="middle">N</text>
<text class="sans" x="893" y="558" text-anchor="middle">O</text>
<text class="sans" x="857.6" y="480.9">CH<tspan font-size="13" dy="4">3</tspan></text>
<text class="sans" x="1007" y="475.5" text-anchor="middle">H</text>
<text class="sans" x="934" y="586.6">CH<tspan font-size="13" dy="4">3</tspan></text>
</g></g>
<text x="174.6" y="467.7" font-size="25.3" font-weight="normal" fill="#000" >Hepatic</text>
<text x="174.6" y="497.5" font-size="25.3" font-weight="normal" fill="#000" >metabolism</text>
<text x="438.2" y="620.5" font-size="32.5" font-weight="normal" fill="#000" >Produce three primary</text>
<text x="438.2" y="659.2" font-size="32.5" font-weight="normal" fill="#000" >metabolites under the</text>
<text x="438.2" y="697.8" font-size="32.5" font-weight="normal" fill="#000" >action of P450 enzyme</text>
<text x="1057" y="541.0" font-size="32.65" font-weight="normal" fill="#000" >paraxanthine (1,7-dimethylxanthine) (84%)</text>
<text x="1050" y="674.5" font-size="32.65" font-weight="normal" fill="#000" >theobromine (3,7-dimethylxanthine) (12%)</text>
<text x="1050.5" y="835.3" font-size="32.65" font-weight="normal" fill="#000" >theophylline (1,3-dimethylxanthine) (4%)</text>
<g transform="translate(700.8,381.8) scale(0.89,1)"><text x="0" y="0" font-size="39" font-weight="bold" letter-spacing="0.9">Caffeine</text></g>
<g transform="translate(401.8,265.4) rotate(-19.3)"><text x="0" y="0" font-size="32.5">Oral intake</text></g>
<g transform="translate(377.5,354.5) rotate(-16.5)"><text x="0" y="0" font-size="32.2">Quickly absorbed</text></g>
<g transform="translate(389.8,390.4) rotate(-16.5)"><text x="0" y="0" font-size="32.2">by the stomach and</text></g>
<g transform="translate(400.5,425) rotate(-16.5)"><text x="0" y="0" font-size="32.2">small intestine</text></g>
<text x="1213.8" y="33.5" font-size="25.8" font-weight="bold" fill="#000" >kola nuts</text>
<text x="1465.3" y="33.5" font-size="25.8" font-weight="bold" fill="#000" >coffee beans</text>
<text x="1091.3" y="124.1" font-size="25.8" font-weight="bold" fill="#000" >cocoa beans</text>
<text x="1567.8" y="126.3" font-size="25.8" font-weight="bold" fill="#000" >tea leaves</text>
<text x="1582.8" y="288.6" font-size="25.8" font-weight="bold" fill="#000" >guarana</text>
<text x="1063.3" y="303.4" font-size="25.8" font-weight="bold" fill="#000" >energy drinks</text>
<text x="1234.8" y="430.1" font-size="25.8" font-weight="bold" fill="#000" >soft drinks</text>
<text x="1442.3" y="427.4" font-size="25.8" font-weight="bold" fill="#000" >chocolate</text>
</svg>
</body></html>
